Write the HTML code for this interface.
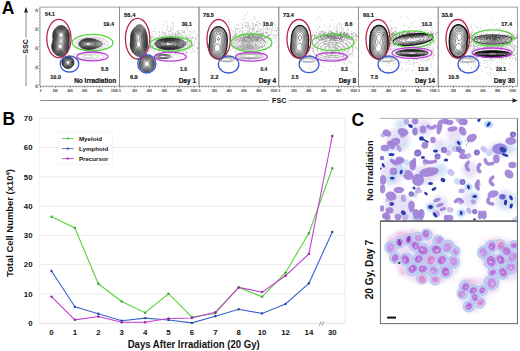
<!DOCTYPE html>
<html><head><meta charset="utf-8"><style>
html,body{margin:0;padding:0;background:#fff;width:520px;height:351px;overflow:hidden}
svg{display:block}
text{font-family:"Liberation Sans",sans-serif;font-weight:bold;fill:#111}
.tk{font-size:7.8px}
.lg{font-size:6.2px}
.ax{font-size:9.5px}
.ax9{font-size:9px}
.axs{font-size:7.1px}
.tiny{font-size:3px;fill:#222}
.lab{font-size:17.5px;fill:#000}
.pv{font-size:6.2px;stroke:#111;stroke-width:0.15}
.dl{font-size:7.6px;stroke:#111;stroke-width:0.2}
</style></head><body>
<svg width="520" height="351" viewBox="0 0 520 351">
<text x="1.8" y="13.7" class="lab">A</text>
<text x="2.4" y="124.5" class="lab">B</text>
<text x="351.6" y="125.7" class="lab">C</text>
<path d="M61.8,37.4 L60.8,37.5 L60.0,37.2 L59.5,36.7 L59.2,36.1 L59.0,35.4 L59.0,34.6 L59.3,33.9 L59.8,33.3 L60.5,32.9 L61.2,32.8 L62.0,33.1 L62.5,33.5 L62.9,34.1 L63.1,34.9 L63.0,35.8 L62.8,36.4 L62.2,37.1 L61.8,37.4Z M60.2,48.9 L59.5,48.7 L58.8,48.4 L58.4,47.9 L58.1,47.1 L58.1,46.1 L58.3,45.4 L58.8,44.7 L59.2,44.3 L60.0,44.0 L61.0,44.1 L61.5,44.4 L62.0,45.0 L62.2,45.7 L62.3,46.6 L62.2,47.4 L61.8,48.1 L61.2,48.5 L60.5,48.8Z M61.5,38.9 L60.6,38.9 L60.0,38.6 L59.4,38.1 L59.0,37.6 L58.5,36.9 L58.2,36.1 L58.1,35.4 L58.2,34.4 L58.4,33.6 L58.8,33.1 L59.2,32.6 L60.0,32.1 L60.8,31.9 L61.8,32.0 L62.5,32.3 L63.0,32.7 L63.5,33.4 L63.8,34.0 L63.9,34.9 L63.9,35.9 L63.7,36.6 L63.3,37.4 L62.9,37.9 L62.4,38.4 L61.8,38.8Z M61.0,49.7 L60.0,49.8 L59.1,49.6 L58.5,49.3 L58.0,48.8 L57.5,48.1 L57.2,47.4 L57.1,46.6 L57.2,45.7 L57.5,45.0 L57.9,44.4 L58.2,43.8 L58.8,43.4 L59.5,42.9 L60.2,42.6 L60.9,42.6 L61.5,42.9 L62.1,43.4 L62.5,43.9 L62.9,44.6 L63.1,45.4 L63.2,46.4 L63.1,47.4 L62.8,48.1 L62.5,48.6 L62.0,49.1 L61.2,49.6Z M61.2,50.4 L60.2,50.5 L59.2,50.4 L58.5,50.1 L58.0,49.8 L57.5,49.3 L57.0,48.6 L56.7,48.1 L56.5,47.1 L56.5,46.4 L56.6,45.6 L56.8,44.9 L57.2,44.1 L57.5,43.6 L58.0,42.9 L58.5,42.4 L59.0,41.9 L59.4,41.4 L59.8,40.7 L59.7,40.1 L59.2,39.4 L58.9,38.9 L58.5,38.3 L58.1,37.6 L57.8,36.9 L57.6,36.1 L57.5,35.4 L57.5,34.5 L57.7,33.6 L58.0,33.0 L58.5,32.4 L59.0,31.9 L59.5,31.6 L60.2,31.3 L61.2,31.2 L62.0,31.4 L62.8,31.7 L63.3,32.1 L63.8,32.6 L64.2,33.4 L64.5,34.1 L64.6,34.9 L64.6,35.9 L64.4,36.6 L64.1,37.4 L63.8,38.1 L63.4,38.6 L63.0,39.2 L62.5,39.9 L62.2,40.4 L62.2,41.4 L62.5,42.0 L62.9,42.6 L63.2,43.4 L63.5,43.9 L63.8,44.7 L63.9,45.6 L63.9,46.6 L63.8,47.6 L63.5,48.3 L63.2,48.9 L62.8,49.4 L62.2,49.9 L61.5,50.3Z M60.8,51.1 L59.8,51.1 L59.0,51.0 L58.2,50.7 L57.7,50.4 L57.2,49.9 L56.8,49.3 L56.3,48.6 L56.1,47.9 L55.9,47.1 L55.9,46.1 L56.1,45.4 L56.3,44.6 L56.6,43.9 L57.0,43.2 L57.4,42.6 L57.8,42.1 L58.2,41.4 L58.4,40.6 L58.3,39.6 L58.0,38.9 L57.7,38.4 L57.4,37.6 L57.2,36.9 L57.0,36.1 L56.9,35.1 L57.0,34.2 L57.2,33.4 L57.5,32.8 L58.0,32.1 L58.4,31.6 L59.0,31.2 L59.7,30.9 L60.5,30.6 L61.1,30.6 L62.0,30.7 L62.8,31.0 L63.3,31.4 L63.9,31.9 L64.3,32.4 L64.7,33.1 L65.0,33.9 L65.1,34.6 L65.2,35.6 L65.0,36.6 L64.8,37.4 L64.5,38.1 L64.2,38.7 L63.9,39.4 L63.6,40.1 L63.5,40.9 L63.5,41.6 L63.8,42.4 L64.0,43.2 L64.2,44.0 L64.4,44.9 L64.5,45.6 L64.5,46.6 L64.4,47.4 L64.2,48.1 L63.9,48.9 L63.5,49.4 L63.0,50.0 L62.5,50.4 L61.8,50.8 L61.0,51.1Z M61.0,51.6 L60.0,51.7 L59.2,51.6 L58.4,51.4 L57.8,51.0 L57.2,50.6 L56.7,50.1 L56.2,49.5 L55.9,48.9 L55.6,48.1 L55.4,47.4 L55.4,46.4 L55.5,45.5 L55.7,44.6 L56.0,43.9 L56.3,43.4 L56.7,42.6 L57.0,42.1 L57.4,41.4 L57.6,40.6 L57.5,39.6 L57.3,38.9 L57.0,38.1 L56.8,37.4 L56.6,36.6 L56.5,35.9 L56.4,34.9 L56.5,34.1 L56.8,33.2 L57.0,32.6 L57.5,31.9 L58.0,31.4 L58.5,30.9 L59.0,30.6 L59.8,30.3 L60.5,30.1 L61.5,30.1 L62.2,30.2 L63.0,30.5 L63.5,30.9 L64.1,31.4 L64.5,31.9 L65.0,32.6 L65.3,33.1 L65.5,33.9 L65.6,34.9 L65.6,35.9 L65.5,36.7 L65.3,37.6 L65.0,38.4 L64.8,39.1 L64.5,39.9 L64.4,40.6 L64.4,41.6 L64.5,42.4 L64.7,43.4 L64.9,44.1 L65.0,44.9 L65.1,45.9 L65.0,46.9 L64.9,47.6 L64.7,48.4 L64.3,49.1 L64.0,49.7 L63.5,50.3 L63.0,50.7 L62.5,51.1 L61.8,51.4 L61.0,51.6Z M61.2,52.1 L60.2,52.2 L59.2,52.1 L58.5,51.9 L57.8,51.6 L57.2,51.2 L56.8,50.8 L56.2,50.3 L55.8,49.6 L55.5,49.1 L55.2,48.4 L55.0,47.4 L54.9,46.6 L55.0,45.8 L55.2,44.9 L55.4,44.1 L55.7,43.4 L56.0,42.8 L56.4,42.1 L56.7,41.4 L56.9,40.6 L56.9,39.6 L56.7,38.9 L56.5,38.1 L56.2,37.3 L56.1,36.4 L56.0,35.6 L56.0,34.6 L56.1,33.9 L56.3,33.1 L56.7,32.4 L57.0,31.8 L57.5,31.2 L58.0,30.7 L58.5,30.3 L59.2,29.9 L60.0,29.7 L60.8,29.6 L61.5,29.6 L62.5,29.8 L63.2,30.1 L63.8,30.4 L64.2,30.9 L64.8,31.4 L65.2,32.1 L65.5,32.6 L65.8,33.4 L66.0,34.1 L66.1,35.1 L66.1,36.1 L66.0,36.9 L65.8,37.8 L65.5,38.6 L65.3,39.4 L65.1,40.1 L65.0,41.1 L65.1,42.1 L65.2,43.1 L65.4,43.9 L65.5,44.8 L65.6,45.6 L65.5,46.6 L65.4,47.4 L65.2,48.1 L65.0,48.9 L64.6,49.6 L64.2,50.1 L63.8,50.7 L63.2,51.2 L62.6,51.6 L62.0,51.9 L61.2,52.1Z M61.0,52.6 L60.0,52.7 L59.2,52.6 L58.4,52.4 L57.8,52.1 L57.0,51.6 L56.5,51.2 L56.0,50.7 L55.6,50.1 L55.2,49.6 L54.9,48.9 L54.7,48.1 L54.5,47.1 L54.5,46.1 L54.7,45.1 L54.9,44.4 L55.2,43.6 L55.5,42.9 L55.8,42.3 L56.0,41.6 L56.3,40.9 L56.3,39.9 L56.2,39.1 L56.0,38.1 L55.8,37.4 L55.7,36.6 L55.6,35.6 L55.6,34.6 L55.8,33.6 L56.0,32.9 L56.2,32.2 L56.6,31.6 L57.0,31.1 L57.5,30.6 L58.1,30.1 L58.8,29.7 L59.5,29.4 L60.2,29.2 L61.2,29.1 L62.2,29.3 L63.0,29.5 L63.6,29.9 L64.2,30.3 L64.8,30.7 L65.2,31.3 L65.6,31.9 L66.0,32.6 L66.2,33.4 L66.4,34.1 L66.5,34.9 L66.5,35.9 L66.4,36.6 L66.3,37.6 L66.1,38.4 L65.9,39.1 L65.7,39.9 L65.6,40.9 L65.6,41.9 L65.7,42.9 L65.8,43.6 L66.0,44.6 L66.0,45.5 L66.0,46.1 L65.9,47.1 L65.8,48.0 L65.5,48.8 L65.2,49.4 L64.8,50.1 L64.5,50.6 L64.0,51.1 L63.4,51.6 L62.8,52.1 L62.1,52.4 L61.2,52.6Z M60.8,53.1 L59.8,53.1 L59.0,53.0 L58.2,52.8 L57.5,52.4 L57.0,52.1 L56.4,51.6 L55.8,51.1 L55.4,50.6 L55.0,49.9 L54.7,49.4 L54.4,48.6 L54.2,47.8 L54.1,46.9 L54.2,45.9 L54.3,45.1 L54.5,44.3 L54.8,43.5 L55.0,42.9 L55.3,42.1 L55.6,41.4 L55.8,40.6 L55.8,39.6 L55.7,38.9 L55.5,37.9 L55.4,37.1 L55.2,36.3 L55.2,35.4 L55.2,34.4 L55.4,33.6 L55.6,32.9 L55.9,32.1 L56.2,31.5 L56.7,30.9 L57.1,30.4 L57.7,29.9 L58.2,29.5 L59.0,29.1 L59.8,28.9 L60.5,28.7 L61.5,28.7 L62.3,28.9 L63.1,29.1 L63.8,29.4 L64.4,29.9 L64.9,30.4 L65.4,30.9 L65.8,31.4 L66.2,32.1 L66.5,32.9 L66.7,33.6 L66.8,34.4 L66.9,35.4 L66.9,36.4 L66.8,37.2 L66.6,38.1 L66.4,38.9 L66.3,39.9 L66.2,40.6 L66.2,41.6 L66.2,42.6 L66.3,43.4 L66.4,44.4 L66.4,45.4 L66.4,46.4 L66.3,47.4 L66.1,48.1 L65.9,48.9 L65.6,49.6 L65.2,50.2 L64.8,50.9 L64.4,51.4 L63.8,51.9 L63.2,52.3 L62.7,52.6 L62.0,52.9 L61.0,53.1Z M61.8,53.4 L60.8,53.6 L59.8,53.5 L58.8,53.4 L58.0,53.1 L57.5,52.9 L56.8,52.4 L56.2,52.0 L55.8,51.5 L55.2,51.0 L54.8,50.4 L54.5,49.8 L54.2,49.1 L54.0,48.4 L53.8,47.4 L53.8,46.4 L53.9,45.4 L54.0,44.6 L54.2,43.8 L54.5,43.1 L54.8,42.4 L55.1,41.6 L55.3,40.9 L55.4,39.9 L55.3,38.9 L55.2,38.1 L55.0,37.2 L54.9,36.4 L54.8,35.4 L54.9,34.4 L55.0,33.6 L55.2,32.7 L55.5,32.1 L55.9,31.4 L56.2,30.8 L56.8,30.2 L57.2,29.7 L57.8,29.3 L58.5,28.9 L59.2,28.6 L60.0,28.4 L60.8,28.3 L61.8,28.3 L62.5,28.5 L63.2,28.7 L64.0,29.1 L64.5,29.5 L65.0,29.9 L65.5,30.4 L66.0,31.1 L66.3,31.6 L66.7,32.4 L67.0,33.1 L67.1,33.9 L67.2,34.8 L67.3,35.6 L67.2,36.4 L67.1,37.4 L67.0,38.1 L66.8,39.1 L66.7,39.9 L66.6,40.9 L66.6,41.9 L66.7,42.9 L66.8,43.7 L66.8,44.6 L66.8,45.6 L66.8,46.6 L66.7,47.4 L66.5,48.2 L66.2,49.0 L66.0,49.6 L65.6,50.4 L65.2,50.9 L64.8,51.5 L64.2,52.0 L63.8,52.4 L63.1,52.9 L62.5,53.1 L61.8,53.4Z M61.5,53.9 L60.5,54.0 L59.5,53.9 L58.8,53.8 L58.0,53.5 L57.2,53.2 L56.8,52.8 L56.1,52.4 L55.5,51.9 L55.1,51.4 L54.7,50.9 L54.3,50.1 L54.0,49.5 L53.8,48.8 L53.5,47.9 L53.5,47.1 L53.4,46.1 L53.5,45.4 L53.7,44.4 L53.9,43.6 L54.2,42.9 L54.5,42.1 L54.7,41.4 L54.9,40.6 L55.0,39.6 L54.9,38.6 L54.7,37.9 L54.6,36.9 L54.5,35.9 L54.5,35.1 L54.5,34.4 L54.7,33.4 L54.9,32.6 L55.2,31.9 L55.5,31.3 L56.0,30.6 L56.4,30.1 L56.9,29.6 L57.5,29.1 L58.0,28.7 L58.8,28.4 L59.5,28.1 L60.2,27.9 L61.2,27.9 L62.2,28.0 L63.0,28.2 L63.8,28.5 L64.3,28.9 L65.0,29.4 L65.5,29.9 L65.9,30.4 L66.3,30.9 L66.7,31.6 L67.0,32.2 L67.2,32.9 L67.5,33.9 L67.6,34.6 L67.6,35.6 L67.6,36.6 L67.5,37.4 L67.4,38.4 L67.2,39.1 L67.1,40.1 L67.1,41.1 L67.1,42.1 L67.1,43.1 L67.2,44.1 L67.2,45.1 L67.2,46.1 L67.1,47.1 L67.0,47.9 L66.8,48.7 L66.5,49.4 L66.2,50.1 L65.8,50.9 L65.4,51.4 L65.0,51.9 L64.5,52.4 L63.9,52.9 L63.2,53.3 L62.5,53.6 L61.8,53.8Z M61.2,54.4 L60.2,54.4 L59.5,54.3 L58.5,54.1 L57.9,53.9 L57.2,53.6 L56.5,53.1 L56.0,52.7 L55.5,52.3 L55.0,51.8 L54.5,51.1 L54.2,50.6 L53.8,49.9 L53.5,49.1 L53.3,48.4 L53.2,47.6 L53.1,46.6 L53.2,45.6 L53.3,44.9 L53.5,43.9 L53.8,43.1 L54.0,42.4 L54.2,41.6 L54.5,40.9 L54.6,40.1 L54.5,39.1 L54.5,38.4 L54.3,37.4 L54.2,36.6 L54.2,35.6 L54.2,34.6 L54.3,33.9 L54.5,32.9 L54.8,32.1 L55.0,31.6 L55.4,30.9 L55.8,30.3 L56.2,29.7 L56.8,29.2 L57.2,28.8 L57.9,28.4 L58.5,28.1 L59.2,27.8 L60.0,27.6 L61.0,27.5 L62.0,27.5 L62.8,27.7 L63.5,28.0 L64.2,28.4 L64.8,28.7 L65.2,29.1 L65.8,29.6 L66.2,30.2 L66.7,30.9 L67.0,31.4 L67.3,32.1 L67.6,32.9 L67.8,33.6 L67.9,34.6 L68.0,35.6 L67.9,36.6 L67.8,37.6 L67.7,38.4 L67.6,39.4 L67.5,40.4 L67.5,41.2 L67.5,42.0 L67.5,42.9 L67.6,43.9 L67.6,44.9 L67.6,45.9 L67.5,46.7 L67.4,47.6 L67.2,48.4 L67.0,49.1 L66.7,49.9 L66.3,50.6 L66.0,51.2 L65.5,51.8 L65.1,52.4 L64.5,52.9 L64.0,53.3 L63.5,53.6 L62.8,54.0 L62.0,54.2 L61.2,54.4Z M62.0,54.6 L61.0,54.8 L60.0,54.8 L59.0,54.6 L58.2,54.4 L57.5,54.1 L57.0,53.8 L56.3,53.4 L55.8,53.0 L55.2,52.5 L54.8,52.0 L54.3,51.4 L54.0,50.9 L53.6,50.1 L53.3,49.4 L53.0,48.6 L52.9,47.9 L52.8,46.9 L52.8,45.9 L53.0,44.9 L53.1,44.1 L53.3,43.4 L53.6,42.6 L53.8,41.9 L54.0,41.1 L54.2,40.1 L54.2,39.1 L54.1,38.1 L54.0,37.4 L53.9,36.4 L53.8,35.4 L53.9,34.4 L54.0,33.6 L54.2,32.6 L54.5,31.9 L54.8,31.4 L55.2,30.6 L55.5,30.1 L56.0,29.5 L56.5,29.0 L57.0,28.6 L57.7,28.1 L58.2,27.8 L59.0,27.4 L59.8,27.2 L60.6,27.1 L61.5,27.1 L62.2,27.2 L63.0,27.4 L63.8,27.7 L64.5,28.1 L65.0,28.5 L65.5,28.9 L66.0,29.4 L66.5,30.0 L66.9,30.6 L67.2,31.2 L67.6,31.9 L67.8,32.6 L68.0,33.4 L68.2,34.4 L68.3,35.1 L68.3,36.1 L68.2,36.9 L68.2,37.9 L68.0,38.9 L68.0,39.6 L67.9,40.6 L67.9,41.6 L67.9,42.6 L67.9,43.6 L67.9,44.6 L67.9,45.6 L67.9,46.6 L67.8,47.4 L67.6,48.4 L67.4,49.1 L67.1,49.9 L66.8,50.6 L66.5,51.1 L66.0,51.8 L65.6,52.4 L65.1,52.9 L64.5,53.4 L64.0,53.7 L63.4,54.1 L62.8,54.4 L62.0,54.6Z M61.8,55.1 L60.8,55.2 L59.8,55.2 L59.0,55.0 L58.2,54.8 L57.5,54.5 L56.8,54.1 L56.2,53.8 L55.7,53.4 L55.1,52.9 L54.7,52.4 L54.2,51.8 L53.8,51.1 L53.5,50.6 L53.1,49.9 L52.9,49.1 L52.7,48.4 L52.5,47.4 L52.5,46.6 L52.5,45.9 L52.6,44.9 L52.8,44.1 L53.0,43.4 L53.2,42.6 L53.5,41.7 L53.7,40.9 L53.8,40.1 L53.8,39.1 L53.8,38.1 L53.7,37.4 L53.6,36.4 L53.5,35.4 L53.6,34.4 L53.8,33.4 L53.9,32.6 L54.2,31.9 L54.5,31.2 L54.8,30.6 L55.2,29.9 L55.7,29.4 L56.2,28.9 L56.7,28.4 L57.2,28.0 L57.8,27.6 L58.5,27.3 L59.2,27.0 L60.0,26.8 L61.0,26.7 L62.0,26.7 L62.8,26.9 L63.5,27.2 L64.2,27.6 L64.8,27.9 L65.4,28.4 L65.9,28.9 L66.4,29.4 L66.8,29.9 L67.2,30.6 L67.6,31.1 L67.9,31.9 L68.2,32.6 L68.3,33.4 L68.5,34.3 L68.6,35.1 L68.6,36.1 L68.5,37.1 L68.5,37.9 L68.4,38.9 L68.3,39.9 L68.3,40.9 L68.3,41.9 L68.3,42.9 L68.3,43.9 L68.3,44.9 L68.2,45.7 L68.2,46.6 L68.1,47.6 L67.9,48.4 L67.7,49.1 L67.4,49.9 L67.1,50.6 L66.8,51.3 L66.4,51.9 L66.0,52.4 L65.5,52.9 L65.0,53.4 L64.5,53.9 L63.8,54.4 L63.2,54.6 L62.5,54.9 L61.8,55.1Z M61.2,55.6 L60.2,55.6 L59.5,55.5 L58.8,55.3 L58.0,55.1 L57.2,54.7 L56.6,54.4 L56.0,54.0 L55.5,53.6 L55.0,53.1 L54.5,52.6 L54.0,52.0 L53.6,51.4 L53.2,50.8 L52.9,50.1 L52.6,49.4 L52.4,48.6 L52.3,47.6 L52.2,46.9 L52.2,45.9 L52.3,45.1 L52.5,44.1 L52.7,43.4 L52.9,42.6 L53.1,41.9 L53.3,41.1 L53.5,40.1 L53.5,39.4 L53.5,38.6 L53.4,37.6 L53.3,36.6 L53.3,35.6 L53.3,34.6 L53.4,33.6 L53.6,32.9 L53.8,32.1 L54.1,31.4 L54.5,30.6 L54.8,30.1 L55.2,29.4 L55.8,28.9 L56.2,28.4 L56.8,27.9 L57.2,27.6 L58.0,27.1 L58.5,26.9 L59.2,26.6 L60.2,26.4 L61.0,26.3 L62.0,26.3 L62.8,26.5 L63.5,26.8 L64.2,27.1 L64.8,27.4 L65.3,27.9 L65.9,28.4 L66.4,28.9 L66.8,29.4 L67.2,30.0 L67.6,30.6 L68.0,31.4 L68.2,32.0 L68.5,32.8 L68.7,33.6 L68.8,34.4 L68.9,35.4 L68.9,36.4 L68.8,37.4 L68.8,38.4 L68.7,39.1 L68.7,40.1 L68.6,41.1 L68.6,42.1 L68.6,43.1 L68.6,44.1 L68.6,45.1 L68.6,46.1 L68.5,46.9 L68.3,47.9 L68.2,48.6 L67.9,49.4 L67.7,50.1 L67.3,50.9 L67.0,51.5 L66.6,52.1 L66.2,52.6 L65.8,53.2 L65.2,53.7 L64.8,54.1 L64.1,54.6 L63.5,55.0 L62.8,55.3 L62.0,55.5 L61.2,55.6Z M62.2,55.9 L61.2,56.1 L60.2,56.1 L59.2,55.9 L58.5,55.7 L57.8,55.4 L57.2,55.1 L56.5,54.7 L56.0,54.4 L55.3,53.9 L54.8,53.4 L54.3,52.9 L53.9,52.4 L53.5,51.8 L53.1,51.1 L52.8,50.4 L52.5,49.8 L52.2,49.0 L52.0,48.1 L52.0,47.4 L51.9,46.4 L52.0,45.4 L52.1,44.6 L52.3,43.9 L52.5,43.0 L52.7,42.1 L52.9,41.4 L53.1,40.6 L53.2,39.6 L53.2,38.6 L53.1,37.6 L53.0,36.6 L53.0,35.9 L53.0,34.9 L53.1,34.1 L53.2,33.1 L53.4,32.4 L53.7,31.6 L54.0,30.9 L54.3,30.4 L54.8,29.6 L55.1,29.1 L55.6,28.6 L56.1,28.1 L56.6,27.6 L57.2,27.1 L57.8,26.8 L58.5,26.4 L59.2,26.2 L60.0,26.0 L61.0,25.9 L62.0,25.9 L62.8,26.1 L63.5,26.4 L64.2,26.7 L64.9,27.1 L65.5,27.6 L66.0,28.0 L66.5,28.5 L67.0,29.1 L67.4,29.6 L67.8,30.2 L68.1,30.9 L68.4,31.6 L68.7,32.4 L68.9,33.1 L69.0,33.9 L69.1,34.9 L69.2,35.9 L69.2,36.9 L69.1,37.9 L69.1,38.9 L69.0,39.9 L69.0,40.6 L69.0,41.6 L69.0,42.6 L69.0,43.6 L68.9,44.6 L68.9,45.6 L68.8,46.6 L68.7,47.4 L68.5,48.4 L68.3,49.1 L68.1,49.9 L67.8,50.6 L67.5,51.2 L67.2,51.9 L66.8,52.5 L66.3,53.1 L65.9,53.6 L65.4,54.1 L64.8,54.6 L64.2,55.0 L63.6,55.4 L63.0,55.6 L62.2,55.9Z M62.0,56.4 L61.0,56.5 L60.0,56.5 L59.2,56.3 L58.5,56.1 L57.8,55.8 L57.0,55.4 L56.5,55.1 L55.8,54.6 L55.2,54.2 L54.8,53.7 L54.2,53.2 L53.8,52.6 L53.4,52.1 L53.0,51.5 L52.6,50.9 L52.3,50.1 L52.1,49.4 L51.9,48.6 L51.7,47.9 L51.7,46.9 L51.7,45.9 L51.8,45.1 L51.9,44.1 L52.1,43.4 L52.3,42.6 L52.5,41.9 L52.7,40.9 L52.8,40.1 L52.9,39.1 L52.8,38.1 L52.8,37.1 L52.7,36.4 L52.7,35.4 L52.8,34.5 L52.9,33.6 L53.0,32.9 L53.2,32.0 L53.5,31.3 L53.8,30.6 L54.2,29.9 L54.6,29.4 L55.0,28.8 L55.5,28.2 L56.0,27.7 L56.5,27.3 L57.1,26.9 L57.8,26.4 L58.4,26.1 L59.0,25.8 L59.8,25.6 L60.8,25.4 L61.8,25.5 L62.5,25.6 L63.3,25.9 L64.0,26.2 L64.8,26.6 L65.2,26.9 L65.8,27.4 L66.3,27.9 L66.8,28.4 L67.2,28.9 L67.7,29.6 L68.0,30.1 L68.4,30.9 L68.7,31.6 L69.0,32.4 L69.2,33.1 L69.3,33.9 L69.4,34.9 L69.5,35.9 L69.5,36.9 L69.4,37.9 L69.4,38.9 L69.3,39.9 L69.3,40.9 L69.3,41.9 L69.3,42.9 L69.3,43.9 L69.2,44.7 L69.2,45.6 L69.1,46.6 L69.0,47.5 L68.8,48.4 L68.7,49.1 L68.4,49.9 L68.1,50.6 L67.8,51.4 L67.5,51.9 L67.1,52.6 L66.7,53.1 L66.2,53.7 L65.8,54.2 L65.2,54.7 L64.8,55.1 L64.0,55.6 L63.5,55.9 L62.8,56.2 L62.0,56.4Z" fill="none" stroke="#141414" stroke-width="0.5"/>
<path d="M89.5,45.4 L88.5,45.5 L87.5,45.4 L86.8,45.1 L86.2,44.7 L85.9,44.1 L86.2,43.4 L86.8,42.9 L87.5,42.6 L88.2,42.5 L89.2,42.6 L90.0,42.8 L90.7,43.1 L91.2,43.6 L91.2,44.1 L90.8,44.9 L90.2,45.2 L89.5,45.4Z M90.2,45.9 L89.2,46.1 L88.2,46.1 L87.2,46.0 L86.5,45.7 L85.8,45.4 L85.2,45.0 L84.9,44.4 L85.0,43.4 L85.4,42.9 L86.0,42.5 L86.8,42.2 L87.5,42.0 L88.5,41.9 L89.5,42.0 L90.2,42.1 L91.0,42.4 L91.8,42.8 L92.2,43.4 L92.4,44.1 L92.1,44.9 L91.5,45.3 L91.0,45.6 L90.2,45.9Z M90.2,46.4 L89.2,46.5 L88.2,46.6 L87.2,46.5 L86.5,46.3 L85.8,46.0 L85.0,45.6 L84.5,45.2 L84.1,44.6 L84.0,43.9 L84.2,43.1 L84.7,42.6 L85.2,42.2 L86.0,41.9 L86.8,41.6 L87.5,41.5 L88.5,41.4 L89.5,41.5 L90.2,41.6 L91.1,41.9 L91.8,42.1 L92.5,42.6 L93.0,43.1 L93.3,43.6 L93.2,44.4 L92.8,45.1 L92.3,45.6 L91.8,45.9 L91.0,46.2 L90.2,46.4Z M90.0,46.9 L89.0,46.9 L88.0,46.9 L87.2,46.9 L86.2,46.7 L85.5,46.4 L84.8,46.1 L84.2,45.7 L83.8,45.2 L83.4,44.6 L83.3,43.6 L83.7,42.9 L84.2,42.4 L84.8,41.9 L85.5,41.6 L86.2,41.4 L87.0,41.2 L87.8,41.1 L88.8,41.0 L89.6,41.1 L90.5,41.2 L91.2,41.4 L92.0,41.7 L92.8,42.1 L93.2,42.5 L93.8,43.0 L94.0,43.6 L94.0,44.5 L93.7,45.1 L93.2,45.6 L92.5,46.1 L91.9,46.4 L91.2,46.6 L90.2,46.8Z M90.5,47.1 L89.5,47.3 L88.5,47.3 L87.5,47.3 L86.5,47.1 L85.8,46.9 L85.0,46.6 L84.4,46.4 L83.8,45.9 L83.2,45.5 L82.8,44.9 L82.6,44.1 L82.8,43.3 L83.2,42.6 L83.7,42.1 L84.2,41.7 L85.0,41.4 L85.7,41.1 L86.5,40.9 L87.2,40.8 L88.2,40.7 L89.2,40.7 L90.2,40.8 L91.0,41.0 L91.8,41.2 L92.5,41.5 L93.2,41.8 L93.8,42.2 L94.2,42.7 L94.7,43.4 L94.8,44.1 L94.6,44.9 L94.2,45.4 L93.7,45.9 L93.0,46.3 L92.4,46.6 L91.7,46.9 L90.8,47.1Z M89.2,47.6 L88.2,47.6 L87.5,47.6 L86.5,47.4 L85.8,47.3 L85.0,47.0 L84.2,46.7 L83.6,46.4 L83.0,45.9 L82.5,45.4 L82.2,44.9 L82.1,43.9 L82.3,43.1 L82.8,42.4 L83.2,41.9 L83.8,41.6 L84.5,41.2 L85.2,40.9 L86.0,40.7 L86.8,40.5 L87.8,40.4 L88.8,40.4 L89.8,40.4 L90.8,40.6 L91.5,40.7 L92.2,41.0 L93.0,41.3 L93.7,41.6 L94.2,42.0 L94.8,42.4 L95.2,43.1 L95.5,43.8 L95.5,44.4 L95.2,45.1 L94.7,45.6 L94.1,46.1 L93.5,46.5 L92.8,46.8 L92.1,47.1 L91.2,47.3 L90.5,47.5 L89.5,47.6Z M89.8,47.9 L88.8,47.9 L87.8,47.9 L87.0,47.8 L86.0,47.6 L85.2,47.4 L84.5,47.2 L83.8,46.9 L83.2,46.6 L82.6,46.1 L82.2,45.6 L81.8,44.9 L81.5,44.1 L81.7,43.1 L82.0,42.6 L82.5,42.0 L83.0,41.6 L83.8,41.2 L84.4,40.9 L85.1,40.6 L86.0,40.4 L86.8,40.2 L87.8,40.1 L88.5,40.1 L89.2,40.1 L90.2,40.2 L91.2,40.4 L92.0,40.5 L92.8,40.8 L93.5,41.1 L94.0,41.4 L94.8,41.8 L95.2,42.2 L95.8,42.8 L96.1,43.4 L96.2,44.4 L95.9,45.1 L95.5,45.6 L94.9,46.1 L94.2,46.5 L93.6,46.9 L93.0,47.1 L92.2,47.4 L91.4,47.6 L90.5,47.8 L89.8,47.9Z M90.0,48.1 L89.0,48.2 L88.0,48.2 L87.1,48.1 L86.2,48.0 L85.5,47.8 L84.8,47.6 L84.0,47.3 L83.2,46.9 L82.7,46.6 L82.1,46.1 L81.6,45.6 L81.2,44.9 L81.1,44.1 L81.2,43.1 L81.5,42.6 L82.0,42.0 L82.5,41.5 L83.2,41.1 L83.8,40.8 L84.5,40.5 L85.2,40.2 L86.0,40.1 L87.0,39.9 L87.8,39.8 L88.8,39.8 L89.5,39.9 L90.5,39.9 L91.4,40.1 L92.2,40.3 L93.0,40.5 L93.8,40.8 L94.3,41.1 L95.0,41.5 L95.5,41.9 L96.1,42.4 L96.5,42.9 L96.9,43.6 L96.8,44.6 L96.5,45.2 L96.0,45.8 L95.5,46.2 L94.9,46.6 L94.2,46.9 L93.5,47.3 L92.8,47.5 L92.0,47.8 L91.2,47.9 L90.2,48.1Z M90.0,48.4 L89.0,48.4 L88.0,48.4 L87.1,48.4 L86.2,48.2 L85.5,48.1 L84.6,47.9 L83.9,47.6 L83.2,47.3 L82.5,46.9 L82.0,46.5 L81.5,46.0 L81.0,45.4 L80.8,44.8 L80.6,43.9 L80.8,43.1 L81.2,42.4 L81.6,41.9 L82.2,41.4 L82.8,41.0 L83.5,40.6 L84.1,40.4 L84.8,40.1 L85.8,39.9 L86.5,39.7 L87.5,39.6 L88.2,39.6 L89.2,39.6 L90.0,39.6 L91.0,39.7 L91.8,39.9 L92.6,40.1 L93.4,40.4 L94.0,40.6 L94.8,40.9 L95.5,41.3 L96.0,41.6 L96.6,42.1 L97.1,42.6 L97.5,43.2 L97.7,44.1 L97.5,44.9 L97.0,45.5 L96.5,46.0 L96.0,46.4 L95.2,46.8 L94.7,47.1 L94.0,47.4 L93.2,47.7 L92.5,47.9 L91.8,48.1 L90.8,48.3 L90.0,48.4Z M90.0,48.6 L89.0,48.7 L88.0,48.7 L87.1,48.6 L86.2,48.5 L85.5,48.3 L84.6,48.1 L83.8,47.9 L83.2,47.6 L82.5,47.2 L81.9,46.9 L81.3,46.4 L80.9,45.9 L80.5,45.3 L80.2,44.6 L80.2,43.6 L80.4,42.9 L80.8,42.3 L81.2,41.7 L81.8,41.3 L82.4,40.9 L83.0,40.5 L83.8,40.2 L84.5,39.9 L85.2,39.7 L86.0,39.6 L87.0,39.4 L87.8,39.4 L88.8,39.3 L89.5,39.4 L90.5,39.4 L91.5,39.6 L92.2,39.7 L93.0,39.9 L93.8,40.2 L94.5,40.5 L95.2,40.8 L95.9,41.1 L96.5,41.5 L97.1,41.9 L97.7,42.4 L98.1,42.9 L98.5,43.5 L98.6,44.4 L98.2,45.0 L97.8,45.6 L97.2,46.0 L96.8,46.4 L96.0,46.8 L95.5,47.1 L94.8,47.4 L94.0,47.7 L93.2,48.0 L92.5,48.2 L91.8,48.4 L90.8,48.5 L90.0,48.6Z M89.8,48.9 L88.8,48.9 L87.8,48.9 L87.0,48.8 L86.0,48.7 L85.2,48.5 L84.5,48.3 L83.8,48.1 L83.0,47.8 L82.2,47.4 L81.8,47.1 L81.1,46.6 L80.6,46.1 L80.2,45.6 L79.9,44.9 L79.8,43.9 L80.0,42.9 L80.3,42.4 L80.8,41.8 L81.2,41.3 L81.8,40.9 L82.5,40.5 L83.2,40.1 L83.9,39.9 L84.7,39.6 L85.5,39.4 L86.2,39.3 L87.2,39.2 L88.2,39.1 L89.0,39.1 L89.8,39.1 L90.8,39.2 L91.6,39.4 L92.5,39.5 L93.2,39.7 L94.0,40.0 L94.8,40.2 L95.5,40.5 L96.2,40.9 L96.8,41.2 L97.5,41.6 L98.0,41.9 L98.6,42.4 L99.1,42.9 L99.5,43.5 L99.6,44.4 L99.2,45.0 L98.8,45.5 L98.2,45.9 L97.6,46.4 L97.0,46.7 L96.2,47.1 L95.7,47.4 L95.0,47.7 L94.2,48.0 L93.5,48.2 L92.8,48.4 L91.8,48.6 L91.0,48.7 L90.0,48.8Z M89.5,49.1 L88.5,49.1 L87.8,49.1 L86.8,49.0 L85.8,48.9 L85.0,48.7 L84.2,48.5 L83.5,48.3 L82.8,48.0 L82.0,47.6 L81.5,47.3 L80.9,46.9 L80.4,46.4 L80.0,45.8 L79.6,45.1 L79.4,44.4 L79.5,43.4 L79.7,42.6 L80.0,42.1 L80.5,41.6 L81.0,41.1 L81.7,40.6 L82.2,40.3 L83.0,39.9 L83.8,39.6 L84.5,39.4 L85.2,39.2 L86.0,39.1 L87.0,38.9 L88.0,38.9 L89.0,38.9 L90.0,38.9 L91.0,39.0 L91.8,39.1 L92.7,39.4 L93.5,39.5 L94.2,39.8 L95.0,40.0 L95.8,40.3 L96.4,40.6 L97.0,40.9 L97.8,41.2 L98.5,41.6 L99.0,41.9 L99.6,42.4 L100.2,42.9 L100.5,43.4 L100.6,44.4 L100.2,45.1 L99.8,45.5 L99.2,45.9 L98.6,46.4 L98.0,46.6 L97.2,47.0 L96.5,47.4 L96.0,47.6 L95.2,47.9 L94.5,48.2 L93.8,48.4 L92.9,48.6 L92.0,48.8 L91.2,48.9 L90.2,49.1 L89.5,49.1Z M91.5,49.1 L90.5,49.3 L89.5,49.3 L88.5,49.3 L87.5,49.3 L86.5,49.2 L85.8,49.1 L84.8,48.9 L84.0,48.7 L83.2,48.4 L82.5,48.1 L82.0,47.9 L81.2,47.4 L80.8,47.1 L80.2,46.6 L79.8,46.1 L79.3,45.4 L79.1,44.6 L79.0,43.6 L79.2,42.8 L79.6,42.1 L80.0,41.6 L80.6,41.1 L81.2,40.6 L81.8,40.3 L82.5,39.9 L83.2,39.6 L83.9,39.4 L84.8,39.1 L85.5,38.9 L86.2,38.8 L87.2,38.7 L88.2,38.7 L89.2,38.7 L90.2,38.7 L91.2,38.8 L92.0,39.0 L92.8,39.1 L93.7,39.4 L94.5,39.6 L95.2,39.8 L96.0,40.1 L96.7,40.4 L97.3,40.6 L98.0,40.9 L98.8,41.2 L99.5,41.6 L100.0,41.9 L100.7,42.4 L101.2,42.8 L101.6,43.4 L101.7,44.4 L101.3,45.1 L100.8,45.6 L100.2,46.0 L99.6,46.4 L99.0,46.7 L98.2,47.0 L97.5,47.3 L96.8,47.6 L96.2,47.9 L95.5,48.1 L94.7,48.4 L93.9,48.6 L93.0,48.8 L92.2,49.0 L91.5,49.1Z M91.2,49.4 L90.2,49.5 L89.2,49.5 L88.2,49.5 L87.2,49.5 L86.2,49.4 L85.5,49.3 L84.8,49.1 L83.8,48.9 L83.1,48.6 L82.5,48.4 L81.8,48.0 L81.0,47.6 L80.5,47.2 L80.0,46.8 L79.5,46.2 L79.1,45.6 L78.8,44.9 L78.6,44.1 L78.8,43.2 L79.0,42.5 L79.4,41.9 L79.9,41.4 L80.4,40.9 L81.0,40.4 L81.5,40.1 L82.2,39.7 L83.0,39.4 L83.8,39.2 L84.5,39.0 L85.2,38.8 L86.2,38.6 L87.0,38.5 L88.0,38.5 L89.0,38.5 L90.0,38.5 L91.0,38.6 L91.8,38.7 L92.6,38.9 L93.5,39.1 L94.2,39.2 L95.0,39.5 L95.8,39.7 L96.5,39.9 L97.2,40.2 L98.0,40.5 L98.8,40.8 L99.5,41.1 L100.2,41.4 L100.8,41.6 L101.5,42.1 L102.0,42.5 L102.5,43.1 L102.7,43.9 L102.5,44.8 L102.1,45.4 L101.5,45.9 L101.0,46.2 L100.3,46.6 L99.7,46.9 L99.0,47.1 L98.2,47.4 L97.5,47.7 L96.8,48.0 L96.0,48.2 L95.2,48.5 L94.5,48.7 L93.8,48.9 L92.8,49.1 L92.0,49.3 L91.2,49.4Z" fill="none" stroke="#141414" stroke-width="0.5"/>
<path d="M90.0,57.6 L89.0,57.7 L88.0,57.7 L87.0,57.7 L86.0,57.6 L85.2,57.5 L84.2,57.4 L83.5,57.1 L82.9,56.9 L82.8,56.3 L83.5,55.9 L84.2,55.6 L85.0,55.5 L86.0,55.4 L86.8,55.3 L87.8,55.3 L88.8,55.3 L89.6,55.4 L90.5,55.4 L91.5,55.6 L92.2,55.8 L93.0,56.1 L93.3,56.6 L92.8,57.0 L92.0,57.3 L91.2,57.5 L90.2,57.6Z M90.0,58.9 L89.0,58.9 L88.0,58.9 L87.0,58.9 L86.0,58.9 L85.2,58.8 L84.2,58.8 L83.2,58.7 L82.5,58.6 L81.5,58.4 L80.8,58.3 L80.0,58.1 L79.2,57.9 L78.5,57.6 L77.8,57.2 L77.3,56.6 L77.7,55.9 L78.2,55.5 L79.0,55.2 L79.8,55.0 L80.5,54.8 L81.5,54.6 L82.2,54.5 L83.2,54.4 L84.0,54.3 L85.0,54.2 L86.0,54.1 L87.0,54.1 L87.8,54.1 L88.5,54.1 L89.5,54.1 L90.5,54.2 L91.5,54.2 L92.5,54.3 L93.2,54.4 L94.2,54.6 L95.0,54.7 L95.8,54.9 L96.7,55.1 L97.4,55.4 L98.0,55.7 L98.5,56.1 L98.5,56.9 L98.0,57.4 L97.2,57.7 L96.5,58.0 L95.8,58.2 L94.8,58.4 L94.0,58.5 L93.2,58.6 L92.2,58.7 L91.2,58.8 L90.2,58.8Z M88.2,60.1 L87.5,60.1 L86.5,60.1 L85.5,60.1 L84.5,60.0 L83.5,60.0 L82.5,59.9 L81.8,59.8 L80.8,59.7 L79.9,59.6 L79.0,59.5 L78.2,59.4 L77.2,59.2 L76.5,59.0 L75.8,58.8 L75.0,58.6 L74.2,58.3 L73.5,58.0 L72.8,57.6 L72.2,57.1 L72.0,56.6 L72.3,55.9 L72.8,55.4 L73.5,55.0 L74.2,54.7 L75.0,54.4 L75.8,54.2 L76.5,54.0 L77.2,53.8 L78.2,53.6 L79.0,53.5 L80.0,53.4 L80.8,53.3 L81.8,53.2 L82.7,53.1 L83.5,53.0 L84.5,53.0 L85.5,52.9 L86.5,52.9 L87.5,52.9 L88.5,52.9 L89.5,52.9 L90.5,52.9 L91.5,53.0 L92.5,53.0 L93.3,53.1 L94.2,53.2 L95.2,53.3 L96.0,53.4 L97.0,53.5 L97.8,53.6 L98.8,53.8 L99.5,54.0 L100.2,54.2 L101.0,54.4 L101.8,54.7 L102.5,55.0 L103.2,55.4 L103.7,55.9 L104.0,56.6 L103.8,57.1 L103.2,57.6 L102.5,58.0 L101.8,58.3 L101.0,58.6 L100.2,58.8 L99.5,59.0 L98.8,59.2 L97.8,59.4 L97.0,59.5 L96.1,59.6 L95.2,59.7 L94.2,59.8 L93.5,59.9 L92.5,60.0 L91.5,60.0 L90.5,60.1 L89.5,60.1 L88.5,60.1Z" fill="none" stroke="#888" stroke-width="0.4"/>
<path d="M92.5,45.4 L91.5,45.4 L90.8,45.3 L90.0,45.1 L89.2,44.7 L88.8,44.1 L89.2,43.4 L89.8,43.0 L90.5,42.8 L91.5,42.6 L92.5,42.6 L93.5,42.8 L94.2,43.0 L94.8,43.4 L95.2,44.1 L94.8,44.7 L94.0,45.1 L93.2,45.3 L92.5,45.4Z M94.0,46.6 L93.0,46.7 L92.0,46.8 L91.0,46.7 L90.0,46.6 L89.2,46.5 L88.5,46.3 L87.8,46.1 L87.0,45.7 L86.4,45.4 L85.9,44.9 L85.6,44.1 L85.8,43.3 L86.2,42.8 L86.8,42.4 L87.5,42.0 L88.2,41.8 L89.0,41.6 L90.0,41.4 L90.8,41.3 L91.8,41.2 L92.8,41.3 L93.8,41.3 L94.5,41.5 L95.2,41.6 L96.0,41.9 L96.8,42.1 L97.5,42.6 L98.0,43.0 L98.4,43.6 L98.3,44.6 L97.9,45.1 L97.3,45.6 L96.8,45.9 L96.0,46.2 L95.2,46.4 L94.2,46.6Z M93.2,48.1 L92.2,48.1 L91.2,48.1 L90.5,48.1 L89.5,48.0 L88.5,47.9 L87.8,47.7 L87.0,47.5 L86.2,47.3 L85.5,47.1 L84.8,46.7 L84.0,46.4 L83.5,46.0 L83.0,45.5 L82.5,44.9 L82.3,44.1 L82.5,43.3 L82.9,42.6 L83.4,42.1 L84.0,41.7 L84.6,41.4 L85.2,41.0 L86.0,40.8 L86.8,40.5 L87.5,40.3 L88.5,40.1 L89.2,40.0 L90.2,39.9 L91.2,39.9 L92.2,39.9 L93.2,39.9 L94.2,40.0 L95.2,40.1 L96.0,40.2 L96.8,40.4 L97.5,40.6 L98.3,40.9 L99.0,41.1 L99.8,41.5 L100.3,41.9 L100.9,42.4 L101.3,42.9 L101.6,43.6 L101.6,44.6 L101.2,45.2 L100.8,45.8 L100.2,46.2 L99.5,46.6 L99.0,46.9 L98.2,47.2 L97.5,47.4 L96.8,47.6 L95.8,47.8 L95.0,47.9 L94.0,48.1 L93.2,48.1Z M95.0,49.4 L94.0,49.5 L93.0,49.5 L92.0,49.5 L91.0,49.5 L90.0,49.5 L89.0,49.4 L88.2,49.3 L87.2,49.1 L86.5,49.0 L85.8,48.8 L84.9,48.6 L84.1,48.4 L83.4,48.1 L82.8,47.8 L82.0,47.5 L81.3,47.1 L80.8,46.7 L80.2,46.3 L79.8,45.7 L79.4,45.1 L79.1,44.4 L79.2,43.4 L79.5,42.7 L79.9,42.1 L80.4,41.6 L81.0,41.1 L81.5,40.8 L82.2,40.4 L82.9,40.1 L83.5,39.9 L84.2,39.6 L85.1,39.4 L86.0,39.1 L86.8,39.0 L87.5,38.8 L88.5,38.7 L89.3,38.6 L90.2,38.5 L91.2,38.5 L92.2,38.5 L93.2,38.5 L94.2,38.6 L95.0,38.6 L96.0,38.7 L96.8,38.9 L97.8,39.1 L98.5,39.2 L99.2,39.4 L100.0,39.7 L100.8,39.9 L101.5,40.3 L102.2,40.6 L102.8,41.0 L103.3,41.4 L103.9,41.9 L104.3,42.4 L104.7,43.1 L104.9,43.9 L104.8,44.8 L104.5,45.4 L104.0,46.0 L103.5,46.5 L103.0,46.9 L102.2,47.3 L101.8,47.6 L101.0,48.0 L100.2,48.2 L99.5,48.5 L98.8,48.7 L98.0,48.9 L97.0,49.1 L96.2,49.2 L95.2,49.3Z M93.8,50.9 L92.8,50.9 L91.8,50.9 L90.8,50.9 L90.0,50.8 L89.0,50.8 L88.0,50.7 L87.2,50.6 L86.2,50.4 L85.5,50.3 L84.5,50.1 L83.8,49.9 L83.0,49.7 L82.2,49.5 L81.5,49.2 L80.8,48.9 L80.0,48.6 L79.5,48.3 L78.8,47.9 L78.2,47.6 L77.6,47.1 L77.1,46.6 L76.7,46.1 L76.2,45.4 L76.0,44.8 L75.9,43.9 L76.0,43.1 L76.4,42.4 L76.8,41.8 L77.2,41.2 L77.8,40.8 L78.3,40.4 L79.0,39.9 L79.6,39.6 L80.2,39.3 L81.0,39.0 L81.8,38.7 L82.5,38.4 L83.2,38.2 L84.0,38.0 L84.8,37.8 L85.8,37.6 L86.5,37.5 L87.5,37.4 L88.2,37.3 L89.2,37.2 L90.2,37.1 L91.2,37.1 L92.0,37.1 L92.8,37.1 L93.8,37.1 L94.8,37.2 L95.8,37.3 L96.5,37.4 L97.5,37.5 L98.2,37.6 L99.2,37.8 L100.0,38.0 L100.8,38.2 L101.5,38.4 L102.2,38.7 L103.0,39.0 L103.8,39.3 L104.4,39.6 L105.0,39.9 L105.7,40.4 L106.2,40.8 L106.8,41.2 L107.2,41.8 L107.6,42.4 L108.0,43.1 L108.1,43.9 L108.0,44.8 L107.8,45.4 L107.3,46.1 L106.9,46.6 L106.4,47.1 L105.8,47.6 L105.2,47.9 L104.5,48.3 L104.0,48.6 L103.2,48.9 L102.5,49.2 L101.8,49.5 L101.0,49.7 L100.2,49.9 L99.5,50.1 L98.5,50.3 L97.8,50.4 L96.8,50.6 L96.0,50.7 L95.0,50.8 L94.0,50.8Z" fill="none" stroke="#777" stroke-width="0.4"/>
<path d="M68.8,64.1 L67.8,64.3 L67.0,64.1 L66.4,63.6 L66.1,62.9 L66.2,61.9 L66.5,61.3 L67.1,60.9 L68.0,60.7 L68.8,60.9 L69.3,61.4 L69.7,62.1 L69.6,63.1 L69.2,63.7 L68.8,64.1Z M68.8,65.0 L67.8,65.1 L66.8,64.8 L66.2,64.5 L65.8,63.9 L65.4,63.4 L65.3,62.4 L65.5,61.5 L65.9,60.9 L66.5,60.4 L67.0,60.1 L68.0,59.9 L68.9,60.1 L69.5,60.5 L70.0,61.0 L70.3,61.6 L70.5,62.6 L70.2,63.6 L69.9,64.1 L69.4,64.6 L68.8,65.0Z M68.5,65.6 L67.5,65.7 L66.8,65.5 L66.1,65.1 L65.5,64.6 L65.2,64.1 L64.8,63.4 L64.7,62.6 L64.8,61.9 L65.0,61.1 L65.5,60.4 L66.0,60.0 L66.6,59.6 L67.5,59.4 L68.2,59.3 L69.0,59.5 L69.6,59.9 L70.2,60.4 L70.6,60.9 L70.9,61.6 L71.1,62.4 L71.0,63.2 L70.8,63.9 L70.3,64.6 L69.8,65.1 L69.2,65.4 L68.5,65.6Z M68.5,66.1 L67.5,66.1 L66.8,66.0 L66.0,65.6 L65.5,65.3 L65.0,64.7 L64.6,64.1 L64.3,63.4 L64.2,62.6 L64.3,61.9 L64.5,61.1 L64.9,60.4 L65.4,59.9 L66.0,59.4 L66.5,59.1 L67.5,58.9 L68.2,58.9 L69.0,59.0 L69.8,59.3 L70.2,59.7 L70.8,60.2 L71.2,60.9 L71.5,61.6 L71.6,62.4 L71.5,63.2 L71.2,64.0 L70.9,64.6 L70.5,65.1 L69.9,65.6 L69.2,65.9 L68.5,66.1Z M69.2,66.4 L68.2,66.6 L67.2,66.5 L66.5,66.3 L65.8,66.0 L65.2,65.6 L64.7,65.1 L64.2,64.4 L64.0,63.7 L63.8,62.9 L63.9,61.9 L64.0,61.1 L64.4,60.4 L64.8,59.9 L65.3,59.4 L66.0,58.9 L66.7,58.6 L67.5,58.4 L68.5,58.4 L69.2,58.6 L70.0,59.0 L70.5,59.4 L71.0,59.9 L71.5,60.5 L71.8,61.1 L72.0,62.1 L72.0,63.1 L71.8,63.9 L71.4,64.6 L71.0,65.2 L70.5,65.7 L69.9,66.1 L69.2,66.4Z M68.8,66.9 L67.8,67.0 L66.8,66.8 L66.1,66.6 L65.5,66.3 L64.9,65.8 L64.4,65.3 L64.0,64.7 L63.7,64.1 L63.5,63.4 L63.4,62.4 L63.5,61.6 L63.8,60.8 L64.1,60.1 L64.5,59.6 L65.0,59.1 L65.7,58.6 L66.2,58.3 L67.0,58.1 L68.0,58.0 L68.8,58.1 L69.6,58.4 L70.2,58.7 L70.8,59.1 L71.3,59.6 L71.8,60.2 L72.1,60.9 L72.3,61.6 L72.4,62.6 L72.2,63.6 L72.0,64.3 L71.7,64.8 L71.2,65.5 L70.8,66.0 L70.2,66.3 L69.5,66.7 L68.8,66.9Z M69.2,67.2 L68.2,67.3 L67.2,67.3 L66.4,67.1 L65.8,66.8 L65.0,66.4 L64.5,66.0 L64.0,65.4 L63.7,64.8 L63.3,64.1 L63.1,63.4 L63.1,62.4 L63.2,61.4 L63.4,60.6 L63.8,60.0 L64.2,59.4 L64.7,58.9 L65.2,58.4 L65.9,58.1 L66.5,57.9 L67.5,57.7 L68.5,57.7 L69.3,57.9 L70.0,58.1 L70.8,58.6 L71.2,59.0 L71.8,59.6 L72.1,60.1 L72.5,60.9 L72.7,61.6 L72.7,62.6 L72.6,63.6 L72.4,64.3 L72.0,65.1 L71.6,65.6 L71.1,66.1 L70.5,66.6 L70.0,66.9 L69.2,67.2Z M68.8,67.6 L67.8,67.7 L67.0,67.6 L66.1,67.3 L65.5,67.1 L64.8,66.6 L64.2,66.2 L63.8,65.6 L63.4,65.1 L63.1,64.3 L62.8,63.6 L62.7,62.9 L62.8,62.0 L62.9,61.1 L63.2,60.4 L63.5,59.8 L64.0,59.1 L64.5,58.6 L65.0,58.2 L65.6,57.9 L66.2,57.6 L67.2,57.4 L68.0,57.3 L68.8,57.4 L69.6,57.6 L70.2,57.9 L71.0,58.3 L71.5,58.8 L72.0,59.3 L72.4,59.9 L72.7,60.6 L73.0,61.4 L73.1,62.1 L73.0,63.1 L72.9,63.9 L72.6,64.6 L72.2,65.3 L71.9,65.8 L71.4,66.3 L70.8,66.8 L70.2,67.1 L69.5,67.4 L68.8,67.6Z M69.0,67.9 L68.0,68.0 L67.0,67.9 L66.2,67.7 L65.5,67.4 L64.9,67.1 L64.2,66.6 L63.8,66.1 L63.4,65.6 L63.0,65.0 L62.7,64.3 L62.5,63.5 L62.4,62.6 L62.5,61.6 L62.7,60.9 L63.0,60.1 L63.2,59.6 L63.8,58.9 L64.2,58.4 L64.8,58.0 L65.4,57.6 L66.0,57.3 L66.9,57.1 L67.8,57.0 L68.8,57.1 L69.5,57.2 L70.2,57.5 L70.8,57.9 L71.5,58.3 L72.0,58.8 L72.4,59.4 L72.8,59.9 L73.1,60.6 L73.3,61.4 L73.4,62.4 L73.3,63.4 L73.2,64.1 L72.9,64.8 L72.5,65.5 L72.1,66.1 L71.6,66.6 L71.0,67.0 L70.5,67.3 L69.8,67.7 L69.0,67.9Z M69.2,68.1 L68.2,68.3 L67.2,68.3 L66.4,68.1 L65.7,67.8 L65.0,67.5 L64.4,67.1 L63.8,66.6 L63.4,66.1 L63.0,65.6 L62.6,64.8 L62.3,64.1 L62.2,63.4 L62.1,62.4 L62.2,61.4 L62.4,60.6 L62.8,59.9 L63.0,59.4 L63.5,58.7 L64.0,58.2 L64.5,57.8 L65.2,57.4 L65.8,57.1 L66.6,56.9 L67.5,56.7 L68.5,56.7 L69.2,56.9 L70.0,57.1 L70.8,57.5 L71.4,57.9 L71.9,58.4 L72.4,58.9 L72.8,59.4 L73.2,60.1 L73.5,60.9 L73.6,61.6 L73.7,62.6 L73.6,63.6 L73.4,64.3 L73.1,65.1 L72.8,65.7 L72.2,66.3 L71.8,66.8 L71.2,67.2 L70.6,67.6 L70.0,67.9 L69.2,68.1Z M69.5,68.4 L68.5,68.6 L67.5,68.6 L66.5,68.4 L65.8,68.2 L65.0,67.8 L64.5,67.5 L63.9,67.1 L63.4,66.6 L63.0,66.1 L62.5,65.3 L62.2,64.7 L62.0,63.9 L61.8,63.1 L61.8,62.1 L62.0,61.1 L62.2,60.4 L62.5,59.7 L62.9,59.1 L63.2,58.6 L63.8,58.1 L64.3,57.6 L65.0,57.2 L65.7,56.9 L66.5,56.6 L67.2,56.5 L68.2,56.4 L69.2,56.6 L70.0,56.8 L70.7,57.1 L71.2,57.4 L71.8,57.9 L72.3,58.4 L72.8,58.9 L73.2,59.6 L73.5,60.1 L73.8,60.9 L73.9,61.9 L74.0,62.9 L73.8,63.9 L73.6,64.6 L73.3,65.3 L73.0,65.8 L72.5,66.5 L72.0,67.0 L71.5,67.4 L70.8,67.8 L70.2,68.1 L69.5,68.4Z" fill="none" stroke="#141414" stroke-width="0.5"/>
<ellipse cx="58.9" cy="38.6" rx="12.1" ry="19.2" fill="none" stroke="#b8284e" stroke-width="1.3"/>
<ellipse cx="92.6" cy="42.7" rx="20.4" ry="8.3" fill="none" stroke="#55d63c" stroke-width="1.3"/>
<ellipse cx="92.4" cy="56.4" rx="15.6" ry="4.4" fill="none" stroke="#bf3adc" stroke-width="1.3"/>
<ellipse cx="69.5" cy="64" rx="9.3" ry="8" fill="none" stroke="#3a5ad0" stroke-width="1.3"/>
<text x="45" y="16.4" class="pv" textLength="9.8" lengthAdjust="spacingAndGlyphs">54.1</text>
<text x="103.3" y="26.4" class="pv" textLength="10.7" lengthAdjust="spacingAndGlyphs">19.4</text>
<text x="101" y="70.8" class="pv" textLength="7.3" lengthAdjust="spacingAndGlyphs">5.5</text>
<text x="50.3" y="79.3" class="pv" textLength="10.7" lengthAdjust="spacingAndGlyphs">10.0</text>
<text x="74.2" y="83.3" class="dl" textLength="42.1" lengthAdjust="spacingAndGlyphs">No Irradiation</text>
<path d="M159.3,44.0h0.6M185.9,36.9h0.6M158.1,40.5h0.6M179.7,49.8h0.6M159.4,30.7h0.6M182.5,44.8h0.6M192.4,48.9h0.6M172.8,38.8h0.6M164.6,31.9h0.6M175.1,42.2h0.6M169.9,40.5h0.6M177.3,46.5h0.6M187.2,42.7h0.6M152.5,46.6h0.6M157.0,39.6h0.6M156.3,41.0h0.6M164.7,42.7h0.6M184.1,30.4h0.6M170.5,46.3h0.6M172.9,44.0h0.6M175.2,33.0h0.6M180.8,34.5h0.6M196.5,37.0h0.6M182.2,41.0h0.6M185.4,36.2h0.6M186.0,40.0h0.6M189.2,46.0h0.6M175.7,34.8h0.6M183.2,44.7h0.6M193.7,38.0h0.6M180.7,45.1h0.6M177.4,42.7h0.6M176.2,36.2h0.6M161.8,37.8h0.6M181.1,53.1h0.6M185.7,49.4h0.6M183.3,46.6h0.6M176.2,47.2h0.6M195.3,38.4h0.6M165.7,56.7h0.6M176.9,48.8h0.6M184.5,31.9h0.6M176.1,47.0h0.6M175.5,33.9h0.6M172.7,44.0h0.6M187.4,46.7h0.6M174.7,51.8h0.6M164.9,47.3h0.6M187.3,38.7h0.6M152.5,33.7h0.6M176.8,45.2h0.6M192.6,33.0h0.6M174.0,46.2h0.6M172.1,22.0h0.6M183.7,59.5h0.6M186.1,33.7h0.6M169.1,42.8h0.6M175.4,53.5h0.6M173.0,55.9h0.6M165.8,37.2h0.6M182.7,52.4h0.6M181.8,43.4h0.6M152.1,35.3h0.6M166.7,36.7h0.6M181.0,38.3h0.6M183.5,41.7h0.6M170.0,41.9h0.6M179.1,47.9h0.6M168.3,39.1h0.6M157.6,53.8h0.6M191.4,39.6h0.6M168.3,31.1h0.6M176.0,42.7h0.6M164.7,21.4h0.6M190.9,42.5h0.6M154.7,42.4h0.6M154.7,68.8h0.6M187.4,45.6h0.6M171.9,23.9h0.6M172.5,28.6h0.6M181.2,23.9h0.6M163.1,50.8h0.6M193.7,31.6h0.6M155.6,48.0h0.6M184.2,33.1h0.6M165.7,35.4h0.6M159.7,35.6h0.6M189.0,46.5h0.6M172.4,33.1h0.6M172.5,30.5h0.6M152.7,46.6h0.6M191.3,47.7h0.6M190.0,43.0h0.6M165.4,41.7h0.6M169.5,32.1h0.6M153.7,29.1h0.6M173.9,42.2h0.6M168.3,52.4h0.6M176.1,45.7h0.6M188.6,34.4h0.6M150.4,47.0h0.6M165.7,51.5h0.6M178.1,49.1h0.6M183.2,24.4h0.6M182.6,35.6h0.6M164.9,37.5h0.6M183.2,48.1h0.6M186.1,27.7h0.6M166.9,22.0h0.6M172.8,45.8h0.6M164.8,43.0h0.6M176.8,49.1h0.6M164.1,34.4h0.6M164.8,55.0h0.6M187.1,40.0h0.6M176.7,41.9h0.6M176.4,39.3h0.6M170.0,30.9h0.6M166.3,54.2h0.6M180.4,41.5h0.6M171.4,41.5h0.6M178.2,35.8h0.6M176.4,42.9h0.6M165.0,34.7h0.6M162.0,32.5h0.6M184.7,22.1h0.6M170.8,36.1h0.6M166.6,41.8h0.6M187.5,41.6h0.6M172.3,36.1h0.6M172.5,48.3h0.6M169.3,31.8h0.6M158.8,32.1h0.6M157.3,49.8h0.6M178.3,39.1h0.6M191.5,35.7h0.6M183.0,47.4h0.6M155.4,28.5h0.6M162.9,48.3h0.6M189.6,31.2h0.6M186.6,37.9h0.6M169.3,36.6h0.6M170.1,26.5h0.6M162.0,31.1h0.6M179.9,57.7h0.6M153.3,37.7h0.6M162.7,56.9h0.6M180.9,35.2h0.6M185.2,45.3h0.6M154.5,36.7h0.6M171.1,41.2h0.6M175.6,38.3h0.6M176.3,36.3h0.6M163.2,53.1h0.6M178.3,44.5h0.6M154.9,39.7h0.6M183.8,30.7h0.6M187.2,37.9h0.6M178.8,39.9h0.6M176.6,50.6h0.6M169.2,53.5h0.6M164.6,33.5h0.6M182.5,32.5h0.6M169.6,48.3h0.6M188.5,26.8h0.6M180.1,56.1h0.6M188.3,39.1h0.6M166.8,38.6h0.6M160.2,38.9h0.6M171.8,39.8h0.6M188.2,39.2h0.6M156.5,49.4h0.6M161.1,37.4h0.6M172.4,38.2h0.6M162.0,39.0h0.6M172.4,50.0h0.6M182.9,47.1h0.6M184.3,25.3h0.6M163.6,42.0h0.6M180.0,51.4h0.6M179.6,39.1h0.6M174.5,39.3h0.6M177.0,46.4h0.6M169.9,34.5h0.6M163.7,49.8h0.6M189.4,48.9h0.6M184.3,47.7h0.6M174.0,46.3h0.6M161.4,39.4h0.6M165.2,46.8h0.6M167.0,40.1h0.6M178.8,51.8h0.6M164.5,33.5h0.6M183.8,32.1h0.6M179.4,36.4h0.6M172.7,26.4h0.6M182.6,37.0h0.6M163.2,57.6h0.6M182.5,69.1h0.6M178.9,38.2h0.6M175.3,53.9h0.6M173.7,44.6h0.6M180.2,33.7h0.6M175.5,37.0h0.6M159.1,48.0h0.6M182.0,41.6h0.6M163.1,25.0h0.6M179.8,40.2h0.6M153.8,40.5h0.6M155.7,40.8h0.6M175.7,43.8h0.6M176.6,42.4h0.6M160.3,37.9h0.6M167.9,39.1h0.6M177.2,46.0h0.6M193.6,20.5h0.6M178.8,39.4h0.6M154.2,44.2h0.6M167.8,48.9h0.6M161.3,40.2h0.6M172.4,40.2h0.6M167.0,26.3h0.6M179.5,49.0h0.6M173.2,32.9h0.6M176.4,45.5h0.6M171.9,40.9h0.6M190.9,32.1h0.6M167.3,25.8h0.6M165.6,35.1h0.6M162.5,35.4h0.6M195.6,39.4h0.6M172.6,58.6h0.6M173.3,27.1h0.6M178.8,33.5h0.6M193.7,31.0h0.6M167.0,28.2h0.6M175.2,32.9h0.6M173.2,38.0h0.6M166.6,48.5h0.6M185.2,41.5h0.6M163.2,32.4h0.6M177.2,60.1h0.6M168.5,34.7h0.6M165.6,32.2h0.6M162.3,39.4h0.6M191.2,41.0h0.6M167.9,28.1h0.6M176.6,40.8h0.6M159.3,32.3h0.6M173.5,49.1h0.6M181.5,42.6h0.6M170.1,43.6h0.6M173.9,58.4h0.6M160.4,38.1h0.6M189.2,38.9h0.6M191.1,40.6h0.6M175.7,38.0h0.6M157.4,33.2h0.6M181.3,48.6h0.6M180.8,49.2h0.6M170.8,39.2h0.6M185.8,38.2h0.6M158.0,39.2h0.6M167.5,45.9h0.6M165.4,32.5h0.6M170.0,53.4h0.6M173.4,42.3h0.6M174.1,43.4h0.6M185.1,52.2h0.6M154.3,51.9h0.6M174.0,38.4h0.6M197.3,48.7h0.6M161.6,44.9h0.6M182.8,40.0h0.6M146.1,38.2h0.6M171.7,32.1h0.6M195.9,39.0h0.6M169.3,38.6h0.6M164.6,34.8h0.6M175.1,43.5h0.6M167.9,40.3h0.6M157.3,45.2h0.6M165.0,42.7h0.6M163.1,36.9h0.6M176.6,31.3h0.6M173.1,35.1h0.6M193.1,52.1h0.6M177.6,30.1h0.6M167.9,45.9h0.6M167.9,31.5h0.6M159.7,34.8h0.6M174.2,35.8h0.6M174.2,63.3h0.6M195.3,32.7h0.6M178.1,41.7h0.6M172.3,49.3h0.6M170.0,38.4h0.6M169.5,40.2h0.6M189.4,47.2h0.6M157.9,37.5h0.6M164.4,47.5h0.6M176.7,48.1h0.6M173.3,25.7h0.6M179.4,42.8h0.6M180.1,30.6h0.6M175.0,35.5h0.6M165.8,43.8h0.6M178.2,33.9h0.6M153.5,21.2h0.6M167.1,50.0h0.6M173.3,23.0h0.6M163.6,44.4h0.6M194.1,50.3h0.6M178.4,42.6h0.6M161.3,37.4h0.6M170.0,34.8h0.6M174.8,37.9h0.6M178.0,52.5h0.6M182.9,44.3h0.6M171.1,28.8h0.6M172.6,45.3h0.6M161.9,51.0h0.6M170.0,44.0h0.6M170.1,31.0h0.6M185.0,36.6h0.6M177.3,34.6h0.6M169.0,48.4h0.6M197.3,34.2h0.6M174.1,48.6h0.6M166.4,46.7h0.6M164.6,45.8h0.6M179.2,50.7h0.6M178.4,31.5h0.6M182.0,32.2h0.6M183.0,53.1h0.6M181.1,36.6h0.6M188.3,42.3h0.6M159.1,38.2h0.6M191.0,38.6h0.6M175.5,38.3h0.6M153.8,36.9h0.6M178.3,42.7h0.6M171.9,23.9h0.6M188.7,46.8h0.6M186.3,51.4h0.6M168.7,36.2h0.6M177.8,54.4h0.6M153.8,39.2h0.6M165.4,45.5h0.6M191.6,38.6h0.6M159.1,41.4h0.6M170.6,28.7h0.6M184.6,36.8h0.6M182.2,30.5h0.6M187.2,29.5h0.6M186.6,26.5h0.6M190.6,38.0h0.6M155.3,39.1h0.6M178.0,33.1h0.6M168.1,43.2h0.6M172.0,16.5h0.6M168.8,44.4h0.6M177.6,49.1h0.6M165.7,61.4h0.6M183.6,43.5h0.6M187.0,48.6h0.6M175.2,36.0h0.6M186.3,44.4h0.6M151.3,32.2h0.6M179.6,41.9h0.6M177.4,46.1h0.6M175.7,53.7h0.6M166.9,37.8h0.6M177.9,47.0h0.6M183.5,52.9h0.6M168.3,50.3h0.6M179.6,32.7h0.6M172.4,57.7h0.6M183.4,37.2h0.6M145.2,35.1h0.6M165.6,41.6h0.6M177.8,33.5h0.6M159.8,39.3h0.6M168.4,65.1h0.6M169.1,36.1h0.6M187.5,41.6h0.6M159.2,51.3h0.6M170.3,30.4h0.6M177.9,44.9h0.6M169.9,46.6h0.6M183.8,33.9h0.6M149.3,21.9h0.6M172.5,50.8h0.6M186.0,52.1h0.6M196.3,41.1h0.6M186.7,28.8h0.6M182.3,44.1h0.6M172.9,37.5h0.6M160.6,42.1h0.6M189.3,38.1h0.6M180.4,35.7h0.6M177.0,32.9h0.6M178.5,39.3h0.6M177.8,36.1h0.6M159.9,38.4h0.6M186.4,53.6h0.6M170.1,47.4h0.6M183.1,44.1h0.6M155.4,43.6h0.6M162.4,50.4h0.6M183.5,45.9h0.6M143.6,46.0h0.6M182.4,30.8h0.6M185.6,41.6h0.6M171.8,35.3h0.6M161.8,37.5h0.6M176.5,35.8h0.6M166.6,36.6h0.6M163.4,48.0h0.6M170.8,47.9h0.6M160.1,48.4h0.6M173.7,46.3h0.6M172.8,33.9h0.6M188.5,37.5h0.6M172.2,33.9h0.6M176.5,37.9h0.6M177.4,43.8h0.6M165.7,29.7h0.6M179.2,48.3h0.6M182.4,31.8h0.6M181.3,44.1h0.6M177.4,44.4h0.6M170.1,42.7h0.6M185.1,37.0h0.6M156.7,40.2h0.6" stroke="#8a8a8a" stroke-width="0.6" fill="none"/>
<path d="M183.5,51.2h0.6M158.9,39.3h0.6M177.0,53.5h0.6M177.8,37.8h0.6M159.3,43.9h0.6M186.4,44.1h0.6M165.8,42.9h0.6M174.2,40.2h0.6M171.5,45.6h0.6M197.2,43.9h0.6M186.7,38.6h0.6M185.0,45.0h0.6M163.1,44.0h0.6M185.6,42.4h0.6M187.6,52.4h0.6M197.0,52.9h0.6M151.6,46.0h0.6M160.8,49.3h0.6M172.7,45.4h0.6M178.8,41.0h0.6M173.1,40.3h0.6M171.8,34.7h0.6M148.4,39.7h0.6M184.1,48.4h0.6M176.0,40.7h0.6M158.1,46.8h0.6M155.9,45.6h0.6M186.8,43.8h0.6M178.0,44.4h0.6M161.0,27.1h0.6M152.4,44.2h0.6M145.8,41.2h0.6M174.8,51.4h0.6M150.1,41.3h0.6M175.1,47.0h0.6M149.8,54.3h0.6M158.7,50.1h0.6M168.4,46.4h0.6M197.9,48.0h0.6M173.6,38.7h0.6M161.2,36.5h0.6M130.9,53.1h0.6M191.8,42.2h0.6M184.8,39.7h0.6M162.4,46.9h0.6M177.8,41.7h0.6M197.2,48.2h0.6M173.8,37.8h0.6M173.7,42.5h0.6M170.3,48.5h0.6M162.4,45.6h0.6M184.2,46.1h0.6M170.5,37.7h0.6M170.4,57.9h0.6M145.5,42.6h0.6M181.9,44.7h0.6M186.0,35.7h0.6M187.0,38.9h0.6M152.1,47.3h0.6M179.0,40.2h0.6M158.4,43.1h0.6M171.3,43.2h0.6M155.3,31.5h0.6M192.2,45.1h0.6M151.7,35.6h0.6M160.4,41.9h0.6M137.5,51.8h0.6M178.1,42.4h0.6M176.9,45.4h0.6M188.2,44.9h0.6M191.4,52.6h0.6M166.3,41.6h0.6M157.2,42.8h0.6M159.7,44.1h0.6M176.1,47.0h0.6M152.9,50.0h0.6M166.3,43.5h0.6M163.1,33.1h0.6M175.3,34.4h0.6M188.8,44.3h0.6M196.1,47.6h0.6M182.4,51.7h0.6M170.5,52.5h0.6M169.2,45.5h0.6M160.5,47.0h0.6M181.9,41.3h0.6M150.8,43.9h0.6M177.9,43.2h0.6M155.7,40.1h0.6M167.0,29.7h0.6M161.8,51.9h0.6M150.7,42.9h0.6M198.1,47.9h0.6M185.8,43.3h0.6M150.0,59.8h0.6M176.0,45.4h0.6M197.3,48.5h0.6M172.1,38.0h0.6M168.7,43.2h0.6M160.4,39.3h0.6M155.2,43.4h0.6M161.7,46.3h0.6M187.3,45.8h0.6M171.5,52.6h0.6M181.5,36.0h0.6M159.7,45.1h0.6M157.1,48.2h0.6M143.2,33.6h0.6M186.7,47.2h0.6M145.6,44.4h0.6M192.5,37.9h0.6M152.1,37.4h0.6M155.4,34.5h0.6M163.4,36.1h0.6M172.1,56.3h0.6M154.3,49.0h0.6M189.7,31.4h0.6M172.8,44.0h0.6M165.7,48.4h0.6M164.0,45.9h0.6M164.8,43.3h0.6M158.6,56.5h0.6M170.1,37.9h0.6M167.9,40.4h0.6M159.3,50.8h0.6M165.8,40.1h0.6M184.5,42.5h0.6M170.2,54.6h0.6M184.8,50.8h0.6M177.7,51.1h0.6M168.3,49.3h0.6M187.7,41.8h0.6M150.6,46.9h0.6M169.1,47.3h0.6M161.4,46.9h0.6M186.4,57.0h0.6M193.9,40.6h0.6M189.7,44.8h0.6M192.2,45.8h0.6M167.4,40.1h0.6M191.0,44.3h0.6M182.4,46.6h0.6M138.5,47.3h0.6M165.1,46.2h0.6M178.7,34.1h0.6M166.0,43.7h0.6M177.2,49.2h0.6M160.2,42.7h0.6M181.0,34.0h0.6M192.0,44.8h0.6M170.5,34.7h0.6M173.1,45.8h0.6M179.7,37.1h0.6M157.9,39.7h0.6M175.5,39.3h0.6M169.2,49.1h0.6M164.3,51.4h0.6M175.7,42.7h0.6M188.5,46.7h0.6M166.5,40.8h0.6M170.3,45.9h0.6M189.2,45.5h0.6M161.2,36.7h0.6M175.1,46.2h0.6M189.1,41.1h0.6M150.4,48.6h0.6M168.3,37.4h0.6M197.4,48.9h0.6M172.0,45.5h0.6M159.2,49.4h0.6M164.1,41.5h0.6M166.3,37.8h0.6M187.4,53.1h0.6M183.2,32.8h0.6M166.2,40.5h0.6M177.0,32.3h0.6M136.8,41.5h0.6M186.6,43.0h0.6M171.7,43.2h0.6M157.8,50.1h0.6M150.0,38.2h0.6M165.3,41.4h0.6M189.0,41.1h0.6M179.0,41.5h0.6M191.4,43.9h0.6M175.2,35.1h0.6M182.2,40.5h0.6M185.2,46.8h0.6M179.7,50.2h0.6M177.0,39.2h0.6M173.5,44.9h0.6M152.3,47.4h0.6M194.4,45.3h0.6M172.9,46.5h0.6M188.5,41.1h0.6M186.2,40.0h0.6M179.5,46.8h0.6M150.6,47.6h0.6M174.5,34.9h0.6M163.9,40.6h0.6M156.9,46.3h0.6M158.5,44.3h0.6M153.8,42.6h0.6M146.3,38.9h0.6M168.8,35.1h0.6M186.5,43.8h0.6M169.9,44.3h0.6M160.2,37.8h0.6M121.6,35.2h0.6M174.8,47.7h0.6M168.1,34.0h0.6M165.7,44.2h0.6M150.4,51.5h0.6M153.2,44.0h0.6M153.7,49.0h0.6M151.0,39.1h0.6M188.7,37.1h0.6M162.4,47.0h0.6M176.7,34.4h0.6M180.6,42.4h0.6M190.4,34.5h0.6M183.1,46.2h0.6M165.0,41.7h0.6M177.1,40.2h0.6M165.5,39.8h0.6M173.2,47.7h0.6M145.7,44.1h0.6M175.9,52.2h0.6M159.2,50.9h0.6M163.9,46.7h0.6M174.5,45.5h0.6M165.5,38.6h0.6M194.6,51.9h0.6M169.1,43.1h0.6M167.6,36.7h0.6M153.3,46.2h0.6M186.0,42.7h0.6M156.1,38.1h0.6M161.2,47.8h0.6M171.7,36.2h0.6M152.5,45.8h0.6M175.7,53.6h0.6M193.8,45.0h0.6M160.1,45.1h0.6M152.9,40.2h0.6M186.9,47.3h0.6M185.6,52.5h0.6M164.4,48.3h0.6M172.1,45.7h0.6M174.6,46.9h0.6M149.0,36.5h0.6M172.4,46.6h0.6M163.3,43.4h0.6M148.6,49.2h0.6M178.2,52.2h0.6M164.5,43.4h0.6M172.0,51.4h0.6M179.9,46.1h0.6M144.8,39.3h0.6M147.6,43.0h0.6M184.6,44.3h0.6M156.3,55.1h0.6M153.5,51.5h0.6M189.4,45.4h0.6M192.3,38.0h0.6M162.1,42.3h0.6M176.8,43.0h0.6M198.0,41.9h0.6M167.3,37.4h0.6M178.5,48.3h0.6M159.0,37.1h0.6M148.9,50.3h0.6M183.4,45.5h0.6M183.0,46.6h0.6M178.1,35.1h0.6M179.1,47.8h0.6M189.0,49.2h0.6M160.1,45.4h0.6M148.5,51.8h0.6M149.1,47.8h0.6M158.4,39.5h0.6M156.7,42.2h0.6M177.0,50.1h0.6M166.2,48.6h0.6M184.7,55.2h0.6M161.5,45.7h0.6M181.9,44.8h0.6M180.8,40.3h0.6M165.2,40.5h0.6M160.8,39.1h0.6M169.3,37.3h0.6M161.8,47.1h0.6M145.9,38.2h0.6M164.4,38.1h0.6M155.0,54.2h0.6M176.1,41.5h0.6M159.2,35.5h0.6M152.4,31.3h0.6M179.7,41.2h0.6M185.3,43.9h0.6M139.1,54.3h0.6M179.0,48.8h0.6M162.0,40.9h0.6M168.0,53.7h0.6M150.9,38.1h0.6M179.1,33.2h0.6M194.4,37.7h0.6M189.6,43.1h0.6M165.2,37.7h0.6M193.9,42.5h0.6M149.6,47.4h0.6M168.7,46.8h0.6M164.4,46.0h0.6M178.0,44.1h0.6M144.9,46.6h0.6M192.7,46.3h0.6M185.6,48.2h0.6M166.1,49.7h0.6M167.1,38.5h0.6M150.9,49.6h0.6M182.1,47.4h0.6M161.9,34.0h0.6M183.2,43.5h0.6M161.2,40.6h0.6M161.8,33.8h0.6M180.7,47.8h0.6M184.7,42.0h0.6M151.1,36.5h0.6M166.0,53.5h0.6M185.6,44.1h0.6M178.4,48.4h0.6M171.8,45.2h0.6M174.2,40.8h0.6M152.8,40.9h0.6M189.1,35.4h0.6M164.0,41.7h0.6M171.5,41.5h0.6M183.4,42.0h0.6M170.8,47.8h0.6M148.5,49.9h0.6M187.2,36.8h0.6M169.4,39.9h0.6M165.1,48.2h0.6M141.2,48.6h0.6M177.7,43.9h0.6M147.2,46.1h0.6M173.2,40.5h0.6M137.2,33.6h0.6M196.7,35.7h0.6M192.8,48.4h0.6M136.1,45.0h0.6M181.1,50.0h0.6M192.0,50.8h0.6M170.3,42.6h0.6M167.8,46.8h0.6M156.1,38.2h0.6M187.8,42.7h0.6M157.4,41.7h0.6M158.3,40.6h0.6M146.2,47.3h0.6M176.2,48.3h0.6M172.0,40.1h0.6M179.9,48.8h0.6M166.2,47.9h0.6M159.1,49.5h0.6M185.7,48.5h0.6M177.2,44.7h0.6M174.5,47.9h0.6M163.8,47.8h0.6M183.2,37.1h0.6M143.9,45.6h0.6M165.5,39.6h0.6M151.2,37.9h0.6M144.9,42.0h0.6M146.4,34.7h0.6M168.9,52.2h0.6M190.4,43.0h0.6M176.9,42.6h0.6M168.9,39.7h0.6M171.0,38.2h0.6M159.2,43.1h0.6M169.6,55.0h0.6M157.0,37.9h0.6M181.0,47.0h0.6M181.6,43.3h0.6M147.0,42.0h0.6M150.7,43.5h0.6M198.4,42.2h0.6M172.4,49.8h0.6M149.7,48.0h0.6M165.3,40.2h0.6M165.0,38.5h0.6M184.2,44.4h0.6M163.4,46.5h0.6M147.1,28.9h0.6M191.5,40.8h0.6M182.6,39.0h0.6M142.0,38.0h0.6M185.1,45.9h0.6M160.7,47.6h0.6M166.1,44.8h0.6M153.7,31.6h0.6M172.0,47.5h0.6M156.5,52.5h0.6M175.0,53.3h0.6M181.0,50.5h0.6M166.7,35.9h0.6M181.6,38.9h0.6M184.8,38.2h0.6M178.9,48.8h0.6M178.7,38.5h0.6M180.3,44.9h0.6M179.3,50.7h0.6M160.2,39.3h0.6M137.2,52.0h0.6M157.8,50.9h0.6M176.4,50.3h0.6M174.4,46.4h0.6M166.9,46.3h0.6M153.9,49.4h0.6M143.8,41.0h0.6M164.4,44.3h0.6M168.7,38.5h0.6M171.4,29.0h0.6M159.0,43.4h0.6M159.2,49.0h0.6M167.9,46.3h0.6M152.2,48.8h0.6M181.9,35.5h0.6M192.5,37.4h0.6M151.5,48.2h0.6M197.8,47.3h0.6M167.7,39.8h0.6M158.5,44.8h0.6M175.7,38.4h0.6M178.0,31.8h0.6" stroke="#8a8a8a" stroke-width="0.6" fill="none"/>
<path d="M139.4,47.2 L138.4,47.3 L137.7,47.0 L137.2,46.6 L136.8,45.9 L136.6,45.1 L136.6,44.1 L136.7,43.4 L137.0,42.6 L137.3,41.9 L137.6,41.1 L137.8,40.4 L137.6,39.6 L137.3,38.9 L137.0,38.1 L136.9,37.4 L136.9,36.6 L137.2,35.9 L137.7,35.4 L138.7,35.3 L139.2,35.6 L139.6,36.4 L139.7,37.1 L139.7,38.1 L139.5,38.9 L139.4,39.6 L139.4,40.4 L139.7,41.1 L140.1,41.9 L140.4,42.5 L140.7,43.2 L140.8,44.1 L140.8,45.1 L140.6,45.9 L140.2,46.6 L139.7,47.0Z M139.2,48.4 L138.2,48.4 L137.4,48.1 L136.9,47.7 L136.4,47.2 L136.1,46.6 L135.8,45.9 L135.7,44.9 L135.7,44.4 L135.8,43.4 L135.9,42.6 L136.2,41.8 L136.3,40.9 L136.3,39.9 L136.2,39.1 L136.0,38.1 L135.9,37.4 L135.9,36.4 L136.1,35.6 L136.4,35.0 L136.9,34.4 L137.4,34.1 L138.4,33.9 L139.2,34.1 L139.8,34.6 L140.2,35.1 L140.6,35.9 L140.8,36.6 L140.8,37.6 L140.8,38.6 L140.8,39.6 L140.9,40.4 L141.1,41.4 L141.4,42.1 L141.6,42.9 L141.7,43.6 L141.7,44.6 L141.7,45.4 L141.4,46.3 L141.1,46.9 L140.7,47.5 L140.2,48.0 L139.4,48.3Z M139.7,49.2 L138.7,49.3 L137.7,49.1 L137.1,48.9 L136.4,48.4 L136.0,47.9 L135.6,47.4 L135.3,46.6 L135.1,45.9 L135.0,44.9 L135.0,43.9 L135.2,42.9 L135.3,42.1 L135.4,41.4 L135.5,40.4 L135.4,39.4 L135.3,38.6 L135.2,37.6 L135.2,36.6 L135.3,35.6 L135.6,34.9 L135.9,34.4 L136.4,33.8 L137.0,33.4 L137.7,33.1 L138.7,33.0 L139.4,33.3 L140.0,33.6 L140.5,34.1 L140.9,34.7 L141.2,35.4 L141.4,36.1 L141.6,37.1 L141.6,38.1 L141.7,38.9 L141.7,39.9 L141.9,40.9 L142.1,41.6 L142.2,42.4 L142.4,43.4 L142.4,44.1 L142.4,45.1 L142.3,45.9 L142.1,46.6 L141.7,47.4 L141.4,47.9 L140.9,48.4 L140.3,48.9 L139.7,49.2Z M139.7,49.9 L138.7,50.1 L137.7,49.9 L137.0,49.6 L136.4,49.2 L135.9,48.8 L135.4,48.1 L135.1,47.6 L134.8,46.9 L134.5,46.1 L134.4,45.1 L134.4,44.5 L134.5,43.6 L134.6,42.6 L134.7,41.9 L134.9,40.9 L134.9,39.9 L134.8,38.9 L134.7,38.0 L134.6,37.1 L134.7,36.2 L134.8,35.4 L135.1,34.6 L135.4,34.1 L135.9,33.4 L136.4,33.0 L137.0,32.6 L137.7,32.4 L138.7,32.3 L139.4,32.5 L140.1,32.9 L140.7,33.3 L141.1,33.9 L141.4,34.4 L141.8,35.1 L142.0,35.9 L142.2,36.6 L142.3,37.6 L142.3,38.6 L142.4,39.6 L142.5,40.4 L142.7,41.2 L142.8,42.1 L142.9,42.9 L143.0,43.9 L143.0,44.9 L142.9,45.8 L142.7,46.6 L142.4,47.4 L142.1,47.9 L141.7,48.6 L141.2,49.1 L140.7,49.5 L139.9,49.8Z M139.4,50.6 L138.4,50.7 L137.7,50.5 L136.9,50.2 L136.3,49.9 L135.7,49.4 L135.2,48.9 L134.9,48.4 L134.5,47.6 L134.2,46.9 L134.0,46.1 L133.9,45.1 L133.9,44.4 L133.9,43.6 L134.1,42.6 L134.2,41.9 L134.3,40.9 L134.3,39.9 L134.2,38.9 L134.2,37.9 L134.1,37.1 L134.2,36.3 L134.3,35.4 L134.5,34.6 L134.9,33.9 L135.2,33.4 L135.7,32.9 L136.3,32.4 L136.9,32.0 L137.7,31.7 L138.7,31.6 L139.6,31.9 L140.2,32.1 L140.9,32.6 L141.3,33.1 L141.7,33.6 L142.1,34.4 L142.4,35.1 L142.6,35.9 L142.7,36.6 L142.8,37.6 L142.9,38.4 L143.0,39.4 L143.1,40.4 L143.2,41.1 L143.4,42.1 L143.5,42.9 L143.6,43.9 L143.6,44.9 L143.4,45.9 L143.3,46.6 L143.0,47.4 L142.7,48.1 L142.3,48.6 L141.9,49.2 L141.4,49.7 L140.8,50.1 L140.2,50.4 L139.4,50.6Z M139.9,51.2 L138.9,51.3 L137.9,51.2 L137.2,51.0 L136.4,50.6 L135.9,50.2 L135.4,49.8 L134.9,49.2 L134.5,48.6 L134.2,48.0 L133.9,47.4 L133.7,46.5 L133.5,45.6 L133.4,44.6 L133.5,43.6 L133.6,42.6 L133.7,41.9 L133.8,40.9 L133.9,39.9 L133.8,38.9 L133.7,37.9 L133.7,36.9 L133.8,35.9 L133.9,35.1 L134.2,34.4 L134.5,33.6 L134.9,33.0 L135.4,32.4 L135.9,32.0 L136.4,31.6 L137.2,31.3 L137.9,31.1 L138.9,31.0 L139.7,31.2 L140.4,31.5 L140.9,31.9 L141.4,32.4 L141.9,32.9 L142.3,33.6 L142.7,34.3 L142.9,35.0 L143.1,35.9 L143.3,36.6 L143.4,37.6 L143.4,38.4 L143.5,39.4 L143.7,40.3 L143.8,41.1 L143.9,42.1 L144.0,42.9 L144.1,43.9 L144.0,44.9 L143.9,45.9 L143.8,46.6 L143.5,47.4 L143.2,48.1 L142.9,48.7 L142.4,49.4 L142.0,49.9 L141.5,50.4 L140.9,50.7 L140.2,51.1Z M139.2,51.9 L138.4,51.9 L137.4,51.6 L136.7,51.4 L136.2,51.0 L135.6,50.6 L135.0,50.1 L134.6,49.6 L134.2,48.9 L133.8,48.4 L133.5,47.6 L133.3,46.9 L133.1,46.1 L133.0,45.1 L133.0,44.1 L133.1,43.1 L133.2,42.4 L133.4,41.4 L133.4,40.6 L133.4,39.6 L133.4,38.9 L133.3,37.9 L133.3,36.9 L133.4,35.9 L133.5,35.1 L133.7,34.4 L134.0,33.6 L134.4,33.0 L134.9,32.4 L135.3,31.9 L135.9,31.4 L136.4,31.0 L137.2,30.7 L137.9,30.5 L138.9,30.4 L139.8,30.6 L140.4,30.9 L141.2,31.3 L141.7,31.8 L142.1,32.4 L142.5,32.9 L142.9,33.6 L143.2,34.2 L143.4,35.0 L143.6,35.9 L143.7,36.6 L143.9,37.6 L143.9,38.4 L144.0,39.4 L144.2,40.3 L144.3,41.1 L144.4,42.1 L144.5,42.9 L144.5,43.9 L144.5,44.9 L144.4,45.6 L144.2,46.6 L144.0,47.4 L143.7,48.1 L143.4,48.8 L143.0,49.4 L142.7,49.9 L142.2,50.4 L141.7,50.9 L140.9,51.3 L140.3,51.6 L139.4,51.8Z M139.4,52.4 L138.4,52.4 L137.7,52.3 L136.9,52.0 L136.2,51.6 L135.7,51.3 L135.2,50.8 L134.7,50.3 L134.2,49.7 L133.8,49.1 L133.4,48.4 L133.2,47.7 L132.9,46.9 L132.7,46.1 L132.7,45.2 L132.6,44.4 L132.7,43.6 L132.8,42.6 L132.9,41.8 L133.0,40.9 L133.0,39.9 L133.0,38.9 L132.9,37.9 L132.9,36.9 L133.0,35.9 L133.2,35.0 L133.4,34.1 L133.7,33.5 L134.0,32.9 L134.4,32.3 L134.9,31.7 L135.4,31.2 L135.9,30.8 L136.7,30.4 L137.3,30.1 L138.2,29.9 L138.9,29.8 L139.7,29.9 L140.4,30.2 L141.1,30.6 L141.7,31.0 L142.2,31.5 L142.6,32.1 L142.9,32.6 L143.3,33.4 L143.6,34.1 L143.8,34.9 L144.0,35.6 L144.2,36.4 L144.3,37.4 L144.4,38.3 L144.5,39.1 L144.6,40.1 L144.7,40.9 L144.8,41.9 L144.9,42.9 L144.9,43.6 L144.9,44.5 L144.8,45.4 L144.7,46.4 L144.5,47.1 L144.3,47.9 L144.0,48.6 L143.7,49.2 L143.3,49.9 L142.9,50.4 L142.4,50.9 L141.8,51.4 L141.2,51.8 L140.5,52.1 L139.7,52.3Z M139.7,52.9 L138.7,52.9 L137.9,52.8 L137.1,52.6 L136.4,52.3 L135.7,51.9 L135.2,51.4 L134.7,50.9 L134.2,50.4 L133.8,49.9 L133.4,49.2 L133.1,48.6 L132.8,47.9 L132.6,47.1 L132.4,46.3 L132.3,45.4 L132.3,44.4 L132.3,43.4 L132.4,42.6 L132.5,41.6 L132.6,40.6 L132.7,39.9 L132.6,39.1 L132.6,38.1 L132.6,37.1 L132.6,36.1 L132.7,35.4 L132.9,34.6 L133.2,33.8 L133.5,33.1 L133.9,32.4 L134.2,31.9 L134.7,31.3 L135.2,30.9 L135.8,30.4 L136.4,29.9 L137.1,29.6 L137.9,29.4 L138.7,29.3 L139.7,29.3 L140.4,29.5 L141.0,29.9 L141.7,30.3 L142.2,30.8 L142.7,31.3 L143.0,31.9 L143.4,32.5 L143.7,33.1 L144.0,33.9 L144.2,34.6 L144.4,35.4 L144.6,36.4 L144.7,37.1 L144.8,38.1 L144.9,38.9 L145.0,39.9 L145.1,40.9 L145.2,41.6 L145.3,42.6 L145.3,43.6 L145.3,44.6 L145.2,45.6 L145.1,46.4 L144.9,47.2 L144.7,48.0 L144.4,48.6 L144.1,49.4 L143.7,50.0 L143.2,50.6 L142.8,51.1 L142.3,51.6 L141.7,52.1 L141.2,52.4 L140.4,52.7 L139.7,52.9Z M139.9,53.4 L138.9,53.5 L137.9,53.4 L137.2,53.1 L136.5,52.9 L135.9,52.5 L135.3,52.1 L134.7,51.6 L134.3,51.1 L133.8,50.6 L133.4,50.0 L133.0,49.4 L132.7,48.6 L132.4,47.9 L132.2,47.1 L132.1,46.4 L131.9,45.4 L131.9,44.4 L132.0,43.4 L132.1,42.4 L132.2,41.6 L132.3,40.6 L132.3,39.6 L132.3,38.6 L132.2,37.6 L132.3,36.6 L132.3,35.6 L132.5,34.9 L132.7,34.1 L133.0,33.4 L133.3,32.6 L133.7,32.0 L134.2,31.4 L134.6,30.9 L135.1,30.4 L135.7,29.9 L136.2,29.6 L136.9,29.1 L137.7,28.9 L138.4,28.7 L139.4,28.7 L140.3,28.9 L140.9,29.1 L141.7,29.6 L142.2,30.0 L142.7,30.5 L143.1,31.1 L143.4,31.6 L143.8,32.4 L144.2,33.1 L144.4,33.7 L144.7,34.6 L144.8,35.4 L145.0,36.1 L145.1,37.1 L145.2,37.9 L145.3,38.9 L145.4,39.6 L145.5,40.6 L145.6,41.6 L145.7,42.5 L145.7,43.4 L145.7,44.4 L145.6,45.1 L145.5,46.1 L145.4,46.9 L145.2,47.7 L144.9,48.4 L144.6,49.1 L144.2,49.9 L143.9,50.4 L143.4,51.1 L143.0,51.6 L142.4,52.1 L141.9,52.5 L141.3,52.9 L140.7,53.2 L139.9,53.4Z M140.2,53.9 L139.2,54.0 L138.2,53.9 L137.4,53.7 L136.7,53.4 L136.0,53.1 L135.4,52.7 L134.9,52.3 L134.4,51.8 L133.9,51.3 L133.4,50.6 L133.1,50.1 L132.7,49.4 L132.4,48.8 L132.1,48.1 L131.9,47.3 L131.7,46.4 L131.6,45.6 L131.6,44.6 L131.6,43.6 L131.7,42.9 L131.8,41.9 L131.9,41.1 L132.0,40.1 L132.0,39.1 L131.9,38.1 L131.9,37.1 L132.0,36.1 L132.1,35.1 L132.3,34.4 L132.5,33.6 L132.8,32.9 L133.2,32.2 L133.5,31.6 L133.9,31.1 L134.4,30.5 L134.9,30.0 L135.4,29.6 L136.0,29.1 L136.7,28.7 L137.4,28.4 L138.2,28.1 L138.9,28.0 L139.9,28.1 L140.7,28.3 L141.3,28.6 L141.9,29.0 L142.4,29.5 L142.9,30.0 L143.3,30.6 L143.7,31.1 L144.1,31.9 L144.4,32.5 L144.7,33.2 L144.9,33.9 L145.1,34.9 L145.3,35.6 L145.4,36.4 L145.6,37.4 L145.7,38.1 L145.8,39.1 L145.8,40.1 L145.9,40.9 L146.0,41.9 L146.0,42.9 L146.0,43.9 L146.0,44.9 L145.9,45.8 L145.8,46.6 L145.6,47.4 L145.4,48.1 L145.1,48.9 L144.8,49.6 L144.4,50.3 L144.1,50.9 L143.7,51.4 L143.2,52.0 L142.7,52.5 L142.2,52.9 L141.5,53.4 L140.9,53.6 L140.2,53.9Z M140.2,54.4 L139.2,54.5 L138.2,54.4 L137.4,54.2 L136.7,53.9 L136.1,53.6 L135.4,53.2 L134.9,52.8 L134.4,52.3 L133.9,51.8 L133.4,51.2 L133.0,50.6 L132.7,50.1 L132.3,49.4 L132.0,48.6 L131.7,47.9 L131.5,47.1 L131.4,46.3 L131.3,45.4 L131.3,44.4 L131.3,43.4 L131.4,42.6 L131.5,41.6 L131.6,40.6 L131.7,39.9 L131.7,38.9 L131.6,38.1 L131.6,37.1 L131.7,36.4 L131.8,35.4 L131.9,34.6 L132.2,33.7 L132.4,33.1 L132.7,32.4 L133.1,31.6 L133.5,31.1 L133.9,30.5 L134.4,30.0 L134.9,29.5 L135.4,29.0 L135.9,28.6 L136.7,28.1 L137.2,27.9 L137.9,27.6 L138.9,27.4 L139.7,27.3 L140.4,27.5 L141.2,27.8 L141.7,28.1 L142.3,28.6 L142.8,29.1 L143.2,29.6 L143.7,30.2 L144.1,30.9 L144.4,31.5 L144.7,32.1 L145.0,32.9 L145.2,33.6 L145.4,34.4 L145.6,35.4 L145.8,36.1 L145.9,36.9 L146.0,37.9 L146.1,38.9 L146.2,39.6 L146.3,40.6 L146.3,41.6 L146.4,42.6 L146.4,43.6 L146.4,44.6 L146.3,45.6 L146.2,46.4 L146.0,47.4 L145.8,48.1 L145.5,48.9 L145.2,49.6 L144.9,50.2 L144.5,50.9 L144.2,51.4 L143.7,52.1 L143.2,52.6 L142.7,53.1 L142.2,53.5 L141.6,53.9 L140.9,54.2 L140.2,54.4Z M140.4,54.9 L139.4,55.0 L138.4,55.0 L137.7,54.8 L136.9,54.5 L136.2,54.1 L135.7,53.8 L135.0,53.4 L134.4,52.9 L133.9,52.4 L133.5,51.9 L133.1,51.4 L132.7,50.7 L132.3,50.1 L131.9,49.4 L131.7,48.6 L131.4,47.9 L131.2,47.1 L131.1,46.4 L131.0,45.4 L131.0,44.4 L131.0,43.4 L131.1,42.4 L131.2,41.6 L131.3,40.6 L131.4,39.6 L131.4,38.6 L131.3,37.6 L131.4,36.6 L131.4,35.9 L131.6,34.9 L131.7,34.1 L132.0,33.4 L132.3,32.6 L132.6,31.9 L132.9,31.4 L133.4,30.6 L133.8,30.1 L134.2,29.6 L134.7,29.1 L135.2,28.6 L135.8,28.1 L136.4,27.7 L137.0,27.4 L137.7,27.0 L138.4,26.8 L139.4,26.6 L140.4,26.8 L141.2,27.1 L141.7,27.4 L142.3,27.9 L142.8,28.4 L143.3,28.9 L143.7,29.4 L144.1,30.1 L144.4,30.6 L144.8,31.4 L145.1,32.1 L145.4,32.9 L145.6,33.6 L145.8,34.4 L146.0,35.1 L146.2,36.1 L146.3,36.9 L146.4,37.9 L146.5,38.6 L146.5,39.6 L146.6,40.6 L146.7,41.4 L146.7,42.4 L146.7,43.4 L146.7,44.4 L146.7,45.1 L146.5,46.1 L146.4,46.9 L146.2,47.9 L146.0,48.6 L145.7,49.4 L145.4,50.0 L145.1,50.6 L144.7,51.4 L144.3,51.9 L143.9,52.4 L143.4,53.0 L142.9,53.5 L142.4,53.9 L141.7,54.4 L141.2,54.6 L140.4,54.9Z M140.7,55.4 L139.7,55.6 L138.7,55.5 L137.8,55.4 L137.1,55.1 L136.4,54.8 L135.7,54.4 L135.2,54.0 L134.7,53.6 L134.2,53.1 L133.7,52.6 L133.2,52.0 L132.7,51.4 L132.4,50.9 L132.0,50.1 L131.7,49.4 L131.4,48.8 L131.2,48.0 L130.9,47.1 L130.8,46.4 L130.7,45.4 L130.7,44.4 L130.7,43.4 L130.8,42.4 L130.9,41.6 L131.0,40.6 L131.1,39.6 L131.1,38.6 L131.1,37.6 L131.1,36.6 L131.2,35.8 L131.3,34.9 L131.5,34.1 L131.7,33.4 L132.0,32.6 L132.3,31.9 L132.7,31.2 L133.0,30.6 L133.4,30.1 L133.9,29.4 L134.4,28.9 L134.9,28.4 L135.4,27.9 L135.9,27.5 L136.4,27.1 L137.1,26.6 L137.7,26.3 L138.4,26.1 L139.4,25.9 L140.4,26.1 L141.2,26.3 L141.7,26.6 L142.3,27.1 L142.9,27.6 L143.3,28.1 L143.7,28.6 L144.2,29.2 L144.5,29.9 L144.9,30.6 L145.2,31.1 L145.4,31.9 L145.7,32.6 L145.9,33.4 L146.2,34.2 L146.4,35.1 L146.5,35.9 L146.6,36.9 L146.7,37.6 L146.8,38.6 L146.9,39.6 L146.9,40.4 L147.0,41.4 L147.0,42.4 L147.1,43.4 L147.0,44.4 L147.0,45.4 L146.9,46.1 L146.7,47.1 L146.5,47.9 L146.3,48.6 L146.0,49.4 L145.7,50.1 L145.4,50.8 L145.1,51.4 L144.7,52.1 L144.3,52.6 L143.9,53.1 L143.4,53.6 L142.9,54.1 L142.2,54.6 L141.7,54.9 L140.9,55.3Z M139.7,56.1 L138.9,56.1 L137.9,55.9 L137.2,55.7 L136.5,55.4 L135.9,55.0 L135.3,54.6 L134.7,54.1 L134.2,53.6 L133.7,53.1 L133.2,52.6 L132.8,52.1 L132.4,51.5 L132.0,50.9 L131.7,50.2 L131.4,49.6 L131.1,48.9 L130.9,48.1 L130.7,47.2 L130.5,46.4 L130.4,45.4 L130.4,44.4 L130.5,43.4 L130.6,42.4 L130.7,41.6 L130.7,40.6 L130.8,39.6 L130.8,38.6 L130.8,37.6 L130.8,36.6 L130.9,35.7 L131.0,34.9 L131.2,34.1 L131.4,33.3 L131.7,32.6 L132.0,31.9 L132.4,31.1 L132.7,30.6 L133.2,29.9 L133.5,29.4 L133.9,28.9 L134.4,28.3 L134.9,27.8 L135.4,27.3 L135.9,26.8 L136.5,26.4 L137.2,25.9 L137.8,25.6 L138.6,25.4 L139.4,25.3 L140.3,25.4 L141.1,25.6 L141.7,25.9 L142.3,26.4 L142.9,26.8 L143.4,27.4 L143.8,27.9 L144.2,28.4 L144.6,29.1 L144.9,29.6 L145.3,30.4 L145.6,31.1 L145.9,31.9 L146.1,32.6 L146.3,33.4 L146.5,34.1 L146.7,34.9 L146.8,35.9 L146.9,36.6 L147.1,37.6 L147.2,38.6 L147.2,39.4 L147.3,40.4 L147.3,41.4 L147.4,42.4 L147.4,43.4 L147.3,44.4 L147.3,45.4 L147.2,46.2 L147.0,47.1 L146.8,47.9 L146.6,48.6 L146.4,49.4 L146.1,50.1 L145.8,50.9 L145.4,51.5 L145.1,52.1 L144.7,52.7 L144.2,53.4 L143.8,53.9 L143.3,54.4 L142.7,54.9 L142.2,55.2 L141.5,55.6 L140.9,55.9 L139.9,56.1Z M140.2,56.6 L139.2,56.7 L138.4,56.6 L137.6,56.4 L136.9,56.1 L136.2,55.7 L135.7,55.3 L135.0,54.9 L134.4,54.4 L133.9,53.9 L133.5,53.4 L133.0,52.9 L132.6,52.4 L132.2,51.6 L131.8,51.1 L131.4,50.4 L131.2,49.7 L130.9,49.1 L130.7,48.3 L130.4,47.4 L130.3,46.6 L130.2,45.6 L130.1,44.9 L130.2,44.1 L130.2,43.1 L130.3,42.1 L130.4,41.3 L130.5,40.4 L130.5,39.4 L130.5,38.4 L130.5,37.4 L130.6,36.4 L130.7,35.6 L130.8,34.6 L131.0,33.9 L131.2,33.1 L131.5,32.4 L131.8,31.6 L132.2,30.9 L132.5,30.4 L132.9,29.7 L133.3,29.1 L133.7,28.6 L134.2,28.0 L134.7,27.4 L135.2,26.9 L135.7,26.4 L136.2,26.0 L136.7,25.6 L137.4,25.1 L138.0,24.9 L138.9,24.6 L139.7,24.6 L140.4,24.7 L141.2,24.9 L141.9,25.3 L142.4,25.7 L142.9,26.1 L143.4,26.6 L143.9,27.2 L144.4,27.9 L144.7,28.4 L145.1,29.1 L145.4,29.7 L145.7,30.4 L146.0,31.1 L146.3,31.9 L146.5,32.6 L146.7,33.4 L146.9,34.3 L147.1,35.1 L147.2,35.9 L147.3,36.9 L147.4,37.7 L147.5,38.6 L147.6,39.6 L147.6,40.6 L147.7,41.5 L147.7,42.4 L147.7,43.4 L147.6,44.1 L147.6,45.1 L147.5,46.1 L147.4,46.9 L147.2,47.8 L147.0,48.6 L146.7,49.4 L146.4,50.1 L146.2,50.8 L145.9,51.4 L145.5,52.1 L145.2,52.6 L144.7,53.4 L144.3,53.9 L143.9,54.4 L143.4,54.9 L142.8,55.4 L142.2,55.8 L141.7,56.1 L140.9,56.4 L140.2,56.6Z" fill="none" stroke="#141414" stroke-width="0.5"/>
<path d="M170.2,45.4 L169.2,45.5 L168.2,45.5 L167.2,45.4 L166.4,45.2 L165.7,44.9 L165.2,44.4 L165.1,43.6 L165.7,43.1 L166.2,42.9 L167.1,42.6 L167.9,42.5 L168.9,42.5 L169.9,42.6 L170.7,42.7 L171.4,43.0 L172.0,43.4 L172.3,44.1 L171.9,44.7 L171.2,45.1 L170.4,45.3Z M169.2,46.1 L168.2,46.1 L167.4,46.1 L166.4,45.9 L165.7,45.7 L164.9,45.5 L164.2,45.1 L163.7,44.6 L163.5,43.9 L163.9,43.1 L164.4,42.8 L165.2,42.4 L165.9,42.2 L166.7,42.0 L167.7,41.9 L168.4,41.8 L169.4,41.8 L170.2,41.9 L171.2,42.1 L171.9,42.3 L172.7,42.6 L173.2,42.9 L173.7,43.4 L173.9,44.1 L173.7,44.6 L173.1,45.1 L172.4,45.5 L171.7,45.7 L170.9,45.9 L169.9,46.1 L169.2,46.1Z M171.2,46.4 L170.2,46.5 L169.2,46.6 L168.2,46.6 L167.2,46.5 L166.2,46.4 L165.4,46.2 L164.7,46.0 L163.9,45.7 L163.2,45.4 L162.7,44.9 L162.4,44.4 L162.4,43.5 L162.9,42.9 L163.4,42.5 L164.2,42.1 L164.9,41.9 L165.7,41.7 L166.4,41.5 L167.4,41.4 L168.2,41.4 L169.2,41.3 L169.9,41.4 L170.9,41.5 L171.7,41.6 L172.6,41.9 L173.3,42.1 L173.9,42.4 L174.6,42.9 L175.0,43.4 L175.1,44.4 L174.7,45.0 L174.2,45.4 L173.4,45.8 L172.7,46.0 L171.9,46.2 L171.2,46.4Z M170.9,46.9 L169.9,47.0 L168.9,47.0 L167.9,47.0 L166.9,46.9 L166.2,46.8 L165.2,46.6 L164.4,46.4 L163.7,46.2 L162.9,45.9 L162.4,45.6 L161.8,45.1 L161.4,44.4 L161.4,43.6 L161.7,43.1 L162.2,42.6 L162.9,42.1 L163.4,41.9 L164.2,41.6 L165.0,41.4 L165.9,41.2 L166.7,41.0 L167.7,41.0 L168.7,40.9 L169.7,40.9 L170.7,41.0 L171.4,41.1 L172.4,41.3 L173.2,41.5 L173.9,41.7 L174.7,42.1 L175.2,42.4 L175.7,42.9 L176.2,43.5 L176.2,44.3 L175.9,44.9 L175.4,45.4 L174.7,45.8 L174.0,46.1 L173.3,46.4 L172.4,46.6 L171.7,46.8 L170.9,46.9Z M169.4,47.4 L168.4,47.4 L167.7,47.3 L166.7,47.3 L165.7,47.1 L164.9,47.0 L164.2,46.8 L163.4,46.6 L162.7,46.3 L161.9,45.9 L161.4,45.5 L160.9,45.1 L160.5,44.4 L160.6,43.4 L160.9,42.9 L161.5,42.4 L162.2,41.9 L162.8,41.6 L163.4,41.4 L164.3,41.1 L165.2,40.9 L165.9,40.8 L166.9,40.6 L167.7,40.6 L168.7,40.5 L169.7,40.6 L170.4,40.6 L171.4,40.7 L172.3,40.9 L173.2,41.0 L173.9,41.2 L174.7,41.5 L175.4,41.8 L175.9,42.1 L176.5,42.6 L177.0,43.1 L177.2,43.9 L177.0,44.6 L176.7,45.1 L176.1,45.6 L175.4,46.0 L174.7,46.4 L174.0,46.6 L173.2,46.9 L172.4,47.0 L171.7,47.2 L170.7,47.3 L169.7,47.3Z M170.7,47.6 L169.7,47.7 L168.7,47.7 L167.7,47.7 L166.7,47.6 L165.9,47.5 L164.9,47.4 L164.2,47.2 L163.4,47.0 L162.7,46.7 L161.9,46.4 L161.3,46.1 L160.7,45.7 L160.2,45.2 L159.8,44.6 L159.7,43.6 L160.1,42.9 L160.6,42.4 L161.2,41.9 L161.7,41.6 L162.4,41.3 L163.2,41.0 L163.9,40.8 L164.8,40.6 L165.7,40.4 L166.4,40.3 L167.4,40.2 L168.4,40.2 L169.4,40.2 L170.4,40.2 L171.4,40.3 L172.2,40.4 L173.1,40.6 L173.9,40.8 L174.7,41.0 L175.4,41.3 L176.2,41.6 L176.7,41.9 L177.3,42.4 L177.8,42.9 L178.1,43.6 L178.0,44.6 L177.6,45.1 L177.1,45.6 L176.4,46.1 L175.9,46.4 L175.2,46.7 L174.4,46.9 L173.7,47.1 L172.7,47.3 L171.9,47.5 L170.9,47.6Z M171.4,47.9 L170.4,48.0 L169.4,48.0 L168.4,48.0 L167.4,48.0 L166.4,47.9 L165.7,47.8 L164.7,47.6 L163.9,47.5 L163.2,47.3 L162.4,47.0 L161.7,46.8 L160.9,46.4 L160.4,46.1 L159.8,45.6 L159.3,45.1 L159.0,44.4 L159.1,43.4 L159.4,42.8 L159.9,42.2 L160.4,41.8 L161.2,41.4 L161.8,41.1 L162.5,40.9 L163.3,40.6 L164.2,40.4 L164.9,40.2 L165.7,40.1 L166.7,40.0 L167.7,39.9 L168.7,39.9 L169.7,39.9 L170.7,39.9 L171.7,40.0 L172.4,40.1 L173.4,40.3 L174.2,40.4 L174.9,40.6 L175.7,40.9 L176.4,41.2 L177.2,41.5 L177.7,41.9 L178.3,42.4 L178.7,42.9 L179.0,43.6 L178.9,44.5 L178.5,45.1 L178.1,45.6 L177.4,46.1 L176.9,46.4 L176.2,46.7 L175.4,47.0 L174.7,47.3 L173.9,47.4 L173.2,47.6 L172.2,47.8 L171.4,47.9Z M171.9,48.1 L170.9,48.2 L169.9,48.3 L168.9,48.3 L167.9,48.3 L166.9,48.2 L165.9,48.1 L165.2,48.0 L164.2,47.9 L163.4,47.7 L162.7,47.5 L161.9,47.2 L161.2,46.9 L160.4,46.6 L159.9,46.3 L159.3,45.9 L158.8,45.4 L158.4,44.7 L158.3,43.9 L158.5,43.1 L158.9,42.5 L159.4,42.0 L160.0,41.6 L160.7,41.2 L161.4,40.9 L162.1,40.6 L162.9,40.4 L163.7,40.2 L164.4,40.0 L165.2,39.9 L166.2,39.7 L167.2,39.6 L167.9,39.6 L168.9,39.6 L169.9,39.6 L170.7,39.6 L171.7,39.7 L172.7,39.8 L173.4,39.9 L174.4,40.1 L175.2,40.3 L175.9,40.5 L176.7,40.8 L177.4,41.1 L177.9,41.4 L178.7,41.8 L179.2,42.2 L179.6,42.9 L179.9,43.6 L179.9,44.1 L179.6,44.9 L179.2,45.4 L178.7,45.9 L177.9,46.4 L177.4,46.6 L176.7,47.0 L175.9,47.3 L175.2,47.5 L174.4,47.7 L173.6,47.9 L172.7,48.0 L171.9,48.1Z M172.4,48.4 L171.4,48.5 L170.4,48.5 L169.4,48.6 L168.4,48.6 L167.4,48.5 L166.4,48.5 L165.5,48.4 L164.7,48.2 L163.9,48.1 L162.9,47.9 L162.2,47.7 L161.4,47.4 L160.7,47.1 L160.1,46.9 L159.4,46.5 L158.9,46.1 L158.4,45.6 L157.9,45.0 L157.7,44.3 L157.7,43.6 L157.9,42.9 L158.4,42.3 L158.9,41.8 L159.6,41.4 L160.2,41.0 L160.9,40.7 L161.7,40.4 L162.4,40.2 L163.2,39.9 L163.9,39.8 L164.9,39.6 L165.7,39.5 L166.7,39.4 L167.4,39.3 L168.4,39.3 L169.4,39.2 L170.4,39.3 L171.4,39.3 L172.2,39.4 L173.2,39.5 L173.9,39.6 L174.9,39.8 L175.7,40.0 L176.4,40.2 L177.2,40.5 L177.9,40.8 L178.6,41.1 L179.2,41.4 L179.7,41.9 L180.2,42.4 L180.7,43.1 L180.8,43.9 L180.6,44.6 L180.2,45.3 L179.7,45.8 L179.2,46.2 L178.5,46.6 L177.9,46.9 L177.2,47.2 L176.4,47.5 L175.7,47.7 L174.9,47.9 L174.0,48.1 L173.2,48.3 L172.4,48.4Z M172.7,48.6 L171.7,48.7 L170.7,48.8 L169.7,48.8 L168.7,48.8 L167.7,48.8 L166.7,48.7 L165.7,48.6 L164.9,48.5 L163.9,48.4 L163.2,48.2 L162.4,48.0 L161.7,47.8 L160.9,47.6 L160.2,47.3 L159.4,46.9 L158.9,46.6 L158.2,46.1 L157.7,45.6 L157.3,45.1 L157.0,44.4 L157.1,43.4 L157.4,42.7 L157.9,42.1 L158.4,41.7 L158.9,41.3 L159.7,40.9 L160.2,40.6 L160.9,40.3 L161.7,40.1 L162.4,39.8 L163.3,39.6 L164.2,39.4 L164.9,39.3 L165.9,39.2 L166.7,39.1 L167.7,39.0 L168.7,39.0 L169.7,39.0 L170.7,39.0 L171.7,39.0 L172.4,39.1 L173.4,39.2 L174.3,39.4 L175.2,39.5 L175.9,39.7 L176.7,39.9 L177.4,40.1 L178.2,40.4 L178.9,40.7 L179.7,41.1 L180.2,41.4 L180.7,41.9 L181.2,42.4 L181.6,43.1 L181.7,43.9 L181.5,44.6 L181.2,45.2 L180.7,45.7 L180.2,46.1 L179.4,46.6 L178.9,46.9 L178.2,47.2 L177.4,47.5 L176.7,47.8 L175.9,48.0 L175.2,48.2 L174.3,48.4 L173.4,48.5 L172.7,48.6Z M172.9,48.9 L171.9,49.0 L170.9,49.0 L169.9,49.1 L168.9,49.1 L167.9,49.1 L166.9,49.0 L165.9,48.9 L165.2,48.8 L164.2,48.7 L163.4,48.6 L162.5,48.4 L161.7,48.1 L160.9,47.9 L160.2,47.6 L159.6,47.4 L158.9,47.0 L158.2,46.6 L157.7,46.2 L157.2,45.7 L156.7,45.1 L156.5,44.4 L156.5,43.4 L156.9,42.6 L157.2,42.1 L157.8,41.6 L158.4,41.2 L158.9,40.9 L159.7,40.5 L160.4,40.2 L161.2,39.9 L161.9,39.7 L162.7,39.5 L163.4,39.3 L164.4,39.1 L165.2,39.0 L166.1,38.9 L166.9,38.8 L167.9,38.7 L168.9,38.7 L169.9,38.7 L170.9,38.7 L171.9,38.7 L172.9,38.8 L173.7,38.9 L174.7,39.0 L175.4,39.2 L176.2,39.4 L177.2,39.6 L177.9,39.8 L178.7,40.1 L179.4,40.4 L179.9,40.6 L180.7,41.0 L181.2,41.4 L181.8,41.9 L182.2,42.4 L182.6,43.1 L182.7,43.6 L182.4,44.6 L182.2,45.1 L181.7,45.7 L181.2,46.1 L180.4,46.6 L179.9,46.9 L179.2,47.3 L178.4,47.6 L177.7,47.8 L176.9,48.1 L176.2,48.3 L175.4,48.4 L174.6,48.6 L173.7,48.8 L172.9,48.9Z M173.2,49.1 L172.2,49.2 L171.2,49.3 L170.2,49.3 L169.2,49.3 L168.2,49.3 L167.2,49.3 L166.2,49.2 L165.2,49.1 L164.4,49.0 L163.6,48.9 L162.7,48.7 L161.9,48.5 L161.2,48.3 L160.4,48.0 L159.7,47.7 L158.9,47.4 L158.3,47.1 L157.7,46.7 L157.2,46.3 L156.7,45.8 L156.2,45.1 L155.9,44.4 L155.9,43.6 L156.1,42.9 L156.4,42.4 L156.9,41.8 L157.4,41.4 L158.2,40.9 L158.7,40.6 L159.4,40.2 L160.2,39.9 L160.9,39.6 L161.7,39.4 L162.4,39.2 L163.2,39.0 L164.1,38.9 L164.9,38.7 L165.9,38.6 L166.7,38.5 L167.7,38.4 L168.7,38.4 L169.7,38.4 L170.7,38.4 L171.7,38.4 L172.7,38.5 L173.7,38.6 L174.4,38.7 L175.4,38.8 L176.2,38.9 L176.9,39.1 L177.9,39.4 L178.7,39.6 L179.4,39.8 L180.1,40.1 L180.7,40.4 L181.4,40.8 L181.9,41.1 L182.6,41.6 L183.0,42.1 L183.4,42.7 L183.6,43.6 L183.4,44.6 L183.1,45.1 L182.7,45.6 L182.1,46.1 L181.4,46.6 L180.9,46.9 L180.2,47.3 L179.4,47.6 L178.7,47.9 L178.0,48.1 L177.2,48.3 L176.4,48.5 L175.7,48.7 L174.9,48.9 L173.9,49.0 L173.2,49.1Z M173.2,49.4 L172.2,49.5 L171.2,49.5 L170.2,49.6 L169.2,49.6 L168.2,49.6 L167.2,49.5 L166.2,49.4 L165.3,49.4 L164.4,49.2 L163.6,49.1 L162.7,48.9 L161.9,48.8 L161.2,48.5 L160.4,48.3 L159.7,48.0 L158.9,47.7 L158.2,47.4 L157.7,47.1 L156.9,46.6 L156.4,46.1 L155.9,45.6 L155.6,45.1 L155.3,44.4 L155.4,43.4 L155.7,42.7 L156.0,42.1 L156.5,41.6 L157.1,41.1 L157.7,40.8 L158.4,40.4 L158.9,40.1 L159.7,39.8 L160.4,39.5 L161.2,39.3 L161.9,39.0 L162.7,38.9 L163.7,38.7 L164.4,38.5 L165.4,38.4 L166.2,38.3 L167.2,38.2 L168.2,38.1 L168.9,38.1 L169.9,38.1 L170.9,38.1 L171.7,38.1 L172.7,38.2 L173.7,38.2 L174.7,38.3 L175.4,38.4 L176.3,38.6 L177.2,38.8 L177.9,38.9 L178.7,39.1 L179.4,39.4 L180.2,39.6 L180.9,39.9 L181.7,40.2 L182.3,40.6 L182.9,41.0 L183.4,41.4 L183.9,41.9 L184.4,42.6 L184.6,43.4 L184.5,44.4 L184.2,45.0 L183.7,45.6 L183.2,46.1 L182.7,46.4 L182.0,46.9 L181.4,47.2 L180.7,47.5 L179.9,47.8 L179.2,48.1 L178.4,48.3 L177.7,48.6 L176.9,48.7 L176.2,48.9 L175.2,49.1 L174.4,49.2 L173.4,49.3Z M173.4,49.6 L172.4,49.7 L171.4,49.8 L170.4,49.8 L169.4,49.8 L168.4,49.8 L167.4,49.8 L166.4,49.7 L165.4,49.6 L164.7,49.5 L163.7,49.4 L162.9,49.2 L162.2,49.1 L161.3,48.9 L160.4,48.6 L159.7,48.4 L159.0,48.1 L158.4,47.8 L157.7,47.5 L157.0,47.1 L156.4,46.7 L155.9,46.2 L155.4,45.7 L155.0,45.1 L154.8,44.4 L154.8,43.4 L155.1,42.6 L155.5,42.1 L155.9,41.6 L156.5,41.1 L157.2,40.6 L157.7,40.3 L158.4,40.0 L159.2,39.6 L159.9,39.4 L160.7,39.1 L161.4,38.9 L162.2,38.7 L162.9,38.5 L163.8,38.4 L164.7,38.2 L165.4,38.1 L166.4,38.0 L167.4,37.9 L168.2,37.8 L169.2,37.8 L170.2,37.8 L171.2,37.8 L172.2,37.8 L172.9,37.9 L173.9,37.9 L174.9,38.0 L175.7,38.1 L176.7,38.3 L177.4,38.4 L178.3,38.6 L179.2,38.8 L179.9,39.0 L180.7,39.3 L181.4,39.5 L182.1,39.9 L182.7,40.1 L183.4,40.6 L183.9,40.9 L184.4,41.4 L184.9,41.9 L185.4,42.6 L185.6,43.4 L185.4,44.4 L185.2,44.9 L184.7,45.6 L184.2,46.1 L183.7,46.5 L183.0,46.9 L182.4,47.2 L181.7,47.6 L181.0,47.9 L180.3,48.1 L179.6,48.4 L178.8,48.6 L177.9,48.8 L177.2,49.0 L176.4,49.2 L175.4,49.3 L174.7,49.5 L173.7,49.6Z" fill="none" stroke="#141414" stroke-width="0.5"/>
<path d="M164.7,57.4 L163.7,57.5 L162.7,57.5 L161.7,57.4 L160.9,57.3 L160.1,57.1 L159.4,56.6 L159.9,56.0 L160.7,55.8 L161.5,55.6 L162.4,55.5 L163.4,55.5 L164.4,55.6 L165.2,55.7 L165.9,55.9 L166.6,56.4 L166.2,57.0 L165.4,57.2 L164.7,57.4Z M164.2,57.9 L163.2,57.9 L162.2,57.9 L161.4,57.8 L160.4,57.7 L159.7,57.5 L158.9,57.3 L158.2,56.9 L158.1,56.1 L158.7,55.8 L159.4,55.5 L160.2,55.3 L161.2,55.2 L162.2,55.1 L163.2,55.1 L164.2,55.1 L165.2,55.2 L165.9,55.4 L166.9,55.6 L167.5,55.9 L168.0,56.4 L167.7,57.1 L167.0,57.4 L166.2,57.6 L165.4,57.7 L164.4,57.8Z M165.2,58.1 L164.2,58.2 L163.2,58.2 L162.2,58.2 L161.2,58.1 L160.4,58.1 L159.4,57.9 L158.7,57.7 L157.9,57.5 L157.2,57.1 L156.8,56.6 L157.2,55.9 L157.7,55.6 L158.4,55.4 L159.4,55.1 L160.2,55.0 L161.2,54.9 L161.9,54.8 L162.9,54.8 L163.9,54.8 L164.7,54.9 L165.7,55.0 L166.6,55.1 L167.4,55.3 L168.2,55.5 L168.7,55.9 L169.2,56.4 L168.9,57.0 L168.4,57.4 L167.7,57.6 L166.8,57.9 L165.9,58.0 L165.2,58.1Z M165.4,58.4 L164.4,58.4 L163.4,58.5 L162.4,58.5 L161.4,58.4 L160.5,58.4 L159.7,58.2 L158.8,58.1 L157.9,57.9 L157.2,57.6 L156.5,57.4 L155.9,56.9 L155.9,56.3 L156.4,55.7 L157.2,55.4 L157.9,55.1 L158.7,54.9 L159.4,54.8 L160.4,54.7 L161.2,54.6 L162.2,54.5 L163.2,54.5 L164.2,54.5 L164.9,54.6 L165.9,54.7 L166.9,54.8 L167.7,55.0 L168.4,55.2 L169.2,55.5 L169.8,55.9 L170.2,56.5 L169.9,57.0 L169.4,57.4 L168.7,57.7 L167.9,57.9 L167.2,58.1 L166.2,58.3 L165.4,58.4Z M165.4,58.6 L164.4,58.7 L163.4,58.7 L162.4,58.7 L161.4,58.7 L160.6,58.6 L159.7,58.5 L158.7,58.4 L157.9,58.2 L157.2,58.0 L156.4,57.7 L155.7,57.4 L155.2,56.9 L155.1,56.1 L155.7,55.6 L156.2,55.4 L156.9,55.1 L157.7,54.9 L158.7,54.6 L159.4,54.5 L160.4,54.4 L161.3,54.4 L162.2,54.3 L163.2,54.3 L164.2,54.3 L164.9,54.4 L165.9,54.4 L166.9,54.6 L167.7,54.7 L168.4,54.9 L169.2,55.1 L169.9,55.4 L170.7,55.8 L171.0,56.4 L170.7,57.1 L170.2,57.5 L169.4,57.8 L168.7,58.1 L167.9,58.2 L167.2,58.4 L166.2,58.5 L165.4,58.6Z" fill="none" stroke="#333" stroke-width="0.45"/>
<path d="M147.4,66.4 L146.4,66.4 L145.7,66.2 L145.2,65.8 L144.7,65.1 L144.4,64.4 L144.3,63.6 L144.5,62.9 L144.9,62.1 L145.4,61.6 L145.9,61.3 L146.9,61.1 L147.8,61.4 L148.4,61.8 L148.9,62.4 L149.2,63.0 L149.3,63.9 L149.2,64.6 L148.8,65.3 L148.4,65.8 L147.7,66.3Z M147.9,67.4 L146.9,67.6 L145.9,67.4 L145.2,67.1 L144.7,66.8 L144.2,66.3 L143.7,65.6 L143.4,64.8 L143.3,64.1 L143.4,63.1 L143.6,62.4 L143.9,61.7 L144.4,61.1 L144.9,60.6 L145.4,60.4 L146.2,60.1 L147.2,60.1 L147.9,60.2 L148.6,60.6 L149.2,61.0 L149.6,61.6 L149.9,62.1 L150.2,62.9 L150.3,63.9 L150.2,64.8 L149.9,65.5 L149.6,66.1 L149.1,66.6 L148.5,67.1 L147.9,67.4Z M147.4,68.4 L146.4,68.4 L145.7,68.2 L144.9,67.9 L144.4,67.6 L143.8,67.1 L143.4,66.6 L143.0,65.8 L142.7,65.1 L142.5,64.3 L142.5,63.4 L142.7,62.6 L142.9,61.9 L143.3,61.1 L143.7,60.6 L144.2,60.1 L144.9,59.7 L145.7,59.4 L146.4,59.2 L147.4,59.2 L148.2,59.4 L148.9,59.8 L149.4,60.1 L149.9,60.6 L150.4,61.3 L150.7,61.9 L150.9,62.6 L151.1,63.6 L151.0,64.6 L150.8,65.3 L150.5,66.1 L150.2,66.7 L149.7,67.2 L149.2,67.7 L148.4,68.1 L147.7,68.3Z M147.2,69.1 L146.4,69.1 L145.4,68.9 L144.7,68.6 L144.2,68.3 L143.6,67.8 L143.1,67.3 L142.7,66.7 L142.3,66.1 L142.1,65.3 L141.9,64.6 L141.9,63.6 L141.9,62.9 L142.2,62.0 L142.4,61.4 L142.8,60.6 L143.2,60.1 L143.8,59.6 L144.4,59.1 L145.0,58.9 L145.8,58.6 L146.7,58.5 L147.7,58.6 L148.4,58.8 L149.1,59.1 L149.7,59.5 L150.2,59.9 L150.7,60.5 L151.1,61.1 L151.4,61.8 L151.6,62.6 L151.7,63.4 L151.7,64.3 L151.6,65.1 L151.4,65.8 L151.0,66.6 L150.7,67.1 L150.2,67.7 L149.7,68.1 L148.9,68.6 L148.3,68.8 L147.4,69.1Z M147.9,69.6 L146.9,69.7 L145.9,69.7 L145.2,69.5 L144.4,69.2 L143.9,68.8 L143.2,68.3 L142.7,67.8 L142.4,67.3 L141.9,66.6 L141.7,66.0 L141.4,65.1 L141.3,64.3 L141.3,63.4 L141.4,62.5 L141.7,61.6 L141.9,61.0 L142.3,60.4 L142.7,59.9 L143.2,59.3 L143.7,58.9 L144.4,58.4 L145.2,58.1 L145.9,57.9 L146.9,57.9 L147.9,58.0 L148.7,58.2 L149.4,58.6 L149.9,58.9 L150.5,59.4 L150.9,59.9 L151.4,60.5 L151.7,61.1 L152.0,61.9 L152.2,62.6 L152.3,63.6 L152.3,64.6 L152.1,65.3 L151.9,66.1 L151.6,66.8 L151.2,67.5 L150.7,68.1 L150.2,68.5 L149.7,68.9 L148.9,69.3 L148.2,69.6Z M148.2,70.2 L147.2,70.3 L146.2,70.3 L145.3,70.1 L144.6,69.8 L143.9,69.5 L143.3,69.1 L142.7,68.6 L142.2,68.1 L141.9,67.6 L141.4,66.8 L141.2,66.2 L140.9,65.3 L140.8,64.6 L140.7,63.6 L140.8,62.6 L141.0,61.9 L141.3,61.1 L141.7,60.4 L142.0,59.9 L142.4,59.3 L142.9,58.8 L143.5,58.4 L144.2,57.9 L144.9,57.6 L145.7,57.4 L146.4,57.3 L147.4,57.3 L148.2,57.4 L148.9,57.7 L149.7,58.1 L150.2,58.4 L150.7,58.9 L151.2,59.4 L151.7,59.9 L152.1,60.6 L152.4,61.3 L152.7,62.1 L152.8,62.9 L152.9,63.9 L152.8,64.8 L152.6,65.6 L152.4,66.3 L152.0,67.1 L151.7,67.7 L151.2,68.3 L150.7,68.8 L150.2,69.2 L149.6,69.6 L148.9,69.9 L148.2,70.2Z M148.4,70.6 L147.4,70.8 L146.4,70.8 L145.4,70.7 L144.7,70.4 L143.9,70.1 L143.4,69.8 L142.8,69.3 L142.2,68.8 L141.8,68.3 L141.4,67.8 L141.0,67.1 L140.7,66.3 L140.5,65.6 L140.3,64.8 L140.2,63.9 L140.3,62.9 L140.4,62.1 L140.7,61.4 L141.0,60.6 L141.4,59.9 L141.7,59.4 L142.2,58.8 L142.7,58.4 L143.3,57.9 L143.9,57.5 L144.7,57.2 L145.4,56.9 L146.2,56.8 L147.2,56.8 L147.9,56.9 L148.8,57.1 L149.4,57.4 L150.2,57.8 L150.7,58.1 L151.2,58.6 L151.7,59.1 L152.2,59.7 L152.5,60.4 L152.8,61.1 L153.1,61.9 L153.3,62.6 L153.3,63.6 L153.3,64.6 L153.2,65.5 L152.9,66.3 L152.7,67.0 L152.3,67.6 L151.9,68.2 L151.4,68.8 L150.9,69.3 L150.4,69.7 L149.7,70.1 L149.2,70.4 L148.4,70.6Z M148.4,71.1 L147.4,71.3 L146.4,71.3 L145.4,71.2 L144.7,71.0 L143.9,70.6 L143.4,70.3 L142.7,69.9 L142.2,69.4 L141.7,68.9 L141.2,68.3 L140.9,67.8 L140.5,67.1 L140.2,66.3 L140.0,65.6 L139.9,64.8 L139.8,63.9 L139.9,62.9 L140.0,62.1 L140.2,61.4 L140.5,60.6 L140.8,59.9 L141.2,59.4 L141.7,58.7 L142.2,58.2 L142.7,57.7 L143.2,57.4 L143.9,57.0 L144.7,56.6 L145.4,56.4 L146.2,56.3 L147.2,56.3 L147.9,56.4 L148.8,56.6 L149.5,56.9 L150.2,57.2 L150.8,57.6 L151.4,58.1 L151.9,58.6 L152.3,59.1 L152.7,59.7 L153.0,60.4 L153.3,61.1 L153.6,61.9 L153.7,62.6 L153.8,63.6 L153.8,64.6 L153.6,65.3 L153.4,66.3 L153.2,67.0 L152.8,67.6 L152.4,68.3 L152.0,68.8 L151.5,69.3 L151.0,69.8 L150.4,70.3 L149.8,70.6 L149.2,70.9 L148.4,71.1Z M148.2,71.6 L147.2,71.8 L146.2,71.8 L145.3,71.6 L144.4,71.3 L143.8,71.1 L143.2,70.7 L142.6,70.3 L142.0,69.8 L141.5,69.3 L141.0,68.8 L140.7,68.3 L140.3,67.6 L139.9,66.8 L139.7,66.1 L139.5,65.3 L139.4,64.4 L139.4,63.6 L139.4,62.9 L139.6,61.9 L139.8,61.1 L140.1,60.4 L140.4,59.8 L140.8,59.1 L141.2,58.6 L141.7,58.1 L142.2,57.6 L142.8,57.1 L143.4,56.7 L144.2,56.4 L144.9,56.1 L145.7,55.9 L146.4,55.8 L147.4,55.9 L148.2,56.0 L148.9,56.1 L149.7,56.4 L150.4,56.8 L150.9,57.1 L151.5,57.6 L152.0,58.1 L152.4,58.6 L152.9,59.3 L153.3,59.9 L153.6,60.6 L153.9,61.4 L154.1,62.1 L154.2,62.9 L154.2,63.9 L154.2,64.8 L154.0,65.6 L153.8,66.3 L153.6,67.1 L153.2,67.8 L152.9,68.3 L152.4,69.0 L151.9,69.6 L151.4,70.1 L150.9,70.5 L150.3,70.8 L149.7,71.2 L148.9,71.5 L148.2,71.6Z M147.9,72.1 L146.9,72.2 L145.9,72.2 L145.2,72.0 L144.4,71.8 L143.7,71.5 L142.9,71.1 L142.4,70.8 L141.9,70.3 L141.4,69.8 L140.9,69.3 L140.4,68.6 L140.1,68.1 L139.7,67.3 L139.4,66.6 L139.2,65.8 L139.1,65.1 L139.0,64.1 L139.0,63.1 L139.1,62.1 L139.3,61.4 L139.6,60.6 L139.9,59.9 L140.2,59.4 L140.7,58.6 L141.0,58.1 L141.5,57.6 L142.1,57.1 L142.7,56.7 L143.2,56.4 L143.9,56.0 L144.7,55.7 L145.4,55.5 L146.4,55.4 L147.4,55.4 L148.4,55.6 L149.2,55.8 L149.9,56.1 L150.4,56.4 L151.2,56.8 L151.7,57.2 L152.2,57.7 L152.7,58.2 L153.1,58.9 L153.4,59.4 L153.8,60.1 L154.1,60.9 L154.4,61.6 L154.5,62.4 L154.6,63.4 L154.6,64.3 L154.5,65.3 L154.3,66.1 L154.1,66.8 L153.8,67.6 L153.4,68.3 L153.1,68.8 L152.7,69.4 L152.2,69.9 L151.7,70.4 L151.1,70.8 L150.4,71.3 L149.7,71.6 L149.1,71.8 L148.2,72.1Z" fill="none" stroke="#141414" stroke-width="0.5"/>
<ellipse cx="137.6" cy="38.7" rx="12.2" ry="20.3" fill="none" stroke="#b8284e" stroke-width="1.3"/>
<ellipse cx="170.9" cy="44" rx="21" ry="7.4" fill="none" stroke="#55d63c" stroke-width="1.3"/>
<ellipse cx="170.3" cy="56.7" rx="16" ry="4.5" fill="none" stroke="#bf3adc" stroke-width="1.3"/>
<ellipse cx="146.8" cy="63.8" rx="9.1" ry="9.2" fill="none" stroke="#3a5ad0" stroke-width="1.3"/>
<text x="124" y="16.6" class="pv" textLength="11.4" lengthAdjust="spacingAndGlyphs">55.4</text>
<text x="181.7" y="26.4" class="pv" textLength="10.2" lengthAdjust="spacingAndGlyphs">30.1</text>
<text x="180" y="70.8" class="pv" textLength="6.9" lengthAdjust="spacingAndGlyphs">1.0</text>
<text x="130" y="79.3" class="pv" textLength="7.7" lengthAdjust="spacingAndGlyphs">6.9</text>
<text x="178.7" y="83.3" class="dl" textLength="17.3" lengthAdjust="spacingAndGlyphs">Day 1</text>
<path d="M234.8,33.6h0.6M251.1,28.6h0.6M268.5,32.5h0.6M251.2,44.6h0.6M248.1,23.2h0.6M235.8,28.3h0.6M264.2,38.0h0.6M270.9,45.0h0.6M274.0,36.8h0.6M247.6,38.1h0.6M256.5,30.9h0.6M248.9,31.8h0.6M266.2,36.8h0.6M263.0,36.5h0.6M249.0,29.1h0.6M253.5,29.9h0.6M267.2,43.3h0.6M243.2,36.3h0.6M241.9,27.5h0.6M252.4,33.2h0.6M249.6,13.9h0.6M275.4,30.5h0.6M246.8,37.2h0.6M247.3,22.3h0.6M262.7,35.4h0.6M244.1,38.3h0.6M261.1,24.3h0.6M239.7,35.6h0.6M257.6,39.3h0.6M236.6,39.8h0.6M269.1,37.3h0.6M264.4,41.7h0.6M266.0,33.3h0.6M243.9,40.3h0.6M269.7,34.5h0.6M257.9,37.5h0.6M220.0,34.6h0.6M220.3,34.1h0.6M270.7,45.8h0.6M249.0,35.4h0.6M254.7,16.6h0.6M266.1,32.2h0.6M256.7,25.7h0.6M255.1,32.9h0.6M273.8,34.4h0.6M251.9,32.0h0.6M244.2,43.1h0.6M264.8,23.3h0.6M257.2,40.5h0.6M235.5,33.4h0.6M252.3,48.9h0.6M261.6,29.4h0.6M247.7,45.7h0.6M249.1,48.5h0.6M233.5,31.0h0.6M252.3,27.3h0.6M252.7,37.2h0.6M246.2,22.2h0.6M274.8,42.8h0.6M245.9,34.5h0.6M219.2,39.7h0.6M236.8,28.4h0.6M256.0,24.7h0.6M229.4,24.1h0.6M259.5,23.1h0.6M247.3,37.5h0.6M253.4,23.0h0.6M276.9,33.2h0.6M275.6,24.9h0.6M230.9,29.3h0.6M250.4,34.2h0.6M247.7,36.8h0.6M274.6,27.7h0.6M236.1,29.5h0.6M267.3,38.1h0.6M250.7,25.3h0.6M255.4,39.2h0.6M245.5,41.5h0.6M258.8,34.4h0.6M246.7,42.0h0.6M256.2,21.7h0.6M267.2,29.3h0.6M270.9,33.5h0.6M246.7,33.5h0.6M248.7,26.4h0.6M255.9,38.2h0.6M256.6,31.7h0.6M247.8,36.4h0.6M259.5,39.1h0.6M260.8,47.4h0.6M233.3,31.9h0.6M263.2,38.7h0.6M233.9,23.6h0.6M255.0,39.8h0.6M271.2,21.5h0.6M257.5,40.6h0.6M256.0,25.0h0.6M245.4,22.8h0.6M272.5,30.5h0.6M249.5,26.1h0.6M253.6,25.9h0.6M241.8,32.0h0.6M252.3,35.5h0.6M257.7,40.7h0.6M255.0,34.1h0.6M258.8,26.6h0.6M272.4,28.3h0.6M233.2,41.1h0.6M264.8,28.3h0.6M269.1,39.1h0.6M265.5,24.0h0.6M258.1,24.9h0.6M246.9,28.3h0.6M243.6,35.8h0.6M244.4,36.7h0.6M258.0,28.0h0.6M258.0,37.2h0.6M271.7,30.5h0.6M273.2,22.7h0.6M240.6,40.8h0.6M252.4,35.6h0.6M272.6,22.1h0.6M262.0,46.0h0.6M266.9,32.9h0.6M263.5,32.3h0.6M266.5,41.5h0.6M252.4,36.4h0.6M259.9,37.5h0.6M267.4,24.7h0.6M272.0,38.4h0.6M240.1,30.3h0.6M235.0,30.2h0.6M260.2,24.1h0.6M244.7,26.1h0.6M245.8,26.8h0.6M240.5,36.3h0.6M252.5,26.5h0.6M269.5,28.3h0.6M268.2,23.6h0.6M275.4,29.1h0.6M242.2,35.2h0.6M236.7,24.7h0.6M258.9,28.9h0.6M261.2,33.3h0.6M259.1,33.2h0.6M265.6,32.3h0.6M271.1,38.9h0.6M227.9,19.9h0.6M277.5,29.2h0.6M258.2,31.5h0.6M259.4,47.8h0.6M245.6,32.7h0.6M255.6,24.7h0.6M243.2,30.4h0.6M255.3,35.0h0.6M227.9,21.2h0.6M267.1,29.3h0.6M245.5,47.2h0.6M238.2,25.9h0.6M265.1,32.4h0.6M232.5,33.3h0.6M265.8,21.5h0.6M247.7,37.8h0.6M245.8,32.4h0.6M242.7,25.9h0.6M248.5,35.9h0.6M240.5,38.4h0.6M267.2,38.2h0.6M277.1,28.6h0.6M254.8,39.3h0.6M273.3,38.9h0.6M249.2,28.8h0.6M237.0,29.2h0.6M242.9,28.8h0.6M250.2,38.1h0.6M267.5,31.9h0.6M239.5,31.9h0.6M261.6,38.3h0.6M258.4,37.9h0.6M246.3,36.8h0.6M265.9,29.8h0.6M244.9,40.9h0.6M241.5,37.1h0.6M251.7,29.8h0.6M251.9,29.2h0.6M255.0,44.8h0.6M275.9,31.3h0.6M262.1,38.6h0.6M249.5,45.1h0.6M256.0,36.6h0.6M242.1,24.4h0.6M241.5,27.7h0.6M270.0,30.0h0.6M267.9,29.3h0.6M242.1,33.4h0.6M249.9,20.6h0.6M256.2,40.5h0.6M252.6,23.8h0.6M244.9,23.7h0.6M252.1,25.6h0.6M253.9,33.5h0.6M274.1,24.1h0.6M226.8,43.6h0.6M261.6,29.7h0.6M262.6,25.7h0.6M250.7,37.0h0.6M251.1,33.2h0.6M261.6,33.1h0.6M252.1,35.8h0.6M274.1,41.2h0.6M243.2,37.6h0.6M228.8,22.3h0.6M261.1,36.0h0.6M274.6,20.2h0.6M270.6,28.4h0.6M248.9,35.4h0.6M275.2,25.7h0.6M231.5,28.0h0.6M253.8,40.6h0.6M260.6,30.1h0.6M248.4,29.0h0.6M269.0,20.6h0.6M245.7,26.1h0.6M271.2,33.1h0.6M246.0,37.5h0.6M237.2,30.8h0.6M271.3,19.5h0.6M238.3,29.3h0.6M262.7,26.5h0.6M257.5,31.1h0.6M259.9,23.8h0.6M224.3,17.2h0.6M257.7,39.0h0.6M262.1,21.0h0.6M231.0,30.2h0.6M242.5,19.3h0.6M247.2,26.6h0.6M253.7,34.8h0.6M257.9,33.4h0.6M262.6,31.4h0.6M249.0,29.7h0.6M271.9,30.2h0.6M266.6,43.8h0.6M257.4,39.0h0.6M248.9,27.2h0.6M235.3,27.4h0.6M255.3,19.0h0.6M255.1,26.3h0.6M255.5,24.5h0.6M256.4,33.3h0.6M245.5,27.4h0.6M268.5,36.5h0.6M244.3,35.2h0.6M239.1,28.5h0.6M214.4,28.2h0.6M264.7,28.7h0.6M263.4,27.6h0.6M259.4,31.1h0.6M241.5,46.8h0.6M243.4,22.7h0.6M257.0,35.4h0.6M260.0,31.4h0.6M261.7,38.6h0.6M263.9,22.4h0.6M226.5,37.9h0.6M253.1,34.1h0.6M246.4,25.2h0.6M257.8,36.7h0.6M260.7,33.3h0.6M225.5,34.0h0.6M270.3,28.5h0.6M247.7,25.0h0.6M258.6,21.2h0.6M246.8,23.6h0.6M262.7,38.9h0.6M247.3,33.3h0.6M259.3,38.9h0.6M263.8,40.7h0.6M235.4,50.3h0.6M248.2,24.3h0.6M242.2,34.8h0.6M266.0,49.1h0.6M272.4,26.8h0.6M250.4,28.8h0.6M246.8,30.9h0.6M246.6,40.3h0.6M259.9,36.5h0.6M253.0,24.0h0.6M261.3,29.4h0.6M238.3,25.2h0.6M247.6,30.6h0.6M271.2,30.9h0.6M261.6,29.9h0.6M252.2,40.7h0.6M255.4,45.9h0.6M254.6,34.8h0.6M260.8,36.8h0.6M247.9,25.5h0.6M261.6,35.3h0.6M229.4,37.5h0.6M257.1,34.3h0.6M256.5,31.5h0.6M254.2,28.2h0.6M252.1,36.6h0.6M225.7,37.9h0.6M264.3,24.7h0.6M262.4,34.3h0.6M248.0,43.9h0.6M257.7,31.2h0.6M237.0,47.3h0.6M258.3,34.3h0.6M252.1,46.6h0.6M253.2,43.1h0.6M270.0,39.0h0.6M264.2,40.2h0.6M253.6,17.6h0.6M217.7,39.9h0.6M226.5,41.5h0.6M263.8,35.5h0.6M245.3,18.3h0.6M254.0,44.0h0.6M253.8,32.1h0.6M256.5,32.4h0.6M259.4,48.1h0.6M243.0,19.4h0.6M267.1,28.5h0.6M248.2,22.4h0.6M252.8,29.1h0.6M261.3,29.4h0.6M234.9,35.6h0.6M254.1,18.9h0.6M250.5,37.4h0.6M254.4,29.8h0.6M263.5,27.7h0.6M245.5,35.8h0.6M253.0,27.8h0.6M258.4,33.9h0.6M268.3,39.2h0.6M256.5,31.9h0.6M242.2,33.5h0.6M250.3,38.0h0.6M266.4,36.6h0.6M254.5,34.4h0.6M276.3,44.0h0.6M247.1,12.4h0.6M264.0,21.4h0.6M256.0,35.3h0.6M276.2,30.9h0.6M253.7,28.2h0.6M259.5,23.6h0.6M263.2,34.5h0.6M274.1,30.0h0.6M259.8,33.6h0.6M255.0,25.5h0.6M247.5,32.5h0.6M262.2,39.4h0.6M246.9,34.0h0.6M263.9,38.2h0.6M258.8,33.6h0.6M250.5,32.4h0.6M252.6,20.1h0.6M245.5,15.5h0.6M262.4,38.3h0.6M250.3,33.4h0.6M257.6,30.4h0.6M275.9,30.9h0.6M259.9,31.8h0.6M258.2,22.9h0.6M245.4,25.6h0.6M266.1,24.7h0.6M241.4,29.9h0.6M242.1,25.3h0.6M277.4,27.6h0.6M244.3,41.8h0.6M256.6,40.0h0.6M232.7,30.2h0.6M262.1,33.7h0.6M263.0,40.9h0.6M263.6,39.9h0.6M265.9,27.0h0.6M258.1,41.3h0.6M242.3,36.0h0.6M264.2,41.5h0.6M232.2,48.8h0.6M233.8,32.2h0.6M257.6,26.8h0.6M251.1,23.2h0.6M236.2,34.9h0.6M235.3,34.8h0.6M254.5,31.3h0.6M241.0,23.6h0.6M266.6,25.6h0.6M247.4,31.0h0.6M264.9,46.0h0.6M264.8,36.8h0.6M252.5,30.8h0.6M231.3,36.1h0.6M248.5,34.9h0.6M271.5,38.4h0.6M247.6,27.7h0.6M235.1,28.2h0.6M257.7,37.1h0.6M263.5,29.8h0.6M239.6,32.6h0.6M259.8,18.4h0.6M256.7,22.2h0.6M249.1,31.2h0.6M241.7,28.7h0.6M255.5,25.2h0.6M264.9,36.8h0.6M263.0,24.8h0.6M252.7,29.9h0.6M257.0,37.4h0.6M248.0,32.3h0.6M266.8,29.9h0.6M265.4,32.0h0.6M235.6,31.9h0.6M257.4,29.3h0.6M234.9,31.1h0.6M252.2,35.7h0.6M266.7,27.2h0.6M242.2,27.2h0.6M252.6,29.0h0.6" stroke="#8a8a8a" stroke-width="0.6" fill="none"/>
<path d="M256.4,43.1h0.6M252.4,46.8h0.6M243.6,39.5h0.6M256.7,41.2h0.6M260.2,42.7h0.6M227.6,35.7h0.6M239.2,31.5h0.6M249.0,42.2h0.6M261.8,38.6h0.6M247.1,47.6h0.6M259.3,37.6h0.6M269.1,40.1h0.6M265.1,42.1h0.6M244.7,36.2h0.6M248.4,59.0h0.6M242.0,53.7h0.6M266.7,41.6h0.6M264.0,52.7h0.6M246.2,40.7h0.6M264.1,46.2h0.6M276.8,46.8h0.6M235.5,43.7h0.6M235.1,48.8h0.6M258.9,41.4h0.6M238.9,49.7h0.6M245.3,51.7h0.6M237.7,42.3h0.6M243.2,37.5h0.6M242.1,49.0h0.6M227.4,51.9h0.6M263.7,41.9h0.6M245.6,45.6h0.6M255.8,41.8h0.6M239.4,42.4h0.6M244.7,49.0h0.6M251.2,45.5h0.6M229.1,41.6h0.6M245.1,40.8h0.6M248.6,42.2h0.6M230.9,50.0h0.6M261.7,40.8h0.6M258.0,38.2h0.6M234.3,42.8h0.6M269.8,43.5h0.6M230.9,45.6h0.6M243.0,39.6h0.6M254.7,33.1h0.6M227.7,35.0h0.6M264.0,44.8h0.6M242.7,39.9h0.6M258.7,52.1h0.6M241.3,45.9h0.6M246.4,46.4h0.6M251.9,48.5h0.6M255.1,41.2h0.6M249.1,46.7h0.6M242.0,44.8h0.6M239.1,52.1h0.6M270.3,38.8h0.6M261.4,45.4h0.6M251.8,42.7h0.6M254.0,50.7h0.6M235.2,50.7h0.6M247.3,37.4h0.6M250.1,48.3h0.6M249.6,46.2h0.6M246.4,41.0h0.6M263.3,38.5h0.6M263.2,46.5h0.6M247.2,42.9h0.6M247.1,44.1h0.6M250.1,43.5h0.6M226.4,31.1h0.6M255.0,40.4h0.6M243.6,43.3h0.6M236.9,54.0h0.6M250.7,43.3h0.6M237.5,49.9h0.6M259.8,53.6h0.6M261.9,39.3h0.6M234.9,52.9h0.6M242.3,43.7h0.6M248.8,47.5h0.6M257.6,37.9h0.6M242.7,33.6h0.6M257.7,43.4h0.6M229.7,50.8h0.6M250.9,38.1h0.6M245.6,40.7h0.6M252.0,45.6h0.6M243.6,47.0h0.6M218.5,42.2h0.6M258.8,50.3h0.6M260.7,37.9h0.6M229.8,42.3h0.6M241.5,34.0h0.6M252.5,41.6h0.6M256.9,45.5h0.6M221.7,43.6h0.6M260.4,40.7h0.6M235.9,37.2h0.6M234.2,57.8h0.6M268.1,40.5h0.6M267.6,37.7h0.6M243.9,39.7h0.6M248.3,48.3h0.6M275.6,48.8h0.6M249.2,45.3h0.6M247.7,46.6h0.6M239.9,45.8h0.6M256.2,50.1h0.6M240.3,46.9h0.6M254.0,39.3h0.6M226.2,40.8h0.6M261.2,42.5h0.6M241.6,43.6h0.6M256.1,47.2h0.6M247.6,47.0h0.6M252.5,41.3h0.6M228.6,45.3h0.6M245.5,43.9h0.6M243.7,49.0h0.6M263.6,39.9h0.6M233.6,46.2h0.6M267.4,46.7h0.6M256.4,35.6h0.6M243.7,47.8h0.6M255.0,44.2h0.6M257.4,49.4h0.6M251.5,39.9h0.6M233.2,45.5h0.6M248.3,43.1h0.6M264.0,40.2h0.6M247.1,48.2h0.6M239.6,31.1h0.6M243.7,49.2h0.6M243.0,42.7h0.6M227.7,51.5h0.6M229.1,40.1h0.6M248.2,56.1h0.6M251.7,39.8h0.6M232.2,42.3h0.6M235.4,40.4h0.6M251.0,51.6h0.6M236.9,52.5h0.6M226.7,56.0h0.6M242.5,41.9h0.6M244.6,45.6h0.6M249.7,42.2h0.6M241.9,40.8h0.6M251.1,40.9h0.6M242.0,35.4h0.6M250.7,47.2h0.6M237.9,50.2h0.6M249.9,44.8h0.6M229.6,47.9h0.6M265.6,55.9h0.6M242.9,43.8h0.6M259.3,47.4h0.6M242.6,44.6h0.6M262.2,47.6h0.6M249.7,50.5h0.6M232.3,46.8h0.6M242.4,42.0h0.6M260.1,54.7h0.6M255.8,45.0h0.6M270.3,48.8h0.6M223.7,40.5h0.6M242.4,40.1h0.6M232.3,48.1h0.6M252.5,54.7h0.6M247.1,45.0h0.6M241.5,50.4h0.6M265.8,54.4h0.6M262.8,40.8h0.6M265.2,38.8h0.6M243.2,43.2h0.6M275.8,40.1h0.6M238.7,45.8h0.6M264.9,47.7h0.6M257.3,39.3h0.6M246.0,52.0h0.6M252.0,40.5h0.6M246.5,52.4h0.6M271.4,46.8h0.6M240.9,54.4h0.6M243.1,45.0h0.6M255.8,44.4h0.6M248.7,54.1h0.6M254.6,35.8h0.6M243.8,52.3h0.6M248.7,38.3h0.6M261.8,47.3h0.6M251.4,47.8h0.6" stroke="#8a8a8a" stroke-width="0.6" fill="none"/>
<path d="M258.7,36.6h0.6M244.3,40.1h0.6M234.4,36.1h0.6M262.6,37.4h0.6M259.4,34.0h0.6M273.4,34.6h0.6M251.7,36.1h0.6M252.2,35.0h0.6M269.8,36.2h0.6M263.5,32.8h0.6M259.1,35.6h0.6M256.9,36.5h0.6M257.3,35.9h0.6M253.2,36.3h0.6M254.9,36.2h0.6M248.0,37.0h0.6M242.7,40.3h0.6M262.0,39.2h0.6M251.0,33.4h0.6M235.2,34.4h0.6M245.2,35.2h0.6M248.1,37.3h0.6M225.6,39.5h0.6M248.3,36.3h0.6M232.1,36.5h0.6M235.9,37.0h0.6M255.3,36.4h0.6M250.2,35.5h0.6M248.5,37.9h0.6M253.0,36.5h0.6M241.8,31.4h0.6M224.7,36.3h0.6M261.9,33.9h0.6M239.0,35.6h0.6M253.6,37.9h0.6M250.8,34.7h0.6M259.7,34.1h0.6M235.8,33.7h0.6M248.4,35.1h0.6M252.0,36.1h0.6M227.8,33.1h0.6M253.8,34.3h0.6M276.4,35.1h0.6M247.6,36.2h0.6M249.2,37.1h0.6M249.0,36.6h0.6M245.0,30.6h0.6M256.7,39.4h0.6M241.1,34.8h0.6M260.9,34.9h0.6M253.3,35.5h0.6M258.8,35.7h0.6M274.7,36.1h0.6M249.1,33.1h0.6M253.1,34.1h0.6M259.2,37.2h0.6M253.5,38.1h0.6M229.3,37.3h0.6M272.7,36.1h0.6M251.7,38.5h0.6M255.2,36.6h0.6M261.7,34.4h0.6M273.7,35.3h0.6M252.1,35.2h0.6M223.0,32.7h0.6M247.9,36.0h0.6M265.0,41.5h0.6M260.2,35.8h0.6M244.7,38.9h0.6M245.0,35.9h0.6M267.2,35.7h0.6M250.5,36.3h0.6M233.7,35.8h0.6M254.1,36.8h0.6M248.0,31.6h0.6M243.1,37.6h0.6M243.3,34.2h0.6M258.1,37.2h0.6M254.0,37.3h0.6M261.3,37.0h0.6M256.1,39.8h0.6M239.6,40.6h0.6M255.3,34.5h0.6M260.1,38.1h0.6M238.6,36.4h0.6M261.7,37.7h0.6M252.7,33.8h0.6M251.2,40.5h0.6M241.7,42.3h0.6M251.7,35.9h0.6M246.1,36.4h0.6M254.6,34.0h0.6M275.3,38.5h0.6M256.6,33.4h0.6M248.1,35.7h0.6M261.3,35.8h0.6M239.4,35.7h0.6M249.9,36.1h0.6M262.0,34.6h0.6M234.9,38.5h0.6M263.2,33.5h0.6M260.5,35.0h0.6M260.0,37.1h0.6M236.5,33.9h0.6M250.5,33.2h0.6M238.9,34.2h0.6M250.3,35.8h0.6M243.5,35.5h0.6M265.6,37.2h0.6M256.8,34.6h0.6M244.6,33.5h0.6M242.7,32.3h0.6M250.5,35.2h0.6M244.5,34.8h0.6M237.7,37.5h0.6M259.1,38.5h0.6M256.1,35.7h0.6M262.3,33.5h0.6M236.6,37.9h0.6M257.7,36.6h0.6M267.3,36.0h0.6M254.9,36.9h0.6M238.9,36.8h0.6M259.0,35.9h0.6M244.2,34.4h0.6M227.4,34.3h0.6M267.4,38.6h0.6M251.0,34.4h0.6M265.3,38.3h0.6M258.1,34.5h0.6M261.1,37.9h0.6M247.0,34.3h0.6M247.7,36.5h0.6M256.9,37.1h0.6M252.3,35.0h0.6M255.9,38.1h0.6M254.0,37.4h0.6M251.3,34.5h0.6M247.7,35.7h0.6M235.1,35.7h0.6M245.2,36.4h0.6M260.7,36.3h0.6M247.7,36.5h0.6M240.3,37.1h0.6M267.0,37.2h0.6M268.5,35.1h0.6M232.2,37.2h0.6M277.3,34.3h0.6M269.9,35.0h0.6M269.5,34.8h0.6M249.3,37.0h0.6M234.9,36.3h0.6M250.8,37.9h0.6M254.8,36.3h0.6M250.8,39.9h0.6M257.8,36.4h0.6M228.7,39.1h0.6M252.7,36.6h0.6M261.6,36.6h0.6M268.4,36.1h0.6M258.6,36.5h0.6M259.7,36.7h0.6M257.6,36.6h0.6M254.8,37.4h0.6M245.0,34.6h0.6M252.5,36.3h0.6M266.3,33.1h0.6M268.4,35.0h0.6M243.1,36.7h0.6M256.0,38.0h0.6M229.4,38.3h0.6M257.2,38.9h0.6M250.1,33.1h0.6M249.6,35.6h0.6M260.0,37.9h0.6M229.6,32.9h0.6M253.7,34.6h0.6M263.3,38.8h0.6M276.2,36.3h0.6M264.7,37.4h0.6M254.6,35.3h0.6M264.5,37.7h0.6M251.7,35.7h0.6M232.8,36.7h0.6M253.8,34.0h0.6M267.2,36.1h0.6M240.8,35.5h0.6M240.0,34.5h0.6M238.2,36.3h0.6M234.5,34.7h0.6M252.6,35.6h0.6M253.8,34.5h0.6M245.2,36.7h0.6M248.0,37.9h0.6M247.0,36.3h0.6M248.7,38.1h0.6M241.8,37.6h0.6" stroke="#666" stroke-width="0.6" fill="none"/>
<path d="M218.8,40.4 L218.0,40.3 L217.7,39.6 L217.6,38.6 L217.9,37.9 L218.5,37.6 L219.1,37.9 L219.4,38.6 L219.3,39.6 L219.0,40.1Z M218.0,51.4 L217.0,51.5 L216.2,51.4 L215.5,50.9 L215.0,50.4 L214.7,49.9 L214.5,49.1 L214.4,48.1 L214.5,47.3 L214.8,46.5 L215.1,45.9 L215.5,45.3 L216.0,44.7 L216.5,44.3 L217.1,43.9 L218.0,43.7 L218.7,44.1 L219.1,44.6 L219.5,45.4 L219.8,46.1 L219.9,46.9 L220.0,47.6 L220.0,48.5 L219.8,49.4 L219.5,50.0 L219.1,50.6 L218.5,51.1 L218.0,51.4Z M217.8,52.9 L216.8,52.9 L216.0,52.7 L215.3,52.4 L214.8,51.9 L214.2,51.4 L213.9,50.9 L213.5,50.1 L213.3,49.4 L213.2,48.6 L213.2,47.8 L213.4,46.9 L213.6,46.1 L213.9,45.4 L214.2,44.7 L214.6,44.1 L214.9,43.4 L215.2,42.6 L215.4,41.9 L215.4,40.9 L215.3,39.9 L215.3,38.9 L215.4,37.9 L215.6,37.1 L215.9,36.4 L216.2,35.7 L216.8,35.1 L217.2,34.7 L218.0,34.4 L219.0,34.4 L219.8,34.7 L220.2,35.1 L220.8,35.7 L221.1,36.4 L221.4,37.1 L221.6,37.9 L221.7,38.9 L221.6,39.9 L221.5,40.6 L221.3,41.6 L221.1,42.4 L221.0,43.3 L221.0,44.1 L221.1,44.9 L221.2,45.9 L221.3,46.6 L221.3,47.6 L221.2,48.4 L221.1,49.4 L220.8,50.1 L220.5,50.8 L220.1,51.4 L219.7,51.9 L219.1,52.4 L218.5,52.6 L217.8,52.9Z M218.0,53.9 L217.0,54.0 L216.2,53.9 L215.5,53.6 L214.8,53.2 L214.2,52.8 L213.8,52.3 L213.3,51.6 L213.0,51.1 L212.7,50.4 L212.5,49.6 L212.4,48.6 L212.4,47.6 L212.5,46.8 L212.7,45.9 L213.0,45.1 L213.2,44.4 L213.5,43.8 L213.8,43.1 L214.0,42.1 L214.1,41.4 L214.1,40.4 L214.1,39.4 L214.1,38.4 L214.2,37.4 L214.4,36.6 L214.7,35.9 L215.0,35.2 L215.3,34.6 L215.8,34.1 L216.2,33.6 L217.0,33.1 L217.7,32.9 L218.5,32.7 L219.3,32.9 L220.0,33.1 L220.8,33.6 L221.2,34.1 L221.7,34.6 L222.0,35.2 L222.3,35.9 L222.6,36.6 L222.8,37.4 L222.9,38.4 L222.9,39.4 L222.8,40.4 L222.7,41.1 L222.6,42.1 L222.4,42.9 L222.3,43.9 L222.3,44.9 L222.3,45.9 L222.3,46.9 L222.3,47.9 L222.2,48.6 L222.0,49.6 L221.8,50.4 L221.5,51.0 L221.2,51.6 L220.8,52.2 L220.2,52.7 L219.8,53.1 L219.0,53.6 L218.2,53.8Z M217.8,54.9 L216.8,54.9 L216.0,54.7 L215.2,54.5 L214.6,54.1 L214.0,53.7 L213.5,53.2 L213.0,52.6 L212.6,52.1 L212.3,51.4 L212.0,50.7 L211.8,49.9 L211.7,49.1 L211.6,48.1 L211.7,47.1 L211.8,46.4 L212.0,45.6 L212.2,44.8 L212.5,44.0 L212.8,43.2 L213.0,42.4 L213.1,41.6 L213.1,40.6 L213.1,39.6 L213.1,38.6 L213.2,37.6 L213.4,36.9 L213.6,36.1 L213.8,35.4 L214.1,34.6 L214.5,34.0 L214.9,33.4 L215.4,32.9 L215.9,32.4 L216.5,32.0 L217.2,31.6 L218.0,31.5 L219.0,31.5 L219.8,31.6 L220.5,32.0 L221.1,32.4 L221.6,32.9 L222.1,33.4 L222.5,34.0 L222.9,34.6 L223.2,35.4 L223.4,36.1 L223.6,36.9 L223.8,37.6 L223.8,38.6 L223.8,39.6 L223.8,40.6 L223.7,41.4 L223.6,42.4 L223.5,43.1 L223.4,44.1 L223.3,45.1 L223.2,46.0 L223.2,46.9 L223.1,47.9 L223.0,48.9 L222.9,49.6 L222.7,50.4 L222.4,51.1 L222.0,51.8 L221.7,52.4 L221.2,52.9 L220.8,53.5 L220.2,53.9 L219.5,54.3 L218.9,54.6 L218.0,54.8Z M218.5,55.6 L217.5,55.7 L216.5,55.7 L215.8,55.5 L215.0,55.2 L214.4,54.9 L213.8,54.4 L213.2,54.0 L212.8,53.4 L212.3,52.9 L212.0,52.3 L211.6,51.6 L211.3,50.9 L211.2,50.1 L211.0,49.1 L211.0,48.4 L211.0,47.4 L211.1,46.6 L211.2,45.8 L211.5,44.9 L211.7,44.1 L211.9,43.4 L212.1,42.6 L212.2,41.6 L212.3,40.9 L212.3,39.9 L212.3,38.9 L212.4,37.9 L212.5,37.1 L212.7,36.1 L212.9,35.4 L213.2,34.6 L213.5,33.9 L213.8,33.4 L214.2,32.7 L214.8,32.1 L215.2,31.6 L215.8,31.2 L216.4,30.9 L217.0,30.6 L218.0,30.4 L218.8,30.3 L219.5,30.4 L220.2,30.7 L221.0,31.1 L221.5,31.4 L222.0,31.9 L222.5,32.4 L223.0,33.1 L223.3,33.6 L223.7,34.4 L224.0,35.1 L224.2,35.9 L224.4,36.6 L224.5,37.4 L224.6,38.4 L224.7,39.4 L224.6,40.4 L224.6,41.4 L224.5,42.1 L224.4,43.1 L224.3,44.1 L224.2,44.9 L224.1,45.9 L224.0,46.9 L224.0,47.6 L223.8,48.6 L223.7,49.4 L223.5,50.1 L223.2,50.9 L223.0,51.6 L222.6,52.4 L222.2,52.9 L221.8,53.6 L221.2,54.1 L220.8,54.5 L220.2,54.9 L219.5,55.3 L218.8,55.5Z M218.8,56.4 L217.8,56.5 L216.8,56.5 L216.0,56.3 L215.2,56.1 L214.5,55.7 L213.9,55.4 L213.2,54.9 L212.8,54.4 L212.3,53.9 L211.9,53.4 L211.5,52.7 L211.2,52.1 L210.9,51.4 L210.7,50.6 L210.5,49.8 L210.4,48.9 L210.4,47.9 L210.4,46.9 L210.6,46.1 L210.8,45.2 L210.9,44.4 L211.1,43.6 L211.3,42.9 L211.4,41.9 L211.5,41.1 L211.5,40.1 L211.6,39.1 L211.6,38.1 L211.8,37.2 L211.9,36.4 L212.1,35.6 L212.3,34.9 L212.6,34.1 L212.9,33.4 L213.2,32.8 L213.7,32.1 L214.1,31.6 L214.5,31.1 L215.1,30.6 L215.8,30.1 L216.3,29.9 L217.0,29.6 L218.0,29.4 L218.8,29.3 L219.5,29.4 L220.2,29.7 L221.0,30.0 L221.6,30.4 L222.2,30.9 L222.7,31.4 L223.1,31.9 L223.5,32.4 L223.9,33.1 L224.2,33.7 L224.5,34.4 L224.8,35.1 L225.0,35.9 L225.2,36.9 L225.3,37.6 L225.4,38.6 L225.4,39.6 L225.4,40.6 L225.3,41.6 L225.2,42.4 L225.1,43.4 L225.0,44.4 L225.0,45.1 L224.9,46.1 L224.8,47.1 L224.7,47.9 L224.5,48.9 L224.4,49.6 L224.2,50.4 L223.9,51.1 L223.6,51.9 L223.3,52.6 L223.0,53.1 L222.5,53.8 L222.1,54.4 L221.6,54.9 L221.0,55.3 L220.5,55.7 L219.8,56.0 L219.0,56.3Z M219.0,57.1 L218.0,57.3 L217.0,57.3 L216.1,57.1 L215.3,56.9 L214.7,56.6 L214.0,56.2 L213.5,55.9 L212.8,55.4 L212.3,54.9 L211.9,54.4 L211.5,53.8 L211.1,53.1 L210.8,52.5 L210.5,51.9 L210.2,51.1 L210.0,50.2 L209.9,49.4 L209.8,48.4 L209.8,47.4 L209.9,46.4 L210.1,45.6 L210.2,44.7 L210.4,43.9 L210.6,43.1 L210.7,42.1 L210.8,41.4 L210.9,40.4 L210.9,39.4 L211.0,38.4 L211.0,37.6 L211.2,36.6 L211.3,35.9 L211.5,35.1 L211.8,34.4 L212.0,33.6 L212.4,32.9 L212.8,32.2 L213.1,31.6 L213.5,31.1 L214.0,30.5 L214.5,30.0 L215.1,29.6 L215.8,29.1 L216.4,28.9 L217.1,28.6 L218.0,28.4 L219.0,28.4 L219.9,28.6 L220.6,28.9 L221.2,29.1 L221.9,29.6 L222.5,30.0 L223.0,30.5 L223.5,31.1 L223.9,31.6 L224.2,32.2 L224.6,32.9 L225.0,33.6 L225.2,34.4 L225.5,35.1 L225.7,35.9 L225.8,36.6 L226.0,37.6 L226.0,38.4 L226.1,39.4 L226.1,40.4 L226.0,41.4 L226.0,42.1 L225.9,43.1 L225.8,44.1 L225.7,44.9 L225.6,45.9 L225.5,46.9 L225.4,47.6 L225.3,48.6 L225.1,49.4 L224.9,50.1 L224.7,50.9 L224.5,51.6 L224.2,52.4 L223.8,53.1 L223.5,53.6 L223.0,54.3 L222.6,54.9 L222.1,55.4 L221.6,55.9 L221.0,56.3 L220.4,56.6 L219.8,56.9 L219.0,57.1Z M219.2,57.9 L218.2,58.1 L217.2,58.1 L216.2,57.9 L215.5,57.7 L214.8,57.4 L214.2,57.1 L213.5,56.6 L213.0,56.3 L212.5,55.8 L212.0,55.3 L211.5,54.7 L211.0,54.1 L210.7,53.6 L210.3,52.9 L210.0,52.1 L209.8,51.4 L209.6,50.6 L209.4,49.9 L209.3,48.9 L209.3,47.9 L209.4,46.9 L209.5,45.9 L209.6,45.1 L209.8,44.4 L209.9,43.4 L210.1,42.6 L210.2,41.6 L210.2,40.6 L210.3,39.9 L210.3,38.9 L210.4,37.9 L210.5,36.9 L210.6,36.1 L210.8,35.4 L211.0,34.6 L211.3,33.9 L211.6,33.1 L211.9,32.4 L212.2,31.7 L212.6,31.1 L213.0,30.6 L213.5,30.0 L214.0,29.5 L214.5,29.0 L215.1,28.6 L215.8,28.2 L216.5,27.9 L217.2,27.7 L218.0,27.5 L219.0,27.5 L219.8,27.7 L220.5,27.9 L221.2,28.2 L221.9,28.6 L222.5,29.0 L223.0,29.5 L223.5,30.0 L224.0,30.6 L224.4,31.1 L224.8,31.7 L225.1,32.4 L225.4,33.1 L225.7,33.9 L226.0,34.6 L226.2,35.4 L226.4,36.1 L226.5,37.0 L226.6,37.9 L226.7,38.9 L226.7,39.9 L226.7,40.9 L226.6,41.9 L226.6,42.9 L226.5,43.8 L226.4,44.6 L226.3,45.6 L226.2,46.4 L226.1,47.4 L226.0,48.1 L225.8,49.1 L225.7,49.9 L225.5,50.6 L225.2,51.4 L225.0,52.1 L224.7,52.9 L224.3,53.6 L224.0,54.1 L223.5,54.8 L223.1,55.4 L222.7,55.9 L222.1,56.4 L221.5,56.9 L221.0,57.2 L220.2,57.6 L219.5,57.8Z M218.8,58.9 L217.8,58.9 L217.0,58.8 L216.0,58.6 L215.3,58.4 L214.7,58.1 L214.0,57.7 L213.5,57.4 L212.8,56.9 L212.2,56.4 L211.8,55.9 L211.3,55.4 L210.9,54.9 L210.5,54.2 L210.1,53.6 L209.8,52.9 L209.5,52.1 L209.3,51.4 L209.1,50.6 L208.9,49.9 L208.8,48.9 L208.8,47.9 L208.9,46.9 L209.0,45.9 L209.1,45.1 L209.2,44.2 L209.4,43.4 L209.5,42.5 L209.6,41.6 L209.6,40.6 L209.7,39.6 L209.8,38.6 L209.8,37.9 L209.9,36.9 L210.1,36.1 L210.2,35.2 L210.5,34.4 L210.7,33.6 L211.0,32.9 L211.2,32.3 L211.6,31.6 L212.0,30.9 L212.4,30.4 L212.8,29.8 L213.2,29.2 L213.8,28.7 L214.2,28.3 L214.8,27.9 L215.5,27.4 L216.2,27.1 L217.0,26.9 L217.8,26.7 L218.8,26.7 L219.8,26.8 L220.5,27.0 L221.2,27.3 L221.8,27.6 L222.5,28.1 L223.0,28.5 L223.5,29.0 L224.0,29.5 L224.5,30.1 L224.8,30.6 L225.2,31.3 L225.5,31.9 L225.9,32.6 L226.2,33.4 L226.5,34.1 L226.7,34.9 L226.8,35.6 L227.0,36.4 L227.1,37.4 L227.2,38.4 L227.3,39.1 L227.3,40.1 L227.3,41.1 L227.2,41.9 L227.2,42.9 L227.1,43.9 L227.0,44.9 L227.0,45.6 L226.9,46.6 L226.8,47.4 L226.6,48.4 L226.5,49.1 L226.2,50.1 L226.1,50.9 L225.8,51.6 L225.6,52.4 L225.2,53.1 L225.0,53.6 L224.6,54.4 L224.2,55.0 L223.8,55.6 L223.4,56.1 L223.0,56.6 L222.4,57.1 L221.8,57.6 L221.2,58.0 L220.5,58.4 L219.9,58.6 L219.0,58.8Z" fill="none" stroke="#141414" stroke-width="0.5"/><path d="M218.8,58.9 L217.8,58.9 L217.0,58.8 L216.0,58.6 L215.3,58.4 L214.7,58.1 L214.0,57.7 L213.5,57.4 L212.8,56.9 L212.2,56.4 L211.8,55.9 L211.3,55.4 L210.9,54.9 L210.5,54.2 L210.1,53.6 L209.8,52.9 L209.5,52.1 L209.3,51.4 L209.1,50.6 L208.9,49.9 L208.8,48.9 L208.8,47.9 L208.9,46.9 L209.0,45.9 L209.1,45.1 L209.2,44.2 L209.4,43.4 L209.5,42.5 L209.6,41.6 L209.6,40.6 L209.7,39.6 L209.8,38.6 L209.8,37.9 L209.9,36.9 L210.1,36.1 L210.2,35.2 L210.5,34.4 L210.7,33.6 L211.0,32.9 L211.2,32.3 L211.6,31.6 L212.0,30.9 L212.4,30.4 L212.8,29.8 L213.2,29.2 L213.8,28.7 L214.2,28.3 L214.8,27.9 L215.5,27.4 L216.2,27.1 L217.0,26.9 L217.8,26.7 L218.8,26.7 L219.8,26.8 L220.5,27.0 L221.2,27.3 L221.8,27.6 L222.5,28.1 L223.0,28.5 L223.5,29.0 L224.0,29.5 L224.5,30.1 L224.8,30.6 L225.2,31.3 L225.5,31.9 L225.9,32.6 L226.2,33.4 L226.5,34.1 L226.7,34.9 L226.8,35.6 L227.0,36.4 L227.1,37.4 L227.2,38.4 L227.3,39.1 L227.3,40.1 L227.3,41.1 L227.2,41.9 L227.2,42.9 L227.1,43.9 L227.0,44.9 L227.0,45.6 L226.9,46.6 L226.8,47.4 L226.6,48.4 L226.5,49.1 L226.2,50.1 L226.1,50.9 L225.8,51.6 L225.6,52.4 L225.2,53.1 L225.0,53.6 L224.6,54.4 L224.2,55.0 L223.8,55.6 L223.4,56.1 L223.0,56.6 L222.4,57.1 L221.8,57.6 L221.2,58.0 L220.5,58.4 L219.9,58.6 L219.0,58.8Z" fill="none" stroke="#141414" stroke-width="1.1"/>
<path d="M248.8,44.4 L247.8,44.4 L247.0,44.3 L246.1,44.1 L245.5,43.6 L246.0,43.0 L246.8,42.7 L247.8,42.6 L248.8,42.6 L249.7,42.9 L250.3,43.1 L250.2,43.9 L249.5,44.2 L248.8,44.4Z M250.0,45.1 L249.0,45.3 L248.0,45.3 L247.0,45.3 L246.0,45.1 L245.2,45.0 L244.5,44.8 L243.8,44.4 L243.2,44.1 L243.1,43.1 L243.7,42.6 L244.2,42.3 L245.0,42.1 L246.0,41.9 L246.8,41.8 L247.8,41.7 L248.8,41.7 L249.8,41.8 L250.5,42.0 L251.2,42.1 L252.0,42.4 L252.7,42.9 L253.0,43.6 L252.5,44.3 L251.9,44.6 L251.2,44.9 L250.2,45.1Z M249.8,46.1 L248.8,46.2 L247.8,46.2 L246.8,46.1 L246.0,46.1 L245.0,46.0 L244.2,45.8 L243.3,45.6 L242.6,45.4 L242.0,45.1 L241.2,44.7 L240.8,44.2 L240.5,43.4 L240.9,42.6 L241.5,42.2 L242.1,41.9 L242.8,41.6 L243.5,41.4 L244.5,41.1 L245.2,41.0 L246.2,40.9 L247.0,40.8 L248.0,40.8 L249.0,40.8 L249.8,40.9 L250.8,41.0 L251.5,41.1 L252.5,41.4 L253.2,41.6 L253.9,41.9 L254.5,42.2 L255.1,42.6 L255.5,43.4 L255.2,44.2 L254.8,44.7 L254.0,45.1 L253.4,45.4 L252.7,45.6 L251.8,45.8 L251.0,46.0 L250.0,46.1Z M251.2,46.9 L250.2,47.0 L249.2,47.0 L248.2,47.1 L247.2,47.1 L246.2,47.0 L245.2,46.9 L244.5,46.8 L243.5,46.7 L242.8,46.5 L242.0,46.4 L241.1,46.1 L240.5,45.9 L239.8,45.5 L239.1,45.1 L238.5,44.6 L238.1,44.1 L238.0,43.6 L238.2,42.7 L238.8,42.1 L239.2,41.8 L240.0,41.4 L240.6,41.1 L241.3,40.9 L242.2,40.6 L243.0,40.4 L243.8,40.3 L244.8,40.1 L245.5,40.0 L246.5,40.0 L247.5,39.9 L248.5,39.9 L249.5,40.0 L250.5,40.0 L251.2,40.1 L252.2,40.3 L253.0,40.4 L253.8,40.6 L254.7,40.9 L255.4,41.1 L256.0,41.4 L256.8,41.8 L257.2,42.1 L257.8,42.7 L258.0,43.6 L257.9,44.1 L257.5,44.6 L256.9,45.1 L256.2,45.5 L255.5,45.9 L254.9,46.1 L254.0,46.4 L253.2,46.5 L252.5,46.7 L251.5,46.8Z M250.8,47.9 L249.8,47.9 L248.8,48.0 L247.8,48.0 L246.8,47.9 L245.8,47.9 L245.0,47.8 L244.0,47.7 L243.0,47.6 L242.2,47.5 L241.5,47.3 L240.6,47.1 L239.8,46.9 L239.0,46.6 L238.4,46.4 L237.8,46.1 L237.0,45.6 L236.5,45.3 L236.0,44.7 L235.6,44.1 L235.5,43.6 L235.8,42.6 L236.1,42.1 L236.7,41.6 L237.2,41.2 L237.9,40.9 L238.5,40.6 L239.2,40.3 L240.0,40.1 L240.8,39.9 L241.8,39.6 L242.5,39.5 L243.4,39.4 L244.2,39.2 L245.2,39.1 L246.0,39.1 L247.0,39.0 L248.0,39.0 L249.0,39.0 L250.0,39.1 L250.8,39.1 L251.8,39.2 L252.6,39.4 L253.5,39.5 L254.2,39.6 L255.2,39.9 L256.0,40.1 L256.8,40.3 L257.5,40.6 L258.1,40.9 L258.8,41.2 L259.3,41.6 L259.9,42.1 L260.2,42.6 L260.5,43.6 L260.4,44.1 L260.0,44.7 L259.5,45.3 L259.0,45.6 L258.2,46.1 L257.6,46.4 L257.0,46.6 L256.2,46.9 L255.4,47.1 L254.5,47.3 L253.8,47.5 L253.0,47.6 L252.0,47.7 L251.0,47.8Z M248.8,48.9 L247.8,48.9 L247.0,48.8 L246.0,48.8 L245.0,48.8 L244.0,48.7 L243.2,48.6 L242.2,48.5 L241.5,48.3 L240.5,48.1 L239.8,48.0 L239.0,47.8 L238.2,47.6 L237.5,47.3 L236.8,47.0 L236.0,46.7 L235.3,46.4 L234.8,46.0 L234.2,45.6 L233.7,45.1 L233.2,44.5 L233.0,43.6 L233.0,43.1 L233.3,42.4 L233.8,41.8 L234.3,41.4 L235.0,40.9 L235.5,40.5 L236.2,40.2 L237.0,39.9 L237.7,39.6 L238.5,39.4 L239.2,39.1 L240.0,39.0 L240.8,38.8 L241.8,38.6 L242.5,38.5 L243.5,38.4 L244.2,38.3 L245.2,38.2 L246.2,38.2 L247.2,38.1 L248.2,38.1 L249.2,38.2 L250.2,38.2 L251.2,38.3 L252.1,38.4 L253.0,38.4 L254.0,38.6 L254.8,38.7 L255.5,38.9 L256.5,39.1 L257.2,39.3 L258.0,39.5 L258.8,39.8 L259.5,40.1 L260.1,40.4 L260.8,40.7 L261.4,41.1 L262.0,41.6 L262.5,42.1 L262.8,42.6 L263.0,43.6 L262.9,44.1 L262.5,44.9 L262.1,45.4 L261.5,45.8 L261.0,46.2 L260.2,46.6 L259.7,46.9 L259.0,47.1 L258.2,47.4 L257.5,47.6 L256.8,47.9 L255.8,48.1 L255.0,48.2 L254.2,48.4 L253.2,48.5 L252.5,48.6 L251.5,48.7 L250.5,48.8 L249.5,48.8 L248.8,48.9Z M251.8,49.6 L250.8,49.7 L249.8,49.7 L248.8,49.8 L247.8,49.8 L246.8,49.7 L245.8,49.7 L244.8,49.6 L244.0,49.6 L243.0,49.5 L242.0,49.4 L241.2,49.3 L240.2,49.1 L239.5,49.0 L238.8,48.8 L237.9,48.6 L237.0,48.4 L236.2,48.1 L235.5,47.9 L234.8,47.6 L234.2,47.4 L233.5,47.0 L232.8,46.6 L232.2,46.2 L231.8,45.8 L231.2,45.3 L230.8,44.6 L230.5,43.9 L230.5,43.4 L230.8,42.4 L231.1,41.9 L231.6,41.4 L232.1,40.9 L232.8,40.4 L233.3,40.1 L234.0,39.7 L234.8,39.4 L235.5,39.1 L236.2,38.9 L237.0,38.6 L237.8,38.4 L238.5,38.2 L239.2,38.1 L240.2,37.9 L241.0,37.8 L242.0,37.6 L242.8,37.5 L243.8,37.4 L244.8,37.4 L245.5,37.3 L246.5,37.3 L247.5,37.2 L248.5,37.2 L249.5,37.3 L250.5,37.3 L251.2,37.4 L252.2,37.4 L253.2,37.5 L254.0,37.6 L255.0,37.8 L255.8,37.9 L256.8,38.1 L257.5,38.2 L258.2,38.4 L259.0,38.6 L259.8,38.9 L260.5,39.1 L261.2,39.4 L262.0,39.7 L262.7,40.1 L263.2,40.4 L263.9,40.9 L264.4,41.4 L264.9,41.9 L265.2,42.4 L265.5,43.4 L265.5,43.9 L265.2,44.6 L264.8,45.3 L264.2,45.8 L263.8,46.2 L263.2,46.6 L262.5,47.0 L261.8,47.4 L261.2,47.6 L260.5,47.9 L259.8,48.1 L259.0,48.4 L258.1,48.6 L257.2,48.8 L256.5,49.0 L255.8,49.1 L254.8,49.3 L254.0,49.4 L253.0,49.5 L252.0,49.6Z" fill="none" stroke="#555" stroke-width="0.42"/>
<path d="M253.0,57.4 L252.0,57.4 L251.0,57.5 L250.0,57.5 L249.0,57.5 L248.0,57.4 L247.0,57.4 L246.2,57.3 L245.2,57.1 L244.5,56.9 L243.8,56.7 L243.2,56.4 L243.2,55.6 L244.0,55.2 L244.8,55.0 L245.5,54.8 L246.5,54.7 L247.4,54.6 L248.2,54.5 L249.2,54.5 L250.2,54.5 L251.2,54.5 L252.2,54.6 L253.0,54.6 L254.0,54.8 L254.8,54.9 L255.6,55.1 L256.3,55.4 L257.0,55.9 L256.5,56.6 L255.8,56.9 L255.0,57.1 L254.2,57.2 L253.2,57.3Z M251.2,58.1 L250.2,58.1 L249.2,58.1 L248.5,58.1 L247.5,58.1 L246.5,58.0 L245.5,57.9 L244.8,57.8 L243.8,57.6 L243.0,57.5 L242.2,57.3 L241.5,57.1 L240.8,56.8 L240.2,56.4 L240.3,55.6 L241.0,55.1 L241.7,54.9 L242.5,54.6 L243.2,54.4 L244.0,54.3 L245.0,54.2 L245.8,54.1 L246.8,54.0 L247.8,53.9 L248.8,53.9 L249.8,53.9 L250.8,53.9 L251.8,53.9 L252.8,54.0 L253.8,54.0 L254.5,54.1 L255.5,54.2 L256.2,54.4 L257.2,54.6 L258.0,54.7 L258.8,55.0 L259.4,55.4 L259.9,55.9 L259.5,56.6 L259.0,56.9 L258.2,57.2 L257.5,57.4 L256.5,57.6 L255.8,57.7 L254.9,57.9 L254.0,57.9 L253.0,58.0 L252.0,58.1 L251.2,58.1Z M255.0,58.4 L254.0,58.5 L253.0,58.5 L252.0,58.6 L251.0,58.6 L250.0,58.6 L249.0,58.6 L248.0,58.6 L247.0,58.5 L246.0,58.5 L245.0,58.4 L244.2,58.3 L243.2,58.2 L242.5,58.0 L241.5,57.9 L240.8,57.7 L240.0,57.5 L239.2,57.2 L238.5,56.9 L238.0,56.4 L238.0,55.6 L238.5,55.2 L239.1,54.9 L239.8,54.6 L240.6,54.4 L241.5,54.1 L242.2,54.0 L243.2,53.9 L244.0,53.7 L245.0,53.6 L245.8,53.6 L246.8,53.5 L247.8,53.4 L248.8,53.4 L249.8,53.4 L250.8,53.4 L251.8,53.4 L252.8,53.5 L253.8,53.5 L254.7,53.6 L255.5,53.7 L256.5,53.8 L257.2,53.9 L258.2,54.1 L259.0,54.3 L259.8,54.5 L260.5,54.7 L261.2,55.0 L261.8,55.4 L262.1,56.1 L261.8,56.6 L261.0,57.1 L260.4,57.4 L259.6,57.6 L258.8,57.8 L258.0,58.0 L257.2,58.1 L256.2,58.2 L255.2,58.3Z M254.2,58.9 L253.2,58.9 L252.2,59.0 L251.2,59.0 L250.2,59.0 L249.2,59.0 L248.2,59.0 L247.2,59.0 L246.2,58.9 L245.5,58.8 L244.5,58.8 L243.5,58.7 L242.8,58.6 L241.8,58.4 L241.0,58.3 L240.0,58.1 L239.2,57.9 L238.5,57.7 L237.8,57.5 L237.0,57.1 L236.5,56.8 L236.0,56.1 L236.3,55.4 L237.0,54.9 L237.6,54.6 L238.3,54.4 L239.2,54.1 L240.0,53.9 L240.8,53.7 L241.6,53.6 L242.5,53.5 L243.4,53.4 L244.2,53.3 L245.2,53.2 L246.2,53.1 L247.0,53.1 L248.0,53.0 L249.0,53.0 L250.0,53.0 L251.0,53.0 L252.0,53.0 L253.0,53.1 L253.8,53.1 L254.8,53.2 L255.8,53.3 L256.6,53.4 L257.5,53.5 L258.4,53.6 L259.2,53.7 L260.0,53.9 L260.8,54.1 L261.7,54.4 L262.4,54.6 L263.0,54.9 L263.7,55.4 L264.0,56.1 L263.5,56.8 L263.0,57.1 L262.2,57.5 L261.5,57.7 L260.8,57.9 L260.0,58.1 L259.0,58.3 L258.2,58.4 L257.2,58.6 L256.5,58.7 L255.5,58.8 L254.5,58.8Z" fill="none" stroke="#666" stroke-width="0.4"/>
<path d="M228.0,60.9 L227.0,60.9 L226.0,60.9 L225.2,60.8 L224.2,60.6 L223.5,60.4 L222.9,60.1 L222.5,59.4 L223.0,58.9 L223.8,58.5 L224.5,58.3 L225.5,58.2 L226.5,58.1 L227.2,58.1 L228.0,58.1 L229.0,58.2 L229.8,58.4 L230.5,58.6 L231.2,59.0 L231.4,59.9 L230.8,60.3 L230.0,60.5 L229.2,60.7 L228.2,60.8Z M229.2,61.4 L228.2,61.4 L227.2,61.5 L226.2,61.5 L225.2,61.4 L224.5,61.3 L223.5,61.2 L222.8,61.0 L222.0,60.7 L221.2,60.4 L220.8,59.9 L220.8,59.1 L221.2,58.6 L221.8,58.4 L222.5,58.1 L223.5,57.9 L224.2,57.7 L225.2,57.6 L226.0,57.5 L227.0,57.5 L228.0,57.5 L228.8,57.6 L229.8,57.7 L230.5,57.9 L231.5,58.1 L232.2,58.4 L232.8,58.6 L233.2,59.1 L233.2,59.9 L232.8,60.4 L232.0,60.7 L231.2,61.0 L230.5,61.2 L229.5,61.3Z M228.8,61.9 L227.8,61.9 L226.8,61.9 L225.8,61.9 L225.0,61.8 L224.0,61.7 L223.1,61.6 L222.2,61.4 L221.5,61.2 L220.8,61.0 L220.0,60.6 L219.5,60.2 L219.2,59.6 L219.5,58.9 L220.0,58.4 L220.6,58.1 L221.3,57.9 L222.1,57.6 L223.0,57.4 L223.8,57.3 L224.8,57.2 L225.8,57.1 L226.5,57.1 L227.5,57.1 L228.2,57.1 L229.2,57.2 L230.2,57.3 L231.0,57.4 L231.9,57.6 L232.7,57.9 L233.4,58.1 L234.0,58.4 L234.5,58.9 L234.8,59.6 L234.5,60.2 L234.0,60.6 L233.2,61.0 L232.5,61.2 L231.8,61.4 L230.9,61.6 L230.0,61.7 L229.0,61.8Z" fill="none" stroke="#666" stroke-width="0.4"/>
<ellipse cx="218.7" cy="39.2" rx="11.7" ry="19.7" fill="none" stroke="#b8284e" stroke-width="1.3"/>
<ellipse cx="251.4" cy="42.7" rx="20.5" ry="8.7" fill="none" stroke="#55d63c" stroke-width="1.3"/>
<ellipse cx="251.4" cy="56.7" rx="16" ry="4.5" fill="none" stroke="#bf3adc" stroke-width="1.3"/>
<ellipse cx="228.6" cy="64.5" rx="10.2" ry="8.5" fill="none" stroke="#3a5ad0" stroke-width="1.3"/>
<text x="203.1" y="16.6" class="pv" textLength="10.7" lengthAdjust="spacingAndGlyphs">78.5</text>
<text x="262.8" y="26.4" class="pv" textLength="10.2" lengthAdjust="spacingAndGlyphs">15.0</text>
<text x="260.5" y="70.8" class="pv" textLength="6.8" lengthAdjust="spacingAndGlyphs">0.4</text>
<text x="210.4" y="79.3" class="pv" textLength="8.0" lengthAdjust="spacingAndGlyphs">2.2</text>
<text x="258.7" y="83.3" class="dl" textLength="17.3" lengthAdjust="spacingAndGlyphs">Day 4</text>
<path d="M334.0,39.3h0.6M325.6,32.1h0.6M338.4,37.5h0.6M340.2,37.3h0.6M334.4,34.8h0.6M326.8,35.7h0.6M331.5,38.2h0.6M343.6,33.4h0.6M344.6,36.2h0.6M349.7,39.5h0.6M343.0,32.3h0.6M344.2,32.8h0.6M355.3,34.8h0.6M334.0,40.3h0.6M314.9,36.3h0.6M323.3,35.1h0.6M326.6,37.8h0.6M332.7,37.0h0.6M344.1,32.4h0.6M353.3,35.7h0.6M316.2,34.8h0.6M346.9,38.5h0.6M328.0,36.5h0.6M339.3,38.6h0.6M334.7,38.4h0.6M325.5,34.6h0.6M344.5,37.9h0.6M335.8,37.6h0.6M338.9,38.0h0.6M350.6,37.4h0.6M346.4,35.4h0.6M329.6,31.0h0.6M341.4,36.3h0.6M342.9,32.1h0.6M330.5,35.0h0.6M314.3,38.3h0.6M351.3,33.4h0.6M341.8,40.1h0.6M321.5,38.5h0.6M355.8,40.4h0.6M319.7,33.9h0.6M339.0,39.0h0.6M321.0,34.6h0.6M322.7,38.7h0.6M329.5,37.5h0.6M344.3,38.9h0.6M341.5,37.0h0.6M350.6,37.3h0.6M320.9,35.0h0.6M347.5,36.6h0.6M332.1,36.8h0.6M342.3,37.3h0.6M333.1,38.9h0.6M347.0,37.2h0.6M319.8,39.1h0.6M345.8,36.1h0.6M303.3,36.1h0.6M321.5,35.7h0.6M330.1,34.4h0.6M348.9,36.5h0.6M351.6,34.1h0.6M334.0,39.3h0.6M340.4,34.6h0.6M325.4,34.9h0.6M335.4,37.8h0.6M338.2,38.0h0.6M346.7,36.5h0.6M352.3,37.9h0.6M334.1,35.9h0.6M336.2,34.6h0.6M319.8,36.3h0.6M330.1,37.6h0.6M329.0,36.5h0.6M338.8,35.2h0.6M338.8,34.6h0.6M331.1,38.1h0.6M341.2,36.2h0.6M326.7,37.8h0.6M349.3,36.7h0.6M349.9,38.9h0.6M323.8,40.2h0.6M329.0,35.7h0.6M344.1,36.1h0.6M339.6,35.1h0.6M323.5,36.3h0.6M322.9,39.3h0.6M339.3,39.4h0.6M320.9,31.5h0.6M308.2,35.4h0.6M320.4,37.0h0.6M318.3,33.1h0.6M339.8,35.3h0.6M344.7,38.1h0.6M340.7,33.5h0.6M325.6,41.4h0.6M333.5,36.9h0.6M337.8,36.2h0.6M334.2,35.0h0.6M329.9,31.7h0.6M356.8,36.0h0.6M320.1,37.4h0.6M344.5,33.0h0.6M329.9,39.6h0.6M343.0,37.2h0.6M348.5,35.9h0.6M332.7,39.8h0.6M334.0,36.1h0.6M344.1,36.3h0.6M321.1,40.5h0.6M335.4,40.3h0.6M342.5,34.2h0.6M355.3,35.8h0.6M325.7,36.2h0.6M309.9,37.1h0.6M327.3,35.7h0.6M325.3,37.8h0.6M340.7,38.7h0.6M356.8,36.9h0.6M337.4,36.9h0.6M326.3,35.0h0.6M345.6,34.3h0.6M312.4,35.4h0.6M339.4,39.5h0.6M327.5,34.1h0.6M337.5,35.9h0.6M339.3,35.1h0.6M338.7,34.9h0.6M348.3,36.9h0.6M343.3,35.2h0.6M318.6,36.3h0.6M335.6,38.7h0.6M348.1,36.1h0.6M335.7,34.0h0.6M335.7,36.7h0.6M331.1,33.8h0.6M351.9,34.1h0.6M356.5,38.9h0.6M355.1,34.3h0.6M343.9,33.1h0.6M331.8,32.8h0.6M327.2,35.1h0.6M347.9,38.6h0.6M331.6,35.6h0.6M324.6,33.7h0.6M314.3,35.7h0.6M343.4,34.5h0.6M340.6,33.6h0.6M323.8,35.0h0.6M346.9,35.0h0.6M345.4,35.4h0.6M322.6,31.7h0.6M330.3,34.0h0.6M347.1,37.2h0.6M316.1,38.1h0.6M342.5,29.7h0.6M323.3,36.7h0.6M316.6,34.6h0.6M342.3,36.7h0.6M341.5,37.5h0.6M325.3,41.5h0.6M342.3,40.9h0.6M332.8,37.4h0.6M340.1,35.8h0.6M339.8,36.8h0.6M345.8,36.9h0.6M336.7,37.3h0.6M353.5,36.3h0.6M343.3,36.5h0.6M312.2,34.2h0.6M324.8,33.1h0.6M328.4,32.3h0.6M339.2,35.0h0.6M350.8,37.0h0.6M320.5,35.7h0.6M336.5,34.7h0.6M331.6,33.8h0.6M327.1,36.8h0.6M331.9,38.8h0.6M310.3,34.4h0.6M331.4,39.4h0.6M349.3,37.8h0.6M347.6,39.7h0.6M344.0,35.6h0.6M338.0,34.6h0.6M333.1,37.0h0.6M329.7,36.4h0.6M330.6,33.2h0.6M318.5,37.7h0.6M336.1,38.0h0.6M334.5,36.1h0.6M338.9,35.4h0.6M352.3,38.3h0.6M340.4,33.8h0.6M329.2,36.6h0.6M349.5,36.0h0.6M335.3,37.3h0.6M337.0,35.8h0.6M322.0,38.8h0.6M334.9,35.0h0.6M334.2,33.2h0.6M315.3,32.2h0.6M339.9,33.2h0.6M336.7,33.5h0.6M314.0,34.7h0.6M326.5,34.5h0.6M356.0,36.5h0.6M328.2,38.0h0.6M331.4,38.7h0.6M316.5,38.4h0.6M322.3,34.4h0.6M337.7,33.7h0.6M315.5,35.2h0.6M331.6,32.4h0.6M346.9,34.2h0.6M327.7,35.5h0.6M335.7,38.3h0.6M309.3,36.0h0.6M345.7,36.5h0.6M334.2,33.6h0.6M339.1,34.9h0.6M336.7,33.7h0.6M331.3,35.7h0.6M317.3,38.3h0.6M333.6,33.2h0.6M332.0,36.3h0.6M330.9,33.7h0.6M332.3,33.0h0.6M315.0,38.6h0.6M355.5,40.1h0.6M323.8,34.8h0.6M348.2,35.0h0.6M330.8,36.0h0.6M340.1,33.0h0.6M335.4,37.1h0.6M310.4,38.5h0.6M344.2,34.2h0.6M357.0,36.9h0.6M340.8,39.4h0.6M304.1,36.0h0.6M347.8,39.1h0.6M334.6,35.6h0.6M325.8,35.3h0.6M324.7,30.7h0.6M328.0,33.8h0.6M327.8,35.0h0.6M329.2,36.2h0.6M334.2,35.2h0.6M327.6,35.8h0.6M331.2,35.7h0.6M351.6,36.5h0.6M330.2,31.5h0.6M317.5,29.5h0.6M345.5,38.4h0.6M330.1,35.0h0.6M340.7,37.3h0.6M314.1,35.4h0.6M331.2,33.2h0.6M352.0,37.6h0.6M327.7,35.9h0.6M328.4,34.9h0.6M330.3,38.2h0.6M335.0,35.0h0.6M326.8,36.6h0.6M324.5,32.4h0.6M333.3,39.5h0.6M326.8,36.3h0.6M332.6,38.7h0.6M340.7,33.2h0.6M355.9,36.0h0.6M324.0,34.9h0.6M335.7,38.4h0.6M331.6,34.4h0.6M350.9,39.5h0.6M330.7,36.3h0.6M339.5,35.3h0.6M324.0,38.3h0.6M321.8,32.0h0.6M342.0,38.6h0.6M344.8,34.3h0.6M332.0,33.6h0.6M328.7,30.6h0.6M324.5,39.0h0.6M320.9,39.8h0.6M337.1,31.7h0.6M346.3,33.9h0.6M341.6,35.6h0.6M330.8,35.6h0.6M319.1,34.3h0.6M330.2,39.9h0.6M328.1,36.7h0.6M340.5,38.7h0.6M332.2,36.5h0.6M323.8,41.6h0.6M317.1,36.6h0.6M330.9,36.4h0.6M328.7,35.0h0.6M347.0,38.1h0.6M334.2,35.7h0.6M337.3,35.9h0.6M340.4,37.7h0.6M340.8,32.5h0.6M334.5,33.7h0.6M340.5,35.4h0.6M338.7,35.8h0.6M346.4,39.0h0.6M337.2,32.7h0.6M335.2,40.4h0.6M326.9,35.9h0.6M342.9,36.5h0.6M319.3,39.7h0.6M346.2,32.3h0.6M333.8,35.8h0.6M334.4,34.6h0.6M352.8,37.4h0.6M335.3,37.0h0.6M344.2,34.3h0.6M330.7,38.7h0.6M346.6,36.9h0.6M320.8,32.5h0.6M353.2,39.2h0.6M341.4,36.9h0.6M331.3,37.2h0.6M349.7,37.7h0.6M328.7,36.8h0.6M328.9,35.9h0.6M322.0,30.8h0.6M322.7,36.5h0.6M325.8,37.3h0.6M328.6,36.7h0.6M329.7,39.2h0.6M330.5,36.1h0.6M349.1,39.3h0.6M321.4,39.3h0.6M322.5,33.9h0.6M325.3,38.3h0.6M322.6,37.4h0.6M340.4,35.6h0.6M340.9,40.6h0.6M354.7,34.2h0.6M338.6,35.2h0.6M333.8,34.9h0.6M342.0,34.2h0.6M320.5,36.2h0.6M339.3,38.7h0.6M343.5,34.2h0.6M324.4,36.8h0.6M338.6,37.7h0.6M351.3,31.1h0.6M328.0,37.3h0.6M322.5,39.8h0.6M334.4,37.4h0.6M333.0,36.9h0.6M340.3,37.3h0.6M319.0,31.9h0.6M334.4,37.8h0.6M332.5,35.7h0.6M348.3,37.5h0.6M324.1,36.5h0.6M332.9,36.2h0.6M334.5,37.4h0.6M335.3,36.8h0.6M335.9,35.6h0.6M328.7,36.7h0.6M340.8,39.6h0.6M327.7,38.4h0.6M330.5,36.4h0.6M320.4,37.4h0.6M318.1,38.3h0.6M325.6,36.6h0.6M347.3,34.3h0.6M334.1,40.8h0.6M318.8,36.4h0.6M311.7,36.9h0.6M333.5,33.6h0.6M321.3,38.8h0.6M343.5,33.5h0.6M345.3,34.1h0.6M326.0,37.0h0.6M334.2,37.3h0.6M348.5,34.7h0.6M342.1,36.8h0.6M315.7,37.8h0.6M347.5,33.1h0.6M331.6,38.2h0.6M346.2,35.3h0.6M332.7,35.4h0.6M320.9,36.3h0.6M335.2,34.0h0.6M353.5,32.5h0.6M346.2,37.1h0.6M325.3,35.4h0.6M336.2,39.9h0.6M338.8,38.7h0.6M348.3,36.3h0.6M336.0,36.0h0.6M355.1,39.0h0.6M347.2,34.7h0.6M332.2,37.8h0.6M333.4,33.1h0.6M317.6,37.1h0.6M344.7,37.3h0.6M354.1,32.6h0.6M314.1,36.3h0.6M345.9,34.2h0.6M338.5,36.8h0.6M329.8,34.2h0.6M331.5,35.9h0.6M344.2,35.4h0.6M323.9,33.7h0.6M329.9,37.2h0.6M325.1,35.3h0.6M341.6,36.6h0.6M342.9,40.7h0.6M312.9,32.3h0.6M326.0,36.3h0.6M349.4,37.6h0.6M328.9,32.9h0.6M339.6,35.5h0.6M323.6,33.3h0.6M343.5,35.4h0.6M337.5,35.8h0.6M325.9,35.0h0.6M327.6,35.8h0.6M326.7,37.4h0.6M323.1,36.5h0.6M336.4,37.3h0.6M298.8,37.4h0.6M339.0,35.0h0.6M330.5,35.1h0.6M316.9,42.5h0.6M332.0,36.9h0.6M320.2,34.9h0.6M305.9,35.6h0.6M323.6,35.8h0.6M339.1,38.8h0.6M334.5,33.4h0.6M327.9,37.1h0.6M355.9,30.4h0.6M318.7,34.2h0.6M331.8,37.1h0.6M350.6,37.1h0.6M350.9,34.3h0.6" stroke="#555" stroke-width="0.6" fill="none"/>
<path d="M337.6,42.1h0.6M320.7,38.7h0.6M325.7,43.9h0.6M338.4,56.1h0.6M335.8,56.9h0.6M338.9,45.7h0.6M329.4,33.9h0.6M310.3,43.6h0.6M330.0,47.9h0.6M336.9,30.6h0.6M322.3,32.2h0.6M346.1,43.1h0.6M333.8,34.5h0.6M314.5,37.9h0.6M330.7,49.3h0.6M311.0,47.8h0.6M320.2,38.5h0.6M327.4,39.6h0.6M338.4,53.8h0.6M336.7,38.4h0.6M337.8,48.3h0.6M343.9,47.1h0.6M309.7,36.0h0.6M326.5,54.2h0.6M330.1,54.1h0.6M336.0,31.3h0.6M332.6,50.2h0.6M337.6,28.1h0.6M337.9,37.9h0.6M302.9,38.1h0.6M304.8,30.4h0.6M351.9,70.9h0.6M346.6,48.9h0.6M318.5,17.6h0.6M344.6,19.8h0.6M292.5,37.1h0.6M332.9,34.9h0.6M346.4,43.3h0.6M334.9,49.1h0.6M323.9,46.5h0.6M334.4,50.0h0.6M324.6,43.8h0.6M308.3,39.5h0.6M332.7,56.5h0.6M345.3,38.0h0.6M316.7,64.4h0.6M344.6,23.5h0.6M327.5,34.5h0.6M323.8,25.6h0.6M326.4,38.8h0.6M329.0,55.8h0.6M335.4,31.1h0.6M308.1,38.6h0.6M348.4,54.8h0.6M324.1,57.2h0.6M338.4,37.9h0.6M338.4,43.7h0.6M316.8,39.8h0.6M334.7,59.0h0.6M318.0,47.2h0.6M332.8,44.0h0.6M315.4,58.5h0.6M350.7,62.2h0.6M339.1,60.9h0.6M340.1,55.6h0.6M327.9,47.1h0.6M328.0,33.0h0.6M326.5,32.3h0.6M316.9,40.4h0.6M324.1,67.5h0.6M357.5,56.6h0.6M343.7,35.2h0.6M336.5,28.8h0.6M323.8,39.4h0.6M327.5,54.2h0.6M321.6,71.4h0.6M325.5,54.1h0.6M310.4,54.8h0.6M315.4,46.9h0.6M332.6,53.9h0.6M341.3,49.1h0.6M330.6,66.4h0.6M326.2,44.9h0.6M326.1,46.3h0.6M319.2,40.2h0.6M339.8,38.4h0.6M339.3,38.3h0.6M352.7,43.3h0.6M357.5,50.3h0.6M330.9,55.3h0.6M349.1,61.7h0.6M352.3,54.7h0.6M316.3,55.1h0.6M331.5,49.3h0.6M350.6,36.8h0.6M351.5,71.3h0.6M340.6,41.3h0.6M352.1,46.8h0.6M347.6,58.7h0.6M311.4,48.4h0.6M311.2,37.0h0.6M341.3,31.5h0.6M322.5,39.7h0.6M337.1,48.6h0.6M338.9,39.2h0.6M322.1,49.3h0.6M320.4,35.7h0.6M342.5,35.9h0.6M319.9,57.2h0.6M332.0,19.9h0.6M321.9,66.2h0.6M342.4,52.8h0.6M337.0,24.5h0.6M346.6,47.7h0.6M329.2,26.7h0.6M323.6,43.3h0.6M328.9,47.1h0.6M327.1,55.6h0.6M341.3,31.8h0.6M324.0,49.2h0.6M324.7,60.0h0.6M324.9,47.3h0.6M341.0,32.0h0.6M350.0,42.2h0.6M322.4,36.9h0.6M308.6,29.5h0.6M353.4,43.1h0.6M328.4,46.7h0.6M340.5,35.8h0.6M329.4,47.5h0.6M346.6,47.3h0.6M355.7,42.1h0.6M327.7,29.2h0.6M331.8,51.6h0.6M328.9,42.6h0.6M318.7,38.1h0.6M326.1,43.5h0.6M347.4,50.1h0.6M345.2,57.5h0.6M325.9,59.3h0.6M333.0,30.0h0.6M323.9,43.6h0.6M310.8,69.9h0.6M331.7,53.9h0.6M315.4,45.6h0.6M336.0,36.1h0.6M335.9,44.5h0.6M337.6,31.2h0.6M339.6,41.3h0.6M320.3,20.2h0.6M329.6,40.3h0.6M353.1,58.2h0.6M338.1,47.2h0.6M339.3,28.2h0.6M352.1,40.9h0.6M321.9,44.4h0.6M293.7,29.8h0.6M315.7,27.1h0.6M340.4,62.0h0.6M332.4,40.8h0.6M336.7,38.8h0.6M334.0,48.8h0.6M329.0,39.8h0.6M333.1,45.0h0.6M341.6,27.7h0.6M316.5,39.0h0.6M338.9,30.1h0.6M349.0,60.1h0.6M321.7,56.6h0.6M302.8,43.1h0.6M309.4,56.0h0.6M343.8,49.8h0.6M323.8,31.7h0.6M337.7,38.5h0.6M341.3,26.5h0.6M337.8,49.7h0.6M299.9,30.0h0.6M321.8,37.4h0.6M307.5,44.1h0.6M315.8,43.1h0.6M305.9,30.9h0.6M341.3,25.0h0.6M331.1,59.8h0.6M342.9,29.3h0.6M344.6,54.4h0.6M327.1,50.8h0.6M292.9,44.8h0.6M333.7,40.0h0.6M333.2,55.6h0.6M344.7,36.9h0.6M342.5,56.7h0.6M333.1,48.1h0.6M297.2,26.5h0.6M336.7,27.3h0.6M343.3,56.6h0.6M317.6,30.9h0.6M328.6,46.2h0.6M342.9,41.2h0.6M331.9,32.7h0.6M335.3,35.2h0.6M345.4,51.4h0.6M308.4,47.4h0.6M315.9,54.3h0.6M316.8,57.5h0.6M346.2,65.1h0.6M335.9,44.2h0.6M348.3,30.2h0.6M330.7,40.1h0.6M330.4,26.2h0.6M307.7,24.8h0.6M351.7,39.9h0.6M340.0,42.2h0.6M327.9,57.9h0.6M298.7,41.1h0.6M320.2,33.4h0.6M308.6,26.7h0.6M314.4,55.6h0.6M321.5,38.4h0.6M328.7,50.4h0.6M345.6,45.7h0.6M331.2,49.3h0.6M320.0,45.9h0.6M354.8,36.4h0.6M319.2,26.6h0.6M331.9,50.4h0.6M325.2,40.0h0.6M347.7,43.9h0.6M340.9,39.6h0.6M349.3,53.6h0.6M329.2,37.1h0.6M317.8,16.3h0.6M340.9,44.3h0.6M330.1,26.9h0.6M331.6,35.0h0.6M315.0,41.1h0.6M335.7,42.1h0.6M324.4,51.8h0.6M334.8,39.7h0.6M339.4,47.1h0.6M344.2,52.8h0.6M341.7,37.3h0.6M349.8,54.7h0.6M324.0,57.4h0.6M332.8,32.9h0.6M331.0,29.8h0.6M347.2,30.0h0.6M351.9,34.4h0.6M329.7,57.8h0.6M336.4,25.9h0.6M329.7,24.0h0.6M340.9,32.8h0.6M330.3,42.5h0.6M310.7,47.5h0.6M356.3,34.0h0.6M323.6,48.0h0.6M348.4,34.4h0.6M334.4,47.8h0.6M346.2,35.0h0.6M312.9,35.3h0.6M336.7,37.1h0.6M324.5,44.1h0.6M321.6,37.4h0.6M334.7,39.7h0.6M336.8,55.5h0.6M347.3,45.1h0.6M344.2,63.8h0.6M334.6,53.0h0.6M325.4,38.0h0.6M334.8,49.4h0.6M337.1,51.4h0.6M336.5,43.3h0.6M323.6,43.1h0.6M332.8,44.2h0.6M317.2,58.0h0.6M347.2,46.8h0.6M325.6,56.2h0.6M329.1,41.8h0.6M340.4,38.5h0.6M334.0,39.2h0.6M340.6,49.0h0.6M342.1,49.2h0.6M336.8,48.6h0.6M343.3,34.2h0.6M316.3,45.3h0.6M334.6,41.9h0.6M352.9,49.6h0.6M349.6,45.6h0.6M313.7,29.9h0.6M347.2,45.0h0.6M325.9,58.4h0.6M355.9,48.8h0.6M350.0,41.3h0.6M319.6,26.9h0.6M347.4,28.1h0.6M327.0,45.4h0.6M340.4,24.6h0.6M329.3,35.9h0.6M352.3,42.6h0.6M323.6,62.9h0.6M334.7,53.1h0.6M336.9,42.9h0.6M342.6,36.9h0.6M313.7,37.6h0.6M341.1,40.5h0.6M347.0,52.3h0.6M335.4,56.4h0.6M337.7,48.1h0.6M328.8,43.5h0.6M331.6,55.8h0.6M354.0,56.2h0.6M335.9,43.4h0.6M336.0,38.6h0.6M332.4,41.1h0.6M332.1,19.5h0.6M332.5,51.6h0.6M318.1,63.4h0.6M334.5,38.7h0.6M351.7,34.6h0.6M345.3,59.9h0.6M342.0,46.1h0.6M323.1,43.2h0.6M335.6,55.1h0.6M302.7,51.2h0.6M317.4,38.2h0.6M331.3,38.0h0.6M340.8,27.4h0.6M339.0,33.9h0.6M327.7,43.9h0.6M313.6,49.1h0.6M320.5,60.7h0.6M355.1,22.9h0.6M327.7,36.1h0.6M334.8,43.6h0.6M318.9,40.0h0.6M347.4,34.7h0.6M335.6,51.3h0.6M355.8,49.1h0.6M335.8,34.6h0.6M335.9,58.9h0.6M338.8,57.7h0.6M326.2,53.0h0.6M329.2,37.2h0.6M324.2,57.4h0.6M340.5,42.8h0.6M329.1,53.2h0.6M326.6,56.7h0.6M336.8,38.7h0.6M330.1,33.5h0.6M318.1,39.3h0.6M326.0,40.8h0.6M322.4,37.6h0.6M337.0,30.5h0.6M298.4,62.7h0.6M334.0,46.7h0.6M348.3,56.8h0.6M352.1,54.8h0.6M343.0,49.9h0.6M330.9,43.4h0.6M284.1,62.2h0.6M331.1,34.2h0.6M348.2,37.2h0.6M337.8,35.6h0.6M317.0,56.6h0.6M334.5,28.1h0.6M341.6,54.3h0.6M328.8,52.3h0.6M350.3,57.2h0.6M341.2,53.0h0.6M354.7,47.0h0.6M329.0,41.9h0.6M333.0,25.1h0.6M332.1,42.8h0.6M331.5,53.0h0.6M352.8,47.1h0.6M321.8,39.3h0.6M332.9,37.0h0.6M331.7,50.3h0.6M335.5,66.4h0.6M310.2,46.1h0.6M347.0,33.0h0.6M309.5,67.0h0.6M345.7,50.5h0.6M348.9,34.0h0.6M317.1,61.4h0.6M334.1,27.4h0.6M330.8,61.5h0.6M318.0,27.5h0.6M300.9,42.9h0.6M331.2,37.6h0.6M324.8,41.6h0.6M323.8,38.4h0.6M345.8,44.9h0.6M339.6,24.7h0.6M319.9,55.5h0.6M334.5,55.6h0.6M312.5,51.5h0.6M324.7,44.7h0.6M323.0,34.3h0.6M318.0,43.1h0.6M346.7,33.1h0.6M324.3,34.0h0.6M320.9,51.7h0.6M326.5,34.4h0.6M342.0,48.3h0.6M337.2,46.2h0.6M324.4,53.3h0.6M324.0,47.0h0.6M334.6,56.9h0.6M330.3,53.3h0.6M309.3,46.0h0.6M335.2,45.7h0.6M304.9,52.5h0.6M324.0,37.3h0.6M353.8,42.2h0.6M345.3,26.2h0.6M341.9,46.8h0.6M336.5,34.4h0.6M337.4,42.5h0.6M351.0,39.2h0.6M310.6,55.9h0.6M317.9,42.3h0.6M342.8,62.6h0.6M340.2,52.4h0.6M335.1,46.0h0.6M331.8,48.2h0.6M320.3,47.0h0.6M348.5,46.4h0.6M330.7,52.8h0.6M320.8,42.5h0.6M343.1,43.6h0.6M323.0,32.7h0.6M333.2,58.7h0.6M331.9,53.8h0.6M328.9,46.0h0.6M338.0,76.3h0.6M334.6,35.2h0.6M345.5,44.8h0.6M340.3,37.2h0.6M345.1,37.6h0.6M338.3,40.7h0.6M322.9,51.2h0.6M338.6,23.4h0.6M342.5,53.5h0.6M335.4,48.6h0.6M336.7,48.1h0.6M328.3,56.1h0.6M349.8,36.0h0.6M333.8,35.2h0.6M326.7,55.2h0.6M333.3,47.2h0.6M327.9,69.9h0.6M348.7,49.1h0.6M335.7,63.5h0.6M349.3,48.1h0.6M330.6,32.9h0.6M351.2,63.1h0.6M345.1,24.2h0.6M341.9,37.1h0.6M321.9,36.2h0.6M321.2,39.5h0.6M340.3,37.5h0.6M328.1,43.4h0.6M324.6,53.4h0.6M355.3,43.4h0.6M342.8,56.4h0.6M314.0,46.6h0.6M331.4,53.7h0.6M350.7,40.0h0.6M312.6,39.7h0.6M333.1,38.1h0.6M336.3,32.6h0.6M340.1,52.8h0.6M346.5,37.6h0.6M323.8,36.7h0.6M331.3,31.4h0.6M308.9,68.6h0.6M329.0,45.0h0.6M335.5,40.5h0.6M330.1,56.9h0.6M336.6,56.7h0.6M317.0,50.0h0.6M320.7,31.3h0.6M342.8,47.5h0.6M342.4,51.6h0.6M306.6,50.7h0.6M345.8,60.0h0.6M356.7,18.8h0.6M328.8,43.3h0.6M329.5,56.4h0.6M316.2,19.3h0.6M336.6,42.2h0.6M347.0,56.6h0.6M337.9,59.0h0.6M315.5,44.2h0.6M315.1,64.6h0.6M329.4,55.0h0.6M339.1,52.7h0.6M346.4,56.6h0.6M343.4,46.1h0.6M342.7,24.9h0.6M320.8,60.1h0.6M340.5,30.2h0.6M316.0,32.3h0.6M327.7,53.9h0.6M332.6,53.0h0.6M315.6,43.9h0.6M335.1,49.3h0.6M342.6,46.2h0.6M343.8,57.7h0.6M339.5,32.4h0.6M324.0,36.0h0.6M353.7,53.2h0.6M333.8,38.8h0.6M325.1,60.5h0.6M330.7,38.7h0.6M322.5,52.1h0.6M308.1,39.2h0.6M341.2,53.5h0.6M340.7,41.8h0.6M343.9,62.3h0.6M321.7,36.2h0.6M328.1,46.0h0.6M326.1,38.3h0.6M303.0,54.1h0.6M319.0,45.3h0.6M326.1,52.2h0.6M316.6,33.2h0.6M334.0,45.7h0.6M326.3,49.1h0.6M326.3,41.2h0.6M317.1,44.7h0.6M345.1,43.4h0.6M332.0,55.0h0.6M327.4,38.1h0.6M334.1,62.3h0.6M327.7,44.2h0.6M337.2,40.3h0.6M328.0,58.2h0.6M310.0,50.0h0.6M345.2,57.9h0.6M336.0,49.9h0.6M325.4,26.9h0.6M335.8,46.8h0.6M338.6,58.7h0.6M355.9,47.1h0.6M337.7,34.8h0.6M336.5,38.7h0.6M335.9,30.8h0.6M347.8,29.3h0.6M339.4,23.6h0.6M332.9,47.8h0.6M344.0,61.1h0.6M316.8,43.6h0.6M329.9,45.4h0.6M349.2,38.6h0.6M318.9,38.4h0.6M344.9,36.8h0.6M308.7,40.2h0.6M348.6,61.5h0.6M324.1,38.0h0.6M343.0,55.6h0.6M332.8,45.6h0.6M343.5,28.7h0.6M352.2,34.0h0.6M307.2,58.6h0.6M333.7,53.5h0.6M312.3,48.2h0.6M336.9,47.2h0.6M335.1,44.2h0.6M332.3,32.6h0.6M315.8,48.1h0.6M329.4,36.9h0.6M308.8,39.7h0.6M327.6,44.0h0.6M341.2,49.8h0.6M329.0,56.5h0.6M349.3,42.4h0.6M326.0,57.3h0.6M341.9,57.5h0.6" stroke="#8a8a8a" stroke-width="0.6" fill="none"/>
<path d="M300.3,40.4 L299.5,40.4 L299.1,39.8 L298.7,39.1 L298.5,38.4 L298.4,37.4 L298.6,36.6 L298.9,35.9 L299.4,35.4 L300.3,35.2 L300.9,35.6 L301.3,36.2 L301.5,37.1 L301.6,37.9 L301.4,38.6 L301.1,39.4 L300.8,39.9 L300.3,40.4Z M300.1,50.6 L299.1,50.8 L298.1,50.6 L297.6,50.3 L297.1,49.8 L296.7,49.1 L296.4,48.4 L296.3,47.4 L296.5,46.4 L296.8,45.6 L297.1,45.1 L297.5,44.4 L298.0,43.9 L298.6,43.4 L299.1,43.0 L300.1,43.0 L300.6,43.5 L301.0,44.1 L301.3,44.7 L301.6,45.4 L301.8,46.1 L301.9,47.1 L301.9,48.1 L301.7,48.9 L301.3,49.5 L300.8,50.1 L300.3,50.5Z M299.8,52.1 L298.8,52.2 L298.1,52.0 L297.3,51.7 L296.8,51.3 L296.3,50.8 L295.8,50.1 L295.6,49.5 L295.3,48.7 L295.2,47.9 L295.2,46.9 L295.3,46.1 L295.6,45.4 L295.8,44.6 L296.2,43.9 L296.5,43.1 L296.8,42.4 L297.0,41.6 L297.0,40.6 L296.9,39.6 L296.8,38.9 L296.7,37.9 L296.8,36.9 L296.9,36.1 L297.1,35.4 L297.4,34.6 L297.8,34.0 L298.3,33.4 L298.8,33.1 L299.6,32.8 L300.6,32.8 L301.2,33.1 L301.8,33.5 L302.3,34.1 L302.6,34.6 L302.9,35.4 L303.1,36.1 L303.2,37.1 L303.2,38.1 L303.2,39.1 L303.0,39.9 L302.8,40.9 L302.7,41.6 L302.6,42.6 L302.7,43.6 L302.8,44.4 L303.0,45.4 L303.1,46.1 L303.2,47.1 L303.1,48.1 L302.9,48.9 L302.7,49.6 L302.3,50.3 L301.9,50.9 L301.4,51.4 L300.8,51.7 L300.1,52.1Z M300.1,53.2 L299.1,53.3 L298.1,53.1 L297.3,52.9 L296.8,52.6 L296.2,52.1 L295.7,51.6 L295.3,51.0 L294.9,50.4 L294.6,49.6 L294.4,48.9 L294.3,47.9 L294.3,46.9 L294.5,45.9 L294.6,45.1 L294.9,44.4 L295.1,43.6 L295.4,42.9 L295.6,42.1 L295.7,41.1 L295.7,40.1 L295.7,39.1 L295.6,38.1 L295.7,37.1 L295.8,36.1 L295.9,35.4 L296.2,34.6 L296.5,33.9 L296.8,33.3 L297.3,32.6 L297.8,32.1 L298.3,31.7 L299.1,31.4 L299.8,31.2 L300.8,31.3 L301.5,31.6 L302.1,32.0 L302.6,32.4 L303.1,33.1 L303.4,33.6 L303.7,34.4 L304.0,35.1 L304.2,35.9 L304.3,36.8 L304.4,37.6 L304.3,38.6 L304.3,39.4 L304.1,40.4 L304.0,41.1 L303.9,42.1 L303.9,43.1 L303.9,44.1 L304.0,45.1 L304.1,45.9 L304.1,46.9 L304.1,47.8 L303.9,48.6 L303.7,49.4 L303.5,50.1 L303.1,50.9 L302.7,51.4 L302.3,51.9 L301.7,52.4 L301.1,52.8 L300.3,53.1Z M299.8,54.1 L298.8,54.2 L298.1,54.0 L297.3,53.8 L296.6,53.4 L296.1,53.1 L295.5,52.6 L295.1,52.0 L294.6,51.4 L294.3,50.8 L294.0,50.1 L293.8,49.4 L293.6,48.4 L293.6,47.4 L293.6,46.4 L293.8,45.4 L294.0,44.6 L294.2,43.9 L294.4,43.1 L294.6,42.4 L294.7,41.4 L294.8,40.4 L294.8,39.4 L294.7,38.4 L294.8,37.4 L294.8,36.6 L295.0,35.6 L295.2,34.9 L295.4,34.1 L295.7,33.4 L296.1,32.7 L296.4,32.1 L296.8,31.6 L297.3,31.1 L298.0,30.6 L298.6,30.3 L299.3,30.1 L300.3,30.0 L301.1,30.2 L301.8,30.5 L302.4,30.9 L303.0,31.4 L303.4,31.9 L303.8,32.4 L304.2,33.1 L304.5,33.9 L304.8,34.6 L305.0,35.4 L305.1,36.1 L305.2,37.1 L305.2,38.1 L305.2,39.1 L305.1,40.1 L305.1,41.0 L305.0,41.9 L304.9,42.9 L304.9,43.9 L304.9,44.9 L304.9,45.9 L304.9,46.9 L304.9,47.9 L304.8,48.6 L304.6,49.4 L304.3,50.2 L304.0,50.9 L303.6,51.6 L303.2,52.1 L302.8,52.6 L302.2,53.1 L301.6,53.5 L300.9,53.9 L300.1,54.1Z M300.3,54.9 L299.3,55.0 L298.3,54.9 L297.6,54.7 L296.8,54.4 L296.2,54.1 L295.6,53.6 L295.1,53.1 L294.6,52.6 L294.2,52.1 L293.8,51.4 L293.6,50.8 L293.3,50.1 L293.1,49.1 L292.9,48.4 L292.9,47.4 L292.9,46.4 L293.1,45.6 L293.2,44.6 L293.4,43.9 L293.6,43.1 L293.8,42.1 L293.9,41.4 L293.9,40.4 L294.0,39.4 L294.0,38.4 L294.0,37.4 L294.1,36.6 L294.2,35.6 L294.4,34.9 L294.6,34.1 L294.8,33.4 L295.2,32.6 L295.6,31.9 L295.9,31.4 L296.3,30.8 L296.8,30.3 L297.4,29.9 L298.1,29.4 L298.8,29.1 L299.6,29.0 L300.6,29.0 L301.3,29.2 L302.1,29.5 L302.6,29.9 L303.2,30.4 L303.7,30.9 L304.1,31.4 L304.6,32.1 L304.8,32.6 L305.2,33.4 L305.4,34.1 L305.6,34.9 L305.8,35.7 L305.9,36.6 L306.0,37.6 L306.0,38.6 L306.0,39.6 L305.9,40.6 L305.9,41.6 L305.8,42.4 L305.8,43.4 L305.7,44.4 L305.7,45.4 L305.7,46.4 L305.7,47.4 L305.6,48.2 L305.4,49.1 L305.2,49.9 L304.9,50.6 L304.6,51.4 L304.3,51.9 L303.8,52.6 L303.4,53.1 L302.8,53.6 L302.3,54.0 L301.7,54.4 L301.1,54.7 L300.3,54.9Z M300.6,55.6 L299.6,55.8 L298.6,55.7 L297.8,55.6 L297.1,55.3 L296.3,55.0 L295.7,54.6 L295.1,54.1 L294.6,53.6 L294.2,53.1 L293.8,52.6 L293.4,51.9 L293.1,51.2 L292.8,50.5 L292.6,49.7 L292.4,48.9 L292.3,47.9 L292.3,47.1 L292.3,46.4 L292.4,45.4 L292.6,44.6 L292.8,43.6 L292.9,42.9 L293.1,42.1 L293.2,41.1 L293.2,40.1 L293.2,39.1 L293.3,38.1 L293.3,37.4 L293.4,36.4 L293.6,35.4 L293.7,34.6 L293.9,33.9 L294.2,33.1 L294.5,32.4 L294.8,31.7 L295.1,31.1 L295.6,30.5 L296.1,29.9 L296.6,29.4 L297.1,29.0 L297.7,28.6 L298.3,28.3 L299.1,28.1 L300.1,28.0 L301.0,28.1 L301.8,28.4 L302.3,28.6 L303.1,29.1 L303.6,29.5 L304.1,30.0 L304.5,30.6 L304.9,31.1 L305.3,31.9 L305.6,32.4 L305.8,33.1 L306.1,33.9 L306.3,34.7 L306.5,35.6 L306.6,36.4 L306.7,37.4 L306.7,38.4 L306.7,39.4 L306.7,40.4 L306.6,41.4 L306.6,42.4 L306.5,43.1 L306.5,44.1 L306.5,45.1 L306.4,46.1 L306.4,47.1 L306.3,47.9 L306.1,48.9 L305.9,49.6 L305.7,50.4 L305.4,51.1 L305.1,51.9 L304.8,52.4 L304.3,53.1 L303.9,53.6 L303.4,54.1 L302.8,54.6 L302.3,54.9 L301.6,55.3 L300.8,55.6Z M300.8,56.4 L299.8,56.5 L298.8,56.5 L297.9,56.4 L297.1,56.1 L296.5,55.9 L295.8,55.4 L295.3,55.1 L294.7,54.6 L294.2,54.1 L293.8,53.6 L293.3,52.9 L293.0,52.4 L292.6,51.6 L292.3,50.9 L292.1,50.1 L291.9,49.4 L291.8,48.5 L291.7,47.6 L291.8,46.6 L291.8,45.9 L291.9,44.9 L292.1,44.1 L292.2,43.1 L292.4,42.4 L292.5,41.4 L292.5,40.4 L292.6,39.6 L292.6,38.6 L292.6,37.6 L292.7,36.6 L292.8,35.9 L293.0,34.9 L293.2,34.1 L293.4,33.4 L293.7,32.6 L294.0,31.9 L294.3,31.2 L294.6,30.6 L295.1,30.0 L295.6,29.4 L296.0,28.9 L296.6,28.4 L297.1,28.0 L297.8,27.6 L298.5,27.4 L299.3,27.1 L300.3,27.1 L301.3,27.3 L302.1,27.5 L302.7,27.9 L303.3,28.3 L303.8,28.7 L304.3,29.2 L304.8,29.8 L305.2,30.4 L305.6,30.9 L305.9,31.6 L306.2,32.4 L306.5,33.1 L306.7,33.9 L306.9,34.6 L307.1,35.4 L307.2,36.4 L307.3,37.1 L307.4,38.1 L307.4,39.1 L307.4,40.1 L307.4,41.1 L307.3,42.1 L307.3,42.9 L307.2,43.9 L307.2,44.9 L307.1,45.9 L307.1,46.8 L307.0,47.6 L306.8,48.6 L306.7,49.4 L306.5,50.1 L306.2,50.9 L305.9,51.6 L305.6,52.3 L305.3,52.9 L304.8,53.5 L304.3,54.1 L303.9,54.6 L303.3,55.1 L302.8,55.5 L302.1,55.9 L301.6,56.1 L300.8,56.4Z M300.8,57.2 L299.8,57.3 L298.8,57.3 L297.9,57.1 L297.1,56.9 L296.6,56.6 L295.8,56.2 L295.3,55.9 L294.7,55.4 L294.1,54.9 L293.7,54.4 L293.3,53.9 L292.8,53.1 L292.5,52.6 L292.1,51.9 L291.8,51.1 L291.6,50.4 L291.4,49.6 L291.3,48.7 L291.2,47.9 L291.2,46.9 L291.3,45.9 L291.3,45.1 L291.5,44.1 L291.6,43.4 L291.7,42.4 L291.8,41.6 L291.9,40.6 L291.9,39.6 L292.0,38.6 L292.0,37.6 L292.1,36.9 L292.2,35.9 L292.4,35.1 L292.6,34.2 L292.8,33.4 L293.0,32.6 L293.3,31.9 L293.6,31.3 L293.9,30.6 L294.3,29.9 L294.7,29.4 L295.1,28.9 L295.6,28.3 L296.1,27.8 L296.7,27.4 L297.3,27.0 L298.1,26.6 L298.8,26.4 L299.6,26.3 L300.6,26.3 L301.3,26.4 L302.1,26.7 L302.8,27.0 L303.3,27.4 L304.0,27.9 L304.5,28.4 L304.9,28.9 L305.3,29.4 L305.8,30.1 L306.1,30.6 L306.5,31.4 L306.8,32.1 L307.1,32.8 L307.3,33.6 L307.5,34.4 L307.6,35.1 L307.8,36.1 L307.9,36.9 L308.0,37.9 L308.0,38.9 L308.0,39.9 L308.0,40.9 L308.0,41.9 L307.9,42.9 L307.9,43.9 L307.8,44.9 L307.8,45.6 L307.7,46.6 L307.6,47.6 L307.5,48.4 L307.3,49.2 L307.1,50.1 L306.9,50.9 L306.6,51.6 L306.3,52.2 L306.0,52.9 L305.6,53.6 L305.2,54.1 L304.8,54.6 L304.3,55.1 L303.8,55.6 L303.1,56.1 L302.6,56.5 L301.8,56.8 L301.1,57.1Z M301.1,57.9 L300.1,58.1 L299.1,58.1 L298.1,57.9 L297.3,57.7 L296.6,57.4 L296.1,57.1 L295.3,56.6 L294.8,56.2 L294.3,55.8 L293.8,55.3 L293.3,54.8 L292.8,54.1 L292.5,53.6 L292.1,52.9 L291.8,52.3 L291.5,51.6 L291.2,50.9 L291.0,50.1 L290.9,49.1 L290.8,48.4 L290.7,47.4 L290.7,46.4 L290.8,45.4 L290.9,44.6 L291.0,43.6 L291.1,42.9 L291.2,41.9 L291.3,40.9 L291.3,40.1 L291.4,39.1 L291.4,38.1 L291.5,37.1 L291.6,36.4 L291.7,35.4 L291.9,34.6 L292.1,33.9 L292.3,33.0 L292.6,32.2 L292.8,31.5 L293.1,30.9 L293.5,30.1 L293.8,29.5 L294.3,28.9 L294.6,28.4 L295.1,27.9 L295.6,27.4 L296.1,26.9 L296.8,26.4 L297.3,26.1 L298.1,25.8 L298.8,25.6 L299.8,25.4 L300.8,25.5 L301.6,25.6 L302.3,25.9 L303.1,26.3 L303.6,26.6 L304.2,27.1 L304.7,27.6 L305.2,28.1 L305.6,28.6 L306.1,29.3 L306.4,29.9 L306.8,30.6 L307.1,31.2 L307.3,31.9 L307.6,32.6 L307.8,33.4 L308.1,34.3 L308.2,35.1 L308.3,35.9 L308.5,36.9 L308.5,37.9 L308.6,38.6 L308.6,39.6 L308.6,40.6 L308.6,41.6 L308.6,42.6 L308.5,43.4 L308.5,44.4 L308.4,45.4 L308.3,46.4 L308.3,47.1 L308.1,48.1 L308.0,48.9 L307.8,49.6 L307.6,50.6 L307.3,51.3 L307.1,52.0 L306.8,52.6 L306.4,53.4 L306.1,53.9 L305.6,54.6 L305.2,55.1 L304.8,55.6 L304.3,56.1 L303.7,56.6 L303.1,57.0 L302.5,57.4 L301.8,57.7 L301.1,57.9Z" fill="none" stroke="#141414" stroke-width="0.5"/><path d="M301.1,57.9 L300.1,58.1 L299.1,58.1 L298.1,57.9 L297.3,57.7 L296.6,57.4 L296.1,57.1 L295.3,56.6 L294.8,56.2 L294.3,55.8 L293.8,55.3 L293.3,54.8 L292.8,54.1 L292.5,53.6 L292.1,52.9 L291.8,52.3 L291.5,51.6 L291.2,50.9 L291.0,50.1 L290.9,49.1 L290.8,48.4 L290.7,47.4 L290.7,46.4 L290.8,45.4 L290.9,44.6 L291.0,43.6 L291.1,42.9 L291.2,41.9 L291.3,40.9 L291.3,40.1 L291.4,39.1 L291.4,38.1 L291.5,37.1 L291.6,36.4 L291.7,35.4 L291.9,34.6 L292.1,33.9 L292.3,33.0 L292.6,32.2 L292.8,31.5 L293.1,30.9 L293.5,30.1 L293.8,29.5 L294.3,28.9 L294.6,28.4 L295.1,27.9 L295.6,27.4 L296.1,26.9 L296.8,26.4 L297.3,26.1 L298.1,25.8 L298.8,25.6 L299.8,25.4 L300.8,25.5 L301.6,25.6 L302.3,25.9 L303.1,26.3 L303.6,26.6 L304.2,27.1 L304.7,27.6 L305.2,28.1 L305.6,28.6 L306.1,29.3 L306.4,29.9 L306.8,30.6 L307.1,31.2 L307.3,31.9 L307.6,32.6 L307.8,33.4 L308.1,34.3 L308.2,35.1 L308.3,35.9 L308.5,36.9 L308.5,37.9 L308.6,38.6 L308.6,39.6 L308.6,40.6 L308.6,41.6 L308.6,42.6 L308.5,43.4 L308.5,44.4 L308.4,45.4 L308.3,46.4 L308.3,47.1 L308.1,48.1 L308.0,48.9 L307.8,49.6 L307.6,50.6 L307.3,51.3 L307.1,52.0 L306.8,52.6 L306.4,53.4 L306.1,53.9 L305.6,54.6 L305.2,55.1 L304.8,55.6 L304.3,56.1 L303.7,56.6 L303.1,57.0 L302.5,57.4 L301.8,57.7 L301.1,57.9Z" fill="none" stroke="#141414" stroke-width="1.1"/>
<path d="M334.1,51.1 L333.1,51.2 L332.1,51.1 L331.3,51.0 L330.6,50.7 L329.8,50.4 L329.3,49.9 L329.0,49.4 L329.1,48.6 L329.6,47.9 L330.1,47.5 L330.8,47.2 L331.6,47.0 L332.3,46.8 L333.3,46.8 L334.1,46.9 L335.0,47.1 L335.6,47.4 L336.3,47.8 L336.8,48.3 L337.0,49.1 L336.7,49.9 L336.2,50.4 L335.6,50.7 L334.8,51.0 L334.1,51.1Z M334.1,53.4 L333.1,53.4 L332.1,53.4 L331.3,53.3 L330.3,53.1 L329.6,53.0 L328.8,52.7 L328.1,52.5 L327.3,52.1 L326.8,51.8 L326.2,51.4 L325.7,50.9 L325.3,50.2 L325.1,49.5 L325.0,48.6 L325.3,47.9 L325.6,47.4 L326.1,46.8 L326.6,46.4 L327.3,45.9 L327.9,45.6 L328.6,45.3 L329.3,45.1 L330.3,44.9 L331.1,44.7 L332.1,44.6 L332.8,44.6 L333.6,44.6 L334.6,44.7 L335.6,44.8 L336.3,45.0 L337.1,45.2 L337.8,45.5 L338.6,45.8 L339.1,46.1 L339.7,46.6 L340.2,47.1 L340.6,47.6 L340.9,48.4 L341.0,49.4 L340.7,50.1 L340.3,50.8 L339.8,51.3 L339.3,51.7 L338.7,52.1 L338.1,52.4 L337.3,52.7 L336.6,52.9 L335.8,53.1 L334.8,53.3 L334.1,53.4Z M333.1,55.6 L332.3,55.6 L331.3,55.5 L330.3,55.4 L329.6,55.3 L328.6,55.1 L327.8,54.9 L327.1,54.7 L326.3,54.5 L325.6,54.2 L324.9,53.9 L324.3,53.5 L323.6,53.1 L323.1,52.7 L322.6,52.2 L322.1,51.7 L321.6,51.1 L321.3,50.5 L321.1,49.6 L321.0,48.9 L321.1,48.1 L321.4,47.4 L321.8,46.6 L322.2,46.1 L322.7,45.6 L323.3,45.1 L323.8,44.8 L324.5,44.4 L325.1,44.1 L325.8,43.7 L326.6,43.4 L327.3,43.2 L328.1,43.0 L328.8,42.8 L329.8,42.6 L330.6,42.5 L331.6,42.4 L332.6,42.4 L333.6,42.4 L334.6,42.5 L335.6,42.5 L336.3,42.7 L337.3,42.8 L338.1,43.0 L338.8,43.2 L339.6,43.5 L340.3,43.8 L341.0,44.1 L341.6,44.4 L342.3,44.8 L342.8,45.2 L343.3,45.6 L343.8,46.1 L344.3,46.8 L344.6,47.4 L344.9,48.1 L345.0,49.1 L344.8,50.1 L344.6,50.8 L344.2,51.4 L343.8,51.9 L343.3,52.4 L342.7,52.9 L342.1,53.3 L341.6,53.6 L340.8,54.0 L340.1,54.3 L339.4,54.6 L338.6,54.9 L337.8,55.1 L337.1,55.2 L336.3,55.4 L335.3,55.5 L334.3,55.6 L333.3,55.6Z M336.3,57.6 L335.3,57.7 L334.3,57.8 L333.3,57.8 L332.3,57.8 L331.3,57.8 L330.3,57.7 L329.6,57.6 L328.6,57.5 L327.8,57.3 L326.8,57.1 L326.1,56.9 L325.3,56.7 L324.6,56.5 L323.8,56.2 L323.1,55.9 L322.4,55.6 L321.8,55.3 L321.1,54.9 L320.6,54.5 L320.0,54.1 L319.4,53.6 L318.8,53.1 L318.4,52.6 L318.0,52.1 L317.6,51.4 L317.3,50.7 L317.1,49.9 L317.0,49.1 L317.1,48.3 L317.3,47.4 L317.6,46.7 L317.9,46.1 L318.3,45.5 L318.8,44.9 L319.3,44.5 L319.8,44.0 L320.4,43.6 L321.1,43.1 L321.6,42.9 L322.3,42.5 L323.1,42.1 L323.7,41.9 L324.3,41.6 L325.1,41.4 L325.9,41.1 L326.8,40.9 L327.6,40.7 L328.3,40.6 L329.3,40.4 L330.1,40.4 L331.1,40.3 L332.1,40.2 L333.1,40.2 L334.1,40.2 L335.1,40.3 L335.9,40.4 L336.8,40.4 L337.8,40.6 L338.6,40.7 L339.3,40.9 L340.1,41.1 L340.9,41.4 L341.7,41.6 L342.3,41.9 L343.1,42.2 L343.8,42.5 L344.4,42.9 L345.1,43.2 L345.6,43.6 L346.3,44.1 L346.8,44.5 L347.3,45.1 L347.8,45.6 L348.1,46.1 L348.5,46.9 L348.8,47.6 L349.0,48.4 L349.0,49.4 L348.8,50.4 L348.6,51.1 L348.3,51.6 L347.8,52.3 L347.4,52.9 L346.9,53.4 L346.4,53.9 L345.8,54.3 L345.3,54.6 L344.6,55.1 L344.1,55.4 L343.3,55.7 L342.6,56.1 L341.8,56.4 L341.1,56.6 L340.3,56.8 L339.6,57.0 L338.8,57.2 L338.1,57.4 L337.1,57.5 L336.3,57.6Z M336.1,59.9 L335.1,59.9 L334.1,60.0 L333.1,60.0 L332.1,60.0 L331.1,60.0 L330.1,59.9 L329.3,59.8 L328.3,59.7 L327.6,59.6 L326.6,59.4 L325.8,59.3 L325.1,59.1 L324.1,58.9 L323.3,58.6 L322.6,58.4 L321.8,58.1 L321.1,57.9 L320.5,57.6 L319.8,57.3 L319.1,56.9 L318.5,56.6 L317.8,56.2 L317.3,55.8 L316.7,55.4 L316.1,54.9 L315.6,54.4 L315.1,53.9 L314.6,53.4 L314.3,52.9 L313.8,52.1 L313.6,51.6 L313.3,50.9 L313.1,49.9 L313.0,49.1 L313.1,48.2 L313.2,47.4 L313.5,46.6 L313.8,45.9 L314.1,45.4 L314.6,44.8 L315.1,44.1 L315.6,43.6 L316.1,43.2 L316.6,42.7 L317.1,42.4 L317.8,41.9 L318.3,41.5 L319.1,41.1 L319.6,40.9 L320.3,40.5 L321.1,40.2 L321.8,39.9 L322.6,39.6 L323.3,39.4 L324.1,39.2 L324.8,39.0 L325.6,38.8 L326.5,38.6 L327.3,38.5 L328.1,38.3 L329.1,38.2 L330.1,38.1 L330.8,38.1 L331.8,38.0 L332.8,38.0 L333.8,38.0 L334.8,38.0 L335.7,38.1 L336.6,38.2 L337.6,38.3 L338.3,38.4 L339.3,38.6 L340.1,38.7 L340.8,38.9 L341.7,39.1 L342.6,39.3 L343.3,39.6 L344.1,39.8 L344.8,40.1 L345.4,40.4 L346.1,40.7 L346.8,41.0 L347.4,41.4 L348.1,41.8 L348.6,42.1 L349.3,42.6 L349.8,43.0 L350.3,43.5 L350.8,44.0 L351.3,44.6 L351.7,45.1 L352.1,45.6 L352.4,46.4 L352.7,47.1 L352.9,47.9 L353.0,48.9 L352.9,49.9 L352.8,50.6 L352.5,51.4 L352.2,52.1 L351.8,52.8 L351.4,53.4 L351.0,53.9 L350.5,54.4 L349.9,54.9 L349.3,55.4 L348.8,55.7 L348.3,56.1 L347.6,56.5 L347.0,56.9 L346.3,57.2 L345.6,57.6 L344.9,57.9 L344.2,58.1 L343.5,58.4 L342.8,58.6 L341.9,58.9 L341.1,59.1 L340.3,59.2 L339.6,59.4 L338.6,59.6 L337.8,59.7 L336.8,59.8 L336.1,59.9Z" fill="none" stroke="#666" stroke-width="0.45"/>
<path d="M309.3,61.4 L308.3,61.4 L307.3,61.4 L306.6,61.3 L305.6,61.2 L304.8,61.1 L304.0,60.9 L303.3,60.5 L303.0,59.9 L303.6,59.4 L304.2,59.1 L305.1,58.9 L305.8,58.7 L306.8,58.6 L307.7,58.6 L308.3,58.6 L309.3,58.6 L310.3,58.8 L311.1,58.9 L311.8,59.1 L312.6,59.4 L313.0,60.1 L312.5,60.6 L311.8,60.9 L311.1,61.1 L310.1,61.3 L309.3,61.4Z M310.3,61.9 L309.3,62.0 L308.3,62.0 L307.3,62.0 L306.3,61.9 L305.5,61.9 L304.6,61.7 L303.8,61.6 L302.8,61.4 L302.1,61.1 L301.6,60.8 L301.0,60.4 L301.1,59.6 L301.7,59.1 L302.3,58.8 L303.1,58.6 L304.1,58.4 L304.8,58.2 L305.8,58.1 L306.6,58.1 L307.6,58.0 L308.6,58.0 L309.6,58.1 L310.3,58.1 L311.3,58.2 L312.1,58.4 L313.0,58.6 L313.8,58.9 L314.3,59.1 L314.9,59.6 L315.1,60.2 L314.6,60.7 L313.9,61.1 L313.2,61.4 L312.3,61.6 L311.6,61.7 L310.6,61.8Z M310.1,62.4 L309.1,62.4 L308.1,62.4 L307.1,62.4 L306.1,62.4 L305.3,62.3 L304.3,62.2 L303.6,62.1 L302.6,61.9 L301.8,61.7 L301.1,61.5 L300.3,61.1 L299.8,60.8 L299.3,60.1 L299.6,59.4 L300.3,58.9 L300.9,58.6 L301.6,58.4 L302.6,58.1 L303.3,58.0 L304.1,57.8 L305.1,57.7 L306.1,57.6 L306.8,57.6 L307.8,57.6 L308.8,57.6 L309.6,57.6 L310.6,57.7 L311.6,57.8 L312.3,57.9 L313.3,58.1 L314.1,58.3 L314.8,58.5 L315.6,58.8 L316.1,59.1 L316.6,59.6 L316.6,60.4 L316.1,60.9 L315.3,61.3 L314.6,61.6 L313.8,61.8 L313.1,62.0 L312.3,62.1 L311.3,62.2 L310.3,62.3Z" fill="none" stroke="#777" stroke-width="0.4"/>
<ellipse cx="299" cy="38.9" rx="12" ry="19.4" fill="none" stroke="#b8284e" stroke-width="1.3"/>
<ellipse cx="333.1" cy="42.3" rx="21" ry="8.4" fill="none" stroke="#55d63c" stroke-width="1.3"/>
<ellipse cx="331.6" cy="56.9" rx="15.7" ry="4.3" fill="none" stroke="#bf3adc" stroke-width="1.3"/>
<ellipse cx="309" cy="64.3" rx="10" ry="8.3" fill="none" stroke="#3a5ad0" stroke-width="1.3"/>
<text x="283.1" y="16.6" class="pv" textLength="10.7" lengthAdjust="spacingAndGlyphs">73.4</text>
<text x="345" y="26.4" class="pv" textLength="7.4" lengthAdjust="spacingAndGlyphs">8.6</text>
<text x="341" y="70.8" class="pv" textLength="6.8" lengthAdjust="spacingAndGlyphs">8.3</text>
<text x="291.5" y="79.3" class="pv" textLength="6.9" lengthAdjust="spacingAndGlyphs">2.5</text>
<text x="338.7" y="83.3" class="dl" textLength="17.3" lengthAdjust="spacingAndGlyphs">Day 8</text>
<path d="M426.6,36.0h0.6M395.5,31.6h0.6M410.8,35.6h0.6M410.2,32.3h0.6M406.0,36.7h0.6M395.4,36.1h0.6M418.3,35.2h0.6M421.2,33.7h0.6M410.6,37.2h0.6M407.4,33.9h0.6M395.2,33.8h0.6M420.9,36.4h0.6M419.8,35.4h0.6M419.0,35.0h0.6M424.1,34.3h0.6M424.9,34.4h0.6M393.0,32.6h0.6M409.7,33.8h0.6M397.6,33.4h0.6M414.2,35.1h0.6M422.2,33.2h0.6M416.6,36.0h0.6M416.3,37.1h0.6M406.4,34.5h0.6M414.2,33.9h0.6M411.5,34.9h0.6M411.6,33.8h0.6M406.8,34.4h0.6M393.9,34.8h0.6M399.1,34.1h0.6M399.2,34.7h0.6M407.6,34.1h0.6M403.3,34.7h0.6M430.8,31.8h0.6M418.1,34.8h0.6M407.5,32.6h0.6M430.6,34.8h0.6M423.8,34.0h0.6M403.0,36.1h0.6M420.7,34.1h0.6M409.5,35.4h0.6M402.7,33.3h0.6M411.5,36.0h0.6M422.1,34.8h0.6M427.8,34.3h0.6M406.3,37.9h0.6M406.3,35.4h0.6M418.6,34.7h0.6M414.7,35.5h0.6M418.6,33.7h0.6M412.1,36.5h0.6M420.6,33.9h0.6M412.8,33.1h0.6M397.0,33.7h0.6M430.9,33.6h0.6M389.0,34.4h0.6M404.1,35.6h0.6M426.6,34.0h0.6M413.5,33.2h0.6M426.2,33.5h0.6M412.5,38.0h0.6M401.3,34.8h0.6M411.6,35.2h0.6M417.6,36.7h0.6M417.9,35.4h0.6M397.8,35.1h0.6M396.6,36.3h0.6M411.5,35.9h0.6M406.4,34.9h0.6M413.2,35.3h0.6M411.0,33.7h0.6M407.8,33.6h0.6M401.4,32.8h0.6M395.1,37.3h0.6M403.5,32.9h0.6M423.7,34.9h0.6M410.6,36.2h0.6M433.9,33.3h0.6M428.8,35.4h0.6M425.7,33.7h0.6M431.8,36.2h0.6M381.9,36.4h0.6M427.9,32.5h0.6M416.1,34.3h0.6M414.8,33.3h0.6M419.7,35.6h0.6M411.0,34.4h0.6M392.0,35.3h0.6M397.3,34.6h0.6M402.8,38.3h0.6M412.2,36.8h0.6M411.8,34.5h0.6M420.8,34.5h0.6M431.2,32.8h0.6M401.6,35.5h0.6M396.1,37.4h0.6M418.4,34.6h0.6M432.9,33.8h0.6M403.4,30.7h0.6M389.5,34.1h0.6M387.9,35.6h0.6M423.7,35.2h0.6M393.1,33.3h0.6M396.0,35.6h0.6M424.2,34.2h0.6M412.9,34.9h0.6M420.8,33.2h0.6M400.9,35.7h0.6M418.2,35.2h0.6M412.8,35.6h0.6M417.7,33.6h0.6M432.3,36.1h0.6M409.3,34.4h0.6M403.7,32.5h0.6M399.8,32.4h0.6M404.4,35.0h0.6M411.4,32.4h0.6M409.8,33.6h0.6M399.2,36.1h0.6M399.8,35.9h0.6M392.2,34.9h0.6M403.8,35.9h0.6M416.9,33.4h0.6M419.7,36.4h0.6M427.9,36.7h0.6M407.9,37.7h0.6M405.2,34.3h0.6M394.0,34.2h0.6M395.0,34.7h0.6M391.4,37.3h0.6M421.8,36.9h0.6M426.1,34.8h0.6M417.8,34.8h0.6M389.9,32.8h0.6M407.6,35.9h0.6M395.8,34.8h0.6M405.4,35.6h0.6M421.3,33.0h0.6M398.7,36.7h0.6M424.8,34.5h0.6M422.2,34.6h0.6M417.9,33.9h0.6M418.7,37.0h0.6M429.6,36.4h0.6M413.8,36.0h0.6M407.1,34.1h0.6M414.0,32.9h0.6M414.6,32.0h0.6M431.8,35.8h0.6M415.8,33.5h0.6M405.2,33.9h0.6M392.5,33.9h0.6M401.4,35.8h0.6M428.2,36.7h0.6M396.2,32.5h0.6M429.4,35.7h0.6M424.9,35.5h0.6M415.1,37.7h0.6M422.7,35.6h0.6M400.3,34.8h0.6M428.3,35.4h0.6M423.2,34.3h0.6M420.8,33.7h0.6M410.1,36.1h0.6M432.6,34.1h0.6M409.7,34.2h0.6M410.0,34.6h0.6M422.8,35.1h0.6M412.2,35.2h0.6M391.1,34.3h0.6M435.9,33.0h0.6M405.3,34.9h0.6M424.3,34.1h0.6M399.7,36.8h0.6M384.3,33.2h0.6M403.2,31.0h0.6M428.4,37.4h0.6M394.1,33.9h0.6M409.2,35.6h0.6M409.9,35.4h0.6M417.9,34.3h0.6M412.8,36.6h0.6M414.3,35.5h0.6M411.8,35.6h0.6M431.7,34.7h0.6M406.4,33.4h0.6M424.4,33.4h0.6M417.8,38.3h0.6M414.8,37.2h0.6M412.4,34.4h0.6M419.2,33.2h0.6M383.0,34.4h0.6M403.5,34.8h0.6M435.8,35.5h0.6M393.8,35.2h0.6M390.8,31.3h0.6M385.7,34.4h0.6M409.8,35.2h0.6M410.2,34.2h0.6M422.5,34.3h0.6M403.2,35.1h0.6M405.4,36.2h0.6M412.6,34.3h0.6M407.0,35.4h0.6M424.5,34.1h0.6M385.5,35.7h0.6M403.0,35.5h0.6M404.9,35.2h0.6M409.2,33.3h0.6M396.4,34.4h0.6M414.1,32.1h0.6M382.8,34.9h0.6M409.1,32.9h0.6M396.8,36.8h0.6M392.3,34.9h0.6M403.3,35.4h0.6M431.3,34.8h0.6M408.5,36.2h0.6M408.6,31.7h0.6M428.7,33.7h0.6M415.0,37.9h0.6M423.7,35.0h0.6M432.7,33.2h0.6M392.0,32.8h0.6M413.5,34.9h0.6M404.0,37.8h0.6M422.3,34.8h0.6M403.9,34.4h0.6M415.9,34.0h0.6M420.5,34.6h0.6M391.3,36.2h0.6M404.0,36.2h0.6M417.6,32.5h0.6M413.1,34.3h0.6M409.6,34.4h0.6M413.6,34.2h0.6M422.5,35.4h0.6M410.5,34.3h0.6M408.4,34.0h0.6M410.4,34.9h0.6M408.7,31.7h0.6M413.3,33.2h0.6M412.0,38.3h0.6M424.8,30.9h0.6M390.7,36.1h0.6M402.7,32.1h0.6M391.0,34.3h0.6M402.4,34.5h0.6M408.6,34.6h0.6M407.0,33.3h0.6M421.0,36.9h0.6M401.7,34.3h0.6M437.0,32.9h0.6M398.5,35.4h0.6M423.3,34.5h0.6M426.3,34.4h0.6M414.9,34.5h0.6M416.3,34.6h0.6M429.9,35.6h0.6M432.3,34.3h0.6M402.7,33.6h0.6M407.3,35.0h0.6M407.1,35.0h0.6M417.5,32.8h0.6M395.2,36.5h0.6M404.5,37.4h0.6M408.6,32.4h0.6M397.9,33.3h0.6M383.5,33.1h0.6M412.9,37.9h0.6M424.7,33.1h0.6M431.3,36.5h0.6M404.2,35.4h0.6M416.9,34.3h0.6M406.7,33.7h0.6M417.7,33.7h0.6M422.9,35.6h0.6M392.7,35.2h0.6M410.1,35.7h0.6M407.9,36.3h0.6M422.4,35.9h0.6M419.8,32.4h0.6M411.5,36.2h0.6M423.3,35.4h0.6M412.0,34.4h0.6M395.7,31.8h0.6M410.1,35.8h0.6M409.1,33.7h0.6M410.0,36.6h0.6M404.8,34.4h0.6M416.4,36.2h0.6M417.4,33.8h0.6M406.1,32.8h0.6M409.8,36.0h0.6M414.4,33.9h0.6M398.9,34.0h0.6M421.6,35.5h0.6M417.9,35.8h0.6M427.3,34.9h0.6M420.2,31.6h0.6M420.3,34.0h0.6M415.5,33.2h0.6M409.0,32.8h0.6M411.5,33.0h0.6M425.0,34.1h0.6M414.3,33.6h0.6M410.9,33.5h0.6M402.2,35.3h0.6M404.0,32.8h0.6M407.6,37.9h0.6M425.2,34.9h0.6M415.9,35.0h0.6M417.6,38.0h0.6M431.0,34.8h0.6M391.9,33.2h0.6M415.6,33.9h0.6M417.9,34.1h0.6M418.4,35.3h0.6M407.0,32.6h0.6M408.9,33.5h0.6M401.5,34.7h0.6M427.1,34.0h0.6M407.9,32.9h0.6M416.0,34.9h0.6M415.0,36.9h0.6M416.0,36.1h0.6M408.5,35.2h0.6M402.4,35.8h0.6M430.1,33.2h0.6M402.8,35.0h0.6M412.8,35.9h0.6M380.8,33.7h0.6M419.0,34.9h0.6M399.7,35.7h0.6M414.3,34.6h0.6M409.9,34.4h0.6M419.9,32.5h0.6M371.6,35.5h0.6M383.3,34.9h0.6M412.9,35.1h0.6M399.2,35.4h0.6M408.8,33.8h0.6M409.5,33.3h0.6M432.2,33.6h0.6M412.5,34.1h0.6" stroke="#444" stroke-width="0.6" fill="none"/>
<path d="M407.8,26.5h0.6M423.2,62.4h0.6M437.6,57.1h0.6M429.6,61.0h0.6M410.6,28.5h0.6M385.1,54.9h0.6M422.9,46.6h0.6M374.9,44.1h0.6M413.8,35.1h0.6M401.7,72.6h0.6M420.2,41.6h0.6M408.7,55.3h0.6M400.2,44.3h0.6M401.3,68.4h0.6M421.5,49.1h0.6M400.4,30.0h0.6M435.9,16.0h0.6M423.0,40.3h0.6M413.4,22.0h0.6M430.5,54.1h0.6M420.0,52.0h0.6M391.4,49.1h0.6M423.4,46.0h0.6M359.9,45.7h0.6M416.9,33.5h0.6M416.0,62.5h0.6M413.4,62.8h0.6M405.5,38.2h0.6M419.5,36.3h0.6M385.4,51.0h0.6M415.0,54.0h0.6M399.7,41.7h0.6M423.5,41.1h0.6M411.2,49.7h0.6M401.8,49.9h0.6M389.2,52.9h0.6M408.0,27.5h0.6M394.7,43.5h0.6M401.5,52.9h0.6M417.5,56.2h0.6M411.1,56.6h0.6M413.1,45.4h0.6M413.4,60.7h0.6M409.1,36.3h0.6M391.7,29.3h0.6M413.3,57.7h0.6M415.9,37.4h0.6M412.1,36.1h0.6M432.7,48.5h0.6M426.0,35.8h0.6M423.9,42.5h0.6M405.6,49.3h0.6M391.7,41.0h0.6M417.0,42.0h0.6M418.6,52.5h0.6M408.5,46.9h0.6M420.6,34.7h0.6M411.5,38.9h0.6M405.0,37.0h0.6M405.2,37.9h0.6M422.3,38.3h0.6M418.3,52.9h0.6M408.5,68.8h0.6M417.5,62.2h0.6M415.1,56.4h0.6M414.7,31.9h0.6M426.1,44.3h0.6M414.3,50.9h0.6M425.1,77.1h0.6M398.3,42.1h0.6M400.4,62.6h0.6M411.5,41.1h0.6M424.5,48.9h0.6M425.6,30.7h0.6M416.7,54.9h0.6M406.5,62.5h0.6M414.9,38.9h0.6M409.4,54.1h0.6M434.1,42.3h0.6M426.1,44.0h0.6M401.0,36.4h0.6M428.9,42.7h0.6M419.0,67.1h0.6M433.2,43.2h0.6M411.6,51.0h0.6M380.8,55.6h0.6M404.1,56.4h0.6M404.2,43.8h0.6M430.0,55.4h0.6M406.0,65.2h0.6M425.4,34.3h0.6M408.3,52.6h0.6M408.0,31.0h0.6M417.0,52.9h0.6M437.7,60.6h0.6M429.5,38.3h0.6M395.8,35.9h0.6M425.7,58.1h0.6M384.4,54.1h0.6M431.0,65.3h0.6M428.8,58.8h0.6M419.9,44.2h0.6M413.5,47.1h0.6M396.6,46.3h0.6M432.9,43.8h0.6M436.8,37.4h0.6M423.1,38.4h0.6M433.8,55.9h0.6M432.1,57.0h0.6M424.4,60.5h0.6M419.2,19.1h0.6M418.0,53.5h0.6M377.0,61.2h0.6M414.5,59.5h0.6M410.8,49.7h0.6M401.7,44.7h0.6M389.2,50.4h0.6M409.0,39.8h0.6M403.1,36.1h0.6M415.1,46.1h0.6M410.4,63.1h0.6M397.3,42.4h0.6M393.2,44.2h0.6M412.3,26.2h0.6M421.2,23.4h0.6M406.3,43.9h0.6M393.3,63.0h0.6M418.1,31.9h0.6M421.6,51.7h0.6M405.7,37.4h0.6M431.2,74.0h0.6M419.3,72.0h0.6M386.2,28.0h0.6M416.7,39.7h0.6M419.4,68.7h0.6M397.7,52.2h0.6M414.6,32.1h0.6M411.3,33.9h0.6M410.9,64.4h0.6M433.0,59.6h0.6M417.5,41.2h0.6M422.7,59.5h0.6M412.8,52.8h0.6M414.7,51.3h0.6M430.6,31.5h0.6M416.9,40.9h0.6M411.8,51.5h0.6M400.8,38.6h0.6M418.1,48.9h0.6M385.0,27.9h0.6M431.5,45.6h0.6M382.3,43.9h0.6M409.7,64.5h0.6M401.2,40.1h0.6M407.8,51.1h0.6M423.2,54.3h0.6M428.2,58.2h0.6M412.3,45.0h0.6M414.4,63.4h0.6M385.9,33.3h0.6M431.0,67.1h0.6M396.1,40.1h0.6M425.9,54.1h0.6M388.3,45.3h0.6M405.3,32.7h0.6M411.3,37.1h0.6M392.4,73.1h0.6M405.2,34.6h0.6M407.0,17.0h0.6M387.8,63.7h0.6M400.1,41.6h0.6M410.9,49.0h0.6M387.1,65.5h0.6M427.1,56.0h0.6M437.6,46.3h0.6M427.5,60.0h0.6M395.4,38.7h0.6M411.7,42.6h0.6M435.1,34.4h0.6M424.1,42.0h0.6M418.6,64.4h0.6M433.3,40.3h0.6M415.7,58.9h0.6M416.1,59.6h0.6M425.4,70.4h0.6M426.7,39.2h0.6M411.2,52.1h0.6M428.6,41.0h0.6M421.7,54.7h0.6M429.9,46.7h0.6M403.0,48.5h0.6M422.4,49.9h0.6M431.4,51.4h0.6M392.3,54.2h0.6M431.3,27.6h0.6M428.0,57.8h0.6M423.4,54.2h0.6M402.9,54.2h0.6M424.3,37.4h0.6M426.6,59.6h0.6M412.8,70.8h0.6M422.2,51.0h0.6M427.3,50.7h0.6M416.3,42.6h0.6M388.5,32.2h0.6M418.1,65.0h0.6M408.2,19.1h0.6M428.5,34.6h0.6M401.3,51.8h0.6M418.8,49.5h0.6M406.9,39.9h0.6M425.1,57.4h0.6M428.9,59.4h0.6M429.7,43.8h0.6M424.5,48.4h0.6M402.2,68.3h0.6M435.6,41.9h0.6M409.3,50.0h0.6M416.9,44.9h0.6M413.3,64.8h0.6M411.4,40.4h0.6M410.6,39.6h0.6M416.1,44.6h0.6M412.4,45.7h0.6M419.9,32.7h0.6M401.0,42.6h0.6M415.9,44.2h0.6M416.4,48.4h0.6M410.9,44.1h0.6M409.0,56.6h0.6M422.5,37.7h0.6M424.2,52.0h0.6M427.5,47.6h0.6M377.4,29.9h0.6M422.1,30.1h0.6M437.2,67.0h0.6M389.7,54.8h0.6M429.8,75.1h0.6M404.9,53.0h0.6M430.4,34.6h0.6M400.8,54.0h0.6M413.9,36.3h0.6M396.5,44.8h0.6M403.0,53.1h0.6M413.6,66.5h0.6M409.6,41.3h0.6M423.0,56.5h0.6M399.3,39.7h0.6M400.0,33.4h0.6M413.3,50.9h0.6M404.2,35.5h0.6M397.9,66.7h0.6M419.9,51.3h0.6M404.1,39.2h0.6M411.0,43.1h0.6M393.0,48.4h0.6M406.8,49.5h0.6M427.2,51.5h0.6M406.5,69.0h0.6M433.6,43.2h0.6M426.0,60.1h0.6M429.7,42.0h0.6M413.4,39.5h0.6M414.1,57.2h0.6M385.6,30.5h0.6M417.5,49.7h0.6M414.3,62.8h0.6M406.9,34.5h0.6M411.8,34.6h0.6M437.3,70.1h0.6M414.0,48.1h0.6M420.9,54.5h0.6M412.2,37.9h0.6M426.3,61.9h0.6M402.2,33.5h0.6M411.1,70.8h0.6M403.8,37.3h0.6M425.2,42.9h0.6M408.6,60.8h0.6M397.0,40.4h0.6M437.2,57.4h0.6M430.0,45.5h0.6M419.0,42.0h0.6M431.5,56.4h0.6M433.9,41.3h0.6M416.0,53.2h0.6M436.5,38.3h0.6M427.5,46.5h0.6M415.6,40.3h0.6M426.3,54.9h0.6M399.2,62.2h0.6M402.4,51.3h0.6M388.8,53.1h0.6M427.1,51.5h0.6M428.5,38.0h0.6M423.6,52.0h0.6M427.2,40.1h0.6M387.7,36.1h0.6M397.6,62.4h0.6M432.3,51.5h0.6M427.6,47.9h0.6M435.7,40.9h0.6M406.7,49.2h0.6M417.8,32.5h0.6M432.8,50.8h0.6M394.4,34.4h0.6M405.1,40.4h0.6M419.3,48.8h0.6M427.2,54.5h0.6M387.7,62.8h0.6M385.1,46.7h0.6M404.2,31.6h0.6M432.5,28.8h0.6M408.5,35.0h0.6M422.2,40.3h0.6M414.5,52.7h0.6M417.8,52.1h0.6M420.5,55.8h0.6M401.5,16.2h0.6M399.1,33.6h0.6M406.2,45.6h0.6M411.9,32.5h0.6M385.3,52.5h0.6M424.2,44.9h0.6M430.4,48.2h0.6M398.2,41.1h0.6M411.6,55.1h0.6M408.5,48.7h0.6M381.1,48.3h0.6M435.2,33.9h0.6M421.6,57.0h0.6M422.8,52.0h0.6M420.7,47.9h0.6M412.9,38.4h0.6M406.4,35.7h0.6M413.9,63.2h0.6M404.5,47.4h0.6M412.4,59.8h0.6M416.3,59.6h0.6M389.2,66.4h0.6M431.2,62.9h0.6M417.4,49.8h0.6M428.7,30.9h0.6M387.2,60.7h0.6M410.9,57.3h0.6M432.4,31.1h0.6M428.8,43.9h0.6M411.4,22.5h0.6M411.5,37.2h0.6M432.7,50.5h0.6M413.0,42.9h0.6M422.2,39.9h0.6M420.4,64.6h0.6M361.2,52.6h0.6M418.5,43.1h0.6M424.7,48.9h0.6M426.6,50.9h0.6M412.9,48.5h0.6M410.2,27.2h0.6M401.5,55.9h0.6M374.7,29.9h0.6M415.8,39.8h0.6M402.2,43.8h0.6M376.9,53.0h0.6M421.5,27.0h0.6M396.3,63.1h0.6M430.8,64.7h0.6M389.3,63.5h0.6M402.5,48.9h0.6M413.5,57.1h0.6M427.9,38.4h0.6M394.6,72.1h0.6M416.2,43.4h0.6M377.0,46.2h0.6M413.9,47.6h0.6M391.1,39.5h0.6M415.9,31.1h0.6M400.4,53.0h0.6M423.0,46.6h0.6M417.5,49.0h0.6M397.1,60.7h0.6M406.5,53.2h0.6M393.5,51.1h0.6M397.8,41.5h0.6M400.0,53.1h0.6M406.7,39.5h0.6M427.8,33.7h0.6M417.5,47.0h0.6M409.7,60.4h0.6M430.8,42.2h0.6M421.6,61.3h0.6M417.4,46.9h0.6M434.6,54.3h0.6M432.8,69.0h0.6M408.0,61.0h0.6M405.5,35.8h0.6M391.3,69.5h0.6M404.7,49.6h0.6M437.4,47.8h0.6M419.0,60.4h0.6M415.3,52.3h0.6M392.1,48.8h0.6M379.9,62.1h0.6M432.3,36.1h0.6M403.6,25.4h0.6M381.0,57.9h0.6M415.9,73.2h0.6M420.1,43.3h0.6M436.8,47.5h0.6M402.2,55.0h0.6M431.2,51.0h0.6M394.6,34.8h0.6M393.3,38.7h0.6M379.9,57.3h0.6M417.0,59.7h0.6M394.6,63.6h0.6M409.2,50.7h0.6M412.1,30.8h0.6M405.6,71.2h0.6M427.5,47.3h0.6M402.1,44.5h0.6M420.0,54.1h0.6M430.0,50.2h0.6M387.4,51.0h0.6M418.3,51.1h0.6M401.3,70.6h0.6M411.0,57.2h0.6M391.0,54.5h0.6M398.0,56.4h0.6M412.0,38.4h0.6M406.4,25.4h0.6M431.7,53.5h0.6M403.2,46.2h0.6M395.6,53.4h0.6M421.7,44.5h0.6M435.6,71.8h0.6M397.9,46.4h0.6M435.7,22.9h0.6M387.0,71.4h0.6M399.7,41.9h0.6M408.6,34.1h0.6M412.5,42.5h0.6M418.9,39.5h0.6M408.9,61.6h0.6M399.0,38.3h0.6M419.6,55.7h0.6M403.5,38.4h0.6M426.0,51.8h0.6M394.1,46.7h0.6M436.2,45.2h0.6M417.6,49.1h0.6M427.5,39.4h0.6M385.3,21.5h0.6M432.3,47.9h0.6M414.0,36.5h0.6M412.6,38.5h0.6M428.8,34.4h0.6M433.1,55.4h0.6M411.0,53.7h0.6M423.1,44.3h0.6M400.8,43.1h0.6M398.5,42.4h0.6M395.0,56.8h0.6M423.5,60.1h0.6M403.3,42.0h0.6M386.0,33.3h0.6M421.4,42.2h0.6M429.6,45.4h0.6M401.2,47.0h0.6M394.2,37.5h0.6M412.7,55.2h0.6M400.0,39.0h0.6M407.9,44.6h0.6M424.3,53.5h0.6M420.9,48.1h0.6M425.3,47.9h0.6M383.9,32.7h0.6M406.0,46.4h0.6M419.8,42.1h0.6M403.4,38.7h0.6M407.0,48.8h0.6M432.2,57.8h0.6M407.1,36.2h0.6M400.2,62.1h0.6M385.5,55.3h0.6M411.6,44.5h0.6M424.4,54.5h0.6M436.2,32.3h0.6M395.1,42.6h0.6M427.2,41.3h0.6M421.2,44.9h0.6M418.9,41.1h0.6M396.9,64.3h0.6M393.6,44.8h0.6M427.3,68.1h0.6M434.2,41.0h0.6M415.3,58.7h0.6M414.7,27.4h0.6M409.7,48.3h0.6M423.1,52.6h0.6M409.6,56.6h0.6M400.2,51.9h0.6M407.7,58.7h0.6M429.4,47.7h0.6M418.8,26.3h0.6M433.2,51.8h0.6M411.1,43.1h0.6M396.5,54.2h0.6M416.5,55.3h0.6M433.3,49.0h0.6M403.8,45.2h0.6M400.0,42.1h0.6M433.7,54.7h0.6M431.9,35.9h0.6M435.5,39.7h0.6M415.0,55.0h0.6M421.4,60.5h0.6M404.3,51.5h0.6M421.6,50.8h0.6M409.0,52.6h0.6M431.4,49.6h0.6M395.6,40.8h0.6M423.0,42.9h0.6M407.6,36.1h0.6M410.4,51.4h0.6M420.1,48.7h0.6M424.0,68.2h0.6M408.7,42.5h0.6M400.1,32.5h0.6M402.5,42.9h0.6M431.1,38.0h0.6M385.7,66.0h0.6M420.4,29.3h0.6M368.2,46.0h0.6M405.5,53.0h0.6M422.8,37.5h0.6M430.7,42.3h0.6M395.6,42.5h0.6M395.9,48.9h0.6M410.2,39.1h0.6M412.8,70.2h0.6M408.6,48.7h0.6M378.7,56.5h0.6M414.0,59.1h0.6" stroke="#8a8a8a" stroke-width="0.6" fill="none"/>
<path d="M387.1,38.3h0.6M394.6,27.5h0.6M393.1,35.5h0.6M394.0,37.7h0.6M390.5,42.9h0.6M389.3,39.7h0.6M390.4,49.5h0.6M391.8,28.5h0.6M391.9,41.3h0.6M390.9,48.9h0.6M393.9,29.3h0.6M394.7,36.2h0.6M389.4,35.6h0.6M390.2,44.4h0.6M387.0,37.9h0.6M388.3,36.9h0.6M389.0,42.4h0.6M392.6,31.5h0.6M391.0,27.2h0.6M390.7,43.4h0.6M389.7,54.9h0.6M391.8,33.1h0.6M391.5,33.7h0.6M391.9,37.7h0.6M390.5,20.4h0.6M388.1,43.8h0.6M392.6,44.1h0.6M391.3,45.8h0.6M393.3,42.5h0.6M393.9,45.2h0.6M389.2,42.8h0.6M393.4,37.9h0.6M384.8,37.1h0.6M391.4,21.9h0.6M386.3,31.0h0.6M395.5,44.5h0.6M389.6,45.3h0.6M391.6,28.6h0.6M389.4,45.6h0.6M389.7,56.1h0.6M389.3,36.4h0.6M390.0,39.5h0.6M390.6,48.2h0.6M396.8,37.6h0.6M386.1,36.5h0.6M390.9,50.8h0.6M392.7,39.9h0.6M399.0,31.6h0.6M387.3,49.5h0.6M392.7,39.7h0.6M387.1,42.1h0.6M391.6,34.7h0.6M391.1,29.1h0.6M394.1,31.1h0.6M393.6,32.7h0.6M387.8,37.9h0.6M388.2,44.3h0.6M388.0,40.3h0.6M392.9,45.6h0.6M393.4,38.0h0.6M396.6,38.6h0.6M389.0,41.4h0.6M396.4,28.0h0.6M389.3,49.7h0.6M391.1,30.3h0.6M392.6,43.5h0.6M390.2,30.2h0.6M389.8,35.0h0.6M394.8,31.7h0.6M385.1,41.3h0.6M389.8,48.2h0.6M383.2,37.7h0.6M393.5,37.5h0.6M391.5,34.2h0.6M395.7,30.1h0.6M390.7,38.3h0.6M390.4,44.0h0.6M390.2,39.9h0.6M392.3,41.2h0.6M393.7,32.9h0.6M395.8,27.5h0.6M385.7,34.3h0.6M387.2,43.8h0.6M392.6,46.6h0.6M393.7,44.4h0.6M400.1,34.9h0.6M391.0,37.9h0.6M394.7,39.4h0.6M389.6,33.6h0.6M391.4,34.0h0.6M393.6,44.9h0.6M391.8,44.6h0.6M392.5,50.3h0.6M390.1,35.5h0.6M390.7,38.5h0.6M393.1,38.3h0.6M388.1,39.5h0.6M393.0,34.0h0.6M393.9,52.1h0.6M388.9,37.3h0.6M389.5,25.5h0.6M390.8,27.6h0.6M389.7,44.1h0.6M397.0,45.0h0.6M391.3,46.7h0.6M391.5,36.8h0.6M394.5,36.1h0.6M393.6,51.2h0.6M390.5,37.8h0.6M386.3,40.9h0.6M390.6,46.3h0.6M392.0,37.0h0.6M391.0,43.6h0.6M387.8,40.6h0.6M390.8,43.1h0.6M394.6,48.3h0.6M386.3,33.9h0.6M396.6,51.2h0.6M389.5,31.5h0.6M391.5,37.6h0.6" stroke="#8a8a8a" stroke-width="0.6" fill="none"/>
<path d="M379.2,51.6 L378.2,51.7 L377.5,51.5 L376.8,51.1 L376.3,50.6 L376.0,50.1 L375.7,49.4 L375.5,48.4 L375.6,47.4 L375.8,46.6 L376.1,45.9 L376.5,45.1 L376.8,44.6 L377.2,44.0 L377.7,43.4 L378.0,42.6 L377.8,41.6 L377.5,41.0 L377.2,40.4 L376.9,39.6 L376.8,38.8 L376.7,37.9 L376.7,36.9 L376.9,36.1 L377.2,35.5 L377.7,34.9 L378.2,34.5 L379.0,34.3 L379.8,34.5 L380.3,34.9 L380.8,35.5 L381.1,36.1 L381.3,36.9 L381.3,37.9 L381.2,38.8 L381.0,39.6 L380.8,40.4 L380.5,40.9 L380.1,41.6 L379.8,42.4 L379.9,43.4 L380.2,43.9 L380.6,44.6 L381.0,45.3 L381.2,45.9 L381.5,46.7 L381.6,47.6 L381.6,48.6 L381.4,49.4 L381.1,50.1 L380.8,50.6 L380.2,51.1 L379.5,51.5Z M379.2,53.1 L378.2,53.2 L377.5,53.0 L376.8,52.7 L376.2,52.4 L375.6,51.9 L375.2,51.4 L374.8,50.6 L374.5,49.9 L374.3,49.1 L374.2,48.3 L374.3,47.6 L374.4,46.6 L374.6,45.9 L374.8,45.1 L375.1,44.4 L375.3,43.6 L375.5,42.6 L375.5,41.9 L375.4,41.1 L375.3,40.1 L375.2,39.4 L375.1,38.4 L375.1,37.4 L375.2,36.4 L375.4,35.6 L375.7,34.9 L376.0,34.2 L376.4,33.6 L376.9,33.1 L377.5,32.6 L378.1,32.4 L379.0,32.2 L379.9,32.4 L380.5,32.6 L381.1,33.1 L381.6,33.6 L382.0,34.2 L382.3,34.9 L382.6,35.6 L382.8,36.4 L382.9,37.4 L382.9,38.4 L382.8,39.4 L382.7,40.1 L382.5,41.1 L382.4,41.9 L382.3,42.9 L382.3,43.9 L382.5,44.7 L382.7,45.6 L382.8,46.4 L382.9,47.4 L382.9,48.4 L382.8,49.4 L382.6,50.1 L382.2,50.8 L381.9,51.4 L381.5,51.9 L380.9,52.4 L380.2,52.8 L379.5,53.1Z M379.8,54.2 L378.8,54.3 L377.8,54.2 L377.0,54.0 L376.2,53.7 L375.7,53.4 L375.1,52.9 L374.7,52.4 L374.2,51.7 L373.9,51.1 L373.6,50.4 L373.4,49.6 L373.3,48.6 L373.3,47.6 L373.4,46.6 L373.5,45.9 L373.7,44.9 L373.9,44.1 L374.1,43.4 L374.2,42.4 L374.2,41.4 L374.1,40.4 L374.0,39.4 L374.0,38.6 L374.0,37.6 L374.0,36.9 L374.2,35.9 L374.4,35.1 L374.6,34.4 L375.0,33.6 L375.2,33.1 L375.8,32.4 L376.2,31.9 L376.8,31.5 L377.3,31.1 L378.0,30.8 L379.0,30.7 L380.0,30.8 L380.7,31.1 L381.2,31.5 L381.8,31.9 L382.2,32.4 L382.8,33.1 L383.0,33.6 L383.4,34.4 L383.6,35.1 L383.8,35.9 L384.0,36.9 L384.0,37.6 L384.0,38.6 L384.0,39.4 L383.9,40.4 L383.8,41.4 L383.7,42.1 L383.6,43.1 L383.7,44.1 L383.8,44.9 L383.9,45.9 L384.0,46.9 L384.0,47.9 L383.9,48.9 L383.8,49.6 L383.5,50.5 L383.2,51.1 L382.8,51.9 L382.5,52.4 L382.0,52.9 L381.4,53.4 L380.8,53.8 L380.0,54.1Z M380.0,55.1 L379.0,55.3 L378.0,55.3 L377.1,55.1 L376.4,54.9 L375.8,54.5 L375.2,54.1 L374.6,53.6 L374.2,53.1 L373.8,52.5 L373.3,51.9 L373.0,51.1 L372.8,50.4 L372.6,49.6 L372.5,48.9 L372.4,47.9 L372.5,46.9 L372.6,46.1 L372.7,45.1 L372.9,44.4 L373.0,43.6 L373.1,42.6 L373.1,41.6 L373.1,40.6 L373.1,39.6 L373.0,38.6 L373.1,37.6 L373.1,36.6 L373.3,35.9 L373.5,34.9 L373.7,34.1 L374.0,33.4 L374.3,32.9 L374.7,32.1 L375.0,31.6 L375.5,31.1 L376.0,30.6 L376.7,30.1 L377.2,29.8 L378.0,29.6 L379.0,29.5 L380.0,29.6 L380.8,29.8 L381.3,30.1 L382.0,30.6 L382.5,31.1 L383.0,31.6 L383.3,32.1 L383.7,32.9 L384.0,33.4 L384.3,34.1 L384.5,34.9 L384.7,35.9 L384.9,36.6 L384.9,37.6 L385.0,38.6 L384.9,39.6 L384.9,40.6 L384.8,41.6 L384.7,42.4 L384.7,43.4 L384.7,44.4 L384.8,45.1 L384.8,46.1 L384.9,47.1 L384.8,48.1 L384.8,49.0 L384.6,49.9 L384.4,50.6 L384.1,51.4 L383.8,52.0 L383.4,52.6 L383.0,53.1 L382.5,53.7 L382.0,54.1 L381.3,54.6 L380.8,54.9 L380.0,55.1Z M379.8,56.1 L378.8,56.3 L377.8,56.2 L377.0,56.0 L376.2,55.7 L375.5,55.4 L375.0,55.0 L374.5,54.6 L374.0,54.1 L373.5,53.5 L373.0,52.9 L372.8,52.3 L372.4,51.6 L372.1,50.9 L371.9,50.1 L371.8,49.1 L371.7,48.4 L371.7,47.4 L371.8,46.5 L371.8,45.6 L372.0,44.6 L372.1,43.9 L372.2,42.9 L372.2,41.9 L372.2,40.9 L372.2,39.9 L372.2,38.9 L372.2,37.9 L372.3,37.1 L372.4,36.1 L372.5,35.4 L372.8,34.4 L373.0,33.6 L373.2,33.0 L373.5,32.4 L374.0,31.6 L374.3,31.1 L374.8,30.5 L375.2,30.0 L375.8,29.5 L376.4,29.1 L377.0,28.8 L377.8,28.5 L378.8,28.4 L379.8,28.4 L380.5,28.6 L381.2,28.9 L382.0,29.4 L382.5,29.8 L383.0,30.2 L383.5,30.8 L383.9,31.4 L384.2,32.0 L384.6,32.6 L384.9,33.4 L385.2,34.1 L385.4,34.9 L385.5,35.6 L385.7,36.6 L385.8,37.4 L385.8,38.4 L385.8,39.4 L385.8,40.4 L385.7,41.1 L385.7,42.1 L385.6,43.1 L385.6,44.1 L385.6,45.1 L385.7,46.1 L385.7,47.1 L385.6,48.1 L385.5,49.1 L385.4,49.9 L385.2,50.6 L384.9,51.4 L384.6,52.1 L384.2,52.8 L383.9,53.4 L383.5,53.9 L383.0,54.4 L382.5,54.9 L381.8,55.3 L381.2,55.6 L380.5,55.9 L379.8,56.1Z M379.2,57.1 L378.2,57.1 L377.5,57.0 L376.8,56.8 L376.0,56.5 L375.2,56.1 L374.8,55.8 L374.2,55.4 L373.7,54.9 L373.2,54.4 L372.8,53.7 L372.4,53.1 L372.0,52.4 L371.8,51.8 L371.5,51.1 L371.2,50.1 L371.1,49.4 L371.0,48.4 L371.0,47.4 L371.1,46.4 L371.1,45.4 L371.2,44.5 L371.3,43.6 L371.4,42.6 L371.4,41.6 L371.4,40.6 L371.4,39.6 L371.4,38.6 L371.5,37.6 L371.6,36.9 L371.7,35.9 L371.8,35.1 L372.0,34.4 L372.2,33.5 L372.5,32.8 L372.8,32.1 L373.2,31.4 L373.5,30.8 L374.0,30.1 L374.4,29.6 L374.9,29.1 L375.5,28.6 L376.0,28.2 L376.7,27.9 L377.4,27.6 L378.2,27.4 L379.0,27.3 L379.8,27.4 L380.6,27.6 L381.3,27.9 L382.0,28.2 L382.5,28.6 L383.1,29.1 L383.6,29.6 L384.0,30.1 L384.5,30.8 L384.8,31.4 L385.2,32.1 L385.5,32.8 L385.8,33.5 L386.0,34.4 L386.2,35.1 L386.3,35.9 L386.4,36.9 L386.5,37.6 L386.6,38.6 L386.6,39.6 L386.5,40.6 L386.5,41.6 L386.5,42.4 L386.5,43.4 L386.4,44.4 L386.4,45.4 L386.4,46.4 L386.4,47.4 L386.3,48.4 L386.2,49.1 L386.1,50.1 L385.9,50.9 L385.6,51.6 L385.3,52.4 L385.0,52.9 L384.6,53.6 L384.2,54.1 L383.8,54.7 L383.2,55.2 L382.8,55.7 L382.1,56.1 L381.5,56.5 L380.8,56.8 L380.0,57.0 L379.2,57.1Z M380.2,57.9 L379.2,58.0 L378.2,58.0 L377.2,57.9 L376.5,57.6 L375.8,57.4 L375.2,57.0 L374.6,56.6 L374.0,56.1 L373.5,55.7 L373.0,55.1 L372.6,54.6 L372.2,54.1 L371.8,53.4 L371.5,52.8 L371.2,52.1 L370.9,51.4 L370.7,50.6 L370.5,49.6 L370.4,48.9 L370.4,47.9 L370.4,46.9 L370.4,45.9 L370.5,45.0 L370.6,44.1 L370.6,43.1 L370.7,42.1 L370.7,41.1 L370.7,40.1 L370.7,39.1 L370.8,38.4 L370.8,37.4 L370.9,36.4 L371.0,35.6 L371.2,34.6 L371.4,33.9 L371.7,33.1 L371.9,32.4 L372.2,31.6 L372.5,31.1 L372.9,30.4 L373.2,29.8 L373.8,29.2 L374.2,28.6 L374.8,28.1 L375.2,27.7 L375.8,27.4 L376.5,26.9 L377.2,26.6 L378.0,26.4 L379.0,26.4 L380.0,26.4 L380.8,26.6 L381.5,26.9 L382.2,27.4 L382.8,27.7 L383.2,28.1 L383.8,28.6 L384.2,29.2 L384.8,29.8 L385.1,30.4 L385.5,31.1 L385.8,31.6 L386.1,32.4 L386.3,33.1 L386.6,33.9 L386.8,34.6 L387.0,35.6 L387.1,36.4 L387.2,37.4 L387.2,38.4 L387.3,39.1 L387.3,40.1 L387.3,41.1 L387.2,42.1 L387.2,42.9 L387.2,43.9 L387.2,44.9 L387.2,45.9 L387.1,46.9 L387.1,47.9 L387.0,48.6 L386.8,49.6 L386.7,50.4 L386.5,51.1 L386.2,51.9 L385.9,52.6 L385.6,53.4 L385.2,53.9 L384.8,54.6 L384.4,55.1 L384.0,55.6 L383.5,56.1 L382.9,56.6 L382.2,57.0 L381.7,57.4 L381.0,57.6 L380.2,57.9Z M380.2,58.9 L379.2,59.0 L378.2,59.0 L377.4,58.9 L376.6,58.6 L376.0,58.3 L375.2,58.0 L374.7,57.6 L374.0,57.1 L373.5,56.6 L373.0,56.1 L372.5,55.6 L372.1,55.1 L371.8,54.5 L371.3,53.9 L371.0,53.2 L370.7,52.6 L370.5,51.9 L370.2,51.1 L370.0,50.1 L369.9,49.4 L369.8,48.4 L369.8,47.4 L369.8,46.4 L369.8,45.4 L369.9,44.4 L369.9,43.4 L370.0,42.4 L370.0,41.4 L370.0,40.6 L370.0,39.6 L370.1,38.6 L370.1,37.6 L370.2,36.6 L370.3,35.9 L370.5,35.0 L370.7,34.1 L370.9,33.4 L371.1,32.6 L371.4,31.9 L371.7,31.1 L372.0,30.6 L372.4,29.9 L372.8,29.3 L373.2,28.6 L373.7,28.1 L374.1,27.6 L374.7,27.1 L375.2,26.7 L375.8,26.4 L376.5,26.0 L377.2,25.7 L378.0,25.5 L379.0,25.4 L380.0,25.5 L380.8,25.7 L381.5,26.0 L382.2,26.4 L382.8,26.7 L383.3,27.1 L383.9,27.6 L384.3,28.1 L384.8,28.6 L385.2,29.3 L385.6,29.9 L386.0,30.6 L386.3,31.1 L386.6,31.9 L386.9,32.6 L387.1,33.4 L387.3,34.1 L387.5,35.0 L387.7,35.9 L387.8,36.6 L387.9,37.6 L387.9,38.6 L388.0,39.6 L388.0,40.6 L388.0,41.6 L388.0,42.6 L387.9,43.6 L387.9,44.6 L387.9,45.6 L387.8,46.6 L387.8,47.5 L387.7,48.4 L387.5,49.4 L387.4,50.1 L387.2,50.9 L387.0,51.6 L386.7,52.4 L386.4,53.1 L386.1,53.9 L385.8,54.4 L385.3,55.1 L384.9,55.6 L384.5,56.1 L384.0,56.6 L383.5,57.1 L382.9,57.6 L382.2,58.0 L381.6,58.4 L381.0,58.6 L380.2,58.9Z" fill="none" stroke="#141414" stroke-width="0.5"/><path d="M380.2,58.9 L379.2,59.0 L378.2,59.0 L377.4,58.9 L376.6,58.6 L376.0,58.3 L375.2,58.0 L374.7,57.6 L374.0,57.1 L373.5,56.6 L373.0,56.1 L372.5,55.6 L372.1,55.1 L371.8,54.5 L371.3,53.9 L371.0,53.2 L370.7,52.6 L370.5,51.9 L370.2,51.1 L370.0,50.1 L369.9,49.4 L369.8,48.4 L369.8,47.4 L369.8,46.4 L369.8,45.4 L369.9,44.4 L369.9,43.4 L370.0,42.4 L370.0,41.4 L370.0,40.6 L370.0,39.6 L370.1,38.6 L370.1,37.6 L370.2,36.6 L370.3,35.9 L370.5,35.0 L370.7,34.1 L370.9,33.4 L371.1,32.6 L371.4,31.9 L371.7,31.1 L372.0,30.6 L372.4,29.9 L372.8,29.3 L373.2,28.6 L373.7,28.1 L374.1,27.6 L374.7,27.1 L375.2,26.7 L375.8,26.4 L376.5,26.0 L377.2,25.7 L378.0,25.5 L379.0,25.4 L380.0,25.5 L380.8,25.7 L381.5,26.0 L382.2,26.4 L382.8,26.7 L383.3,27.1 L383.9,27.6 L384.3,28.1 L384.8,28.6 L385.2,29.3 L385.6,29.9 L386.0,30.6 L386.3,31.1 L386.6,31.9 L386.9,32.6 L387.1,33.4 L387.3,34.1 L387.5,35.0 L387.7,35.9 L387.8,36.6 L387.9,37.6 L387.9,38.6 L388.0,39.6 L388.0,40.6 L388.0,41.6 L388.0,42.6 L387.9,43.6 L387.9,44.6 L387.9,45.6 L387.8,46.6 L387.8,47.5 L387.7,48.4 L387.5,49.4 L387.4,50.1 L387.2,50.9 L387.0,51.6 L386.7,52.4 L386.4,53.1 L386.1,53.9 L385.8,54.4 L385.3,55.1 L384.9,55.6 L384.5,56.1 L384.0,56.6 L383.5,57.1 L382.9,57.6 L382.2,58.0 L381.6,58.4 L381.0,58.6 L380.2,58.9Z" fill="none" stroke="#141414" stroke-width="1.5"/>
<path d="M411.2,41.9 L410.2,41.9 L409.2,41.9 L408.5,41.8 L407.5,41.7 L406.7,41.6 L405.8,41.4 L405.2,41.1 L404.8,40.4 L405.2,39.7 L405.8,39.3 L406.5,38.9 L407.2,38.6 L407.9,38.4 L408.7,38.1 L409.5,37.9 L410.2,37.7 L411.0,37.6 L412.0,37.4 L412.8,37.3 L413.8,37.2 L414.8,37.1 L415.8,37.1 L416.8,37.1 L417.8,37.2 L418.8,37.3 L419.5,37.4 L420.2,37.7 L420.9,38.1 L421.1,38.9 L420.7,39.4 L420.0,39.9 L419.5,40.1 L418.8,40.4 L418.0,40.7 L417.2,40.9 L416.5,41.1 L415.5,41.3 L414.8,41.5 L413.9,41.6 L413.0,41.7 L412.0,41.8 L411.2,41.9Z M409.8,42.9 L408.8,42.9 L407.8,42.9 L407.0,42.8 L406.0,42.8 L405.0,42.6 L404.2,42.5 L403.5,42.3 L402.8,42.1 L402.0,41.7 L401.5,41.1 L401.5,40.5 L401.9,39.9 L402.5,39.4 L403.0,39.1 L403.8,38.7 L404.5,38.4 L405.1,38.1 L405.8,37.9 L406.7,37.6 L407.5,37.4 L408.2,37.2 L409.0,37.0 L409.9,36.9 L410.8,36.7 L411.5,36.6 L412.5,36.4 L413.3,36.4 L414.2,36.3 L415.2,36.2 L416.2,36.1 L417.2,36.1 L418.2,36.1 L419.2,36.2 L420.2,36.3 L421.0,36.4 L422.0,36.5 L422.8,36.7 L423.5,37.0 L424.0,37.4 L424.5,38.0 L424.5,38.6 L424.0,39.2 L423.5,39.6 L422.8,40.1 L422.2,40.4 L421.5,40.7 L420.8,40.9 L420.0,41.2 L419.2,41.4 L418.5,41.6 L417.6,41.9 L416.8,42.0 L416.0,42.2 L415.0,42.3 L414.2,42.5 L413.2,42.6 L412.5,42.7 L411.5,42.8 L410.5,42.8 L409.8,42.9Z M409.2,43.6 L408.2,43.6 L407.2,43.6 L406.2,43.6 L405.5,43.6 L404.5,43.5 L403.5,43.4 L402.8,43.3 L401.9,43.1 L401.0,42.9 L400.3,42.6 L399.8,42.3 L399.2,41.9 L398.9,41.1 L399.1,40.4 L399.5,39.9 L400.1,39.4 L400.8,39.0 L401.4,38.6 L402.0,38.3 L402.8,38.0 L403.5,37.7 L404.2,37.5 L405.0,37.2 L405.8,37.0 L406.5,36.8 L407.5,36.6 L408.2,36.4 L409.0,36.3 L410.0,36.1 L410.8,36.0 L411.6,35.9 L412.5,35.7 L413.5,35.6 L414.2,35.6 L415.2,35.5 L416.2,35.4 L417.2,35.4 L418.2,35.4 L419.2,35.4 L420.2,35.4 L421.2,35.5 L422.2,35.6 L423.0,35.7 L423.9,35.9 L424.8,36.1 L425.5,36.3 L426.1,36.6 L426.8,37.1 L427.1,37.6 L427.0,38.5 L426.5,39.1 L426.0,39.5 L425.5,39.9 L424.8,40.3 L424.2,40.6 L423.5,40.9 L422.8,41.2 L422.0,41.4 L421.2,41.7 L420.5,41.9 L419.8,42.1 L418.8,42.3 L418.0,42.5 L417.2,42.7 L416.3,42.9 L415.5,43.0 L414.7,43.1 L413.8,43.2 L412.8,43.3 L412.0,43.4 L411.0,43.5 L410.0,43.6 L409.2,43.6Z M411.0,44.1 L410.0,44.2 L409.0,44.2 L408.0,44.3 L407.0,44.3 L406.0,44.3 L405.0,44.2 L404.0,44.2 L403.0,44.1 L402.2,44.0 L401.2,43.9 L400.5,43.7 L399.8,43.6 L399.0,43.3 L398.2,43.0 L397.5,42.6 L397.0,42.2 L396.7,41.6 L396.8,40.9 L397.2,40.1 L397.8,39.6 L398.2,39.3 L398.9,38.9 L399.5,38.5 L400.2,38.2 L401.0,37.9 L401.6,37.6 L402.3,37.4 L403.1,37.1 L403.9,36.9 L404.8,36.6 L405.5,36.4 L406.2,36.2 L407.0,36.1 L408.0,35.9 L408.8,35.7 L409.5,35.6 L410.5,35.4 L411.2,35.3 L412.2,35.2 L413.0,35.1 L414.0,35.0 L415.0,34.9 L415.8,34.8 L416.8,34.8 L417.8,34.7 L418.8,34.7 L419.8,34.7 L420.8,34.7 L421.8,34.8 L422.5,34.9 L423.5,34.9 L424.5,35.1 L425.2,35.2 L426.0,35.4 L426.8,35.6 L427.5,35.9 L428.2,36.2 L428.8,36.6 L429.2,37.3 L429.3,38.1 L429.0,38.6 L428.5,39.1 L428.0,39.6 L427.2,40.1 L426.7,40.4 L426.0,40.7 L425.2,41.0 L424.5,41.3 L423.8,41.6 L423.1,41.9 L422.3,42.1 L421.5,42.3 L420.8,42.5 L420.0,42.7 L419.2,42.9 L418.2,43.1 L417.5,43.2 L416.8,43.4 L415.8,43.5 L415.0,43.7 L414.0,43.8 L413.2,43.9 L412.2,44.0 L411.2,44.1Z M411.2,44.6 L410.2,44.7 L409.2,44.8 L408.2,44.8 L407.2,44.8 L406.2,44.8 L405.2,44.8 L404.2,44.8 L403.2,44.8 L402.2,44.7 L401.3,44.6 L400.5,44.5 L399.6,44.4 L398.8,44.2 L398.0,44.0 L397.2,43.8 L396.5,43.5 L395.8,43.1 L395.2,42.6 L394.9,42.1 L394.8,41.6 L395.0,40.7 L395.5,40.1 L396.0,39.6 L396.5,39.2 L397.1,38.9 L397.8,38.5 L398.5,38.1 L399.1,37.9 L399.8,37.6 L400.5,37.3 L401.2,37.0 L402.0,36.8 L402.8,36.6 L403.5,36.4 L404.4,36.1 L405.2,35.9 L406.0,35.7 L406.8,35.6 L407.8,35.4 L408.5,35.2 L409.2,35.1 L410.2,34.9 L411.0,34.8 L412.0,34.7 L412.8,34.6 L413.8,34.5 L414.8,34.4 L415.5,34.3 L416.5,34.3 L417.5,34.2 L418.5,34.2 L419.5,34.2 L420.5,34.2 L421.5,34.2 L422.5,34.2 L423.5,34.3 L424.2,34.4 L425.2,34.5 L426.1,34.6 L427.0,34.8 L427.8,34.9 L428.5,35.2 L429.2,35.4 L430.0,35.8 L430.5,36.1 L431.0,36.7 L431.2,37.6 L431.0,38.4 L430.5,38.9 L430.0,39.4 L429.4,39.9 L428.8,40.2 L428.1,40.6 L427.5,40.9 L426.8,41.2 L426.0,41.5 L425.2,41.8 L424.5,42.0 L423.8,42.3 L423.0,42.5 L422.2,42.7 L421.5,42.9 L420.7,43.1 L419.8,43.3 L419.0,43.5 L418.2,43.6 L417.2,43.8 L416.5,44.0 L415.5,44.1 L414.8,44.2 L413.8,44.3 L413.0,44.4 L412.0,44.5 L411.2,44.6Z M411.0,45.1 L410.0,45.2 L409.0,45.3 L408.0,45.3 L407.0,45.3 L406.0,45.3 L405.0,45.3 L404.0,45.3 L403.0,45.3 L402.0,45.2 L401.0,45.2 L400.2,45.1 L399.2,45.0 L398.5,44.8 L397.5,44.7 L396.8,44.5 L396.0,44.2 L395.2,44.0 L394.5,43.6 L394.0,43.3 L393.5,42.9 L393.1,42.1 L393.1,41.1 L393.5,40.5 L394.0,39.9 L394.5,39.5 L395.1,39.1 L395.8,38.7 L396.4,38.4 L397.0,38.0 L397.8,37.7 L398.5,37.4 L399.2,37.1 L400.0,36.9 L400.8,36.6 L401.5,36.4 L402.2,36.1 L403.0,35.9 L403.8,35.7 L404.5,35.6 L405.4,35.4 L406.2,35.2 L407.0,35.0 L407.9,34.9 L408.8,34.7 L409.5,34.6 L410.5,34.4 L411.2,34.3 L412.2,34.2 L413.0,34.1 L414.0,34.0 L415.0,33.9 L415.8,33.8 L416.8,33.8 L417.8,33.7 L418.8,33.7 L419.8,33.7 L420.8,33.6 L421.8,33.7 L422.8,33.7 L423.8,33.7 L424.8,33.8 L425.5,33.9 L426.5,34.0 L427.2,34.1 L428.2,34.3 L429.0,34.5 L429.8,34.7 L430.5,34.9 L431.2,35.3 L431.9,35.6 L432.5,36.1 L432.8,36.6 L433.0,37.6 L432.6,38.4 L432.2,38.9 L431.7,39.4 L431.0,39.8 L430.5,40.2 L429.8,40.6 L429.2,40.9 L428.5,41.2 L427.8,41.5 L427.0,41.8 L426.2,42.1 L425.5,42.3 L424.8,42.6 L424.0,42.8 L423.2,43.0 L422.5,43.2 L421.8,43.4 L420.8,43.6 L420.0,43.8 L419.2,43.9 L418.4,44.1 L417.5,44.3 L416.8,44.4 L415.8,44.6 L415.0,44.7 L414.0,44.8 L413.2,44.9 L412.2,45.0 L411.2,45.1Z" fill="none" stroke="#141414" stroke-width="0.5"/><path d="M411.0,45.1 L410.0,45.2 L409.0,45.3 L408.0,45.3 L407.0,45.3 L406.0,45.3 L405.0,45.3 L404.0,45.3 L403.0,45.3 L402.0,45.2 L401.0,45.2 L400.2,45.1 L399.2,45.0 L398.5,44.8 L397.5,44.7 L396.8,44.5 L396.0,44.2 L395.2,44.0 L394.5,43.6 L394.0,43.3 L393.5,42.9 L393.1,42.1 L393.1,41.1 L393.5,40.5 L394.0,39.9 L394.5,39.5 L395.1,39.1 L395.8,38.7 L396.4,38.4 L397.0,38.0 L397.8,37.7 L398.5,37.4 L399.2,37.1 L400.0,36.9 L400.8,36.6 L401.5,36.4 L402.2,36.1 L403.0,35.9 L403.8,35.7 L404.5,35.6 L405.4,35.4 L406.2,35.2 L407.0,35.0 L407.9,34.9 L408.8,34.7 L409.5,34.6 L410.5,34.4 L411.2,34.3 L412.2,34.2 L413.0,34.1 L414.0,34.0 L415.0,33.9 L415.8,33.8 L416.8,33.8 L417.8,33.7 L418.8,33.7 L419.8,33.7 L420.8,33.6 L421.8,33.7 L422.8,33.7 L423.8,33.7 L424.8,33.8 L425.5,33.9 L426.5,34.0 L427.2,34.1 L428.2,34.3 L429.0,34.5 L429.8,34.7 L430.5,34.9 L431.2,35.3 L431.9,35.6 L432.5,36.1 L432.8,36.6 L433.0,37.6 L432.6,38.4 L432.2,38.9 L431.7,39.4 L431.0,39.8 L430.5,40.2 L429.8,40.6 L429.2,40.9 L428.5,41.2 L427.8,41.5 L427.0,41.8 L426.2,42.1 L425.5,42.3 L424.8,42.6 L424.0,42.8 L423.2,43.0 L422.5,43.2 L421.8,43.4 L420.8,43.6 L420.0,43.8 L419.2,43.9 L418.4,44.1 L417.5,44.3 L416.8,44.4 L415.8,44.6 L415.0,44.7 L414.0,44.8 L413.2,44.9 L412.2,45.0 L411.2,45.1Z" fill="none" stroke="#141414" stroke-width="1.2"/>
<path d="M415.2,53.9 L414.2,54.0 L413.2,54.1 L412.2,54.1 L411.2,54.1 L410.2,54.0 L409.2,53.9 L408.5,53.8 L407.6,53.6 L407.0,53.4 L406.8,52.9 L407.5,52.4 L408.2,52.2 L409.0,52.1 L410.0,52.0 L411.0,51.9 L412.0,51.9 L413.0,51.9 L414.0,52.0 L415.0,52.1 L415.8,52.2 L416.5,52.4 L417.2,52.9 L417.0,53.4 L416.4,53.6 L415.5,53.8Z M415.5,54.4 L414.5,54.5 L413.5,54.5 L412.5,54.5 L411.5,54.5 L410.5,54.5 L409.5,54.5 L408.5,54.4 L407.8,54.3 L406.8,54.1 L406.0,53.9 L405.2,53.7 L404.7,53.4 L404.8,52.6 L405.5,52.2 L406.2,52.0 L407.0,51.9 L408.0,51.7 L408.9,51.6 L409.8,51.5 L410.8,51.5 L411.8,51.5 L412.8,51.5 L413.8,51.5 L414.8,51.6 L415.5,51.6 L416.5,51.8 L417.2,51.9 L418.1,52.1 L418.8,52.4 L419.4,52.9 L419.0,53.5 L418.2,53.8 L417.5,54.0 L416.8,54.2 L415.8,54.3Z M413.8,54.9 L412.8,54.9 L411.8,54.9 L410.8,54.9 L410.0,54.8 L409.0,54.8 L408.0,54.7 L407.2,54.6 L406.2,54.5 L405.5,54.3 L404.6,54.1 L403.8,53.9 L403.2,53.5 L402.9,52.9 L403.4,52.4 L404.0,52.1 L404.8,51.9 L405.8,51.6 L406.5,51.5 L407.5,51.4 L408.2,51.3 L409.2,51.2 L410.2,51.1 L411.2,51.1 L412.2,51.1 L413.2,51.1 L414.2,51.2 L415.2,51.2 L416.2,51.3 L417.0,51.4 L418.0,51.6 L418.8,51.7 L419.5,51.9 L420.2,52.2 L420.9,52.6 L421.0,53.3 L420.5,53.7 L419.8,54.0 L419.0,54.2 L418.2,54.4 L417.2,54.5 L416.5,54.6 L415.5,54.7 L414.5,54.8 L413.8,54.9Z M414.8,55.1 L413.8,55.2 L412.8,55.2 L411.8,55.2 L410.8,55.2 L409.8,55.1 L409.0,55.1 L408.0,55.0 L407.0,54.9 L406.2,54.8 L405.2,54.7 L404.5,54.5 L403.7,54.4 L402.9,54.1 L402.2,53.8 L401.6,53.4 L401.5,52.8 L402.0,52.3 L402.8,52.0 L403.5,51.7 L404.2,51.5 L405.1,51.4 L406.0,51.2 L406.8,51.1 L407.8,51.0 L408.8,50.9 L409.8,50.9 L410.5,50.8 L411.5,50.8 L412.5,50.8 L413.5,50.8 L414.2,50.9 L415.2,50.9 L416.2,51.0 L417.2,51.1 L418.0,51.2 L418.9,51.4 L419.8,51.5 L420.5,51.7 L421.2,52.0 L422.0,52.3 L422.5,52.8 L422.4,53.4 L421.8,53.8 L421.1,54.1 L420.3,54.4 L419.5,54.5 L418.8,54.7 L417.8,54.8 L417.0,54.9 L416.0,55.0 L415.0,55.1Z M415.0,55.4 L414.0,55.4 L413.0,55.4 L412.0,55.4 L411.0,55.4 L410.0,55.4 L409.0,55.4 L408.2,55.3 L407.2,55.2 L406.2,55.1 L405.5,55.0 L404.5,54.9 L403.8,54.7 L403.0,54.6 L402.2,54.4 L401.5,54.1 L400.8,53.7 L400.2,53.2 L400.4,52.6 L401.0,52.1 L401.6,51.9 L402.3,51.6 L403.2,51.4 L404.0,51.2 L404.8,51.1 L405.8,50.9 L406.5,50.8 L407.5,50.7 L408.5,50.7 L409.5,50.6 L410.2,50.6 L411.2,50.6 L412.2,50.6 L413.2,50.6 L414.0,50.6 L415.0,50.6 L416.0,50.7 L417.0,50.8 L417.8,50.9 L418.8,51.0 L419.5,51.1 L420.5,51.3 L421.2,51.5 L422.0,51.7 L422.8,52.0 L423.4,52.4 L423.8,52.9 L423.5,53.5 L423.0,53.9 L422.2,54.2 L421.5,54.4 L420.8,54.6 L419.8,54.8 L419.0,55.0 L418.0,55.1 L417.2,55.2 L416.2,55.3 L415.2,55.3Z M414.8,55.6 L413.8,55.6 L412.8,55.7 L411.8,55.7 L410.8,55.7 L409.8,55.6 L409.0,55.6 L408.0,55.5 L407.0,55.5 L406.0,55.4 L405.2,55.3 L404.2,55.1 L403.5,55.0 L402.7,54.9 L401.8,54.6 L401.0,54.4 L400.2,54.1 L399.8,53.8 L399.2,53.4 L399.2,52.6 L399.8,52.1 L400.5,51.8 L401.2,51.5 L402.0,51.3 L402.9,51.1 L403.8,50.9 L404.5,50.8 L405.5,50.7 L406.4,50.6 L407.2,50.5 L408.2,50.4 L409.2,50.4 L410.2,50.4 L411.0,50.3 L412.0,50.3 L413.0,50.3 L413.8,50.4 L414.8,50.4 L415.8,50.4 L416.8,50.5 L417.6,50.6 L418.5,50.7 L419.5,50.8 L420.2,50.9 L421.1,51.1 L422.0,51.3 L422.8,51.5 L423.5,51.8 L424.2,52.1 L424.8,52.6 L424.8,53.4 L424.2,53.8 L423.8,54.1 L423.0,54.4 L422.2,54.6 L421.3,54.9 L420.5,55.0 L419.8,55.1 L418.8,55.3 L418.0,55.4 L417.0,55.5 L416.0,55.5 L415.0,55.6Z M413.8,55.9 L412.8,55.9 L411.8,55.9 L410.8,55.9 L410.0,55.8 L409.0,55.8 L408.0,55.8 L407.0,55.7 L406.0,55.6 L405.2,55.5 L404.2,55.4 L403.5,55.3 L402.5,55.1 L401.8,55.0 L401.0,54.8 L400.2,54.6 L399.5,54.3 L398.8,53.9 L398.2,53.5 L398.2,52.6 L398.7,52.1 L399.2,51.8 L400.0,51.5 L400.8,51.3 L401.5,51.1 L402.5,50.9 L403.2,50.8 L404.2,50.6 L405.0,50.5 L406.0,50.4 L406.8,50.3 L407.8,50.2 L408.8,50.2 L409.8,50.2 L410.8,50.1 L411.8,50.1 L412.8,50.1 L413.8,50.1 L414.8,50.2 L415.8,50.2 L416.8,50.3 L417.5,50.4 L418.5,50.4 L419.5,50.6 L420.2,50.7 L421.2,50.8 L422.0,51.0 L422.8,51.2 L423.5,51.4 L424.2,51.6 L425.0,52.0 L425.6,52.4 L425.9,53.1 L425.5,53.7 L424.9,54.1 L424.2,54.4 L423.5,54.6 L422.7,54.9 L421.8,55.1 L421.0,55.2 L420.1,55.4 L419.2,55.5 L418.2,55.6 L417.5,55.7 L416.5,55.7 L415.5,55.8 L414.5,55.8 L413.8,55.9Z M417.5,55.9 L416.5,55.9 L415.5,56.0 L414.5,56.0 L413.5,56.1 L412.5,56.1 L411.5,56.1 L410.5,56.1 L409.5,56.0 L408.5,56.0 L407.5,55.9 L406.5,55.9 L405.8,55.8 L404.8,55.7 L404.0,55.6 L403.0,55.5 L402.2,55.3 L401.2,55.1 L400.5,55.0 L399.8,54.8 L399.0,54.5 L398.2,54.2 L397.7,53.9 L397.2,53.4 L397.2,52.6 L397.8,52.1 L398.5,51.7 L399.2,51.4 L400.0,51.2 L400.8,51.0 L401.5,50.8 L402.5,50.6 L403.2,50.5 L404.2,50.4 L405.0,50.3 L406.0,50.2 L407.0,50.1 L407.8,50.0 L408.8,50.0 L409.8,49.9 L410.8,49.9 L411.8,49.9 L412.8,49.9 L413.8,49.9 L414.8,50.0 L415.8,50.0 L416.8,50.1 L417.5,50.1 L418.5,50.2 L419.5,50.3 L420.2,50.4 L421.2,50.6 L422.0,50.7 L422.8,50.9 L423.7,51.1 L424.5,51.3 L425.2,51.6 L425.8,51.9 L426.5,52.3 L426.9,52.9 L426.6,53.6 L426.0,54.1 L425.4,54.4 L424.7,54.6 L423.9,54.9 L423.0,55.1 L422.2,55.2 L421.5,55.4 L420.5,55.5 L419.8,55.6 L418.8,55.8 L417.8,55.8Z M416.8,56.1 L415.8,56.2 L414.8,56.2 L413.8,56.3 L412.8,56.3 L411.8,56.3 L410.8,56.3 L409.8,56.2 L408.8,56.2 L407.8,56.2 L407.0,56.1 L406.0,56.0 L405.0,55.9 L404.2,55.8 L403.2,55.7 L402.4,55.6 L401.5,55.4 L400.8,55.3 L399.9,55.1 L399.0,54.9 L398.2,54.6 L397.6,54.4 L397.0,54.0 L396.4,53.6 L396.2,52.9 L396.5,52.3 L397.2,51.9 L397.8,51.6 L398.5,51.3 L399.2,51.1 L400.1,50.9 L401.0,50.6 L401.8,50.5 L402.8,50.4 L403.5,50.2 L404.5,50.1 L405.2,50.0 L406.2,49.9 L407.2,49.9 L408.0,49.8 L409.0,49.8 L410.0,49.7 L411.0,49.7 L412.0,49.7 L413.0,49.7 L414.0,49.7 L415.0,49.8 L416.0,49.8 L416.8,49.9 L417.8,49.9 L418.8,50.0 L419.5,50.1 L420.5,50.2 L421.2,50.4 L422.2,50.5 L423.0,50.6 L423.9,50.9 L424.8,51.1 L425.5,51.3 L426.2,51.6 L426.8,51.9 L427.5,52.3 L427.8,52.9 L427.6,53.6 L427.0,54.0 L426.4,54.4 L425.8,54.6 L425.0,54.9 L424.1,55.1 L423.2,55.3 L422.5,55.4 L421.6,55.6 L420.8,55.7 L419.8,55.8 L419.0,55.9 L418.0,56.0 L417.0,56.1Z M415.8,56.4 L414.8,56.4 L413.8,56.4 L412.8,56.5 L411.8,56.5 L410.8,56.4 L409.8,56.4 L408.8,56.4 L408.0,56.3 L407.0,56.3 L406.0,56.2 L405.0,56.1 L404.2,56.1 L403.2,55.9 L402.5,55.8 L401.5,55.7 L400.8,55.5 L399.8,55.4 L399.0,55.2 L398.2,55.0 L397.5,54.7 L396.8,54.4 L396.2,54.1 L395.6,53.6 L395.3,52.9 L395.8,52.2 L396.3,51.9 L397.0,51.5 L397.8,51.2 L398.5,51.0 L399.2,50.8 L400.0,50.6 L401.0,50.4 L401.8,50.3 L402.8,50.1 L403.5,50.0 L404.5,49.9 L405.3,49.9 L406.2,49.8 L407.2,49.7 L408.2,49.6 L409.2,49.6 L410.0,49.6 L411.0,49.6 L412.0,49.6 L413.0,49.6 L414.0,49.6 L414.8,49.6 L415.8,49.6 L416.8,49.7 L417.8,49.8 L418.7,49.9 L419.5,49.9 L420.5,50.0 L421.2,50.1 L422.2,50.3 L423.0,50.4 L424.0,50.6 L424.8,50.8 L425.5,51.0 L426.2,51.2 L427.0,51.5 L427.7,51.9 L428.2,52.2 L428.7,52.9 L428.4,53.6 L427.8,54.1 L427.2,54.4 L426.5,54.7 L425.8,55.0 L425.0,55.2 L424.2,55.4 L423.2,55.5 L422.5,55.7 L421.5,55.8 L420.8,55.9 L419.8,56.1 L419.0,56.1 L418.0,56.2 L417.0,56.3 L416.0,56.3Z" fill="none" stroke="#141414" stroke-width="0.5"/>
<path d="M388.2,60.9 L387.2,60.9 L386.2,60.9 L385.5,60.8 L384.5,60.7 L383.8,60.6 L383.0,60.3 L382.2,59.9 L382.2,59.1 L382.8,58.8 L383.5,58.5 L384.2,58.3 L385.2,58.2 L386.2,58.1 L387.0,58.1 L387.8,58.1 L388.8,58.2 L389.8,58.3 L390.5,58.5 L391.2,58.8 L391.8,59.1 L391.8,59.9 L391.0,60.3 L390.2,60.6 L389.5,60.7 L388.5,60.8Z M389.5,61.4 L388.5,61.4 L387.5,61.5 L386.5,61.5 L385.5,61.4 L384.5,61.4 L383.8,61.3 L382.8,61.1 L382.0,60.9 L381.2,60.7 L380.6,60.4 L380.0,59.9 L380.0,59.2 L380.5,58.7 L381.2,58.4 L382.0,58.1 L382.8,57.9 L383.5,57.8 L384.5,57.6 L385.2,57.6 L386.2,57.5 L387.2,57.5 L388.2,57.5 L389.0,57.6 L390.0,57.7 L390.9,57.9 L391.8,58.0 L392.5,58.3 L393.2,58.6 L393.8,58.9 L394.1,59.6 L393.7,60.1 L393.0,60.6 L392.2,60.8 L391.5,61.0 L390.8,61.2 L389.8,61.3Z M389.0,61.9 L388.0,61.9 L387.0,61.9 L386.0,61.9 L385.0,61.9 L384.2,61.8 L383.2,61.7 L382.5,61.6 L381.5,61.4 L380.8,61.2 L380.0,60.9 L379.3,60.6 L378.8,60.2 L378.3,59.6 L378.6,58.9 L379.2,58.4 L379.9,58.1 L380.6,57.9 L381.5,57.6 L382.2,57.5 L383.0,57.3 L384.0,57.2 L385.0,57.1 L385.8,57.1 L386.8,57.1 L387.8,57.1 L388.5,57.1 L389.5,57.2 L390.5,57.3 L391.2,57.4 L392.2,57.6 L393.0,57.7 L393.8,58.0 L394.5,58.3 L395.1,58.6 L395.6,59.1 L395.5,60.0 L395.0,60.4 L394.2,60.8 L393.5,61.1 L392.8,61.3 L392.0,61.5 L391.2,61.6 L390.2,61.8 L389.2,61.8Z" fill="none" stroke="#777" stroke-width="0.4"/>
<ellipse cx="378" cy="39.2" rx="12" ry="19.7" fill="none" stroke="#b8284e" stroke-width="1.3"/>
<ellipse cx="412.4" cy="39.2" rx="20.8" ry="8.3" fill="none" stroke="#55d63c" stroke-width="1.3"/>
<ellipse cx="412" cy="53" rx="20" ry="5.4" fill="none" stroke="#bf3adc" stroke-width="1.3"/>
<ellipse cx="388.5" cy="64.5" rx="10.5" ry="8.5" fill="none" stroke="#3a5ad0" stroke-width="1.3"/>
<text x="363" y="16.6" class="pv" textLength="11.0" lengthAdjust="spacingAndGlyphs">60.1</text>
<text x="421.8" y="26.4" class="pv" textLength="10.2" lengthAdjust="spacingAndGlyphs">10.3</text>
<text x="417.7" y="70.8" class="pv" textLength="10.5" lengthAdjust="spacingAndGlyphs">13.6</text>
<text x="370.5" y="79.3" class="pv" textLength="7.5" lengthAdjust="spacingAndGlyphs">7.5</text>
<text x="415" y="83.3" class="dl" textLength="20.0" lengthAdjust="spacingAndGlyphs">Day 14</text>
<path d="M494.8,37.9h0.6M492.4,37.1h0.6M495.2,38.0h0.6M506.2,36.3h0.6M493.7,39.5h0.6M490.5,36.7h0.6M492.3,39.1h0.6M508.3,35.5h0.6M495.5,36.9h0.6M505.8,37.1h0.6M494.5,39.8h0.6M488.7,38.3h0.6M482.6,37.4h0.6M467.9,36.4h0.6M485.5,36.7h0.6M464.1,38.2h0.6M499.6,38.1h0.6M506.3,41.3h0.6M486.0,35.6h0.6M489.8,39.8h0.6M497.2,37.5h0.6M495.8,38.3h0.6M470.5,38.6h0.6M481.6,37.5h0.6M485.5,38.0h0.6M503.6,37.5h0.6M494.0,39.4h0.6M497.8,36.8h0.6M502.0,37.2h0.6M488.6,38.2h0.6M510.9,36.4h0.6M487.1,38.1h0.6M481.4,38.1h0.6M507.7,34.9h0.6M492.4,36.7h0.6M499.6,37.7h0.6M479.3,38.0h0.6M496.5,37.9h0.6M514.4,39.2h0.6M480.9,37.2h0.6M495.8,35.9h0.6M489.7,36.9h0.6M494.4,38.1h0.6M484.3,40.0h0.6M484.9,39.0h0.6M479.2,36.3h0.6M484.4,37.2h0.6M502.4,35.4h0.6M512.9,35.9h0.6M510.8,38.2h0.6M486.1,39.3h0.6M486.4,37.9h0.6M493.1,42.7h0.6M480.1,41.1h0.6M488.8,36.7h0.6M486.2,40.0h0.6M489.8,36.6h0.6M499.9,38.4h0.6M505.4,36.0h0.6M510.7,39.9h0.6M483.4,37.3h0.6M498.0,37.5h0.6M502.0,38.8h0.6M491.8,36.0h0.6M467.0,38.3h0.6M476.4,39.7h0.6M514.0,38.1h0.6M502.8,39.9h0.6M502.3,36.0h0.6M479.7,37.0h0.6M493.1,36.5h0.6M494.6,40.0h0.6M487.1,37.9h0.6M479.8,37.7h0.6M503.4,40.1h0.6M494.9,36.6h0.6M516.5,34.5h0.6M486.6,36.6h0.6M492.1,38.8h0.6M486.7,43.8h0.6M486.2,35.4h0.6M507.0,39.3h0.6M498.0,40.3h0.6M498.3,35.5h0.6M468.7,37.3h0.6M493.9,38.9h0.6M495.7,37.6h0.6M482.1,38.8h0.6M501.3,36.9h0.6M480.2,37.2h0.6M479.5,38.2h0.6M477.2,38.4h0.6M481.5,38.7h0.6M493.5,41.9h0.6M503.7,38.2h0.6M498.9,37.4h0.6M474.3,33.5h0.6M482.9,36.9h0.6M505.9,38.3h0.6M472.4,38.6h0.6M476.2,39.8h0.6M478.9,39.3h0.6M493.4,37.0h0.6M505.6,37.5h0.6M461.1,38.6h0.6M479.9,37.2h0.6M494.9,39.1h0.6M493.9,36.1h0.6M483.0,35.9h0.6M488.6,36.7h0.6M501.5,36.7h0.6M503.8,40.9h0.6M498.0,37.5h0.6M506.8,36.4h0.6M491.0,40.1h0.6M499.1,37.6h0.6M488.2,37.0h0.6M510.4,41.2h0.6M510.5,37.9h0.6M496.2,36.5h0.6M478.1,39.0h0.6M500.3,35.7h0.6M476.4,38.4h0.6M475.1,39.7h0.6M507.1,36.0h0.6M487.9,39.4h0.6M504.6,37.8h0.6M490.2,37.4h0.6M498.8,38.8h0.6M489.0,37.0h0.6M490.4,37.5h0.6M486.3,35.7h0.6M492.6,39.2h0.6M492.9,39.9h0.6M496.5,39.1h0.6M502.4,34.5h0.6M500.7,39.6h0.6M477.1,34.7h0.6M479.3,37.3h0.6M495.9,35.2h0.6M489.1,35.8h0.6M494.3,37.6h0.6M493.9,36.9h0.6M485.7,39.3h0.6M477.1,37.7h0.6M484.0,37.3h0.6M481.7,39.8h0.6M503.7,37.3h0.6M516.5,38.2h0.6M510.5,36.0h0.6M484.8,36.7h0.6M487.3,38.3h0.6M490.4,37.7h0.6M480.5,39.4h0.6M496.7,36.6h0.6M496.7,39.4h0.6M495.2,37.4h0.6M500.1,39.1h0.6M516.8,37.0h0.6M496.7,37.9h0.6M486.3,38.0h0.6M474.7,36.5h0.6M474.7,38.3h0.6M487.0,36.3h0.6M486.2,38.8h0.6M486.7,33.6h0.6M503.1,36.1h0.6M486.9,38.0h0.6M495.3,37.0h0.6M514.5,36.7h0.6M487.6,41.4h0.6M493.8,35.1h0.6M500.4,38.8h0.6M509.1,41.2h0.6M493.5,39.7h0.6M493.2,36.4h0.6M481.6,36.3h0.6M473.0,40.5h0.6M483.4,35.7h0.6M491.1,35.8h0.6M505.9,41.1h0.6M498.2,37.7h0.6M487.8,38.8h0.6M503.7,39.6h0.6M487.1,38.3h0.6M474.6,38.3h0.6M504.4,39.7h0.6M480.7,35.5h0.6M489.5,38.5h0.6M489.3,38.8h0.6M499.9,36.8h0.6M475.1,37.0h0.6M451.9,39.4h0.6M484.3,36.2h0.6M497.5,39.0h0.6M488.1,36.4h0.6M471.3,36.4h0.6M482.9,35.3h0.6M490.0,38.4h0.6M488.6,41.4h0.6M493.4,38.8h0.6M494.2,38.6h0.6M490.7,38.4h0.6M490.7,35.6h0.6M475.9,39.2h0.6M514.3,38.3h0.6M480.4,35.9h0.6M511.5,41.1h0.6M506.7,37.8h0.6M486.9,39.7h0.6M489.6,36.3h0.6M464.4,36.9h0.6M489.9,36.5h0.6M510.8,36.5h0.6M506.9,38.2h0.6M489.8,39.3h0.6M477.4,40.2h0.6M486.1,37.2h0.6M499.2,38.4h0.6M482.4,39.4h0.6M480.3,38.0h0.6M482.8,37.8h0.6M501.1,37.7h0.6M481.0,39.7h0.6M499.4,36.6h0.6M486.9,37.1h0.6M511.5,39.1h0.6M502.9,38.3h0.6M467.4,37.7h0.6M496.4,36.7h0.6M513.0,38.1h0.6M492.3,34.3h0.6M505.0,39.8h0.6M474.8,35.8h0.6M504.8,35.8h0.6M495.9,37.5h0.6M509.3,37.8h0.6M498.4,37.4h0.6M468.1,37.7h0.6M509.1,37.5h0.6M495.0,37.8h0.6M500.3,38.7h0.6M506.4,36.2h0.6M469.1,39.6h0.6M486.3,37.9h0.6M511.4,37.1h0.6M513.9,37.9h0.6M467.5,37.9h0.6M494.0,38.1h0.6M490.4,41.9h0.6M510.2,39.4h0.6M486.8,37.8h0.6M497.9,40.5h0.6M474.1,40.1h0.6M507.9,38.7h0.6M498.3,37.1h0.6M490.3,40.1h0.6M501.0,40.0h0.6M502.3,37.3h0.6M504.9,40.9h0.6M515.1,39.0h0.6M474.1,39.4h0.6M471.5,40.8h0.6M484.0,36.2h0.6M507.2,38.9h0.6M494.6,40.5h0.6M489.4,39.0h0.6M498.8,38.9h0.6M499.9,38.9h0.6M470.0,37.3h0.6M494.9,36.5h0.6M502.9,37.3h0.6M479.5,38.9h0.6M481.6,36.9h0.6M488.9,37.1h0.6M495.5,39.4h0.6M484.5,38.5h0.6M488.7,37.7h0.6M481.2,38.8h0.6M487.7,37.5h0.6M485.5,36.5h0.6M498.8,37.6h0.6M476.0,39.6h0.6M513.1,36.8h0.6M502.9,36.9h0.6M494.4,39.2h0.6M481.3,36.2h0.6M486.0,38.5h0.6M500.5,37.0h0.6M494.4,41.0h0.6M495.9,35.6h0.6M497.7,35.9h0.6M484.4,36.9h0.6M505.7,41.3h0.6M509.2,39.7h0.6M484.8,40.4h0.6M509.9,36.3h0.6M517.1,38.5h0.6M494.1,39.2h0.6M516.0,37.7h0.6M505.6,40.6h0.6M492.0,40.2h0.6M494.8,37.4h0.6M495.5,38.8h0.6M509.3,40.7h0.6M503.3,38.3h0.6M494.5,37.7h0.6M471.0,38.8h0.6M512.2,36.5h0.6M496.2,38.2h0.6M492.3,36.2h0.6M474.9,38.2h0.6M496.3,36.8h0.6M502.8,37.7h0.6M496.3,37.5h0.6M508.8,38.5h0.6M492.9,35.7h0.6M516.0,36.4h0.6M492.6,37.8h0.6M485.8,38.4h0.6M494.8,39.8h0.6M503.5,36.2h0.6M504.1,37.8h0.6M511.0,39.6h0.6M503.5,36.7h0.6M494.9,40.3h0.6M492.6,39.6h0.6M476.8,36.6h0.6M492.6,37.3h0.6M481.4,39.1h0.6M491.3,38.6h0.6M492.1,39.7h0.6M470.4,34.7h0.6M497.4,40.0h0.6M494.6,38.8h0.6M490.5,39.6h0.6M498.9,36.9h0.6M512.8,37.1h0.6M473.0,39.9h0.6M492.7,38.3h0.6M476.8,38.6h0.6M492.2,37.7h0.6M511.2,38.2h0.6M505.4,37.1h0.6M493.8,37.0h0.6M501.3,39.4h0.6M498.8,37.8h0.6M475.1,37.5h0.6M514.6,38.4h0.6M500.8,40.8h0.6M489.8,37.7h0.6M496.1,39.6h0.6M511.4,38.9h0.6M487.4,38.4h0.6M496.8,40.4h0.6M479.7,38.8h0.6M496.1,39.2h0.6M494.2,39.7h0.6M494.8,38.3h0.6M488.9,39.9h0.6M488.1,37.9h0.6M486.2,39.4h0.6M478.7,37.4h0.6M483.5,39.5h0.6M506.7,39.7h0.6M486.5,37.4h0.6M479.3,38.5h0.6M484.4,38.0h0.6M477.7,38.2h0.6M516.8,37.7h0.6M494.1,36.5h0.6M482.4,37.8h0.6M475.6,36.4h0.6M499.1,34.2h0.6M494.9,35.2h0.6M484.6,38.3h0.6M482.6,39.4h0.6M479.0,38.3h0.6M485.2,39.0h0.6M499.8,36.7h0.6M494.0,37.3h0.6M489.4,37.9h0.6M471.7,37.9h0.6M491.2,40.3h0.6M492.1,36.4h0.6M501.0,40.3h0.6M512.5,35.3h0.6M480.2,40.1h0.6M496.4,36.3h0.6M498.0,37.5h0.6M492.4,35.5h0.6M493.8,38.8h0.6M490.8,37.4h0.6M483.8,41.3h0.6M492.1,36.4h0.6M483.9,38.4h0.6M492.4,36.0h0.6M486.8,37.2h0.6M501.4,37.5h0.6M481.2,33.6h0.6M495.8,37.7h0.6M474.6,37.3h0.6M484.0,38.4h0.6M494.9,39.5h0.6M484.5,36.4h0.6M498.3,36.9h0.6M476.4,34.3h0.6M486.5,39.3h0.6M490.6,38.5h0.6M500.4,40.6h0.6M489.3,39.1h0.6M493.5,37.9h0.6M489.5,38.9h0.6M488.8,38.7h0.6M490.1,36.8h0.6M490.1,37.2h0.6M496.6,37.4h0.6M494.5,37.1h0.6M478.0,38.9h0.6M505.6,39.1h0.6M484.6,36.8h0.6M492.1,36.0h0.6M512.7,38.7h0.6M499.7,37.9h0.6M500.9,39.8h0.6M484.2,36.7h0.6M499.1,39.7h0.6M484.6,39.6h0.6M504.6,37.3h0.6M496.6,39.8h0.6M497.7,38.6h0.6M489.5,37.8h0.6M494.7,35.5h0.6M512.9,37.6h0.6" stroke="#444" stroke-width="0.6" fill="none"/>
<path d="M468.8,64.6h0.6M501.2,40.6h0.6M510.8,35.7h0.6M494.5,56.4h0.6M476.1,53.7h0.6M512.3,58.8h0.6M504.5,35.5h0.6M501.2,32.2h0.6M499.6,40.8h0.6M483.6,56.6h0.6M490.2,43.2h0.6M480.6,41.3h0.6M498.5,53.0h0.6M489.1,48.0h0.6M477.2,41.9h0.6M504.5,48.7h0.6M499.6,39.9h0.6M476.8,53.5h0.6M477.8,52.1h0.6M476.6,46.6h0.6M494.0,50.4h0.6M470.4,58.0h0.6M482.8,38.2h0.6M483.8,48.1h0.6M484.0,40.1h0.6M502.8,49.3h0.6M515.3,56.2h0.6M514.8,34.5h0.6M496.7,53.1h0.6M509.7,43.7h0.6M505.4,59.4h0.6M480.3,37.7h0.6M482.0,49.8h0.6M477.3,47.4h0.6M487.7,36.1h0.6M466.3,72.4h0.6M515.6,58.8h0.6M469.9,56.9h0.6M489.6,33.3h0.6M486.1,41.9h0.6M494.6,52.3h0.6M503.0,33.4h0.6M514.0,49.7h0.6M511.6,65.9h0.6M490.0,72.9h0.6M490.1,44.1h0.6M460.0,62.5h0.6M492.2,40.9h0.6M486.4,53.5h0.6M512.9,55.2h0.6M491.2,39.8h0.6M464.9,40.0h0.6M502.6,42.8h0.6M490.5,52.9h0.6M498.8,38.8h0.6M490.1,30.5h0.6M490.3,58.8h0.6M487.9,66.3h0.6M492.3,55.6h0.6M503.0,40.1h0.6M477.2,52.1h0.6M508.2,47.1h0.6M493.2,16.0h0.6M485.1,57.5h0.6M512.3,51.5h0.6M483.0,57.0h0.6M490.8,56.1h0.6M491.1,50.2h0.6M501.8,48.6h0.6M509.4,57.6h0.6M486.6,46.2h0.6M512.2,35.6h0.6M486.4,24.4h0.6M481.5,68.9h0.6M502.6,46.5h0.6M514.5,31.9h0.6M496.6,28.7h0.6M501.0,49.1h0.6M512.3,42.9h0.6M502.0,56.9h0.6M486.0,40.9h0.6M515.6,38.5h0.6M483.4,53.9h0.6M481.8,71.1h0.6M475.8,43.6h0.6M503.5,58.6h0.6M509.2,54.0h0.6M467.4,30.6h0.6M496.8,53.8h0.6M497.0,41.3h0.6M501.2,58.8h0.6M449.8,62.2h0.6M486.5,48.4h0.6M497.6,71.0h0.6M502.4,57.3h0.6M512.9,50.1h0.6M487.0,29.9h0.6M486.0,56.8h0.6M510.0,26.9h0.6M489.9,48.2h0.6M508.6,43.2h0.6M490.1,47.5h0.6M502.8,47.7h0.6M483.0,44.7h0.6M497.4,41.1h0.6M493.1,45.1h0.6M470.8,67.3h0.6M494.4,56.5h0.6M482.9,47.4h0.6M483.3,43.8h0.6M507.8,39.5h0.6M505.2,50.2h0.6M509.7,54.6h0.6M489.1,44.3h0.6M480.8,35.0h0.6M514.4,45.2h0.6M478.1,48.0h0.6M509.5,57.9h0.6M513.9,46.9h0.6M502.6,40.1h0.6M483.1,55.2h0.6M510.1,45.0h0.6M495.6,40.8h0.6M495.9,34.6h0.6M497.9,46.9h0.6M492.6,69.9h0.6M483.0,50.3h0.6M506.6,38.5h0.6M509.6,37.5h0.6M501.8,48.9h0.6M505.4,35.4h0.6M497.7,33.6h0.6M508.0,49.0h0.6M476.8,66.7h0.6M491.3,63.8h0.6M489.6,42.9h0.6M475.5,50.6h0.6M492.7,36.8h0.6M465.9,30.3h0.6M498.7,65.8h0.6M491.5,36.1h0.6M481.7,58.8h0.6M479.8,33.9h0.6M506.7,34.7h0.6M493.9,44.0h0.6M476.5,40.3h0.6M513.9,41.3h0.6M510.7,38.3h0.6M462.7,36.6h0.6M514.1,40.2h0.6M475.4,43.3h0.6M479.9,49.1h0.6M496.9,56.0h0.6M501.7,72.9h0.6M467.8,59.4h0.6M442.5,53.6h0.6M482.8,41.4h0.6M483.7,50.9h0.6M488.8,55.0h0.6M492.2,57.7h0.6M500.3,37.6h0.6M497.7,44.0h0.6M479.1,37.2h0.6M471.6,33.9h0.6M492.8,42.4h0.6M501.1,50.4h0.6M495.5,34.6h0.6M483.7,57.3h0.6M512.0,42.3h0.6M502.8,37.9h0.6M479.3,31.2h0.6M509.3,69.1h0.6M498.1,53.1h0.6M506.5,45.4h0.6M460.7,58.2h0.6M501.0,62.6h0.6M493.7,42.7h0.6M506.0,32.5h0.6M482.4,37.6h0.6M498.0,45.7h0.6M492.2,55.8h0.6M471.1,26.8h0.6M495.1,52.3h0.6M496.4,68.6h0.6M488.4,42.8h0.6M490.8,36.1h0.6M508.1,50.4h0.6M473.7,59.4h0.6M501.9,44.9h0.6M500.2,56.2h0.6M483.9,60.7h0.6M505.6,46.4h0.6M491.7,60.0h0.6M493.9,40.8h0.6M474.5,41.0h0.6M497.0,36.8h0.6M486.1,60.1h0.6M482.6,55.4h0.6M502.4,17.8h0.6M504.9,46.6h0.6M475.6,43.5h0.6M485.0,44.7h0.6M487.8,56.9h0.6M501.4,58.9h0.6M514.7,38.2h0.6M501.6,54.0h0.6M475.0,62.3h0.6M501.7,47.9h0.6M503.3,38.2h0.6M503.1,59.6h0.6M499.3,44.5h0.6M458.5,43.1h0.6M489.9,55.5h0.6M495.6,46.6h0.6M515.8,51.0h0.6M504.6,34.3h0.6M488.6,36.5h0.6M508.5,44.7h0.6M485.9,44.4h0.6M487.7,61.4h0.6M496.6,66.4h0.6M509.7,58.7h0.6M483.0,47.2h0.6M500.6,30.6h0.6M478.2,54.8h0.6M470.7,55.5h0.6M500.1,47.8h0.6M489.8,45.3h0.6M496.0,53.9h0.6M499.1,44.0h0.6M487.2,46.7h0.6M511.7,46.4h0.6M488.9,38.9h0.6M513.2,34.4h0.6M501.6,47.2h0.6M490.2,56.2h0.6M517.0,49.5h0.6M514.7,49.2h0.6M495.1,38.1h0.6M484.8,67.6h0.6M498.5,28.4h0.6M505.0,51.9h0.6M482.5,56.5h0.6M496.6,23.4h0.6M489.6,45.0h0.6M510.8,49.3h0.6M500.9,45.5h0.6M497.6,46.7h0.6M512.9,48.8h0.6M508.2,51.3h0.6M501.2,30.9h0.6M485.0,55.8h0.6M480.6,45.3h0.6M487.6,41.6h0.6M478.8,45.7h0.6M501.5,51.9h0.6M480.5,50.1h0.6M467.6,63.5h0.6M491.7,57.4h0.6M467.5,65.9h0.6M514.5,47.4h0.6M506.6,44.6h0.6M497.0,30.5h0.6M458.0,40.2h0.6M489.4,74.9h0.6M485.7,67.5h0.6M487.5,33.7h0.6M486.3,49.3h0.6M476.6,65.6h0.6M486.6,45.4h0.6M478.6,39.9h0.6M501.6,42.6h0.6M476.3,46.2h0.6M465.7,56.3h0.6M502.9,45.2h0.6M499.9,36.2h0.6M492.0,48.4h0.6M473.0,46.0h0.6M492.8,41.3h0.6M490.2,60.2h0.6M491.1,69.3h0.6M491.2,47.9h0.6M485.6,45.2h0.6M493.2,35.8h0.6M503.2,43.7h0.6M487.4,31.1h0.6M474.7,62.8h0.6M515.0,23.1h0.6M486.2,42.6h0.6M500.0,40.9h0.6M492.3,37.8h0.6M484.3,53.3h0.6M471.3,32.1h0.6M496.3,45.4h0.6M509.8,33.4h0.6M471.2,62.5h0.6M490.2,68.0h0.6M486.4,55.8h0.6M490.5,58.2h0.6M513.2,65.2h0.6M488.6,53.4h0.6M501.0,61.2h0.6M503.5,39.5h0.6M514.5,72.5h0.6M457.4,62.8h0.6M485.7,32.3h0.6M489.1,45.2h0.6M511.2,61.3h0.6M486.6,54.4h0.6M506.2,43.8h0.6M477.2,46.6h0.6M500.9,41.1h0.6M487.7,55.7h0.6M505.5,57.0h0.6M495.9,28.7h0.6M484.5,61.5h0.6M479.6,48.3h0.6M494.5,32.0h0.6M506.1,54.1h0.6M487.4,39.6h0.6M486.7,42.5h0.6M493.6,54.4h0.6M502.4,35.8h0.6M511.0,56.9h0.6M496.1,49.5h0.6M501.4,45.5h0.6M510.3,43.6h0.6M482.2,34.5h0.6M505.5,35.4h0.6M453.3,64.7h0.6M508.1,43.1h0.6M477.0,53.3h0.6M470.1,15.1h0.6M496.8,39.4h0.6M498.6,49.0h0.6M500.6,50.3h0.6M481.5,57.0h0.6M474.0,45.5h0.6M495.1,45.7h0.6M492.6,41.1h0.6M494.6,25.0h0.6M513.5,55.7h0.6M506.4,58.3h0.6M503.8,63.5h0.6M470.7,69.0h0.6M465.9,40.8h0.6M485.7,67.4h0.6M516.5,58.3h0.6M499.0,43.5h0.6M485.3,45.2h0.6M503.3,67.5h0.6M516.3,60.0h0.6M486.2,47.8h0.6M491.7,61.7h0.6M503.6,62.5h0.6M498.9,49.1h0.6M474.8,61.9h0.6M511.0,41.0h0.6M486.6,54.1h0.6M501.1,31.6h0.6M479.8,56.8h0.6M466.0,48.4h0.6M499.2,32.8h0.6M498.7,39.7h0.6M498.5,41.3h0.6M511.9,32.9h0.6M509.8,64.3h0.6M479.2,54.9h0.6M504.9,56.5h0.6M476.3,49.2h0.6M493.2,47.6h0.6M491.8,21.9h0.6M476.1,57.0h0.6M495.6,40.0h0.6M476.9,38.2h0.6M509.7,32.7h0.6M484.2,44.8h0.6M502.0,48.0h0.6M497.0,65.1h0.6M499.4,59.1h0.6M504.8,56.8h0.6M515.0,60.7h0.6M483.1,47.4h0.6M503.9,42.1h0.6M490.0,60.8h0.6M509.5,72.8h0.6M489.1,51.1h0.6M498.8,55.7h0.6M503.7,45.9h0.6M493.0,50.2h0.6M489.9,58.9h0.6M499.6,48.8h0.6M498.6,30.4h0.6M478.7,35.4h0.6M491.7,41.1h0.6M477.1,49.8h0.6M472.4,57.3h0.6M485.1,60.7h0.6M501.0,47.1h0.6M467.6,44.3h0.6M474.6,61.5h0.6M512.8,33.1h0.6M480.3,55.7h0.6M490.0,39.9h0.6M495.1,49.7h0.6M505.4,40.1h0.6M509.0,55.1h0.6M491.5,50.2h0.6M492.8,32.6h0.6M464.8,30.4h0.6M491.6,39.0h0.6M504.1,15.9h0.6M484.6,37.2h0.6M489.2,49.4h0.6M500.5,29.6h0.6M500.5,54.2h0.6M471.2,55.5h0.6M502.8,66.4h0.6M503.1,43.5h0.6M496.4,51.6h0.6M469.9,51.3h0.6M505.6,54.0h0.6M484.9,55.5h0.6M491.3,48.5h0.6M507.9,29.1h0.6M501.3,48.9h0.6M513.1,62.4h0.6M478.4,66.3h0.6M480.2,63.4h0.6M509.9,49.6h0.6M501.2,59.3h0.6M487.0,52.4h0.6M514.1,55.5h0.6M501.7,36.4h0.6M502.3,43.7h0.6M498.7,51.3h0.6M487.3,46.7h0.6M489.6,28.0h0.6M487.1,72.6h0.6M477.8,43.3h0.6M475.7,65.8h0.6M474.3,46.7h0.6M514.9,58.8h0.6M485.1,50.0h0.6M471.1,52.0h0.6M463.0,20.3h0.6M461.2,18.3h0.6M505.6,39.6h0.6M497.3,50.0h0.6M483.6,63.6h0.6M502.0,55.4h0.6M490.2,48.2h0.6M502.9,54.8h0.6M499.6,28.3h0.6M487.0,54.8h0.6M495.0,59.6h0.6M480.3,28.2h0.6M509.5,44.1h0.6M486.9,52.8h0.6M488.8,47.4h0.6M492.1,50.5h0.6M479.9,65.9h0.6M446.2,70.5h0.6M508.1,34.1h0.6M511.7,39.0h0.6M504.6,41.6h0.6M489.7,69.2h0.6M483.9,34.8h0.6M493.3,60.5h0.6M493.8,50.5h0.6M489.2,30.4h0.6M457.4,49.9h0.6M515.4,57.9h0.6M497.4,45.9h0.6M515.4,37.7h0.6M474.2,48.4h0.6M498.4,47.6h0.6M487.6,43.1h0.6M503.9,55.7h0.6M468.6,44.0h0.6M485.2,34.6h0.6M469.8,50.4h0.6M482.6,41.2h0.6M480.2,32.0h0.6M494.7,67.2h0.6M484.4,51.8h0.6M486.7,62.8h0.6M496.3,56.9h0.6M498.3,47.1h0.6M510.4,42.9h0.6M513.2,34.5h0.6M502.4,41.3h0.6M461.7,46.9h0.6M485.6,52.9h0.6M510.0,38.2h0.6M493.1,38.9h0.6M498.1,35.7h0.6M506.9,37.2h0.6M487.0,50.1h0.6M501.8,38.9h0.6M484.1,35.1h0.6M477.5,49.6h0.6M494.8,51.3h0.6M493.2,55.0h0.6M499.2,71.7h0.6M510.9,42.2h0.6M496.7,46.9h0.6M511.6,52.8h0.6M496.8,62.7h0.6M484.6,49.3h0.6M487.6,64.8h0.6M491.3,46.6h0.6M500.5,40.3h0.6M494.4,50.7h0.6M463.6,56.0h0.6M504.0,49.8h0.6M476.0,56.4h0.6M488.6,59.4h0.6M490.0,76.9h0.6M475.5,67.0h0.6M494.5,75.3h0.6M462.8,23.9h0.6M500.0,48.7h0.6M501.1,46.9h0.6M490.1,74.1h0.6M512.5,58.1h0.6M497.5,58.1h0.6M509.0,63.2h0.6M502.3,57.5h0.6M515.5,59.1h0.6M508.1,38.3h0.6M502.8,29.8h0.6M477.2,27.4h0.6M510.5,46.9h0.6M461.1,52.9h0.6M485.4,47.3h0.6M495.5,45.2h0.6M473.6,62.7h0.6M486.9,46.2h0.6M499.1,57.7h0.6M483.4,40.2h0.6M493.6,43.0h0.6M472.5,61.0h0.6M461.5,36.1h0.6M483.1,32.5h0.6M500.5,57.5h0.6" stroke="#8a8a8a" stroke-width="0.6" fill="none"/>
<path d="M466.2,38.5h0.6M470.9,28.0h0.6M469.3,59.7h0.6M466.5,37.3h0.6M471.2,25.9h0.6M470.6,48.6h0.6M470.2,32.9h0.6M471.0,35.3h0.6M471.4,41.7h0.6M470.5,35.3h0.6M475.4,43.7h0.6M473.1,43.6h0.6M470.2,45.6h0.6M471.6,44.3h0.6M471.7,39.6h0.6M471.6,44.4h0.6M474.2,37.3h0.6M474.5,25.1h0.6M468.0,42.2h0.6M469.2,45.5h0.6M464.5,31.8h0.6M466.0,41.7h0.6M475.3,33.5h0.6M469.2,34.2h0.6M473.4,45.9h0.6M473.0,36.0h0.6M470.0,37.1h0.6M469.2,39.5h0.6M472.2,29.5h0.6M475.4,43.2h0.6M477.1,51.6h0.6M471.7,45.3h0.6M474.2,36.0h0.6M474.4,42.5h0.6M471.9,38.3h0.6M471.0,36.2h0.6M468.2,44.5h0.6M473.8,44.3h0.6M466.9,40.6h0.6M469.2,40.9h0.6M469.0,38.4h0.6M472.1,40.1h0.6M471.2,39.1h0.6M468.4,39.5h0.6M466.6,44.7h0.6M471.1,41.4h0.6M474.3,35.2h0.6M474.7,48.5h0.6M472.1,35.7h0.6M472.3,39.1h0.6M468.8,43.4h0.6M472.1,36.7h0.6M471.0,67.8h0.6M468.1,46.1h0.6M470.4,37.8h0.6M472.7,32.0h0.6M465.6,42.5h0.6M472.0,39.8h0.6M474.5,39.9h0.6M471.9,31.7h0.6M476.0,39.2h0.6M471.1,45.9h0.6M469.1,45.2h0.6M471.5,50.7h0.6M468.0,41.9h0.6M471.1,38.0h0.6M468.0,44.7h0.6M466.4,33.0h0.6M470.9,41.8h0.6M468.7,38.3h0.6M467.6,46.4h0.6M472.0,54.3h0.6M469.0,46.9h0.6M470.1,41.4h0.6M466.8,61.5h0.6M473.2,46.8h0.6M471.4,34.1h0.6M466.7,32.8h0.6M472.7,35.8h0.6M470.7,42.9h0.6M470.9,38.2h0.6M469.5,42.8h0.6M470.9,34.2h0.6M474.0,48.0h0.6M473.4,45.5h0.6M469.8,53.5h0.6M469.3,39.1h0.6M469.3,48.6h0.6M472.4,36.3h0.6M471.0,39.3h0.6M474.8,50.3h0.6M470.4,43.6h0.6M472.0,49.0h0.6M473.5,45.6h0.6M472.2,41.9h0.6M469.4,46.8h0.6M475.2,55.8h0.6M470.7,46.5h0.6M469.9,43.0h0.6M469.2,42.7h0.6M469.3,42.2h0.6M473.4,35.9h0.6M469.7,38.1h0.6M473.2,43.4h0.6M470.9,42.0h0.6M473.7,56.8h0.6M470.5,46.3h0.6M471.9,36.7h0.6M467.6,39.1h0.6M470.1,42.1h0.6M469.9,36.3h0.6M476.0,27.6h0.6M466.9,52.0h0.6M472.8,40.7h0.6M469.3,56.8h0.6M472.4,38.4h0.6M472.5,55.5h0.6M472.7,44.2h0.6M472.2,47.0h0.6M469.4,43.1h0.6" stroke="#8a8a8a" stroke-width="0.6" fill="none"/>
<path d="M459.2,40.6 L458.4,40.5 L457.9,40.1 L457.4,39.5 L457.1,38.9 L456.9,38.1 L456.8,37.1 L456.9,36.1 L457.1,35.4 L457.4,34.6 L457.8,34.1 L458.4,33.6 L458.9,33.3 L459.9,33.3 L460.7,33.6 L461.2,34.0 L461.6,34.6 L461.9,35.4 L462.1,36.1 L462.0,37.1 L461.9,37.9 L461.6,38.6 L461.2,39.2 L460.7,39.7 L460.2,40.2 L459.4,40.5Z M459.4,50.2 L458.4,50.3 L457.4,50.1 L456.9,49.8 L456.4,49.4 L455.9,48.7 L455.7,48.1 L455.6,47.1 L455.7,46.1 L455.9,45.5 L456.3,44.9 L456.7,44.3 L457.2,43.9 L457.9,43.4 L458.7,43.4 L459.4,43.6 L459.9,44.0 L460.4,44.6 L460.8,45.1 L461.2,45.9 L461.4,46.6 L461.5,47.4 L461.4,48.1 L461.0,48.9 L460.7,49.4 L460.1,49.9 L459.4,50.2Z M458.4,51.6 L457.7,51.5 L456.9,51.3 L456.2,50.9 L455.7,50.5 L455.2,49.9 L454.9,49.4 L454.6,48.6 L454.4,47.9 L454.3,46.9 L454.4,45.9 L454.6,45.1 L454.9,44.4 L455.2,43.6 L455.4,42.9 L455.6,42.1 L455.6,41.1 L455.5,40.1 L455.4,39.4 L455.3,38.4 L455.2,37.4 L455.3,36.4 L455.4,35.5 L455.7,34.7 L455.9,34.1 L456.4,33.4 L456.7,32.9 L457.3,32.4 L457.9,31.9 L458.7,31.6 L459.4,31.5 L460.3,31.6 L460.9,31.9 L461.7,32.3 L462.2,32.8 L462.6,33.4 L462.9,34.0 L463.2,34.7 L463.4,35.6 L463.4,36.6 L463.4,37.6 L463.2,38.4 L462.9,39.1 L462.6,39.9 L462.2,40.6 L461.9,41.1 L461.6,41.9 L461.5,42.9 L461.7,43.6 L462.0,44.4 L462.3,45.1 L462.5,45.9 L462.7,46.9 L462.6,47.9 L462.4,48.7 L462.2,49.4 L461.7,50.1 L461.2,50.6 L460.7,51.0 L459.9,51.3 L459.2,51.5 L458.4,51.6Z M458.7,52.6 L457.9,52.6 L456.9,52.4 L456.3,52.1 L455.7,51.7 L455.2,51.3 L454.7,50.8 L454.2,50.1 L453.9,49.6 L453.6,48.9 L453.4,48.1 L453.3,47.1 L453.3,46.1 L453.4,45.3 L453.6,44.4 L453.8,43.6 L453.9,42.8 L454.1,41.9 L454.1,40.9 L454.0,39.9 L454.0,38.9 L454.0,37.9 L454.1,36.9 L454.2,35.9 L454.4,35.1 L454.6,34.4 L454.9,33.6 L455.2,33.0 L455.6,32.4 L456.0,31.9 L456.5,31.4 L457.1,30.9 L457.7,30.5 L458.4,30.3 L459.4,30.2 L460.4,30.3 L461.2,30.6 L461.7,30.9 L462.3,31.4 L462.8,31.9 L463.2,32.4 L463.7,33.1 L463.9,33.8 L464.2,34.6 L464.4,35.4 L464.4,36.4 L464.4,37.4 L464.2,38.4 L464.0,39.1 L463.8,39.9 L463.5,40.6 L463.2,41.4 L463.0,42.1 L462.9,42.9 L463.0,43.6 L463.2,44.5 L463.4,45.4 L463.6,46.1 L463.6,47.1 L463.6,48.1 L463.4,48.9 L463.1,49.6 L462.7,50.3 L462.3,50.9 L461.8,51.4 L461.2,51.8 L460.7,52.1 L459.9,52.4 L458.9,52.6Z M459.7,53.4 L458.7,53.5 L457.7,53.5 L456.9,53.3 L456.2,53.0 L455.4,52.6 L454.9,52.3 L454.4,51.8 L453.9,51.2 L453.5,50.6 L453.2,50.0 L452.9,49.4 L452.7,48.6 L452.5,47.6 L452.5,46.6 L452.5,45.6 L452.6,44.6 L452.7,43.8 L452.8,42.9 L452.9,41.9 L452.9,40.9 L452.9,39.9 L452.9,38.9 L452.9,37.9 L453.0,37.1 L453.1,36.1 L453.3,35.4 L453.5,34.6 L453.7,33.8 L454.0,33.1 L454.4,32.4 L454.7,31.8 L455.2,31.1 L455.7,30.6 L456.2,30.1 L456.7,29.8 L457.4,29.4 L458.2,29.2 L458.9,29.0 L459.9,29.1 L460.7,29.3 L461.4,29.6 L461.9,29.9 L462.6,30.4 L463.2,30.9 L463.6,31.4 L463.9,31.9 L464.4,32.6 L464.7,33.4 L464.9,34.1 L465.1,34.9 L465.2,35.6 L465.3,36.6 L465.2,37.5 L465.1,38.4 L464.9,39.1 L464.7,39.9 L464.4,40.7 L464.2,41.5 L464.0,42.4 L464.0,43.4 L464.1,44.4 L464.2,45.1 L464.4,46.1 L464.4,47.1 L464.4,48.1 L464.2,48.9 L463.9,49.6 L463.6,50.4 L463.2,51.0 L462.7,51.6 L462.2,52.1 L461.7,52.5 L461.1,52.9 L460.4,53.1 L459.7,53.4Z M458.7,54.4 L457.9,54.4 L456.9,54.2 L456.2,53.9 L455.5,53.6 L454.9,53.3 L454.4,52.9 L453.9,52.4 L453.4,51.8 L452.9,51.1 L452.6,50.6 L452.3,49.9 L452.0,49.1 L451.9,48.4 L451.7,47.4 L451.7,46.6 L451.7,45.6 L451.7,44.9 L451.8,43.9 L451.8,42.9 L451.8,41.9 L451.9,40.9 L451.9,39.9 L451.9,38.9 L452.0,38.1 L452.1,37.1 L452.2,36.1 L452.3,35.4 L452.5,34.6 L452.7,33.9 L453.0,33.1 L453.3,32.4 L453.7,31.6 L454.0,31.1 L454.4,30.5 L454.9,29.9 L455.4,29.4 L455.9,29.0 L456.6,28.6 L457.2,28.3 L457.9,28.1 L458.9,28.0 L459.9,28.0 L460.7,28.2 L461.4,28.5 L462.1,28.9 L462.7,29.3 L463.2,29.7 L463.7,30.2 L464.2,30.8 L464.6,31.4 L464.9,32.1 L465.2,32.6 L465.5,33.4 L465.7,34.1 L465.9,35.1 L465.9,35.9 L466.0,36.9 L465.9,37.6 L465.8,38.6 L465.6,39.4 L465.4,40.1 L465.2,41.0 L465.0,41.9 L464.9,42.6 L464.8,43.6 L464.9,44.6 L465.0,45.4 L465.1,46.4 L465.1,47.4 L465.0,48.4 L464.9,49.1 L464.6,49.9 L464.3,50.6 L463.9,51.2 L463.4,51.8 L463.0,52.4 L462.4,52.8 L461.9,53.2 L461.3,53.6 L460.7,53.9 L459.9,54.2 L458.9,54.3Z M459.4,55.1 L458.4,55.2 L457.4,55.2 L456.7,55.0 L455.9,54.8 L455.2,54.4 L454.7,54.1 L454.1,53.6 L453.6,53.1 L453.1,52.6 L452.7,52.1 L452.2,51.4 L451.9,50.8 L451.7,50.1 L451.4,49.4 L451.2,48.5 L451.0,47.6 L451.0,46.6 L450.9,45.9 L450.9,44.9 L450.9,43.9 L451.0,43.1 L451.0,42.1 L451.0,41.1 L451.0,40.1 L451.0,39.1 L451.1,38.1 L451.2,37.1 L451.3,36.4 L451.4,35.5 L451.6,34.6 L451.8,33.9 L452.1,33.1 L452.4,32.4 L452.7,31.6 L452.9,31.1 L453.4,30.4 L453.7,29.9 L454.2,29.2 L454.7,28.7 L455.2,28.3 L455.8,27.9 L456.4,27.5 L457.2,27.2 L457.9,27.0 L458.9,26.9 L459.9,27.0 L460.7,27.2 L461.4,27.5 L462.0,27.9 L462.7,28.3 L463.2,28.7 L463.7,29.1 L464.2,29.7 L464.7,30.3 L465.1,30.9 L465.4,31.5 L465.7,32.1 L466.0,32.9 L466.2,33.6 L466.4,34.6 L466.6,35.4 L466.6,36.4 L466.6,37.4 L466.5,38.4 L466.4,39.1 L466.2,39.9 L466.0,40.9 L465.8,41.6 L465.7,42.4 L465.6,43.4 L465.6,44.4 L465.7,45.2 L465.8,46.1 L465.8,47.1 L465.7,48.1 L465.6,48.9 L465.4,49.6 L465.1,50.4 L464.7,51.1 L464.4,51.6 L463.9,52.3 L463.5,52.9 L462.9,53.3 L462.4,53.7 L461.9,54.1 L461.2,54.5 L460.4,54.8 L459.7,55.1Z M458.9,56.1 L457.9,56.2 L457.2,56.1 L456.3,55.9 L455.6,55.6 L454.9,55.2 L454.4,54.9 L453.8,54.4 L453.3,53.9 L452.8,53.4 L452.4,52.9 L451.9,52.2 L451.6,51.6 L451.3,50.9 L451.0,50.1 L450.7,49.4 L450.5,48.6 L450.4,47.9 L450.3,46.9 L450.2,45.9 L450.2,44.9 L450.2,44.1 L450.2,43.1 L450.2,42.1 L450.2,41.1 L450.2,40.1 L450.2,39.4 L450.3,38.4 L450.4,37.4 L450.5,36.6 L450.6,35.6 L450.8,34.9 L451.0,34.1 L451.2,33.2 L451.4,32.5 L451.7,31.8 L452.0,31.1 L452.4,30.4 L452.7,29.8 L453.1,29.1 L453.5,28.6 L453.9,28.1 L454.4,27.6 L455.0,27.1 L455.7,26.6 L456.2,26.4 L456.9,26.1 L457.9,25.9 L458.7,25.8 L459.4,25.9 L460.2,26.1 L461.0,26.4 L461.7,26.7 L462.4,27.1 L462.9,27.5 L463.4,27.9 L463.9,28.4 L464.4,28.9 L464.9,29.5 L465.4,30.1 L465.7,30.7 L466.1,31.4 L466.4,32.1 L466.7,32.9 L466.9,33.6 L467.0,34.4 L467.2,35.4 L467.2,36.1 L467.2,37.1 L467.2,37.9 L467.0,38.9 L466.9,39.6 L466.7,40.6 L466.6,41.4 L466.4,42.1 L466.3,43.1 L466.3,44.1 L466.3,45.1 L466.4,46.1 L466.4,47.1 L466.3,48.1 L466.2,48.9 L465.9,49.8 L465.7,50.5 L465.4,51.1 L465.0,51.9 L464.7,52.4 L464.2,53.0 L463.7,53.5 L463.2,54.0 L462.7,54.4 L462.1,54.9 L461.4,55.3 L460.8,55.6 L460.1,55.9 L459.2,56.1Z M459.2,57.1 L458.2,57.2 L457.2,57.2 L456.4,57.0 L455.7,56.7 L455.0,56.4 L454.4,56.0 L453.9,55.6 L453.4,55.1 L452.9,54.6 L452.4,54.1 L451.9,53.4 L451.6,52.9 L451.2,52.2 L450.9,51.6 L450.6,50.9 L450.3,50.1 L450.1,49.4 L449.9,48.6 L449.7,47.6 L449.6,46.9 L449.6,45.9 L449.5,44.9 L449.5,43.9 L449.4,42.9 L449.4,42.1 L449.4,41.1 L449.4,40.1 L449.5,39.4 L449.5,38.4 L449.6,37.4 L449.7,36.6 L449.9,35.6 L450.0,34.9 L450.2,34.0 L450.4,33.1 L450.7,32.4 L450.9,31.6 L451.2,30.9 L451.5,30.4 L451.8,29.6 L452.2,28.9 L452.6,28.4 L452.9,27.8 L453.4,27.2 L453.9,26.7 L454.4,26.2 L454.9,25.8 L455.7,25.4 L456.3,25.1 L457.1,24.9 L457.9,24.7 L458.9,24.8 L459.7,24.9 L460.4,25.1 L461.2,25.4 L461.9,25.9 L462.4,26.2 L463.0,26.6 L463.6,27.1 L464.2,27.6 L464.6,28.1 L465.1,28.6 L465.4,29.1 L465.9,29.9 L466.2,30.4 L466.6,31.1 L466.9,31.9 L467.2,32.6 L467.4,33.4 L467.5,34.1 L467.7,35.1 L467.7,35.9 L467.8,36.9 L467.7,37.9 L467.6,38.6 L467.5,39.6 L467.4,40.4 L467.2,41.3 L467.1,42.1 L466.9,43.0 L466.9,43.9 L466.9,44.9 L467.0,45.6 L467.0,46.6 L466.9,47.4 L466.9,48.4 L466.7,49.1 L466.4,50.1 L466.2,50.8 L465.9,51.4 L465.5,52.1 L465.2,52.7 L464.7,53.3 L464.3,53.9 L463.8,54.4 L463.3,54.9 L462.7,55.3 L462.2,55.7 L461.6,56.1 L460.9,56.5 L460.2,56.8 L459.4,57.1Z" fill="none" stroke="#141414" stroke-width="0.5"/><path d="M459.2,57.1 L458.2,57.2 L457.2,57.2 L456.4,57.0 L455.7,56.7 L455.0,56.4 L454.4,56.0 L453.9,55.6 L453.4,55.1 L452.9,54.6 L452.4,54.1 L451.9,53.4 L451.6,52.9 L451.2,52.2 L450.9,51.6 L450.6,50.9 L450.3,50.1 L450.1,49.4 L449.9,48.6 L449.7,47.6 L449.6,46.9 L449.6,45.9 L449.5,44.9 L449.5,43.9 L449.4,42.9 L449.4,42.1 L449.4,41.1 L449.4,40.1 L449.5,39.4 L449.5,38.4 L449.6,37.4 L449.7,36.6 L449.9,35.6 L450.0,34.9 L450.2,34.0 L450.4,33.1 L450.7,32.4 L450.9,31.6 L451.2,30.9 L451.5,30.4 L451.8,29.6 L452.2,28.9 L452.6,28.4 L452.9,27.8 L453.4,27.2 L453.9,26.7 L454.4,26.2 L454.9,25.8 L455.7,25.4 L456.3,25.1 L457.1,24.9 L457.9,24.7 L458.9,24.8 L459.7,24.9 L460.4,25.1 L461.2,25.4 L461.9,25.9 L462.4,26.2 L463.0,26.6 L463.6,27.1 L464.2,27.6 L464.6,28.1 L465.1,28.6 L465.4,29.1 L465.9,29.9 L466.2,30.4 L466.6,31.1 L466.9,31.9 L467.2,32.6 L467.4,33.4 L467.5,34.1 L467.7,35.1 L467.7,35.9 L467.8,36.9 L467.7,37.9 L467.6,38.6 L467.5,39.6 L467.4,40.4 L467.2,41.3 L467.1,42.1 L466.9,43.0 L466.9,43.9 L466.9,44.9 L467.0,45.6 L467.0,46.6 L466.9,47.4 L466.9,48.4 L466.7,49.1 L466.4,50.1 L466.2,50.8 L465.9,51.4 L465.5,52.1 L465.2,52.7 L464.7,53.3 L464.3,53.9 L463.8,54.4 L463.3,54.9 L462.7,55.3 L462.2,55.7 L461.6,56.1 L460.9,56.5 L460.2,56.8 L459.4,57.1Z" fill="none" stroke="#141414" stroke-width="1.5"/>
<path d="M494.9,40.1 L493.9,40.2 L492.9,40.3 L491.9,40.2 L491.0,40.1 L490.2,39.9 L489.8,39.4 L490.4,39.0 L491.3,38.9 L492.2,38.8 L493.2,38.7 L494.2,38.8 L494.9,38.9 L495.8,39.1 L496.2,39.6 L495.7,39.9 L494.9,40.1Z M495.9,40.9 L494.9,40.9 L493.9,41.0 L492.9,41.0 L491.9,41.0 L490.9,40.9 L490.0,40.9 L489.2,40.7 L488.4,40.6 L487.7,40.4 L486.9,40.0 L486.6,39.4 L487.2,38.9 L487.8,38.6 L488.7,38.4 L489.4,38.2 L490.4,38.1 L491.2,38.0 L492.2,38.0 L493.2,38.0 L494.2,38.0 L495.2,38.1 L495.9,38.1 L496.9,38.3 L497.7,38.5 L498.4,38.7 L499.2,39.1 L499.2,39.9 L498.7,40.2 L497.9,40.5 L497.2,40.6 L496.2,40.8Z M496.7,41.6 L495.7,41.7 L494.7,41.7 L493.7,41.8 L492.7,41.8 L491.7,41.8 L490.7,41.7 L489.7,41.6 L488.9,41.6 L487.9,41.4 L487.2,41.3 L486.2,41.1 L485.4,40.9 L484.7,40.6 L484.1,40.4 L483.5,39.9 L483.4,39.3 L483.9,38.7 L484.7,38.4 L485.4,38.1 L486.2,37.9 L486.9,37.7 L487.7,37.6 L488.7,37.5 L489.7,37.4 L490.4,37.3 L491.4,37.2 L492.4,37.2 L493.4,37.2 L494.4,37.2 L495.4,37.3 L496.2,37.4 L497.2,37.4 L498.2,37.6 L498.9,37.7 L499.7,37.9 L500.6,38.1 L501.3,38.4 L501.9,38.7 L502.5,39.1 L502.4,39.9 L501.9,40.4 L501.2,40.7 L500.4,40.9 L499.7,41.1 L498.7,41.3 L497.9,41.5 L496.9,41.6Z M497.4,42.4 L496.4,42.4 L495.4,42.5 L494.4,42.5 L493.4,42.5 L492.4,42.5 L491.4,42.5 L490.4,42.5 L489.4,42.4 L488.5,42.4 L487.7,42.3 L486.7,42.2 L485.9,42.0 L484.9,41.9 L484.2,41.7 L483.4,41.5 L482.7,41.3 L481.9,41.0 L481.2,40.7 L480.7,40.3 L480.2,39.6 L480.3,39.1 L480.8,38.6 L481.4,38.2 L482.2,37.9 L482.9,37.6 L483.7,37.4 L484.4,37.2 L485.2,37.1 L486.2,36.9 L486.9,36.8 L487.9,36.7 L488.9,36.6 L489.7,36.6 L490.7,36.5 L491.7,36.5 L492.7,36.5 L493.7,36.5 L494.7,36.5 L495.7,36.5 L496.7,36.6 L497.4,36.6 L498.4,36.7 L499.3,36.9 L500.2,37.0 L500.9,37.1 L501.9,37.3 L502.7,37.5 L503.4,37.7 L504.2,38.0 L504.9,38.4 L505.4,38.8 L505.8,39.4 L505.6,40.1 L504.9,40.6 L504.4,40.9 L503.7,41.2 L502.9,41.4 L502.2,41.6 L501.2,41.8 L500.4,42.0 L499.6,42.1 L498.7,42.2 L497.7,42.3Z M497.9,43.1 L496.9,43.2 L495.9,43.2 L494.9,43.3 L493.9,43.3 L492.9,43.3 L491.9,43.3 L490.9,43.3 L489.9,43.2 L488.9,43.2 L487.9,43.1 L487.2,43.0 L486.2,42.9 L485.4,42.9 L484.4,42.7 L483.7,42.6 L482.7,42.4 L481.9,42.3 L481.2,42.1 L480.4,41.9 L479.7,41.6 L478.9,41.3 L478.2,40.9 L477.7,40.6 L477.2,40.1 L477.1,39.1 L477.4,38.6 L478.1,38.1 L478.7,37.8 L479.4,37.5 L480.2,37.2 L480.9,37.0 L481.7,36.8 L482.7,36.6 L483.4,36.4 L484.2,36.3 L485.2,36.2 L485.9,36.1 L486.9,36.0 L487.9,35.9 L488.7,35.8 L489.7,35.8 L490.7,35.7 L491.7,35.7 L492.7,35.7 L493.7,35.7 L494.7,35.7 L495.7,35.7 L496.7,35.8 L497.5,35.9 L498.4,35.9 L499.4,36.0 L500.2,36.1 L501.2,36.2 L502.0,36.4 L502.9,36.5 L503.7,36.7 L504.5,36.9 L505.4,37.1 L506.2,37.4 L506.9,37.6 L507.4,37.9 L508.2,38.3 L508.7,38.8 L509.0,39.4 L508.8,40.1 L508.3,40.6 L507.7,41.0 L507.0,41.4 L506.3,41.6 L505.6,41.9 L504.7,42.1 L503.9,42.3 L503.2,42.4 L502.3,42.6 L501.4,42.7 L500.6,42.9 L499.7,43.0 L498.7,43.1 L497.9,43.1Z M498.7,43.9 L497.7,43.9 L496.7,44.0 L495.7,44.0 L494.7,44.0 L493.7,44.1 L492.7,44.1 L491.7,44.1 L490.7,44.0 L489.7,44.0 L488.7,44.0 L487.7,43.9 L486.9,43.8 L485.9,43.7 L484.9,43.6 L484.2,43.6 L483.2,43.4 L482.4,43.3 L481.4,43.1 L480.7,43.0 L479.9,42.8 L478.9,42.6 L478.2,42.4 L477.4,42.2 L476.7,41.9 L476.0,41.6 L475.4,41.4 L474.7,40.9 L474.2,40.4 L473.9,39.9 L473.9,38.9 L474.4,38.4 L474.9,37.9 L475.5,37.6 L476.2,37.3 L476.9,37.0 L477.7,36.7 L478.4,36.5 L479.2,36.3 L480.2,36.1 L480.9,35.9 L481.7,35.8 L482.7,35.6 L483.4,35.5 L484.4,35.4 L485.2,35.3 L486.2,35.2 L487.2,35.1 L487.9,35.1 L488.9,35.0 L489.9,35.0 L490.9,35.0 L491.9,34.9 L492.9,34.9 L493.9,34.9 L494.9,35.0 L495.9,35.0 L496.9,35.0 L497.9,35.1 L498.7,35.1 L499.7,35.2 L500.7,35.3 L501.4,35.4 L502.4,35.5 L503.2,35.6 L504.2,35.8 L504.9,35.9 L505.8,36.1 L506.7,36.3 L507.4,36.5 L508.2,36.7 L508.9,37.0 L509.7,37.2 L510.4,37.6 L510.9,37.9 L511.6,38.4 L512.0,38.9 L512.2,39.6 L511.9,40.2 L511.4,40.8 L510.9,41.1 L510.2,41.5 L509.5,41.9 L508.8,42.1 L508.0,42.4 L507.2,42.6 L506.4,42.8 L505.7,42.9 L504.8,43.1 L503.9,43.3 L503.2,43.4 L502.2,43.5 L501.4,43.6 L500.4,43.7 L499.4,43.8 L498.7,43.9Z" fill="none" stroke="#333" stroke-width="0.45"/><path d="M498.7,43.9 L497.7,43.9 L496.7,44.0 L495.7,44.0 L494.7,44.0 L493.7,44.1 L492.7,44.1 L491.7,44.1 L490.7,44.0 L489.7,44.0 L488.7,44.0 L487.7,43.9 L486.9,43.8 L485.9,43.7 L484.9,43.6 L484.2,43.6 L483.2,43.4 L482.4,43.3 L481.4,43.1 L480.7,43.0 L479.9,42.8 L478.9,42.6 L478.2,42.4 L477.4,42.2 L476.7,41.9 L476.0,41.6 L475.4,41.4 L474.7,40.9 L474.2,40.4 L473.9,39.9 L473.9,38.9 L474.4,38.4 L474.9,37.9 L475.5,37.6 L476.2,37.3 L476.9,37.0 L477.7,36.7 L478.4,36.5 L479.2,36.3 L480.2,36.1 L480.9,35.9 L481.7,35.8 L482.7,35.6 L483.4,35.5 L484.4,35.4 L485.2,35.3 L486.2,35.2 L487.2,35.1 L487.9,35.1 L488.9,35.0 L489.9,35.0 L490.9,35.0 L491.9,34.9 L492.9,34.9 L493.9,34.9 L494.9,35.0 L495.9,35.0 L496.9,35.0 L497.9,35.1 L498.7,35.1 L499.7,35.2 L500.7,35.3 L501.4,35.4 L502.4,35.5 L503.2,35.6 L504.2,35.8 L504.9,35.9 L505.8,36.1 L506.7,36.3 L507.4,36.5 L508.2,36.7 L508.9,37.0 L509.7,37.2 L510.4,37.6 L510.9,37.9 L511.6,38.4 L512.0,38.9 L512.2,39.6 L511.9,40.2 L511.4,40.8 L510.9,41.1 L510.2,41.5 L509.5,41.9 L508.8,42.1 L508.0,42.4 L507.2,42.6 L506.4,42.8 L505.7,42.9 L504.8,43.1 L503.9,43.3 L503.2,43.4 L502.2,43.5 L501.4,43.6 L500.4,43.7 L499.4,43.8 L498.7,43.9Z" fill="none" stroke="#333" stroke-width="1.0"/>
<path d="M499.2,54.4 L498.2,54.4 L497.2,54.5 L496.2,54.5 L495.2,54.5 L494.2,54.5 L493.2,54.4 L492.4,54.3 L491.4,54.2 L490.6,54.1 L489.7,53.9 L488.9,53.8 L488.2,53.6 L487.3,53.4 L486.6,53.1 L485.9,52.9 L485.2,52.5 L484.5,52.1 L483.9,51.7 L483.4,51.2 L483.1,50.6 L483.0,49.6 L483.4,48.9 L483.9,48.4 L484.4,47.9 L485.0,47.6 L485.7,47.3 L486.4,46.9 L487.2,46.7 L487.9,46.5 L488.7,46.3 L489.5,46.1 L490.4,45.9 L491.2,45.8 L492.2,45.7 L493.2,45.6 L493.9,45.6 L494.9,45.5 L495.9,45.5 L496.9,45.5 L497.9,45.5 L498.7,45.6 L499.7,45.7 L500.7,45.8 L501.4,45.9 L502.4,46.1 L503.2,46.3 L503.9,46.4 L504.7,46.7 L505.4,46.9 L506.2,47.2 L506.9,47.6 L507.4,47.9 L508.1,48.4 L508.6,48.9 L508.9,49.6 L509.0,50.4 L508.7,51.0 L508.2,51.6 L507.7,52.0 L507.1,52.4 L506.4,52.7 L505.7,53.0 L504.9,53.3 L504.2,53.5 L503.4,53.7 L502.7,53.9 L501.7,54.0 L500.9,54.2 L499.9,54.3 L499.2,54.4Z M497.2,56.4 L496.2,56.4 L495.2,56.4 L494.4,56.3 L493.4,56.3 L492.4,56.2 L491.4,56.2 L490.7,56.1 L489.7,56.0 L488.8,55.9 L487.9,55.7 L487.2,55.6 L486.2,55.4 L485.4,55.2 L484.7,55.0 L483.9,54.8 L483.2,54.6 L482.4,54.3 L481.7,54.0 L480.9,53.7 L480.4,53.4 L479.7,52.9 L479.2,52.6 L478.6,52.1 L478.2,51.6 L477.8,50.9 L477.6,50.1 L477.7,49.4 L478.1,48.6 L478.5,48.1 L479.0,47.6 L479.6,47.1 L480.2,46.7 L480.9,46.4 L481.5,46.1 L482.2,45.8 L482.9,45.5 L483.7,45.3 L484.4,45.0 L485.2,44.8 L486.2,44.6 L486.9,44.5 L487.7,44.3 L488.7,44.2 L489.4,44.1 L490.4,43.9 L491.3,43.9 L492.2,43.8 L493.2,43.7 L494.2,43.7 L495.2,43.6 L496.2,43.6 L497.2,43.6 L498.2,43.7 L499.2,43.7 L500.2,43.8 L500.9,43.9 L501.9,44.0 L502.9,44.1 L503.7,44.2 L504.5,44.4 L505.4,44.5 L506.2,44.7 L506.9,44.9 L507.7,45.1 L508.6,45.4 L509.3,45.6 L509.9,45.9 L510.7,46.2 L511.4,46.5 L512.0,46.9 L512.7,47.3 L513.2,47.8 L513.7,48.3 L514.1,48.9 L514.4,49.6 L514.3,50.6 L514.0,51.4 L513.6,51.9 L513.1,52.4 L512.5,52.8 L511.9,53.2 L511.2,53.6 L510.6,53.9 L509.9,54.1 L509.2,54.4 L508.4,54.7 L507.7,54.9 L506.9,55.1 L506.0,55.4 L505.2,55.5 L504.4,55.7 L503.4,55.8 L502.7,55.9 L501.7,56.1 L500.9,56.1 L499.9,56.2 L498.9,56.3 L497.9,56.3 L497.2,56.4Z M517.5,52.4 L517.0,52.9 L516.3,53.4 L515.7,53.8 L515.2,54.1 L514.5,54.5 L513.7,54.8 L513.0,55.1 L512.4,55.4 L511.7,55.6 L510.9,55.9 L510.0,56.1 L509.2,56.3 L508.4,56.5 L507.7,56.7 L506.7,56.9 L505.9,57.0 L505.2,57.1 L504.2,57.3 L503.4,57.4 L502.4,57.5 L501.4,57.6 L500.7,57.6 L499.7,57.7 L498.7,57.7 L497.7,57.8 L496.7,57.8 L495.7,57.8 L494.7,57.8 L493.7,57.8 L492.7,57.7 L491.7,57.7 L490.9,57.6 L489.9,57.5 L488.9,57.4 L488.2,57.3 L487.2,57.2 L486.4,57.1 L485.4,56.9 L484.7,56.7 L483.9,56.6 L482.9,56.4 L482.2,56.2 L481.4,56.0 L480.7,55.7 L479.9,55.5 L479.2,55.2 L478.4,54.9 L477.8,54.6 L477.2,54.3 L476.4,53.9 L475.9,53.5 L475.3,53.1 L474.8,52.6 L474.3,52.1 L473.9,51.6 L473.6,50.9 L473.5,49.9 L473.7,48.9 L474.0,48.4 L474.4,47.7 L474.9,47.2 L475.4,46.8 L476.1,46.4 L476.7,46.0 L477.4,45.6 L477.9,45.3 L478.7,45.0 L479.4,44.7 L480.2,44.4 L480.9,44.2 L481.7,44.0 L482.4,43.8 L483.2,43.6 L484.2,43.4 L484.9,43.2 L485.7,43.1 L486.7,42.9 L487.4,42.8 L488.4,42.7 L489.2,42.6 L490.2,42.5 L491.2,42.4 L491.9,42.3 L492.9,42.3 L493.9,42.2 L494.9,42.2 L495.9,42.2 L496.9,42.2 L497.9,42.2 L498.9,42.3 L499.9,42.3 L500.7,42.4 L501.7,42.5 L502.7,42.6 L503.4,42.6 L504.4,42.8 L505.2,42.9 L506.2,43.0 L506.9,43.2 L507.7,43.4 L508.7,43.6 L509.4,43.7 L510.2,43.9 L510.9,44.2 L511.7,44.4 L512.5,44.7 L513.2,45.0 L514.0,45.3 L514.6,45.6 L515.2,45.9 L515.9,46.4 L516.5,46.7 L517.0,47.1 L517.5,47.6" fill="none" stroke="#777" stroke-width="0.45"/>
<path d="M494.7,54.9 L493.7,54.9 L492.7,54.9 L491.7,54.9 L490.7,54.9 L489.9,54.8 L488.9,54.7 L488.2,54.6 L487.4,54.4 L487.2,53.8 L487.9,53.5 L488.7,53.3 L489.7,53.2 L490.7,53.1 L491.4,53.1 L492.4,53.1 L493.4,53.1 L494.2,53.1 L495.2,53.2 L496.2,53.3 L496.9,53.5 L497.7,53.7 L497.6,54.4 L496.7,54.6 L495.9,54.7 L494.9,54.8Z M496.7,55.1 L495.7,55.2 L494.7,55.3 L493.7,55.3 L492.7,55.3 L491.7,55.3 L490.7,55.3 L489.7,55.2 L488.7,55.1 L487.9,55.1 L486.9,54.9 L486.2,54.7 L485.4,54.5 L484.8,54.1 L485.2,53.6 L485.9,53.3 L486.9,53.1 L487.7,53.0 L488.7,52.9 L489.4,52.8 L490.4,52.7 L491.4,52.7 L492.4,52.7 L493.4,52.7 L494.4,52.7 L495.4,52.8 L496.3,52.9 L497.2,53.0 L498.1,53.1 L498.9,53.3 L499.7,53.5 L500.2,54.1 L499.4,54.6 L498.7,54.8 L497.9,54.9 L496.9,55.1Z M493.4,55.6 L492.4,55.6 L491.4,55.6 L490.7,55.6 L489.7,55.5 L488.7,55.5 L487.7,55.4 L486.9,55.3 L485.9,55.2 L485.2,55.0 L484.4,54.8 L483.7,54.6 L483.1,54.1 L483.4,53.6 L484.2,53.2 L484.9,53.0 L485.9,52.9 L486.7,52.7 L487.7,52.6 L488.4,52.5 L489.4,52.5 L490.4,52.4 L491.4,52.4 L492.4,52.4 L493.4,52.4 L494.4,52.4 L495.4,52.5 L496.4,52.5 L497.2,52.6 L498.2,52.7 L499.1,52.9 L499.9,53.0 L500.7,53.2 L501.4,53.5 L501.9,54.1 L501.2,54.6 L500.5,54.9 L499.7,55.0 L498.9,55.2 L497.9,55.3 L497.2,55.4 L496.2,55.5 L495.2,55.5 L494.2,55.6 L493.4,55.6Z M493.7,55.9 L492.7,55.9 L491.7,55.9 L490.9,55.8 L489.9,55.8 L488.9,55.8 L487.9,55.7 L486.9,55.6 L486.2,55.5 L485.2,55.4 L484.4,55.2 L483.7,55.1 L482.8,54.9 L482.2,54.6 L481.7,54.1 L481.9,53.6 L482.7,53.2 L483.4,53.0 L484.2,52.8 L485.2,52.6 L485.9,52.5 L486.9,52.4 L487.7,52.3 L488.7,52.3 L489.7,52.2 L490.7,52.2 L491.7,52.1 L492.7,52.1 L493.7,52.1 L494.7,52.2 L495.7,52.2 L496.7,52.3 L497.5,52.4 L498.4,52.4 L499.4,52.6 L500.2,52.7 L501.0,52.9 L501.9,53.1 L502.7,53.4 L503.2,53.7 L503.2,54.4 L502.4,54.7 L501.7,55.0 L500.9,55.2 L500.0,55.4 L499.2,55.5 L498.2,55.6 L497.4,55.7 L496.4,55.7 L495.4,55.8 L494.4,55.8 L493.7,55.9Z M497.9,55.9 L496.9,55.9 L495.9,56.0 L494.9,56.0 L493.9,56.1 L492.9,56.1 L491.9,56.1 L490.9,56.1 L489.9,56.0 L488.9,56.0 L487.9,55.9 L486.9,55.9 L486.2,55.8 L485.2,55.7 L484.4,55.6 L483.4,55.4 L482.7,55.2 L481.9,55.0 L481.2,54.8 L480.5,54.4 L480.4,53.8 L481.0,53.4 L481.7,53.1 L482.4,52.8 L483.4,52.6 L484.2,52.5 L485.1,52.4 L485.9,52.2 L486.9,52.1 L487.7,52.1 L488.7,52.0 L489.7,52.0 L490.7,51.9 L491.7,51.9 L492.7,51.9 L493.7,51.9 L494.7,51.9 L495.7,52.0 L496.7,52.0 L497.5,52.1 L498.4,52.2 L499.4,52.3 L500.2,52.4 L501.2,52.5 L501.9,52.7 L502.7,52.9 L503.4,53.1 L504.2,53.5 L504.6,54.1 L504.1,54.6 L503.4,54.9 L502.7,55.1 L501.7,55.4 L500.9,55.5 L500.2,55.6 L499.2,55.7 L498.2,55.8Z M497.4,56.1 L496.4,56.2 L495.4,56.2 L494.4,56.3 L493.4,56.3 L492.4,56.3 L491.4,56.3 L490.4,56.3 L489.4,56.2 L488.4,56.2 L487.4,56.1 L486.7,56.1 L485.7,56.0 L484.7,55.9 L483.9,55.7 L483.0,55.6 L482.2,55.4 L481.4,55.3 L480.7,55.0 L479.9,54.7 L479.4,54.4 L479.4,53.6 L480.2,53.1 L480.9,52.9 L481.7,52.7 L482.4,52.5 L483.3,52.4 L484.2,52.2 L485.2,52.1 L485.9,52.0 L486.9,51.9 L487.9,51.9 L488.7,51.8 L489.7,51.8 L490.7,51.7 L491.7,51.7 L492.7,51.7 L493.7,51.7 L494.7,51.7 L495.7,51.8 L496.7,51.8 L497.4,51.9 L498.4,52.0 L499.4,52.1 L500.2,52.1 L501.2,52.3 L501.9,52.4 L502.9,52.6 L503.7,52.8 L504.4,53.0 L505.2,53.3 L505.7,53.8 L505.6,54.4 L504.9,54.8 L504.2,55.1 L503.4,55.3 L502.7,55.5 L501.9,55.6 L500.9,55.8 L500.2,55.9 L499.2,56.0 L498.2,56.1 L497.4,56.1Z M496.7,56.4 L495.7,56.4 L494.7,56.4 L493.7,56.5 L492.7,56.5 L491.7,56.5 L490.7,56.5 L489.7,56.4 L488.7,56.4 L487.9,56.3 L486.9,56.3 L485.9,56.2 L485.0,56.1 L484.2,56.0 L483.2,55.9 L482.4,55.8 L481.6,55.6 L480.7,55.4 L479.9,55.2 L479.2,54.9 L478.6,54.6 L478.2,54.1 L478.4,53.5 L479.1,53.1 L479.8,52.9 L480.7,52.6 L481.4,52.4 L482.2,52.3 L483.2,52.1 L483.9,52.0 L484.9,51.9 L485.7,51.8 L486.7,51.7 L487.7,51.7 L488.7,51.6 L489.4,51.6 L490.4,51.6 L491.4,51.5 L492.4,51.5 L493.4,51.5 L494.4,51.6 L495.4,51.6 L496.2,51.6 L497.2,51.7 L498.2,51.7 L499.2,51.8 L499.9,51.9 L500.9,52.0 L501.7,52.1 L502.7,52.3 L503.4,52.4 L504.3,52.6 L505.2,52.9 L505.9,53.1 L506.4,53.4 L506.8,54.1 L506.4,54.6 L505.7,55.0 L504.9,55.2 L504.2,55.4 L503.4,55.6 L502.4,55.8 L501.7,55.9 L500.7,56.0 L499.9,56.1 L498.9,56.2 L497.9,56.3 L496.9,56.3Z M494.7,56.6 L493.7,56.6 L492.7,56.6 L491.7,56.6 L490.7,56.6 L489.9,56.6 L488.9,56.6 L487.9,56.5 L486.9,56.5 L485.9,56.4 L485.2,56.3 L484.2,56.2 L483.3,56.1 L482.4,56.0 L481.6,55.9 L480.7,55.7 L479.9,55.5 L479.2,55.3 L478.4,55.1 L477.7,54.7 L477.2,54.2 L477.3,53.6 L477.9,53.2 L478.7,52.9 L479.4,52.6 L480.2,52.4 L480.9,52.3 L481.9,52.1 L482.7,52.0 L483.7,51.9 L484.4,51.8 L485.4,51.7 L486.2,51.6 L487.2,51.5 L488.2,51.5 L489.2,51.4 L490.2,51.4 L491.2,51.4 L492.2,51.4 L493.2,51.4 L494.2,51.4 L495.2,51.4 L496.2,51.4 L497.2,51.5 L498.2,51.6 L498.9,51.6 L499.9,51.7 L500.9,51.8 L501.7,51.9 L502.7,52.0 L503.4,52.2 L504.4,52.3 L505.2,52.5 L505.9,52.7 L506.7,53.0 L507.4,53.4 L507.8,53.9 L507.4,54.6 L506.9,54.9 L506.2,55.2 L505.4,55.4 L504.7,55.6 L503.7,55.8 L502.9,55.9 L501.9,56.1 L501.2,56.2 L500.2,56.3 L499.4,56.4 L498.4,56.4 L497.4,56.5 L496.4,56.5 L495.4,56.6 L494.7,56.6Z M498.2,56.6 L497.2,56.7 L496.2,56.7 L495.2,56.8 L494.2,56.8 L493.2,56.8 L492.2,56.8 L491.2,56.8 L490.2,56.8 L489.2,56.7 L488.2,56.7 L487.2,56.6 L486.4,56.6 L485.4,56.5 L484.4,56.4 L483.7,56.3 L482.7,56.2 L481.8,56.1 L480.9,56.0 L480.2,55.8 L479.2,55.6 L478.4,55.4 L477.7,55.2 L477.0,54.9 L476.4,54.5 L476.4,53.6 L476.9,53.2 L477.7,52.9 L478.4,52.6 L479.2,52.4 L479.9,52.2 L480.7,52.1 L481.7,51.9 L482.4,51.8 L483.4,51.7 L484.2,51.6 L485.2,51.5 L486.2,51.4 L487.2,51.4 L487.9,51.3 L488.9,51.3 L489.9,51.2 L490.9,51.2 L491.9,51.2 L492.9,51.2 L493.9,51.2 L494.9,51.2 L495.9,51.3 L496.9,51.3 L497.7,51.4 L498.7,51.4 L499.7,51.5 L500.7,51.6 L501.4,51.7 L502.4,51.8 L503.2,51.9 L504.2,52.1 L504.9,52.2 L505.7,52.4 L506.6,52.6 L507.3,52.9 L507.9,53.1 L508.6,53.6 L508.7,54.2 L508.2,54.7 L507.5,55.1 L506.7,55.4 L505.9,55.6 L505.2,55.8 L504.4,55.9 L503.4,56.1 L502.7,56.2 L501.7,56.3 L500.9,56.4 L499.9,56.5 L498.9,56.6 L498.2,56.6Z M496.7,56.9 L495.7,56.9 L494.7,56.9 L493.7,56.9 L492.7,57.0 L491.7,57.0 L490.7,56.9 L489.7,56.9 L488.7,56.9 L487.9,56.8 L486.9,56.8 L485.9,56.7 L484.9,56.6 L484.2,56.6 L483.2,56.5 L482.2,56.4 L481.4,56.3 L480.5,56.1 L479.7,56.0 L478.9,55.8 L478.1,55.6 L477.3,55.4 L476.6,55.1 L475.9,54.8 L475.4,54.3 L475.5,53.6 L476.2,53.1 L476.7,52.9 L477.4,52.6 L478.3,52.4 L479.2,52.1 L479.9,52.0 L480.8,51.9 L481.7,51.7 L482.6,51.6 L483.4,51.5 L484.4,51.4 L485.2,51.3 L486.2,51.3 L487.2,51.2 L488.2,51.1 L489.2,51.1 L489.9,51.1 L490.9,51.1 L491.9,51.1 L492.9,51.1 L493.9,51.1 L494.9,51.1 L495.7,51.1 L496.7,51.1 L497.7,51.2 L498.7,51.2 L499.7,51.3 L500.4,51.4 L501.4,51.5 L502.4,51.6 L503.2,51.7 L504.2,51.8 L504.9,52.0 L505.7,52.1 L506.7,52.3 L507.4,52.6 L508.2,52.8 L508.8,53.1 L509.4,53.6 L509.5,54.4 L508.9,54.8 L508.4,55.1 L507.7,55.4 L506.9,55.6 L505.9,55.8 L505.2,56.0 L504.4,56.1 L503.4,56.3 L502.7,56.4 L501.7,56.5 L500.7,56.6 L499.9,56.7 L498.9,56.7 L497.9,56.8 L496.9,56.8Z M499.2,56.9 L498.2,56.9 L497.2,57.0 L496.2,57.0 L495.2,57.1 L494.2,57.1 L493.2,57.1 L492.2,57.1 L491.2,57.1 L490.2,57.1 L489.2,57.0 L488.2,57.0 L487.2,57.0 L486.2,56.9 L485.4,56.8 L484.4,56.8 L483.4,56.7 L482.7,56.6 L481.7,56.5 L480.8,56.4 L479.9,56.2 L479.2,56.1 L478.2,55.9 L477.4,55.7 L476.7,55.5 L475.9,55.2 L475.2,54.9 L474.7,54.4 L474.7,53.6 L475.2,53.2 L475.8,52.9 L476.5,52.6 L477.3,52.4 L478.2,52.1 L478.9,52.0 L479.7,51.8 L480.7,51.7 L481.4,51.6 L482.4,51.4 L483.3,51.4 L484.2,51.3 L485.2,51.2 L486.2,51.1 L486.9,51.1 L487.9,51.0 L488.9,51.0 L489.9,50.9 L490.9,50.9 L491.9,50.9 L492.9,50.9 L493.9,50.9 L494.9,50.9 L495.9,51.0 L496.9,51.0 L497.9,51.1 L498.7,51.1 L499.7,51.2 L500.7,51.2 L501.7,51.3 L502.4,51.4 L503.4,51.5 L504.2,51.7 L505.2,51.8 L505.9,51.9 L506.7,52.1 L507.7,52.3 L508.4,52.6 L509.2,52.9 L509.7,53.1 L510.3,53.6 L510.4,54.2 L509.9,54.7 L509.3,55.1 L508.7,55.4 L507.9,55.6 L506.9,55.8 L506.2,56.0 L505.4,56.1 L504.4,56.3 L503.7,56.4 L502.7,56.5 L501.9,56.6 L500.9,56.7 L499.9,56.8 L499.2,56.9Z M497.4,57.1 L496.4,57.2 L495.4,57.2 L494.4,57.2 L493.4,57.2 L492.4,57.2 L491.4,57.2 L490.4,57.2 L489.4,57.2 L488.4,57.2 L487.4,57.1 L486.7,57.1 L485.7,57.0 L484.7,56.9 L483.7,56.9 L482.9,56.8 L481.9,56.7 L481.2,56.6 L480.2,56.4 L479.4,56.3 L478.4,56.1 L477.7,56.0 L476.9,55.8 L476.2,55.6 L475.4,55.4 L474.7,55.0 L474.0,54.6 L473.7,53.9 L474.2,53.3 L474.9,52.9 L475.6,52.6 L476.4,52.4 L477.2,52.1 L477.9,52.0 L478.7,51.8 L479.7,51.6 L480.4,51.5 L481.4,51.4 L482.2,51.3 L483.2,51.2 L484.2,51.1 L484.9,51.0 L485.9,51.0 L486.9,50.9 L487.9,50.9 L488.7,50.8 L489.7,50.8 L490.7,50.8 L491.7,50.8 L492.7,50.8 L493.7,50.8 L494.7,50.8 L495.7,50.8 L496.4,50.9 L497.4,50.9 L498.4,50.9 L499.4,51.0 L500.4,51.1 L501.2,51.1 L502.2,51.2 L503.2,51.4 L503.9,51.4 L504.9,51.6 L505.7,51.7 L506.5,51.9 L507.4,52.0 L508.2,52.2 L508.9,52.4 L509.7,52.7 L510.4,53.0 L510.9,53.4 L511.3,54.1 L510.9,54.6 L510.2,55.1 L509.6,55.4 L508.8,55.6 L507.9,55.8 L507.2,56.0 L506.4,56.2 L505.4,56.3 L504.7,56.5 L503.7,56.6 L502.9,56.7 L501.9,56.8 L501.2,56.9 L500.2,57.0 L499.2,57.0 L498.2,57.1 L497.4,57.1Z" fill="none" stroke="#080808" stroke-width="0.6"/>
<path d="M469.2,61.4 L468.2,61.5 L467.2,61.5 L466.2,61.5 L465.2,61.4 L464.4,61.3 L463.6,61.1 L462.9,60.9 L462.2,60.4 L462.2,59.6 L462.7,59.2 L463.4,58.9 L464.2,58.8 L465.2,58.6 L465.9,58.5 L466.9,58.5 L467.9,58.5 L468.8,58.6 L469.7,58.7 L470.4,58.9 L471.2,59.2 L471.8,59.6 L471.9,60.2 L471.4,60.7 L470.7,61.0 L469.9,61.2 L469.2,61.4Z M467.9,62.1 L466.9,62.1 L465.9,62.1 L465.2,62.1 L464.2,62.0 L463.4,61.8 L462.4,61.6 L461.7,61.4 L460.9,61.1 L460.4,60.8 L459.9,60.2 L460.0,59.6 L460.6,59.1 L461.2,58.8 L461.9,58.5 L462.7,58.3 L463.7,58.1 L464.4,58.0 L465.4,57.9 L466.4,57.9 L467.4,57.9 L468.4,57.9 L469.4,58.0 L470.2,58.1 L471.2,58.3 L471.9,58.5 L472.7,58.7 L473.4,59.1 L473.9,59.6 L474.0,60.4 L473.5,60.9 L472.9,61.1 L472.2,61.4 L471.4,61.7 L470.5,61.9 L469.7,62.0 L468.7,62.1 L467.9,62.1Z M470.7,62.4 L469.7,62.5 L468.7,62.6 L467.7,62.6 L466.7,62.6 L465.7,62.6 L464.7,62.5 L463.7,62.4 L462.9,62.3 L461.9,62.1 L461.2,61.9 L460.4,61.7 L459.7,61.4 L459.1,61.1 L458.6,60.6 L458.3,59.9 L458.7,59.3 L459.2,58.9 L459.9,58.5 L460.7,58.2 L461.4,58.0 L462.2,57.8 L463.2,57.7 L463.9,57.6 L464.9,57.5 L465.9,57.4 L466.9,57.4 L467.9,57.4 L468.9,57.5 L469.9,57.6 L470.7,57.6 L471.7,57.8 L472.4,58.0 L473.2,58.2 L473.9,58.4 L474.7,58.8 L475.2,59.2 L475.7,59.9 L475.4,60.6 L474.9,61.1 L474.2,61.4 L473.4,61.7 L472.7,62.0 L471.9,62.1 L470.9,62.3Z" fill="none" stroke="#777" stroke-width="0.4"/>
<ellipse cx="457.7" cy="38.9" rx="11.7" ry="19.4" fill="none" stroke="#b8284e" stroke-width="1.3"/>
<ellipse cx="492.7" cy="38" rx="20.5" ry="8.2" fill="none" stroke="#55d63c" stroke-width="1.3"/>
<ellipse cx="492.1" cy="52.8" rx="20" ry="4.8" fill="none" stroke="#bf3adc" stroke-width="1.3"/>
<ellipse cx="468.5" cy="64.5" rx="10.5" ry="8.5" fill="none" stroke="#3a5ad0" stroke-width="1.3"/>
<text x="441.4" y="16.6" class="pv" textLength="11.4" lengthAdjust="spacingAndGlyphs">33.6</text>
<text x="501.3" y="26.4" class="pv" textLength="10.7" lengthAdjust="spacingAndGlyphs">17.4</text>
<text x="496" y="70.8" class="pv" textLength="10.3" lengthAdjust="spacingAndGlyphs">28.1</text>
<text x="448.3" y="79.3" class="pv" textLength="10.7" lengthAdjust="spacingAndGlyphs">10.5</text>
<text x="493.8" y="83.3" class="dl" textLength="21.2" lengthAdjust="spacingAndGlyphs">Day 30</text>
<rect x="40" y="7.1" width="79.4" height="79.1" fill="none" stroke="#8a8a8a" stroke-width="0.8"/>
<text x="40.5" y="91.5" text-anchor="middle" class="tiny">0</text>
<text x="55.3" y="91.5" text-anchor="middle" class="tiny">200</text>
<text x="70.1" y="91.5" text-anchor="middle" class="tiny">400</text>
<text x="84.8" y="91.5" text-anchor="middle" class="tiny">600</text>
<text x="99.6" y="91.5" text-anchor="middle" class="tiny">800</text>
<text x="114.4" y="91.5" text-anchor="middle" class="tiny">1000</text>
<line x1="40.5" y1="86.2" x2="40.5" y2="88.0" stroke="#444" stroke-width="0.6"/>
<line x1="43.5" y1="86.2" x2="43.5" y2="87.3" stroke="#444" stroke-width="0.6"/>
<line x1="46.4" y1="86.2" x2="46.4" y2="87.3" stroke="#444" stroke-width="0.6"/>
<line x1="49.4" y1="86.2" x2="49.4" y2="87.3" stroke="#444" stroke-width="0.6"/>
<line x1="52.3" y1="86.2" x2="52.3" y2="87.3" stroke="#444" stroke-width="0.6"/>
<line x1="55.3" y1="86.2" x2="55.3" y2="88.0" stroke="#444" stroke-width="0.6"/>
<line x1="58.2" y1="86.2" x2="58.2" y2="87.3" stroke="#444" stroke-width="0.6"/>
<line x1="61.2" y1="86.2" x2="61.2" y2="87.3" stroke="#444" stroke-width="0.6"/>
<line x1="64.1" y1="86.2" x2="64.1" y2="87.3" stroke="#444" stroke-width="0.6"/>
<line x1="67.1" y1="86.2" x2="67.1" y2="87.3" stroke="#444" stroke-width="0.6"/>
<line x1="70.1" y1="86.2" x2="70.1" y2="88.0" stroke="#444" stroke-width="0.6"/>
<line x1="73.0" y1="86.2" x2="73.0" y2="87.3" stroke="#444" stroke-width="0.6"/>
<line x1="76.0" y1="86.2" x2="76.0" y2="87.3" stroke="#444" stroke-width="0.6"/>
<line x1="78.9" y1="86.2" x2="78.9" y2="87.3" stroke="#444" stroke-width="0.6"/>
<line x1="81.9" y1="86.2" x2="81.9" y2="87.3" stroke="#444" stroke-width="0.6"/>
<line x1="84.8" y1="86.2" x2="84.8" y2="88.0" stroke="#444" stroke-width="0.6"/>
<line x1="87.8" y1="86.2" x2="87.8" y2="87.3" stroke="#444" stroke-width="0.6"/>
<line x1="90.8" y1="86.2" x2="90.8" y2="87.3" stroke="#444" stroke-width="0.6"/>
<line x1="93.7" y1="86.2" x2="93.7" y2="87.3" stroke="#444" stroke-width="0.6"/>
<line x1="96.7" y1="86.2" x2="96.7" y2="87.3" stroke="#444" stroke-width="0.6"/>
<line x1="99.6" y1="86.2" x2="99.6" y2="88.0" stroke="#444" stroke-width="0.6"/>
<line x1="102.6" y1="86.2" x2="102.6" y2="87.3" stroke="#444" stroke-width="0.6"/>
<line x1="105.5" y1="86.2" x2="105.5" y2="87.3" stroke="#444" stroke-width="0.6"/>
<line x1="108.5" y1="86.2" x2="108.5" y2="87.3" stroke="#444" stroke-width="0.6"/>
<line x1="111.4" y1="86.2" x2="111.4" y2="87.3" stroke="#444" stroke-width="0.6"/>
<line x1="114.4" y1="86.2" x2="114.4" y2="88.0" stroke="#444" stroke-width="0.6"/>
<rect x="119.4" y="7.1" width="79.6" height="79.1" fill="none" stroke="#8a8a8a" stroke-width="0.8"/>
<text x="119.9" y="91.5" text-anchor="middle" class="tiny">0</text>
<text x="134.7" y="91.5" text-anchor="middle" class="tiny">200</text>
<text x="149.5" y="91.5" text-anchor="middle" class="tiny">400</text>
<text x="164.4" y="91.5" text-anchor="middle" class="tiny">600</text>
<text x="179.2" y="91.5" text-anchor="middle" class="tiny">800</text>
<text x="194.0" y="91.5" text-anchor="middle" class="tiny">1000</text>
<line x1="119.9" y1="86.2" x2="119.9" y2="88.0" stroke="#444" stroke-width="0.6"/>
<line x1="122.9" y1="86.2" x2="122.9" y2="87.3" stroke="#444" stroke-width="0.6"/>
<line x1="125.8" y1="86.2" x2="125.8" y2="87.3" stroke="#444" stroke-width="0.6"/>
<line x1="128.8" y1="86.2" x2="128.8" y2="87.3" stroke="#444" stroke-width="0.6"/>
<line x1="131.8" y1="86.2" x2="131.8" y2="87.3" stroke="#444" stroke-width="0.6"/>
<line x1="134.7" y1="86.2" x2="134.7" y2="88.0" stroke="#444" stroke-width="0.6"/>
<line x1="137.7" y1="86.2" x2="137.7" y2="87.3" stroke="#444" stroke-width="0.6"/>
<line x1="140.6" y1="86.2" x2="140.6" y2="87.3" stroke="#444" stroke-width="0.6"/>
<line x1="143.6" y1="86.2" x2="143.6" y2="87.3" stroke="#444" stroke-width="0.6"/>
<line x1="146.6" y1="86.2" x2="146.6" y2="87.3" stroke="#444" stroke-width="0.6"/>
<line x1="149.5" y1="86.2" x2="149.5" y2="88.0" stroke="#444" stroke-width="0.6"/>
<line x1="152.5" y1="86.2" x2="152.5" y2="87.3" stroke="#444" stroke-width="0.6"/>
<line x1="155.5" y1="86.2" x2="155.5" y2="87.3" stroke="#444" stroke-width="0.6"/>
<line x1="158.4" y1="86.2" x2="158.4" y2="87.3" stroke="#444" stroke-width="0.6"/>
<line x1="161.4" y1="86.2" x2="161.4" y2="87.3" stroke="#444" stroke-width="0.6"/>
<line x1="164.4" y1="86.2" x2="164.4" y2="88.0" stroke="#444" stroke-width="0.6"/>
<line x1="167.3" y1="86.2" x2="167.3" y2="87.3" stroke="#444" stroke-width="0.6"/>
<line x1="170.3" y1="86.2" x2="170.3" y2="87.3" stroke="#444" stroke-width="0.6"/>
<line x1="173.3" y1="86.2" x2="173.3" y2="87.3" stroke="#444" stroke-width="0.6"/>
<line x1="176.2" y1="86.2" x2="176.2" y2="87.3" stroke="#444" stroke-width="0.6"/>
<line x1="179.2" y1="86.2" x2="179.2" y2="88.0" stroke="#444" stroke-width="0.6"/>
<line x1="182.1" y1="86.2" x2="182.1" y2="87.3" stroke="#444" stroke-width="0.6"/>
<line x1="185.1" y1="86.2" x2="185.1" y2="87.3" stroke="#444" stroke-width="0.6"/>
<line x1="188.1" y1="86.2" x2="188.1" y2="87.3" stroke="#444" stroke-width="0.6"/>
<line x1="191.0" y1="86.2" x2="191.0" y2="87.3" stroke="#444" stroke-width="0.6"/>
<line x1="194.0" y1="86.2" x2="194.0" y2="88.0" stroke="#444" stroke-width="0.6"/>
<rect x="199" y="7.1" width="79.8" height="79.1" fill="none" stroke="#8a8a8a" stroke-width="0.8"/>
<text x="199.5" y="91.5" text-anchor="middle" class="tiny">0</text>
<text x="214.4" y="91.5" text-anchor="middle" class="tiny">200</text>
<text x="229.2" y="91.5" text-anchor="middle" class="tiny">400</text>
<text x="244.1" y="91.5" text-anchor="middle" class="tiny">600</text>
<text x="258.9" y="91.5" text-anchor="middle" class="tiny">800</text>
<text x="273.8" y="91.5" text-anchor="middle" class="tiny">1000</text>
<line x1="199.5" y1="86.2" x2="199.5" y2="88.0" stroke="#444" stroke-width="0.6"/>
<line x1="202.5" y1="86.2" x2="202.5" y2="87.3" stroke="#444" stroke-width="0.6"/>
<line x1="205.4" y1="86.2" x2="205.4" y2="87.3" stroke="#444" stroke-width="0.6"/>
<line x1="208.4" y1="86.2" x2="208.4" y2="87.3" stroke="#444" stroke-width="0.6"/>
<line x1="211.4" y1="86.2" x2="211.4" y2="87.3" stroke="#444" stroke-width="0.6"/>
<line x1="214.4" y1="86.2" x2="214.4" y2="88.0" stroke="#444" stroke-width="0.6"/>
<line x1="217.3" y1="86.2" x2="217.3" y2="87.3" stroke="#444" stroke-width="0.6"/>
<line x1="220.3" y1="86.2" x2="220.3" y2="87.3" stroke="#444" stroke-width="0.6"/>
<line x1="223.3" y1="86.2" x2="223.3" y2="87.3" stroke="#444" stroke-width="0.6"/>
<line x1="226.2" y1="86.2" x2="226.2" y2="87.3" stroke="#444" stroke-width="0.6"/>
<line x1="229.2" y1="86.2" x2="229.2" y2="88.0" stroke="#444" stroke-width="0.6"/>
<line x1="232.2" y1="86.2" x2="232.2" y2="87.3" stroke="#444" stroke-width="0.6"/>
<line x1="235.2" y1="86.2" x2="235.2" y2="87.3" stroke="#444" stroke-width="0.6"/>
<line x1="238.1" y1="86.2" x2="238.1" y2="87.3" stroke="#444" stroke-width="0.6"/>
<line x1="241.1" y1="86.2" x2="241.1" y2="87.3" stroke="#444" stroke-width="0.6"/>
<line x1="244.1" y1="86.2" x2="244.1" y2="88.0" stroke="#444" stroke-width="0.6"/>
<line x1="247.1" y1="86.2" x2="247.1" y2="87.3" stroke="#444" stroke-width="0.6"/>
<line x1="250.0" y1="86.2" x2="250.0" y2="87.3" stroke="#444" stroke-width="0.6"/>
<line x1="253.0" y1="86.2" x2="253.0" y2="87.3" stroke="#444" stroke-width="0.6"/>
<line x1="256.0" y1="86.2" x2="256.0" y2="87.3" stroke="#444" stroke-width="0.6"/>
<line x1="258.9" y1="86.2" x2="258.9" y2="88.0" stroke="#444" stroke-width="0.6"/>
<line x1="261.9" y1="86.2" x2="261.9" y2="87.3" stroke="#444" stroke-width="0.6"/>
<line x1="264.9" y1="86.2" x2="264.9" y2="87.3" stroke="#444" stroke-width="0.6"/>
<line x1="267.9" y1="86.2" x2="267.9" y2="87.3" stroke="#444" stroke-width="0.6"/>
<line x1="270.8" y1="86.2" x2="270.8" y2="87.3" stroke="#444" stroke-width="0.6"/>
<line x1="273.8" y1="86.2" x2="273.8" y2="88.0" stroke="#444" stroke-width="0.6"/>
<rect x="278.8" y="7.1" width="79.7" height="79.1" fill="none" stroke="#8a8a8a" stroke-width="0.8"/>
<text x="279.3" y="91.5" text-anchor="middle" class="tiny">0</text>
<text x="294.1" y="91.5" text-anchor="middle" class="tiny">200</text>
<text x="309.0" y="91.5" text-anchor="middle" class="tiny">400</text>
<text x="323.8" y="91.5" text-anchor="middle" class="tiny">600</text>
<text x="338.7" y="91.5" text-anchor="middle" class="tiny">800</text>
<text x="353.5" y="91.5" text-anchor="middle" class="tiny">1000</text>
<line x1="279.3" y1="86.2" x2="279.3" y2="88.0" stroke="#444" stroke-width="0.6"/>
<line x1="282.3" y1="86.2" x2="282.3" y2="87.3" stroke="#444" stroke-width="0.6"/>
<line x1="285.2" y1="86.2" x2="285.2" y2="87.3" stroke="#444" stroke-width="0.6"/>
<line x1="288.2" y1="86.2" x2="288.2" y2="87.3" stroke="#444" stroke-width="0.6"/>
<line x1="291.2" y1="86.2" x2="291.2" y2="87.3" stroke="#444" stroke-width="0.6"/>
<line x1="294.1" y1="86.2" x2="294.1" y2="88.0" stroke="#444" stroke-width="0.6"/>
<line x1="297.1" y1="86.2" x2="297.1" y2="87.3" stroke="#444" stroke-width="0.6"/>
<line x1="300.1" y1="86.2" x2="300.1" y2="87.3" stroke="#444" stroke-width="0.6"/>
<line x1="303.0" y1="86.2" x2="303.0" y2="87.3" stroke="#444" stroke-width="0.6"/>
<line x1="306.0" y1="86.2" x2="306.0" y2="87.3" stroke="#444" stroke-width="0.6"/>
<line x1="309.0" y1="86.2" x2="309.0" y2="88.0" stroke="#444" stroke-width="0.6"/>
<line x1="311.9" y1="86.2" x2="311.9" y2="87.3" stroke="#444" stroke-width="0.6"/>
<line x1="314.9" y1="86.2" x2="314.9" y2="87.3" stroke="#444" stroke-width="0.6"/>
<line x1="317.9" y1="86.2" x2="317.9" y2="87.3" stroke="#444" stroke-width="0.6"/>
<line x1="320.9" y1="86.2" x2="320.9" y2="87.3" stroke="#444" stroke-width="0.6"/>
<line x1="323.8" y1="86.2" x2="323.8" y2="88.0" stroke="#444" stroke-width="0.6"/>
<line x1="326.8" y1="86.2" x2="326.8" y2="87.3" stroke="#444" stroke-width="0.6"/>
<line x1="329.8" y1="86.2" x2="329.8" y2="87.3" stroke="#444" stroke-width="0.6"/>
<line x1="332.7" y1="86.2" x2="332.7" y2="87.3" stroke="#444" stroke-width="0.6"/>
<line x1="335.7" y1="86.2" x2="335.7" y2="87.3" stroke="#444" stroke-width="0.6"/>
<line x1="338.7" y1="86.2" x2="338.7" y2="88.0" stroke="#444" stroke-width="0.6"/>
<line x1="341.6" y1="86.2" x2="341.6" y2="87.3" stroke="#444" stroke-width="0.6"/>
<line x1="344.6" y1="86.2" x2="344.6" y2="87.3" stroke="#444" stroke-width="0.6"/>
<line x1="347.6" y1="86.2" x2="347.6" y2="87.3" stroke="#444" stroke-width="0.6"/>
<line x1="350.5" y1="86.2" x2="350.5" y2="87.3" stroke="#444" stroke-width="0.6"/>
<line x1="353.5" y1="86.2" x2="353.5" y2="88.0" stroke="#444" stroke-width="0.6"/>
<rect x="358.5" y="7.1" width="79.7" height="79.1" fill="none" stroke="#8a8a8a" stroke-width="0.8"/>
<text x="359.0" y="91.5" text-anchor="middle" class="tiny">0</text>
<text x="373.8" y="91.5" text-anchor="middle" class="tiny">200</text>
<text x="388.7" y="91.5" text-anchor="middle" class="tiny">400</text>
<text x="403.5" y="91.5" text-anchor="middle" class="tiny">600</text>
<text x="418.4" y="91.5" text-anchor="middle" class="tiny">800</text>
<text x="433.2" y="91.5" text-anchor="middle" class="tiny">1000</text>
<line x1="359.0" y1="86.2" x2="359.0" y2="88.0" stroke="#444" stroke-width="0.6"/>
<line x1="362.0" y1="86.2" x2="362.0" y2="87.3" stroke="#444" stroke-width="0.6"/>
<line x1="364.9" y1="86.2" x2="364.9" y2="87.3" stroke="#444" stroke-width="0.6"/>
<line x1="367.9" y1="86.2" x2="367.9" y2="87.3" stroke="#444" stroke-width="0.6"/>
<line x1="370.9" y1="86.2" x2="370.9" y2="87.3" stroke="#444" stroke-width="0.6"/>
<line x1="373.8" y1="86.2" x2="373.8" y2="88.0" stroke="#444" stroke-width="0.6"/>
<line x1="376.8" y1="86.2" x2="376.8" y2="87.3" stroke="#444" stroke-width="0.6"/>
<line x1="379.8" y1="86.2" x2="379.8" y2="87.3" stroke="#444" stroke-width="0.6"/>
<line x1="382.7" y1="86.2" x2="382.7" y2="87.3" stroke="#444" stroke-width="0.6"/>
<line x1="385.7" y1="86.2" x2="385.7" y2="87.3" stroke="#444" stroke-width="0.6"/>
<line x1="388.7" y1="86.2" x2="388.7" y2="88.0" stroke="#444" stroke-width="0.6"/>
<line x1="391.6" y1="86.2" x2="391.6" y2="87.3" stroke="#444" stroke-width="0.6"/>
<line x1="394.6" y1="86.2" x2="394.6" y2="87.3" stroke="#444" stroke-width="0.6"/>
<line x1="397.6" y1="86.2" x2="397.6" y2="87.3" stroke="#444" stroke-width="0.6"/>
<line x1="400.6" y1="86.2" x2="400.6" y2="87.3" stroke="#444" stroke-width="0.6"/>
<line x1="403.5" y1="86.2" x2="403.5" y2="88.0" stroke="#444" stroke-width="0.6"/>
<line x1="406.5" y1="86.2" x2="406.5" y2="87.3" stroke="#444" stroke-width="0.6"/>
<line x1="409.5" y1="86.2" x2="409.5" y2="87.3" stroke="#444" stroke-width="0.6"/>
<line x1="412.4" y1="86.2" x2="412.4" y2="87.3" stroke="#444" stroke-width="0.6"/>
<line x1="415.4" y1="86.2" x2="415.4" y2="87.3" stroke="#444" stroke-width="0.6"/>
<line x1="418.4" y1="86.2" x2="418.4" y2="88.0" stroke="#444" stroke-width="0.6"/>
<line x1="421.3" y1="86.2" x2="421.3" y2="87.3" stroke="#444" stroke-width="0.6"/>
<line x1="424.3" y1="86.2" x2="424.3" y2="87.3" stroke="#444" stroke-width="0.6"/>
<line x1="427.3" y1="86.2" x2="427.3" y2="87.3" stroke="#444" stroke-width="0.6"/>
<line x1="430.2" y1="86.2" x2="430.2" y2="87.3" stroke="#444" stroke-width="0.6"/>
<line x1="433.2" y1="86.2" x2="433.2" y2="88.0" stroke="#444" stroke-width="0.6"/>
<rect x="438.2" y="7.1" width="79.4" height="79.1" fill="none" stroke="#8a8a8a" stroke-width="0.8"/>
<text x="438.7" y="91.5" text-anchor="middle" class="tiny">0</text>
<text x="453.5" y="91.5" text-anchor="middle" class="tiny">200</text>
<text x="468.3" y="91.5" text-anchor="middle" class="tiny">400</text>
<text x="483.0" y="91.5" text-anchor="middle" class="tiny">600</text>
<text x="497.8" y="91.5" text-anchor="middle" class="tiny">800</text>
<text x="512.6" y="91.5" text-anchor="middle" class="tiny">1000</text>
<line x1="438.7" y1="86.2" x2="438.7" y2="88.0" stroke="#444" stroke-width="0.6"/>
<line x1="441.7" y1="86.2" x2="441.7" y2="87.3" stroke="#444" stroke-width="0.6"/>
<line x1="444.6" y1="86.2" x2="444.6" y2="87.3" stroke="#444" stroke-width="0.6"/>
<line x1="447.6" y1="86.2" x2="447.6" y2="87.3" stroke="#444" stroke-width="0.6"/>
<line x1="450.5" y1="86.2" x2="450.5" y2="87.3" stroke="#444" stroke-width="0.6"/>
<line x1="453.5" y1="86.2" x2="453.5" y2="88.0" stroke="#444" stroke-width="0.6"/>
<line x1="456.4" y1="86.2" x2="456.4" y2="87.3" stroke="#444" stroke-width="0.6"/>
<line x1="459.4" y1="86.2" x2="459.4" y2="87.3" stroke="#444" stroke-width="0.6"/>
<line x1="462.3" y1="86.2" x2="462.3" y2="87.3" stroke="#444" stroke-width="0.6"/>
<line x1="465.3" y1="86.2" x2="465.3" y2="87.3" stroke="#444" stroke-width="0.6"/>
<line x1="468.3" y1="86.2" x2="468.3" y2="88.0" stroke="#444" stroke-width="0.6"/>
<line x1="471.2" y1="86.2" x2="471.2" y2="87.3" stroke="#444" stroke-width="0.6"/>
<line x1="474.2" y1="86.2" x2="474.2" y2="87.3" stroke="#444" stroke-width="0.6"/>
<line x1="477.1" y1="86.2" x2="477.1" y2="87.3" stroke="#444" stroke-width="0.6"/>
<line x1="480.1" y1="86.2" x2="480.1" y2="87.3" stroke="#444" stroke-width="0.6"/>
<line x1="483.0" y1="86.2" x2="483.0" y2="88.0" stroke="#444" stroke-width="0.6"/>
<line x1="486.0" y1="86.2" x2="486.0" y2="87.3" stroke="#444" stroke-width="0.6"/>
<line x1="489.0" y1="86.2" x2="489.0" y2="87.3" stroke="#444" stroke-width="0.6"/>
<line x1="491.9" y1="86.2" x2="491.9" y2="87.3" stroke="#444" stroke-width="0.6"/>
<line x1="494.9" y1="86.2" x2="494.9" y2="87.3" stroke="#444" stroke-width="0.6"/>
<line x1="497.8" y1="86.2" x2="497.8" y2="88.0" stroke="#444" stroke-width="0.6"/>
<line x1="500.8" y1="86.2" x2="500.8" y2="87.3" stroke="#444" stroke-width="0.6"/>
<line x1="503.7" y1="86.2" x2="503.7" y2="87.3" stroke="#444" stroke-width="0.6"/>
<line x1="506.7" y1="86.2" x2="506.7" y2="87.3" stroke="#444" stroke-width="0.6"/>
<line x1="509.6" y1="86.2" x2="509.6" y2="87.3" stroke="#444" stroke-width="0.6"/>
<line x1="512.6" y1="86.2" x2="512.6" y2="88.0" stroke="#444" stroke-width="0.6"/>
<text transform="translate(37.6,85.9) rotate(-90)" class="tiny" text-anchor="middle">10<tspan dy="-1" style="font-size:2px">0</tspan></text>
<text transform="translate(37.6,67.5) rotate(-90)" class="tiny" text-anchor="middle">10<tspan dy="-1" style="font-size:2px">1</tspan></text>
<text transform="translate(37.6,48.3) rotate(-90)" class="tiny" text-anchor="middle">10<tspan dy="-1" style="font-size:2px">2</tspan></text>
<text transform="translate(37.6,29.1) rotate(-90)" class="tiny" text-anchor="middle">10<tspan dy="-1" style="font-size:2px">3</tspan></text>
<text transform="translate(37.6,10.5) rotate(-90)" class="tiny" text-anchor="middle">10<tspan dy="-1" style="font-size:2px">4</tspan></text>
<line x1="38.4" y1="9.0" x2="40" y2="9.0" stroke="#555" stroke-width="0.5"/>
<line x1="39.1" y1="12.1" x2="40" y2="12.1" stroke="#555" stroke-width="0.5"/>
<line x1="39.1" y1="15.3" x2="40" y2="15.3" stroke="#555" stroke-width="0.5"/>
<line x1="39.1" y1="18.4" x2="40" y2="18.4" stroke="#555" stroke-width="0.5"/>
<line x1="39.1" y1="21.6" x2="40" y2="21.6" stroke="#555" stroke-width="0.5"/>
<line x1="39.1" y1="24.7" x2="40" y2="24.7" stroke="#555" stroke-width="0.5"/>
<line x1="38.4" y1="27.9" x2="40" y2="27.9" stroke="#555" stroke-width="0.5"/>
<line x1="39.1" y1="31.0" x2="40" y2="31.0" stroke="#555" stroke-width="0.5"/>
<line x1="39.1" y1="34.1" x2="40" y2="34.1" stroke="#555" stroke-width="0.5"/>
<line x1="39.1" y1="37.3" x2="40" y2="37.3" stroke="#555" stroke-width="0.5"/>
<line x1="39.1" y1="40.4" x2="40" y2="40.4" stroke="#555" stroke-width="0.5"/>
<line x1="39.1" y1="43.6" x2="40" y2="43.6" stroke="#555" stroke-width="0.5"/>
<line x1="38.4" y1="46.7" x2="40" y2="46.7" stroke="#555" stroke-width="0.5"/>
<line x1="39.1" y1="49.8" x2="40" y2="49.8" stroke="#555" stroke-width="0.5"/>
<line x1="39.1" y1="53.0" x2="40" y2="53.0" stroke="#555" stroke-width="0.5"/>
<line x1="39.1" y1="56.1" x2="40" y2="56.1" stroke="#555" stroke-width="0.5"/>
<line x1="39.1" y1="59.3" x2="40" y2="59.3" stroke="#555" stroke-width="0.5"/>
<line x1="39.1" y1="62.4" x2="40" y2="62.4" stroke="#555" stroke-width="0.5"/>
<line x1="38.4" y1="65.6" x2="40" y2="65.6" stroke="#555" stroke-width="0.5"/>
<line x1="39.1" y1="68.7" x2="40" y2="68.7" stroke="#555" stroke-width="0.5"/>
<line x1="39.1" y1="71.8" x2="40" y2="71.8" stroke="#555" stroke-width="0.5"/>
<line x1="39.1" y1="75.0" x2="40" y2="75.0" stroke="#555" stroke-width="0.5"/>
<line x1="39.1" y1="78.1" x2="40" y2="78.1" stroke="#555" stroke-width="0.5"/>
<line x1="39.1" y1="81.3" x2="40" y2="81.3" stroke="#555" stroke-width="0.5"/>
<line x1="38.4" y1="84.4" x2="40" y2="84.4" stroke="#555" stroke-width="0.5"/>
<line x1="26" y1="11" x2="26" y2="37.5" stroke="#8a8a8a" stroke-width="1"/>
<line x1="26" y1="55" x2="26" y2="86" stroke="#8a8a8a" stroke-width="1"/>
<path d="M26,7 L28,12.5 L24,12.5 Z" fill="#222"/>
<text transform="translate(27.9,46.5) rotate(-90)" text-anchor="middle" class="axs">SSC</text>
<line x1="40.3" y1="100.5" x2="269" y2="100.5" stroke="#8a8a8a" stroke-width="1"/>
<line x1="289" y1="100.5" x2="513" y2="100.5" stroke="#8a8a8a" stroke-width="1"/>
<path d="M517.8,100.5 L512.5,98.3 L512.5,102.7 Z" fill="#222"/>
<text x="279.2" y="103.1" text-anchor="middle" class="axs">FSC</text>
<line x1="40" y1="294.0" x2="345" y2="294.0" stroke="#e6e6e6" stroke-width="0.8"/>
<line x1="40" y1="264.7" x2="345" y2="264.7" stroke="#e6e6e6" stroke-width="0.8"/>
<line x1="40" y1="235.4" x2="345" y2="235.4" stroke="#e6e6e6" stroke-width="0.8"/>
<line x1="40" y1="206.2" x2="345" y2="206.2" stroke="#e6e6e6" stroke-width="0.8"/>
<line x1="40" y1="176.9" x2="345" y2="176.9" stroke="#e6e6e6" stroke-width="0.8"/>
<line x1="40" y1="147.6" x2="345" y2="147.6" stroke="#e6e6e6" stroke-width="0.8"/>
<line x1="40" y1="118.3" x2="345" y2="118.3" stroke="#e6e6e6" stroke-width="0.8"/>
<line x1="40" y1="323.3" x2="345" y2="323.3" stroke="#dcdcdc" stroke-width="0.8"/>
<line x1="39.5" y1="118.3" x2="39.5" y2="323.3" stroke="#f0f0f0" stroke-width="0.8"/>
<line x1="345" y1="118.3" x2="345" y2="323.3" stroke="#e4e4e4" stroke-width="0.8"/>
<text x="32.5" y="325.9" text-anchor="end" class="tk">0</text>
<text x="32.5" y="296.6" text-anchor="end" class="tk">10</text>
<text x="32.5" y="267.3" text-anchor="end" class="tk">20</text>
<text x="32.5" y="238.0" text-anchor="end" class="tk">30</text>
<text x="32.5" y="208.8" text-anchor="end" class="tk">40</text>
<text x="32.5" y="179.5" text-anchor="end" class="tk">50</text>
<text x="32.5" y="150.2" text-anchor="end" class="tk">60</text>
<text x="32.5" y="120.9" text-anchor="end" class="tk">70</text>
<text x="51.5" y="335.3" text-anchor="middle" class="tk">0</text>
<text x="74.9" y="335.3" text-anchor="middle" class="tk">1</text>
<text x="98.3" y="335.3" text-anchor="middle" class="tk">2</text>
<text x="121.7" y="335.3" text-anchor="middle" class="tk">3</text>
<text x="145.1" y="335.3" text-anchor="middle" class="tk">4</text>
<text x="168.5" y="335.3" text-anchor="middle" class="tk">5</text>
<text x="191.9" y="335.3" text-anchor="middle" class="tk">6</text>
<text x="215.3" y="335.3" text-anchor="middle" class="tk">7</text>
<text x="238.7" y="335.3" text-anchor="middle" class="tk">8</text>
<text x="262.1" y="335.3" text-anchor="middle" class="tk">10</text>
<text x="285.5" y="335.3" text-anchor="middle" class="tk">12</text>
<text x="308.9" y="335.3" text-anchor="middle" class="tk">14</text>
<text x="332.3" y="335.3" text-anchor="middle" class="tk">30</text>
<path d="M319.3,326 L321.3,321.2 M321.9,326 L323.9,321.2" stroke="#888" stroke-width="0.75"/>
<polyline points="51.5,271.0 74.9,306.9 98.3,313.7 121.7,320.8 145.1,318.1 168.5,320.0 191.9,322.9 215.3,316.2 238.7,309.3 262.1,313.4 285.5,304.0 308.9,283.3 332.3,231.9" fill="none" stroke="#3b64cc" stroke-width="1.1"/>
<circle cx="51.5" cy="271.0" r="1.2" fill="#2a48a0"/>
<circle cx="74.9" cy="306.9" r="1.2" fill="#2a48a0"/>
<circle cx="98.3" cy="313.7" r="1.2" fill="#2a48a0"/>
<circle cx="121.7" cy="320.8" r="1.2" fill="#2a48a0"/>
<circle cx="145.1" cy="318.1" r="1.2" fill="#2a48a0"/>
<circle cx="168.5" cy="320.0" r="1.2" fill="#2a48a0"/>
<circle cx="191.9" cy="322.9" r="1.2" fill="#2a48a0"/>
<circle cx="215.3" cy="316.2" r="1.2" fill="#2a48a0"/>
<circle cx="238.7" cy="309.3" r="1.2" fill="#2a48a0"/>
<circle cx="262.1" cy="313.4" r="1.2" fill="#2a48a0"/>
<circle cx="285.5" cy="304.0" r="1.2" fill="#2a48a0"/>
<circle cx="308.9" cy="283.3" r="1.2" fill="#2a48a0"/>
<circle cx="332.3" cy="231.9" r="1.2" fill="#2a48a0"/>
<polyline points="51.5,216.8 74.9,228.0 98.3,283.8 121.7,301.5 145.1,312.7 168.5,293.7 191.9,317.1 215.3,313.3 238.7,287.4 262.1,296.8 285.5,272.7 308.9,233.2 332.3,168.2" fill="none" stroke="#5ad23c" stroke-width="1.1"/>
<circle cx="51.5" cy="216.8" r="1.2" fill="#3aa82a"/>
<circle cx="74.9" cy="228.0" r="1.2" fill="#3aa82a"/>
<circle cx="98.3" cy="283.8" r="1.2" fill="#3aa82a"/>
<circle cx="121.7" cy="301.5" r="1.2" fill="#3aa82a"/>
<circle cx="145.1" cy="312.7" r="1.2" fill="#3aa82a"/>
<circle cx="168.5" cy="293.7" r="1.2" fill="#3aa82a"/>
<circle cx="191.9" cy="317.1" r="1.2" fill="#3aa82a"/>
<circle cx="215.3" cy="313.3" r="1.2" fill="#3aa82a"/>
<circle cx="238.7" cy="287.4" r="1.2" fill="#3aa82a"/>
<circle cx="262.1" cy="296.8" r="1.2" fill="#3aa82a"/>
<circle cx="285.5" cy="272.7" r="1.2" fill="#3aa82a"/>
<circle cx="308.9" cy="233.2" r="1.2" fill="#3aa82a"/>
<circle cx="332.3" cy="168.2" r="1.2" fill="#3aa82a"/>
<polyline points="51.5,296.7 74.9,319.8 98.3,316.5 121.7,322.3 145.1,322.3 168.5,318.5 191.9,318.0 215.3,312.3 238.7,287.4 262.1,292.1 285.5,275.8 308.9,253.9 332.3,136.0" fill="none" stroke="#c43fd4" stroke-width="1.1"/>
<circle cx="51.5" cy="296.7" r="1.2" fill="#8e2a98"/>
<circle cx="74.9" cy="319.8" r="1.2" fill="#8e2a98"/>
<circle cx="98.3" cy="316.5" r="1.2" fill="#8e2a98"/>
<circle cx="121.7" cy="322.3" r="1.2" fill="#8e2a98"/>
<circle cx="145.1" cy="322.3" r="1.2" fill="#8e2a98"/>
<circle cx="168.5" cy="318.5" r="1.2" fill="#8e2a98"/>
<circle cx="191.9" cy="318.0" r="1.2" fill="#8e2a98"/>
<circle cx="215.3" cy="312.3" r="1.2" fill="#8e2a98"/>
<circle cx="238.7" cy="287.4" r="1.2" fill="#8e2a98"/>
<circle cx="262.1" cy="292.1" r="1.2" fill="#8e2a98"/>
<circle cx="285.5" cy="275.8" r="1.2" fill="#8e2a98"/>
<circle cx="308.9" cy="253.9" r="1.2" fill="#8e2a98"/>
<circle cx="332.3" cy="136.0" r="1.2" fill="#8e2a98"/>
<rect x="58.3" y="132.4" width="54.3" height="31.9" fill="#fff" stroke="#eeeeee" stroke-width="0.6"/>
<line x1="61.8" y1="138.5" x2="73.6" y2="138.5" stroke="#5ad23c" stroke-width="0.9"/>
<circle cx="67.8" cy="138.5" r="1.1" fill="#3aa82a"/>
<text x="78.9" y="140.7" class="lg">Myeloid</text>
<line x1="61.8" y1="148.6" x2="73.6" y2="148.6" stroke="#3b64cc" stroke-width="0.9"/>
<circle cx="67.8" cy="148.6" r="1.1" fill="#2a48a0"/>
<text x="78.9" y="150.8" class="lg">Lymphoid</text>
<line x1="61.8" y1="158.6" x2="73.6" y2="158.6" stroke="#c43fd4" stroke-width="0.9"/>
<circle cx="67.8" cy="158.6" r="1.1" fill="#8e2a98"/>
<text x="78.9" y="160.8" class="lg">Precursor</text>
<text x="127.7" y="348.4" class="ax" style="font-size:10px" textLength="132" lengthAdjust="spacingAndGlyphs">Days After Irradiation (20 Gy)</text>
<text transform="translate(12.5,277) rotate(-90)" class="ax9" style="font-size:8.6px" textLength="108" lengthAdjust="spacingAndGlyphs">Total Cell Number (x10<tspan dy="-3" style="font-size:5.5px">4</tspan><tspan dy="3">)</tspan></text>
<defs><filter id="hz" x="-20%" y="-20%" width="140%" height="140%"><feGaussianBlur stdDeviation="2"/></filter><filter id="sb" x="-5%" y="-5%" width="110%" height="110%"><feGaussianBlur stdDeviation="0.45"/></filter><filter id="sb2" x="-5%" y="-5%" width="110%" height="110%"><feGaussianBlur stdDeviation="0.7"/></filter></defs><clipPath id="ct"><rect x="380" y="118.5" width="137.4" height="102.6"/></clipPath><clipPath id="cb"><rect x="380.4" y="221.1" width="137" height="102.5"/></clipPath><g clip-path="url(#ct)"><g filter="url(#hz)"><ellipse cx="398.0" cy="140.0" rx="12" ry="12" fill="#e4def6" opacity="0.9"/><ellipse cx="392.0" cy="172.0" rx="12" ry="14" fill="#e4def6" opacity="0.9"/><ellipse cx="398.0" cy="205.0" rx="14" ry="12" fill="#e4def6" opacity="0.9"/><ellipse cx="425.0" cy="175.0" rx="12" ry="10" fill="#e4def6" opacity="0.9"/><ellipse cx="440.0" cy="205.0" rx="8" ry="10" fill="#e4def6" opacity="0.9"/><ellipse cx="423.0" cy="128.0" rx="10" ry="8" fill="#e4def6" opacity="0.9"/><ellipse cx="455.0" cy="135.0" rx="8" ry="8" fill="#e4def6" opacity="0.9"/><ellipse cx="500.0" cy="150.0" rx="12" ry="8" fill="#e4def6" opacity="0.9"/><ellipse cx="505.0" cy="200.0" rx="10" ry="10" fill="#e4def6" opacity="0.9"/><ellipse cx="470.0" cy="200.0" rx="8" ry="8" fill="#e4def6" opacity="0.9"/><ellipse cx="470.0" cy="170.0" rx="8" ry="8" fill="#e4def6" opacity="0.9"/><ellipse cx="440.0" cy="145.0" rx="6" ry="6" fill="#e4def6" opacity="0.9"/><ellipse cx="401.0" cy="124.0" rx="6" ry="4.5" fill="#cfe2f6" opacity="0.95"/><ellipse cx="405.0" cy="170.0" rx="4" ry="4" fill="#cfe2f6" opacity="0.95"/><ellipse cx="390.0" cy="180.0" rx="6" ry="4.5" fill="#cfe2f6" opacity="0.95"/><ellipse cx="409.0" cy="217.0" rx="6" ry="4" fill="#cfe2f6" opacity="0.95"/><ellipse cx="440.0" cy="170.0" rx="7" ry="7" fill="#cfe2f6" opacity="0.95"/><ellipse cx="451.0" cy="147.0" rx="5" ry="4" fill="#cfe2f6" opacity="0.95"/><ellipse cx="510.0" cy="149.0" rx="6" ry="5" fill="#cfe2f6" opacity="0.95"/><ellipse cx="508.0" cy="201.0" rx="9" ry="9" fill="#cfe2f6" opacity="0.95"/><ellipse cx="388.0" cy="150.0" rx="4" ry="3.5" fill="#cfe2f6" opacity="0.95"/><ellipse cx="405.0" cy="145.0" rx="4" ry="3.5" fill="#cfe2f6" opacity="0.95"/><ellipse cx="430.5" cy="207.0" rx="4.5" ry="4.5" fill="#cfe2f6" opacity="0.95"/><ellipse cx="435.5" cy="151.0" rx="3.5" ry="3" fill="#cfe2f6" opacity="0.95"/><ellipse cx="474.7" cy="196.5" rx="4.5" ry="3.5" fill="#cfe2f6" opacity="0.95"/><ellipse cx="461.2" cy="213.0" rx="3.5" ry="4.5" fill="#cfe2f6" opacity="0.95"/><ellipse cx="468.5" cy="187.0" rx="3.5" ry="3.5" fill="#cfe2f6" opacity="0.95"/></g><g filter="url(#sb)"><ellipse cx="468.9" cy="210.8" rx="3.3" ry="2.3" fill="#b49ee2" opacity="0.75" transform="rotate(59 468.9 210.8)"/><ellipse cx="458.6" cy="119.4" rx="3.0" ry="3.1" fill="#aa92dc" opacity="0.75" transform="rotate(19 458.6 119.4)"/><ellipse cx="402.7" cy="135.1" rx="2.8" ry="3.1" fill="#aa92dc" opacity="0.75" transform="rotate(80 402.7 135.1)"/><ellipse cx="404.9" cy="217.8" rx="4.1" ry="2.5" fill="#c0acea" opacity="0.75" transform="rotate(-75 404.9 217.8)"/><ellipse cx="436.8" cy="214.4" rx="3.1" ry="3.0" fill="#b49ee2" opacity="0.75" transform="rotate(70 436.8 214.4)"/><ellipse cx="461.6" cy="190.9" rx="3.1" ry="2.4" fill="#aa92dc" opacity="0.75"/><ellipse cx="387.8" cy="218.4" rx="3.8" ry="3.0" fill="#a68cd8" opacity="0.75" transform="rotate(-76 387.8 218.4)"/><ellipse cx="404.8" cy="216.4" rx="3.8" ry="3.1" fill="#c0acea" opacity="0.75" transform="rotate(38 404.8 216.4)"/><ellipse cx="450.2" cy="209.9" rx="3.3" ry="2.7" fill="#c0acea" opacity="0.75" transform="rotate(14 450.2 209.9)"/><ellipse cx="385.0" cy="215.4" rx="3.1" ry="2.7" fill="#c0acea" opacity="0.75" transform="rotate(-43 385.0 215.4)"/><ellipse cx="417.8" cy="190.4" rx="3.7" ry="2.4" fill="#aa92dc" opacity="0.75" transform="rotate(-60 417.8 190.4)"/><ellipse cx="462.3" cy="213.1" rx="3.8" ry="2.4" fill="#bcd2f2" opacity="0.75" transform="rotate(-16 462.3 213.1)"/><ellipse cx="489.8" cy="152.4" rx="4.2" ry="2.7" fill="#bcd2f2" opacity="0.75" transform="rotate(-47 489.8 152.4)"/><ellipse cx="394.6" cy="162.8" rx="3.9" ry="2.4" fill="#a68cd8" opacity="0.75" transform="rotate(36 394.6 162.8)"/><ellipse cx="448.4" cy="152.9" rx="3.0" ry="2.9" fill="#c0acea" opacity="0.75" transform="rotate(48 448.4 152.9)"/><ellipse cx="388.6" cy="199.9" rx="3.5" ry="2.0" fill="#c0acea" opacity="0.75" transform="rotate(-2 388.6 199.9)"/><ellipse cx="416.3" cy="219.0" rx="4.1" ry="2.4" fill="#a68cd8" opacity="0.75" transform="rotate(-35 416.3 219.0)"/><ellipse cx="424.6" cy="146.2" rx="3.4" ry="2.8" fill="#c0acea" opacity="0.75" transform="rotate(11 424.6 146.2)"/><ellipse cx="436.0" cy="213.0" rx="4.0" ry="2.5" fill="#c0acea" opacity="0.75" transform="rotate(13 436.0 213.0)"/><ellipse cx="451.0" cy="172.5" rx="3.9" ry="3.1" fill="#c0acea" opacity="0.75" transform="rotate(42 451.0 172.5)"/><ellipse cx="403.5" cy="198.4" rx="3.6" ry="2.5" fill="#a68cd8" opacity="0.75" transform="rotate(79 403.5 198.4)"/><ellipse cx="383.8" cy="134.5" rx="3.6" ry="2.3" fill="#b49ee2" opacity="0.75" transform="rotate(-34 383.8 134.5)"/><ellipse cx="515.1" cy="218.9" rx="4.0" ry="2.1" fill="#bcd2f2" opacity="0.75" transform="rotate(-34 515.1 218.9)"/><ellipse cx="406.5" cy="121.7" rx="3.1" ry="2.7" fill="#aa92dc" opacity="0.75" transform="rotate(71 406.5 121.7)"/><ellipse cx="412.6" cy="211.0" rx="3.2" ry="2.3" fill="#b49ee2" opacity="0.75" transform="rotate(24 412.6 211.0)"/><ellipse cx="455.3" cy="149.0" rx="3.4" ry="3.1" fill="#c0acea" opacity="0.75" transform="rotate(-5 455.3 149.0)"/><ellipse cx="468.0" cy="156.1" rx="3.5" ry="2.7" fill="#aa92dc" opacity="0.75" transform="rotate(-30 468.0 156.1)"/><ellipse cx="457.5" cy="181.4" rx="3.6" ry="3.1" fill="#bcd2f2" opacity="0.75" transform="rotate(16 457.5 181.4)"/><ellipse cx="419.9" cy="218.2" rx="4.1" ry="3.1" fill="#a68cd8" opacity="0.75" transform="rotate(72 419.9 218.2)"/><ellipse cx="415.6" cy="219.0" rx="3.2" ry="2.4" fill="#bcd2f2" opacity="0.75" transform="rotate(-2 415.6 219.0)"/><ellipse cx="413.6" cy="122.1" rx="3.2" ry="2.6" fill="#c0acea" opacity="0.75" transform="rotate(63 413.6 122.1)"/><ellipse cx="413.4" cy="166.9" rx="3.3" ry="3.0" fill="#c0acea" opacity="0.75" transform="rotate(-7 413.4 166.9)"/><ellipse cx="418.7" cy="190.9" rx="3.7" ry="2.0" fill="#c0acea" opacity="0.75" transform="rotate(9 418.7 190.9)"/><ellipse cx="473.4" cy="201.7" rx="2.5" ry="2.7" fill="#a68cd8" opacity="0.75" transform="rotate(-53 473.4 201.7)"/><ellipse cx="406.2" cy="162.3" rx="3.5" ry="2.8" fill="#bcd2f2" opacity="0.75" transform="rotate(43 406.2 162.3)"/><ellipse cx="483.9" cy="149.3" rx="3.8" ry="2.7" fill="#c0acea" opacity="0.75" transform="rotate(40 483.9 149.3)"/><ellipse cx="399.5" cy="167.3" rx="3.3" ry="2.4" fill="#bcd2f2" opacity="0.75" transform="rotate(-41 399.5 167.3)"/><ellipse cx="460.3" cy="201.6" rx="2.9" ry="3.0" fill="#b49ee2" opacity="0.75" transform="rotate(-64 460.3 201.6)"/><ellipse cx="425.6" cy="162.2" rx="3.2" ry="2.6" fill="#b49ee2" opacity="0.75" transform="rotate(-49 425.6 162.2)"/><ellipse cx="420.1" cy="212.6" rx="3.5" ry="2.5" fill="#b49ee2" opacity="0.75" transform="rotate(-39 420.1 212.6)"/><ellipse cx="465.3" cy="122.5" rx="3.1" ry="2.1" fill="#a68cd8" opacity="0.75" transform="rotate(-66 465.3 122.5)"/><ellipse cx="398.4" cy="162.5" rx="3.5" ry="2.6" fill="#b49ee2" opacity="0.75" transform="rotate(15 398.4 162.5)"/><ellipse cx="398.9" cy="148.4" rx="3.7" ry="2.3" fill="#a68cd8" opacity="0.75" transform="rotate(62 398.9 148.4)"/><ellipse cx="414.8" cy="195.3" rx="2.7" ry="2.3" fill="#bcd2f2" opacity="0.75" transform="rotate(15 414.8 195.3)"/><ellipse cx="477.7" cy="185.5" rx="3.6" ry="2.1" fill="#a68cd8" opacity="0.75" transform="rotate(-49 477.7 185.5)"/><ellipse cx="387.0" cy="133.0" rx="4.4" ry="3.3" fill="#9e80d6" opacity="0.9" transform="rotate(30 387.0 133.0)"/><ellipse cx="395.0" cy="142.0" rx="5.5" ry="3.9" fill="#9e80d6" opacity="0.9" transform="rotate(-20 395.0 142.0)"/><ellipse cx="403.0" cy="132.0" rx="5.5" ry="3.9" fill="#9e80d6" opacity="0.9" transform="rotate(10 403.0 132.0)"/><ellipse cx="391.0" cy="145.0" rx="5.0" ry="3.3" fill="#9e80d6" opacity="0.9" transform="rotate(50 391.0 145.0)"/><ellipse cx="385.0" cy="148.0" rx="4.4" ry="3.3" fill="#9e80d6" opacity="0.9"/><ellipse cx="393.5" cy="171.5" rx="3.9" ry="3.9" fill="#9e80d6" opacity="0.9"/><ellipse cx="408.0" cy="175.0" rx="5.5" ry="5.0" fill="#9e80d6" opacity="0.9" transform="rotate(30 408.0 175.0)"/><ellipse cx="412.5" cy="165.0" rx="3.3" ry="5.5" fill="#9e80d6" opacity="0.9"/><ellipse cx="383.0" cy="180.0" rx="3.3" ry="5.0" fill="#9e80d6" opacity="0.9"/><ellipse cx="391.0" cy="196.0" rx="5.5" ry="4.4" fill="#9e80d6" opacity="0.9" transform="rotate(20 391.0 196.0)"/><ellipse cx="389.5" cy="210.5" rx="3.9" ry="3.3" fill="#9e80d6" opacity="0.9"/><ellipse cx="411.5" cy="206.0" rx="3.3" ry="5.5" fill="#9e80d6" opacity="0.9"/><ellipse cx="382.5" cy="189.0" rx="2.8" ry="4.4" fill="#9e80d6" opacity="0.9"/><ellipse cx="398.8" cy="190.0" rx="5.3" ry="3.3" fill="#9e80d6" opacity="0.9"/><ellipse cx="382.0" cy="208.6" rx="2.2" ry="3.3" fill="#9e80d6" opacity="0.9"/><ellipse cx="415.5" cy="121.0" rx="2.8" ry="3.3" fill="#9e80d6" opacity="0.9"/><ellipse cx="423.0" cy="129.5" rx="3.3" ry="3.9" fill="#9e80d6" opacity="0.9"/><ellipse cx="439.5" cy="127.0" rx="2.8" ry="7.7" fill="#9e80d6" opacity="0.9" transform="rotate(10 439.5 127.0)"/><ellipse cx="445.0" cy="121.0" rx="3.3" ry="3.3" fill="#9e80d6" opacity="0.9"/><ellipse cx="429.0" cy="172.0" rx="9.9" ry="4.6" fill="#9e80d6" opacity="0.9" transform="rotate(-10 429.0 172.0)"/><ellipse cx="418.0" cy="180.0" rx="6.1" ry="6.1" fill="#9e80d6" opacity="0.9" transform="rotate(30 418.0 180.0)"/><ellipse cx="414.5" cy="162.0" rx="1.7" ry="4.4" fill="#9e80d6" opacity="0.9"/><ellipse cx="437.0" cy="200.0" rx="3.9" ry="1.8" fill="#9e80d6" opacity="0.9" transform="rotate(-20 437.0 200.0)"/><ellipse cx="440.0" cy="205.0" rx="3.9" ry="1.8" fill="#9e80d6" opacity="0.9" transform="rotate(-20 440.0 205.0)"/><ellipse cx="443.0" cy="209.0" rx="3.3" ry="1.7" fill="#9e80d6" opacity="0.9" transform="rotate(-20 443.0 209.0)"/><ellipse cx="416.0" cy="214.0" rx="3.3" ry="5.0" fill="#9e80d6" opacity="0.9"/><ellipse cx="421.5" cy="214.0" rx="3.1" ry="5.0" fill="#9e80d6" opacity="0.9"/><ellipse cx="446.0" cy="218.0" rx="2.2" ry="3.3" fill="#9e80d6" opacity="0.9"/><ellipse cx="449.5" cy="122.5" rx="3.9" ry="2.8" fill="#9e80d6" opacity="0.9"/><ellipse cx="463.0" cy="122.0" rx="4.4" ry="3.3" fill="#9e80d6" opacity="0.9"/><ellipse cx="452.5" cy="129.0" rx="5.1" ry="2.5" fill="#9e80d6" opacity="0.9" transform="rotate(-10 452.5 129.0)"/><ellipse cx="462.6" cy="131.0" rx="5.0" ry="3.3" fill="#9e80d6" opacity="0.9" transform="rotate(60 462.6 131.0)"/><ellipse cx="471.7" cy="138.0" rx="5.5" ry="3.9" fill="#9e80d6" opacity="0.9" transform="rotate(-30 471.7 138.0)"/><ellipse cx="462.0" cy="151.5" rx="3.3" ry="2.8" fill="#9e80d6" opacity="0.9"/><ellipse cx="510.8" cy="141.0" rx="5.5" ry="3.9" fill="#9e80d6" opacity="0.9"/><ellipse cx="463.0" cy="156.5" rx="4.0" ry="2.8" fill="#9e80d6" opacity="0.9"/><ellipse cx="496.4" cy="159.0" rx="3.3" ry="4.4" fill="#9e80d6" opacity="0.9"/><ellipse cx="512.3" cy="165.0" rx="3.9" ry="3.3" fill="#9e80d6" opacity="0.9"/><ellipse cx="509.0" cy="174.0" rx="5.1" ry="3.9" fill="#9e80d6" opacity="0.9" transform="rotate(45 509.0 174.0)"/><ellipse cx="449.5" cy="218.0" rx="3.9" ry="3.3" fill="#9e80d6" opacity="0.9"/><ellipse cx="480.0" cy="215.0" rx="2.2" ry="4.4" fill="#9e80d6" opacity="0.9"/><ellipse cx="493.0" cy="194.0" rx="5.7" ry="3.5" fill="#9e80d6" opacity="0.9" transform="rotate(-15 493.0 194.0)"/><ellipse cx="484.0" cy="215.0" rx="2.8" ry="4.4" fill="#9e80d6" opacity="0.9"/><ellipse cx="400.0" cy="160.0" rx="4.4" ry="3.3" fill="#9e80d6" opacity="0.9" transform="rotate(10 400.0 160.0)"/><ellipse cx="386.0" cy="216.0" rx="3.9" ry="3.3" fill="#9e80d6" opacity="0.9"/><ellipse cx="398.0" cy="217.0" rx="3.3" ry="3.3" fill="#9e80d6" opacity="0.9"/><ellipse cx="425.0" cy="145.0" rx="3.3" ry="3.3" fill="#9e80d6" opacity="0.9"/><ellipse cx="433.0" cy="140.0" rx="2.8" ry="3.3" fill="#9e80d6" opacity="0.9"/><ellipse cx="415.0" cy="131.5" rx="2.8" ry="3.9" fill="#8a7ad6" opacity="0.9"/><ellipse cx="458.8" cy="149.0" rx="2.8" ry="3.3" fill="#7a70d0" opacity="0.9"/><ellipse cx="499.8" cy="148.8" rx="7.7" ry="5.5" fill="#9080d8" opacity="0.9"/><ellipse cx="502.5" cy="196.7" rx="3.3" ry="2.8" fill="#6058c8" opacity="0.9"/><path d="M400.5,160.5 Q396.0,164.8 391.5,160.5" fill="none" stroke="#9e80d6" stroke-width="3.6" stroke-linecap="round" opacity="0.92"/><path d="M435.1,126.2 Q431.5,129.9 427.9,126.2" fill="none" stroke="#9e80d6" stroke-width="3.6" stroke-linecap="round" opacity="0.92"/><path d="M435.4,161.2 Q430.0,163.6 424.6,161.2" fill="none" stroke="#9e80d6" stroke-width="3.6" stroke-linecap="round" opacity="0.92"/><path d="M468.3,169.8 Q464.6,166.0 468.3,162.2" fill="none" stroke="#9e80d6" stroke-width="3.6" stroke-linecap="round" opacity="0.92"/><path d="M479.8,171.6 Q476.1,168.0 479.8,164.4" fill="none" stroke="#9e80d6" stroke-width="3.6" stroke-linecap="round" opacity="0.92"/><path d="M478.2,188.8 Q474.8,185.0 478.2,181.2" fill="none" stroke="#9e80d6" stroke-width="3.6" stroke-linecap="round" opacity="0.92"/><path d="M492.8,163.3 Q486.1,165.6 485.2,159.9" fill="none" stroke="#9e80d6" stroke-width="3.6" stroke-linecap="round" opacity="0.92"/><path d="M492.8,184.8 Q487.6,181.0 492.8,177.2" fill="none" stroke="#9e80d6" stroke-width="3.6" stroke-linecap="round" opacity="0.92"/><path d="M455.4,201.6 Q458.8,197.0 462.2,201.6" fill="none" stroke="#9e80d6" stroke-width="3.6" stroke-linecap="round" opacity="0.92"/><path d="M492.6,204.0 Q486.0,203.4 488.6,198.6" fill="none" stroke="#9e80d6" stroke-width="3.6" stroke-linecap="round" opacity="0.92"/><circle cx="417.8" cy="153.0" r="3.6" fill="#8470cc"/><circle cx="418.1" cy="153.3" r="1.8" fill="#9884d6"/><circle cx="437.5" cy="156.5" r="3" fill="#8470cc"/><circle cx="437.8" cy="156.8" r="1.5" fill="#9884d6"/><circle cx="444.0" cy="150.0" r="3" fill="#8470cc"/><circle cx="444.3" cy="150.3" r="1.5" fill="#9884d6"/><circle cx="411.3" cy="194.0" r="2.7" fill="#8470cc"/><circle cx="411.6" cy="194.3" r="1.4" fill="#9884d6"/><circle cx="476.9" cy="152.5" r="3" fill="#8470cc"/><circle cx="477.2" cy="152.8" r="1.5" fill="#9884d6"/><circle cx="513.0" cy="134.6" r="3" fill="#8470cc"/><circle cx="513.3" cy="134.9" r="1.5" fill="#9884d6"/><circle cx="462.6" cy="182.0" r="2.9" fill="#8470cc"/><circle cx="462.9" cy="182.3" r="1.4" fill="#9884d6"/><circle cx="474.7" cy="211.6" r="2.6" fill="#8470cc"/><circle cx="475.0" cy="211.9" r="1.3" fill="#9884d6"/><circle cx="382.0" cy="158.0" r="2.2" fill="#8470cc"/><circle cx="382.3" cy="158.3" r="1.1" fill="#9884d6"/><ellipse cx="401.2" cy="172.0" rx="4.0" ry="3.6" fill="#bed8f4" opacity="0.95"/><ellipse cx="401.2" cy="172.0" rx="2.3" ry="1.4" fill="#2636a8" transform="rotate(-70 401.2 172.0)"/><ellipse cx="392.3" cy="178.2" rx="4.0" ry="3.6" fill="#bed8f4" opacity="0.95"/><ellipse cx="392.3" cy="178.2" rx="2.3" ry="1.4" fill="#2636a8" transform="rotate(0 392.3 178.2)"/><ellipse cx="458.7" cy="143.0" rx="4.0" ry="3.6" fill="#bed8f4" opacity="0.95"/><ellipse cx="458.7" cy="143.0" rx="2.3" ry="1.4" fill="#2636a8" transform="rotate(50 458.7 143.0)"/><ellipse cx="488.6" cy="124.4" rx="4.5" ry="4.0" fill="#bed8f4" opacity="0.95"/><ellipse cx="488.6" cy="124.4" rx="2.6" ry="1.5" fill="#2636a8" transform="rotate(-50 488.6 124.4)"/><ellipse cx="468.5" cy="187.0" rx="4.0" ry="3.6" fill="#bed8f4" opacity="0.95"/><ellipse cx="468.5" cy="187.0" rx="2.3" ry="1.4" fill="#2636a8" transform="rotate(70 468.5 187.0)"/><ellipse cx="474.7" cy="196.5" rx="4.0" ry="3.6" fill="#bed8f4" opacity="0.95"/><ellipse cx="474.7" cy="196.5" rx="2.3" ry="1.4" fill="#2636a8" transform="rotate(0 474.7 196.5)"/><ellipse cx="461.2" cy="213.0" rx="4.0" ry="3.6" fill="#bed8f4" opacity="0.95"/><ellipse cx="461.2" cy="213.0" rx="2.3" ry="1.4" fill="#2636a8" transform="rotate(90 461.2 213.0)"/><ellipse cx="430.5" cy="207.0" rx="4.2" ry="3.8" fill="#bed8f4" opacity="0.95"/><ellipse cx="430.5" cy="207.0" rx="2.5" ry="2.0" fill="#2636a8" transform="rotate(0 430.5 207.0)"/><ellipse cx="410.5" cy="126.0" rx="2.6" ry="1.6" fill="#2a38aa" transform="rotate(30 410.5 126.0)"/><ellipse cx="391.5" cy="154.5" rx="3" ry="1.5" fill="#2a38aa"/><ellipse cx="383.3" cy="165.3" rx="2.4" ry="1.3" fill="#2a38aa" transform="rotate(60 383.3 165.3)"/><ellipse cx="380.5" cy="168.5" rx="1.2" ry="1" fill="#2a38aa"/><ellipse cx="391.7" cy="204.0" rx="2.5" ry="2" fill="#4a40b8"/><ellipse cx="403.3" cy="212.6" rx="2.6" ry="2.2" fill="#3a38b0" transform="rotate(30 403.3 212.6)"/><ellipse cx="421.5" cy="138.5" rx="2.5" ry="2.2" fill="#2a38aa"/><ellipse cx="435.5" cy="151.0" rx="2.5" ry="1.5" fill="#2a38aa"/><ellipse cx="423.0" cy="157.5" rx="2" ry="1.5" fill="#2a38aa"/><ellipse cx="446.0" cy="160.0" rx="2.2" ry="1.5" fill="#2a38aa"/><ellipse cx="443.0" cy="180.0" rx="2.5" ry="2" fill="#2a38aa" transform="rotate(30 443.0 180.0)"/><ellipse cx="430.5" cy="183.5" rx="2.5" ry="1.5" fill="#2a38aa"/><ellipse cx="414.0" cy="188.0" rx="1.5" ry="1.5" fill="#2a38aa"/><ellipse cx="434.0" cy="189.0" rx="2.6" ry="1.5" fill="#2a38aa" transform="rotate(-30 434.0 189.0)"/><ellipse cx="426.0" cy="193.7" rx="2.2" ry="1.3" fill="#2a38aa" transform="rotate(45 426.0 193.7)"/><ellipse cx="435.0" cy="215.0" rx="2.8" ry="1.6" fill="#2a38aa" transform="rotate(50 435.0 215.0)"/><ellipse cx="479.0" cy="120.0" rx="1.5" ry="2" fill="#2a38aa" transform="rotate(30 479.0 120.0)"/><ellipse cx="503.0" cy="149.8" rx="3.5" ry="2.5" fill="#3040b0" transform="rotate(30 503.0 149.8)"/><ellipse cx="505.0" cy="155.0" rx="3.5" ry="1.3" fill="#2a38aa" transform="rotate(20 505.0 155.0)"/><ellipse cx="474.5" cy="219.5" rx="1.3" ry="1.3" fill="#2a38aa"/><ellipse cx="505.5" cy="202.4" rx="1.6" ry="3" fill="#2a38aa" transform="rotate(10 505.5 202.4)"/><ellipse cx="511.0" cy="197.8" rx="1.6" ry="2.6" fill="#2a38aa" transform="rotate(-30 511.0 197.8)"/><ellipse cx="511.2" cy="206.0" rx="1.5" ry="2.6" fill="#2a38aa" transform="rotate(20 511.2 206.0)"/><path d="M421.5,138.5 L428,142" stroke="#2a38aa" stroke-width="1.6" stroke-linecap="round"/><path d="M465,141h0.8M467.5,143h0.8M466,145h0.8M468.5,140.5h0.8" stroke="#333a70" stroke-width="0.9"/></g></g><g clip-path="url(#cb)"><g filter="url(#hz)"><path d="M386,242 L390,236 L398,232 L408,231 L418,233 L428,229 L436,234 L446,239 L455,242 L460,252 L460,266 L455,276 L446,281 L432,283 L420,282 L408,279 L400,273 L394,262 L387,254Z" fill="#e6d4f4" opacity="0.75"/><path d="M480,245 L488,240 L500,238 L510,240 L518,244 L518,279 L508,281 L498,279 L490,274 L483,266 L479,256Z" fill="#e6d4f4" opacity="0.75"/><path d="M458,287 L464,280 L472,279 L482,278 L486,275 L493,276 L499,280 L500,289 L494,293 L487,296 L484,305 L476,312 L468,312 L462,307 L460,298Z" fill="#e6d4f4" opacity="0.75"/><ellipse cx="401" cy="234.5" rx="5" ry="3" fill="#f0a8d8" opacity="0.9"/><ellipse cx="413" cy="232" rx="3" ry="2.5" fill="#f0a8d8" opacity="0.9"/><ellipse cx="495" cy="242" rx="4" ry="3" fill="#f0a8d8" opacity="0.9"/><ellipse cx="471" cy="282" rx="4" ry="3" fill="#f0a8d8" opacity="0.9"/><ellipse cx="420" cy="280" rx="4" ry="3" fill="#f0a8d8" opacity="0.9"/><ellipse cx="402" cy="272" rx="3" ry="3" fill="#f0a8d8" opacity="0.9"/><ellipse cx="465" cy="281" rx="3" ry="2.5" fill="#f0a8d8" opacity="0.9"/><ellipse cx="482" cy="302" rx="3" ry="2.5" fill="#f0a8d8" opacity="0.9"/><ellipse cx="440" cy="280" rx="3" ry="2" fill="#f0a8d8" opacity="0.9"/><ellipse cx="391" cy="240" rx="3" ry="2.5" fill="#f0a8d8" opacity="0.9"/></g><g filter="url(#sb2)"><circle cx="391.0" cy="247.5" r="6.1" fill="#ccc8f2" stroke="#a8cef2" stroke-width="1.2" opacity="0.95"/><circle cx="399.5" cy="242.5" r="5.5" fill="#ccc8f2" stroke="#a8cef2" stroke-width="1.2" opacity="0.95"/><circle cx="408.6" cy="239.4" r="5.7" fill="#ccc8f2" stroke="#a8cef2" stroke-width="1.2" opacity="0.95"/><circle cx="414.9" cy="244.9" r="5.9" fill="#ccc8f2" stroke="#a8cef2" stroke-width="1.2" opacity="0.95"/><circle cx="426.6" cy="234.5" r="5.4" fill="#ccc8f2" stroke="#a8cef2" stroke-width="1.2" opacity="0.95"/><circle cx="422.7" cy="250.4" r="7.1" fill="#ccc8f2" stroke="#a8cef2" stroke-width="1.2" opacity="0.95"/><circle cx="436.8" cy="249.6" r="6.9" fill="#ccc8f2" stroke="#a8cef2" stroke-width="1.2" opacity="0.95"/><circle cx="438.4" cy="241.0" r="5.4" fill="#ccc8f2" stroke="#a8cef2" stroke-width="1.2" opacity="0.95"/><circle cx="447.8" cy="246.5" r="6.4" fill="#ccc8f2" stroke="#a8cef2" stroke-width="1.2" opacity="0.95"/><circle cx="406.3" cy="259.5" r="6.4" fill="#ccc8f2" stroke="#a8cef2" stroke-width="1.2" opacity="0.95"/><circle cx="419.0" cy="259.0" r="5.9" fill="#ccc8f2" stroke="#a8cef2" stroke-width="1.2" opacity="0.95"/><circle cx="431.3" cy="259.8" r="6.4" fill="#ecc0e4" stroke="#a8cef2" stroke-width="1.2" opacity="0.95"/><circle cx="442.3" cy="260.6" r="6.4" fill="#ccc8f2" stroke="#a8cef2" stroke-width="1.2" opacity="0.95"/><circle cx="453.3" cy="262.0" r="6.1" fill="#ccc8f2" stroke="#a8cef2" stroke-width="1.2" opacity="0.95"/><circle cx="412.5" cy="269.2" r="6.4" fill="#ccc8f2" stroke="#a8cef2" stroke-width="1.2" opacity="0.95"/><circle cx="423.5" cy="268.4" r="5.9" fill="#ccc8f2" stroke="#a8cef2" stroke-width="1.2" opacity="0.95"/><circle cx="433.0" cy="270.8" r="5.9" fill="#ccc8f2" stroke="#a8cef2" stroke-width="1.2" opacity="0.95"/><circle cx="445.5" cy="271.5" r="6.4" fill="#ccc8f2" stroke="#a8cef2" stroke-width="1.2" opacity="0.95"/><circle cx="422.0" cy="278.6" r="5.4" fill="#ecc0e4" stroke="#a8cef2" stroke-width="1.2" opacity="0.95"/><circle cx="395.0" cy="258.0" r="5.4" fill="#ccc8f2" stroke="#a8cef2" stroke-width="1.2" opacity="0.95"/><circle cx="417.7" cy="237.5" r="5.4" fill="#ccc8f2" stroke="#a8cef2" stroke-width="1.2" opacity="0.95"/><circle cx="455.0" cy="251.0" r="4.9" fill="#ccc8f2" stroke="#a8cef2" stroke-width="1.2" opacity="0.95"/><circle cx="435.0" cy="280.0" r="4.9" fill="#ecc0e4" stroke="#a8cef2" stroke-width="1.2" opacity="0.95"/><circle cx="483.9" cy="252.6" r="6.4" fill="#ccc8f2" stroke="#a8cef2" stroke-width="1.2" opacity="0.95"/><circle cx="491.4" cy="246.3" r="5.9" fill="#ccc8f2" stroke="#a8cef2" stroke-width="1.2" opacity="0.95"/><circle cx="500.2" cy="245.0" r="5.4" fill="#ecc0e4" stroke="#a8cef2" stroke-width="1.2" opacity="0.95"/><circle cx="506.0" cy="250.5" r="5.9" fill="#ccc8f2" stroke="#a8cef2" stroke-width="1.2" opacity="0.95"/><circle cx="512.7" cy="257.6" r="6.4" fill="#ccc8f2" stroke="#a8cef2" stroke-width="1.2" opacity="0.95"/><circle cx="491.4" cy="261.4" r="7.4" fill="#ccc8f2" stroke="#a8cef2" stroke-width="1.2" opacity="0.95"/><circle cx="501.4" cy="260.1" r="6.4" fill="#ccc8f2" stroke="#a8cef2" stroke-width="1.2" opacity="0.95"/><circle cx="511.5" cy="267.6" r="6.4" fill="#ccc8f2" stroke="#a8cef2" stroke-width="1.2" opacity="0.95"/><circle cx="502.7" cy="272.7" r="6.4" fill="#ccc8f2" stroke="#a8cef2" stroke-width="1.2" opacity="0.95"/><circle cx="514.0" cy="245.0" r="4.4" fill="#ccc8f2" stroke="#a8cef2" stroke-width="1.2" opacity="0.95"/><circle cx="493.0" cy="272.0" r="4.9" fill="#ccc8f2" stroke="#a8cef2" stroke-width="1.2" opacity="0.95"/><circle cx="491.4" cy="282.7" r="7.4" fill="#ccc8f2" stroke="#a8cef2" stroke-width="1.2" opacity="0.95"/><circle cx="465.0" cy="286.5" r="5.7" fill="#ccc8f2" stroke="#a8cef2" stroke-width="1.2" opacity="0.95"/><circle cx="473.8" cy="290.2" r="5.4" fill="#ccc8f2" stroke="#a8cef2" stroke-width="1.2" opacity="0.95"/><circle cx="482.6" cy="290.2" r="4.9" fill="#ccc8f2" stroke="#a8cef2" stroke-width="1.2" opacity="0.95"/><circle cx="462.5" cy="293.5" r="5.4" fill="#ccc8f2" stroke="#a8cef2" stroke-width="1.2" opacity="0.95"/><circle cx="475.1" cy="298.0" r="5.2" fill="#ccc8f2" stroke="#a8cef2" stroke-width="1.2" opacity="0.95"/><circle cx="480.1" cy="303.0" r="4.9" fill="#ecc0e4" stroke="#a8cef2" stroke-width="1.2" opacity="0.95"/><circle cx="468.8" cy="306.5" r="5.4" fill="#ccc8f2" stroke="#a8cef2" stroke-width="1.2" opacity="0.95"/><ellipse cx="390.6" cy="247.6" rx="4.3" ry="3.5" fill="#c490e4" opacity="0.85" transform="rotate(94 390.6 247.6)"/><circle cx="392.1" cy="247.5" r="1.1" fill="#b478d8" opacity="0.45"/><circle cx="390.9" cy="248.0" r="1.1" fill="#b478d8" opacity="0.45"/><circle cx="391.6" cy="247.5" r="0.9" fill="#e8d4f4" opacity="0.8"/><ellipse cx="399.6" cy="242.4" rx="3.8" ry="3.1" fill="#c080dc" opacity="0.85" transform="rotate(147 399.6 242.4)"/><circle cx="398.1" cy="242.3" r="1.0" fill="#9a52c8" opacity="0.45"/><circle cx="399.6" cy="241.7" r="1.0" fill="#9a52c8" opacity="0.45"/><circle cx="400.4" cy="241.3" r="0.8" fill="#e8d4f4" opacity="0.8"/><ellipse cx="408.6" cy="239.9" rx="3.9" ry="3.3" fill="#c080dc" opacity="0.85" transform="rotate(93 408.6 239.9)"/><circle cx="407.9" cy="240.8" r="1.1" fill="#9a52c8" opacity="0.45"/><circle cx="409.3" cy="240.4" r="1.1" fill="#9a52c8" opacity="0.45"/><circle cx="407.7" cy="238.8" r="0.9" fill="#e8d4f4" opacity="0.8"/><ellipse cx="415.2" cy="245.4" rx="4.1" ry="3.4" fill="#b66cd8" opacity="0.85" transform="rotate(46 415.2 245.4)"/><circle cx="414.3" cy="244.3" r="1.1" fill="#9a52c8" opacity="0.45"/><circle cx="414.1" cy="246.1" r="1.1" fill="#9a52c8" opacity="0.45"/><circle cx="415.7" cy="246.6" r="0.9" fill="#e8d4f4" opacity="0.8"/><ellipse cx="425.8" cy="233.9" rx="3.7" ry="3.1" fill="#b66cd8" opacity="0.85" transform="rotate(100 425.8 233.9)"/><circle cx="424.7" cy="232.4" r="1.0" fill="#9a52c8" opacity="0.45"/><circle cx="427.2" cy="234.0" r="1.0" fill="#9a52c8" opacity="0.45"/><circle cx="426.3" cy="233.0" r="0.8" fill="#e8d4f4" opacity="0.8"/><ellipse cx="422.9" cy="250.3" rx="5.1" ry="4.2" fill="#b66cd8" opacity="0.85" transform="rotate(26 422.9 250.3)"/><circle cx="421.0" cy="251.1" r="1.4" fill="#9a52c8" opacity="0.45"/><circle cx="422.4" cy="250.8" r="1.4" fill="#9a52c8" opacity="0.45"/><circle cx="422.1" cy="249.9" r="1.1" fill="#e8d4f4" opacity="0.8"/><ellipse cx="436.4" cy="249.6" rx="4.9" ry="4.1" fill="#b66cd8" opacity="0.85" transform="rotate(20 436.4 249.6)"/><circle cx="435.6" cy="247.6" r="1.3" fill="#9a52c8" opacity="0.45"/><circle cx="436.4" cy="248.0" r="1.3" fill="#9a52c8" opacity="0.45"/><circle cx="437.2" cy="250.7" r="1.1" fill="#e8d4f4" opacity="0.8"/><ellipse cx="439.2" cy="240.3" rx="3.7" ry="3.1" fill="#c490e4" opacity="0.85" transform="rotate(131 439.2 240.3)"/><circle cx="439.1" cy="241.7" r="1.0" fill="#b478d8" opacity="0.45"/><circle cx="438.9" cy="241.6" r="1.0" fill="#b478d8" opacity="0.45"/><circle cx="438.3" cy="241.5" r="0.8" fill="#e8d4f4" opacity="0.8"/><ellipse cx="447.4" cy="247.2" rx="4.5" ry="3.7" fill="#c490e4" opacity="0.85" transform="rotate(117 447.4 247.2)"/><circle cx="445.5" cy="248.5" r="1.2" fill="#b478d8" opacity="0.45"/><circle cx="448.2" cy="247.9" r="1.2" fill="#b478d8" opacity="0.45"/><circle cx="446.2" cy="248.0" r="1.0" fill="#e8d4f4" opacity="0.8"/><ellipse cx="405.6" cy="259.4" rx="4.5" ry="3.7" fill="#b66cd8" opacity="0.85" transform="rotate(63 405.6 259.4)"/><circle cx="406.7" cy="258.6" r="1.2" fill="#9a52c8" opacity="0.45"/><circle cx="407.5" cy="260.5" r="1.2" fill="#9a52c8" opacity="0.45"/><circle cx="404.6" cy="260.3" r="1.0" fill="#e8d4f4" opacity="0.8"/><ellipse cx="418.6" cy="259.0" rx="4.1" ry="3.4" fill="#b66cd8" opacity="0.85" transform="rotate(144 418.6 259.0)"/><circle cx="417.5" cy="258.3" r="1.1" fill="#9a52c8" opacity="0.45"/><circle cx="417.2" cy="258.7" r="1.1" fill="#9a52c8" opacity="0.45"/><circle cx="418.6" cy="258.9" r="0.9" fill="#e8d4f4" opacity="0.8"/><ellipse cx="430.9" cy="259.9" rx="4.5" ry="3.7" fill="#d084d4" opacity="0.85" transform="rotate(107 430.9 259.9)"/><circle cx="430.4" cy="260.0" r="1.2" fill="#b478d8" opacity="0.45"/><circle cx="430.5" cy="260.1" r="1.2" fill="#b478d8" opacity="0.45"/><circle cx="431.8" cy="261.0" r="1.0" fill="#e8d4f4" opacity="0.8"/><ellipse cx="441.7" cy="260.1" rx="4.5" ry="3.7" fill="#b66cd8" opacity="0.85" transform="rotate(138 441.7 260.1)"/><circle cx="440.2" cy="261.1" r="1.2" fill="#9a52c8" opacity="0.45"/><circle cx="442.3" cy="260.9" r="1.2" fill="#9a52c8" opacity="0.45"/><circle cx="442.6" cy="261.1" r="1.0" fill="#e8d4f4" opacity="0.8"/><ellipse cx="453.4" cy="261.4" rx="4.3" ry="3.5" fill="#c490e4" opacity="0.85" transform="rotate(71 453.4 261.4)"/><circle cx="452.7" cy="262.7" r="1.1" fill="#b478d8" opacity="0.45"/><circle cx="454.1" cy="260.9" r="1.1" fill="#b478d8" opacity="0.45"/><circle cx="452.9" cy="261.6" r="0.9" fill="#e8d4f4" opacity="0.8"/><ellipse cx="412.6" cy="268.7" rx="4.5" ry="3.7" fill="#b66cd8" opacity="0.85" transform="rotate(138 412.6 268.7)"/><circle cx="414.3" cy="268.6" r="1.2" fill="#9a52c8" opacity="0.45"/><circle cx="413.3" cy="267.6" r="1.2" fill="#9a52c8" opacity="0.45"/><circle cx="412.0" cy="268.2" r="1.0" fill="#e8d4f4" opacity="0.8"/><ellipse cx="422.9" cy="268.9" rx="4.1" ry="3.4" fill="#b66cd8" opacity="0.85" transform="rotate(169 422.9 268.9)"/><circle cx="422.5" cy="268.1" r="1.1" fill="#9a52c8" opacity="0.45"/><circle cx="421.8" cy="267.4" r="1.1" fill="#9a52c8" opacity="0.45"/><circle cx="422.2" cy="268.2" r="0.9" fill="#e8d4f4" opacity="0.8"/><ellipse cx="433.6" cy="270.3" rx="4.1" ry="3.4" fill="#c490e4" opacity="0.85" transform="rotate(29 433.6 270.3)"/><circle cx="433.8" cy="269.7" r="1.1" fill="#b478d8" opacity="0.45"/><circle cx="434.9" cy="270.5" r="1.1" fill="#b478d8" opacity="0.45"/><circle cx="433.1" cy="271.3" r="0.9" fill="#e8d4f4" opacity="0.8"/><ellipse cx="445.5" cy="271.7" rx="4.5" ry="3.7" fill="#b66cd8" opacity="0.85" transform="rotate(77 445.5 271.7)"/><circle cx="447.1" cy="270.0" r="1.2" fill="#9a52c8" opacity="0.45"/><circle cx="445.0" cy="270.6" r="1.2" fill="#9a52c8" opacity="0.45"/><circle cx="446.7" cy="272.1" r="1.0" fill="#e8d4f4" opacity="0.8"/><ellipse cx="422.1" cy="279.1" rx="3.7" ry="3.1" fill="#d084d4" opacity="0.85" transform="rotate(69 422.1 279.1)"/><circle cx="420.7" cy="280.4" r="1.0" fill="#b478d8" opacity="0.45"/><circle cx="422.8" cy="278.7" r="1.0" fill="#b478d8" opacity="0.45"/><circle cx="421.5" cy="279.9" r="0.8" fill="#e8d4f4" opacity="0.8"/><ellipse cx="395.1" cy="258.0" rx="3.7" ry="3.1" fill="#b66cd8" opacity="0.85" transform="rotate(110 395.1 258.0)"/><circle cx="395.1" cy="257.1" r="1.0" fill="#9a52c8" opacity="0.45"/><circle cx="395.7" cy="257.0" r="1.0" fill="#9a52c8" opacity="0.45"/><circle cx="395.1" cy="257.2" r="0.8" fill="#e8d4f4" opacity="0.8"/><ellipse cx="418.4" cy="238.1" rx="3.7" ry="3.1" fill="#c490e4" opacity="0.85" transform="rotate(11 418.4 238.1)"/><circle cx="416.8" cy="236.9" r="1.0" fill="#b478d8" opacity="0.45"/><circle cx="417.0" cy="237.8" r="1.0" fill="#b478d8" opacity="0.45"/><circle cx="417.5" cy="237.2" r="0.8" fill="#e8d4f4" opacity="0.8"/><ellipse cx="455.5" cy="251.6" rx="3.3" ry="2.7" fill="#c490e4" opacity="0.85" transform="rotate(48 455.5 251.6)"/><circle cx="454.8" cy="252.5" r="0.9" fill="#b478d8" opacity="0.45"/><circle cx="454.5" cy="251.4" r="0.9" fill="#b478d8" opacity="0.45"/><circle cx="456.3" cy="251.1" r="0.7" fill="#e8d4f4" opacity="0.8"/><ellipse cx="435.2" cy="279.6" rx="3.3" ry="2.7" fill="#d084d4" opacity="0.85" transform="rotate(4 435.2 279.6)"/><circle cx="433.9" cy="279.1" r="0.9" fill="#b478d8" opacity="0.45"/><circle cx="434.7" cy="278.5" r="0.9" fill="#b478d8" opacity="0.45"/><circle cx="434.4" cy="280.1" r="0.7" fill="#e8d4f4" opacity="0.8"/><ellipse cx="483.3" cy="252.3" rx="4.5" ry="3.7" fill="#c490e4" opacity="0.85" transform="rotate(65 483.3 252.3)"/><circle cx="483.1" cy="252.7" r="1.2" fill="#b478d8" opacity="0.45"/><circle cx="481.8" cy="252.0" r="1.2" fill="#b478d8" opacity="0.45"/><circle cx="482.1" cy="253.2" r="1.0" fill="#e8d4f4" opacity="0.8"/><ellipse cx="491.9" cy="246.4" rx="4.1" ry="3.4" fill="#b66cd8" opacity="0.85" transform="rotate(105 491.9 246.4)"/><circle cx="490.5" cy="246.7" r="1.1" fill="#9a52c8" opacity="0.45"/><circle cx="493.3" cy="247.9" r="1.1" fill="#9a52c8" opacity="0.45"/><circle cx="491.1" cy="247.6" r="0.9" fill="#e8d4f4" opacity="0.8"/><ellipse cx="500.9" cy="245.7" rx="3.7" ry="3.1" fill="#d084d4" opacity="0.85" transform="rotate(119 500.9 245.7)"/><circle cx="501.4" cy="246.5" r="1.0" fill="#b478d8" opacity="0.45"/><circle cx="500.4" cy="246.5" r="1.0" fill="#b478d8" opacity="0.45"/><circle cx="502.1" cy="245.0" r="0.8" fill="#e8d4f4" opacity="0.8"/><ellipse cx="506.6" cy="251.0" rx="4.1" ry="3.4" fill="#b66cd8" opacity="0.85" transform="rotate(38 506.6 251.0)"/><circle cx="505.4" cy="252.3" r="1.1" fill="#9a52c8" opacity="0.45"/><circle cx="506.6" cy="251.8" r="1.1" fill="#9a52c8" opacity="0.45"/><circle cx="505.9" cy="252.2" r="0.9" fill="#e8d4f4" opacity="0.8"/><ellipse cx="512.5" cy="257.3" rx="4.5" ry="3.7" fill="#c490e4" opacity="0.85" transform="rotate(119 512.5 257.3)"/><circle cx="511.8" cy="257.0" r="1.2" fill="#b478d8" opacity="0.45"/><circle cx="514.1" cy="256.4" r="1.2" fill="#b478d8" opacity="0.45"/><circle cx="511.9" cy="256.5" r="1.0" fill="#e8d4f4" opacity="0.8"/><ellipse cx="491.2" cy="261.2" rx="5.3" ry="4.4" fill="#b66cd8" opacity="0.85" transform="rotate(70 491.2 261.2)"/><circle cx="491.9" cy="260.4" r="1.4" fill="#9a52c8" opacity="0.45"/><circle cx="491.0" cy="261.3" r="1.4" fill="#9a52c8" opacity="0.45"/><circle cx="490.6" cy="261.9" r="1.2" fill="#e8d4f4" opacity="0.8"/><ellipse cx="500.6" cy="259.8" rx="4.5" ry="3.7" fill="#b66cd8" opacity="0.85" transform="rotate(57 500.6 259.8)"/><circle cx="501.9" cy="261.3" r="1.2" fill="#9a52c8" opacity="0.45"/><circle cx="502.4" cy="258.6" r="1.2" fill="#9a52c8" opacity="0.45"/><circle cx="500.0" cy="259.9" r="1.0" fill="#e8d4f4" opacity="0.8"/><ellipse cx="510.9" cy="267.2" rx="4.5" ry="3.7" fill="#c490e4" opacity="0.85" transform="rotate(5 510.9 267.2)"/><circle cx="509.7" cy="267.3" r="1.2" fill="#b478d8" opacity="0.45"/><circle cx="512.5" cy="265.8" r="1.2" fill="#b478d8" opacity="0.45"/><circle cx="510.8" cy="268.1" r="1.0" fill="#e8d4f4" opacity="0.8"/><ellipse cx="503.1" cy="272.3" rx="4.5" ry="3.7" fill="#b66cd8" opacity="0.85" transform="rotate(63 503.1 272.3)"/><circle cx="502.9" cy="273.1" r="1.2" fill="#9a52c8" opacity="0.45"/><circle cx="502.8" cy="271.2" r="1.2" fill="#9a52c8" opacity="0.45"/><circle cx="502.7" cy="272.2" r="1.0" fill="#e8d4f4" opacity="0.8"/><ellipse cx="513.8" cy="245.5" rx="2.9" ry="2.4" fill="#b66cd8" opacity="0.85" transform="rotate(175 513.8 245.5)"/><circle cx="513.5" cy="245.4" r="0.8" fill="#9a52c8" opacity="0.45"/><circle cx="513.2" cy="245.3" r="0.8" fill="#9a52c8" opacity="0.45"/><circle cx="512.7" cy="244.5" r="0.6" fill="#e8d4f4" opacity="0.8"/><ellipse cx="492.7" cy="272.6" rx="3.3" ry="2.7" fill="#b66cd8" opacity="0.85" transform="rotate(148 492.7 272.6)"/><circle cx="493.9" cy="272.6" r="0.9" fill="#9a52c8" opacity="0.45"/><circle cx="492.7" cy="273.7" r="0.9" fill="#9a52c8" opacity="0.45"/><circle cx="493.8" cy="273.7" r="0.7" fill="#e8d4f4" opacity="0.8"/><ellipse cx="491.7" cy="283.1" rx="5.3" ry="4.4" fill="#c490e4" opacity="0.85" transform="rotate(90 491.7 283.1)"/><circle cx="493.6" cy="284.6" r="1.4" fill="#b478d8" opacity="0.45"/><circle cx="489.7" cy="283.5" r="1.4" fill="#b478d8" opacity="0.45"/><circle cx="492.6" cy="283.9" r="1.2" fill="#e8d4f4" opacity="0.8"/><ellipse cx="465.5" cy="286.9" rx="3.9" ry="3.3" fill="#b66cd8" opacity="0.85" transform="rotate(122 465.5 286.9)"/><circle cx="466.3" cy="287.5" r="1.1" fill="#9a52c8" opacity="0.45"/><circle cx="466.2" cy="286.3" r="1.1" fill="#9a52c8" opacity="0.45"/><circle cx="466.4" cy="287.3" r="0.9" fill="#e8d4f4" opacity="0.8"/><ellipse cx="473.1" cy="290.4" rx="3.7" ry="3.1" fill="#b66cd8" opacity="0.85" transform="rotate(149 473.1 290.4)"/><circle cx="471.7" cy="292.0" r="1.0" fill="#9a52c8" opacity="0.45"/><circle cx="473.4" cy="289.2" r="1.0" fill="#9a52c8" opacity="0.45"/><circle cx="473.5" cy="290.6" r="0.8" fill="#e8d4f4" opacity="0.8"/><ellipse cx="482.3" cy="290.3" rx="3.3" ry="2.7" fill="#b66cd8" opacity="0.85" transform="rotate(119 482.3 290.3)"/><circle cx="481.9" cy="291.2" r="0.9" fill="#9a52c8" opacity="0.45"/><circle cx="483.2" cy="291.1" r="0.9" fill="#9a52c8" opacity="0.45"/><circle cx="482.8" cy="290.5" r="0.7" fill="#e8d4f4" opacity="0.8"/><ellipse cx="461.8" cy="294.1" rx="3.7" ry="3.1" fill="#c490e4" opacity="0.85" transform="rotate(157 461.8 294.1)"/><circle cx="461.2" cy="295.2" r="1.0" fill="#b478d8" opacity="0.45"/><circle cx="461.3" cy="294.7" r="1.0" fill="#b478d8" opacity="0.45"/><circle cx="462.6" cy="294.9" r="0.8" fill="#e8d4f4" opacity="0.8"/><ellipse cx="474.9" cy="297.5" rx="3.5" ry="2.9" fill="#b66cd8" opacity="0.85" transform="rotate(81 474.9 297.5)"/><circle cx="474.2" cy="296.0" r="0.9" fill="#9a52c8" opacity="0.45"/><circle cx="474.5" cy="298.6" r="0.9" fill="#9a52c8" opacity="0.45"/><circle cx="474.3" cy="297.1" r="0.8" fill="#e8d4f4" opacity="0.8"/><ellipse cx="480.5" cy="302.4" rx="3.3" ry="2.7" fill="#d084d4" opacity="0.85" transform="rotate(135 480.5 302.4)"/><circle cx="481.5" cy="303.7" r="0.9" fill="#b478d8" opacity="0.45"/><circle cx="480.3" cy="303.1" r="0.9" fill="#b478d8" opacity="0.45"/><circle cx="480.2" cy="301.8" r="0.7" fill="#e8d4f4" opacity="0.8"/><ellipse cx="468.9" cy="306.2" rx="3.7" ry="3.1" fill="#b66cd8" opacity="0.85" transform="rotate(125 468.9 306.2)"/><circle cx="469.2" cy="305.1" r="1.0" fill="#9a52c8" opacity="0.45"/><circle cx="467.4" cy="306.2" r="1.0" fill="#9a52c8" opacity="0.45"/><circle cx="467.8" cy="307.0" r="0.8" fill="#e8d4f4" opacity="0.8"/><ellipse cx="399.5" cy="242.5" rx="1.5" ry="3.6" fill="#8a3cbc" transform="rotate(-10 399.5 242.5)"/><ellipse cx="408.6" cy="239" rx="1.5" ry="3.2" fill="#8a3cbc" transform="rotate(15 408.6 239)"/><ellipse cx="399.2" cy="263" rx="1.2" ry="0.9" fill="#333"/></g></g>
<line x1="379.7" y1="118.4" x2="517.4" y2="118.4" stroke="#999" stroke-width="0.8"/>
<rect x="380.4" y="221.1" width="137" height="102.5" fill="none" stroke="#666" stroke-width="1"/>
<line x1="380.4" y1="221.1" x2="517.4" y2="221.1" stroke="#555" stroke-width="1.2"/>
<line x1="517.4" y1="118.4" x2="517.4" y2="221.1" stroke="#666" stroke-width="1"/>
<rect x="387.1" y="316.6" width="8.9" height="2" fill="#111"/>
<text transform="translate(373.0,170.5) rotate(-90)" text-anchor="middle" class="ax9" style="font-size:9.3px" textLength="60.3" lengthAdjust="spacingAndGlyphs">No Irradiation</text>
<text transform="translate(372.7,269.6) rotate(-90)" text-anchor="middle" class="ax9" style="font-size:10px" textLength="59.4" lengthAdjust="spacingAndGlyphs">20 Gy, Day 7</text>
</svg></body></html>
